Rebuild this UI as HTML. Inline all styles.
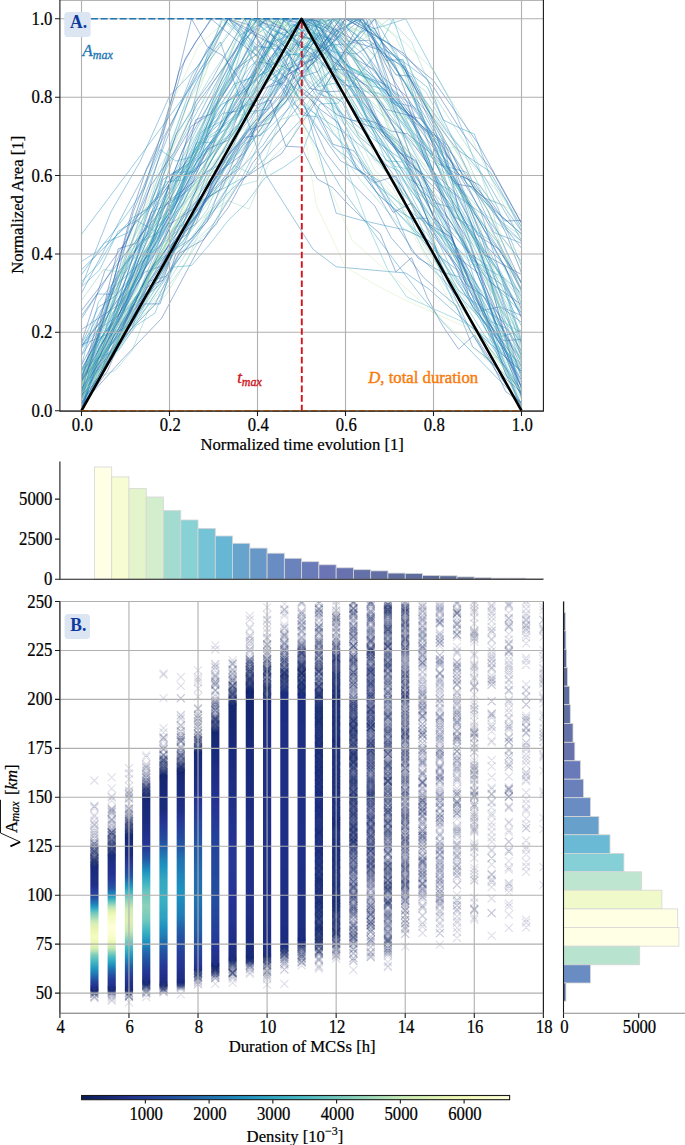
<!DOCTYPE html>
<html><head><meta charset="utf-8"><style>
html,body{margin:0;padding:0;background:#fff;}
body{width:685px;height:1145px;overflow:hidden;}
svg{display:block;font-family:"Liberation Serif", serif;}
text[fill="#000"],text:not([fill]){stroke:#000;stroke-width:0.22px;}
</style></head><body>
<svg width="685" height="1145" viewBox="0 0 685 1145">
<rect width="685" height="1145" fill="#fff"/>
<clipPath id="clipA"><rect x="59.9" y="-0.8" width="483.50" height="411.90"/></clipPath>
<g fill="none" stroke-width="0.55" stroke-opacity="0.8" stroke-linejoin="round" clip-path="url(#clipA)"><path d="M81.5 344.8L118.2 329.9L154.8 262.7L191.5 238.5L228.2 192.5L264.8 159.0L301.5 119.0L338.2 67.2L374.8 18.8L411.5 80.6L448.2 133.5L484.8 177.3L521.5 240.3" stroke="#1f7db6"/><path d="M81.5 410.2L118.2 303.4L154.8 187.2L191.5 85.8L228.2 18.8L264.8 66.8L301.5 99.4L338.2 139.1L374.8 190.6L411.5 226.2L448.2 264.9L484.8 318.7L521.5 367.1" stroke="#2da2c2"/><path d="M81.5 379.5L102.5 335.9L123.4 307.6L144.4 251.1L165.3 218.9L186.3 184.7L207.2 152.1L228.2 114.4L249.1 103.1L270.1 57.7L291.0 32.4L312.0 18.8L332.9 33.0L353.9 58.0L374.8 70.1L395.8 102.3L416.7 121.0L437.7 140.7L458.6 174.3L479.6 185.2L500.5 215.1L521.5 234.1" stroke="#2260a9"/><path d="M81.5 382.6L125.5 255.6L169.5 162.1L213.5 81.5L257.5 18.8L301.5 45.9L345.5 119.5L389.5 162.6L433.5 220.3L477.5 313.3L521.5 373.6" stroke="#2fa4c2"/><path d="M81.5 355.5L118.2 299.2L154.8 245.0L191.5 174.1L228.2 118.0L264.8 65.2L301.5 18.8L338.2 36.7L374.8 72.1L411.5 118.1L448.2 167.8L484.8 230.7L521.5 282.0" stroke="#2259a6"/><path d="M81.5 404.9L121.5 360.2L161.5 318.5L201.5 243.2L241.5 179.6L281.5 153.7L321.5 93.7L361.5 18.8L401.5 63.9L441.5 134.8L481.5 237.7L521.5 357.6" stroke="#2258a5"/><path d="M81.5 378.6L118.2 334.3L154.8 267.0L191.5 208.8L228.2 141.8L264.8 83.1L301.5 18.8L338.2 65.0L374.8 107.9L411.5 143.7L448.2 175.7L484.8 214.2L521.5 241.4" stroke="#5bc0c0"/><path d="M81.5 394.4L109.0 354.0L136.5 319.3L164.0 274.2L191.5 204.1L219.0 167.5L246.5 109.7L274.0 56.6L301.5 18.8L329.0 48.3L356.5 87.8L384.0 130.3L411.5 176.1L439.0 226.4L466.5 275.6L494.0 340.2L521.5 379.9" stroke="#2b9fc2"/><path d="M81.5 397.1L121.5 327.2L161.5 253.2L201.5 188.0L241.5 116.9L281.5 62.8L321.5 18.8L361.5 48.9L401.5 68.0L441.5 134.7L481.5 199.0L521.5 269.6" stroke="#cfecb3"/><path d="M81.5 402.3L103.5 358.6L125.5 296.2L147.5 259.6L169.5 183.0L191.5 166.6L213.5 107.6L235.5 69.1L257.5 53.8L279.5 18.8L301.5 23.7L323.5 46.7L345.5 69.5L367.5 86.4L389.5 117.5L411.5 141.5L433.5 172.1L455.5 193.1L477.5 235.1L499.5 249.4L521.5 290.5" stroke="#2350a1"/><path d="M81.5 365.3L100.6 328.1L119.8 314.2L138.9 258.8L158.0 236.4L177.2 201.6L196.3 177.5L215.4 148.3L234.5 115.1L253.7 73.4L272.8 41.7L291.9 34.8L311.1 18.8L330.2 37.8L349.3 76.1L368.5 86.3L387.6 114.6L406.7 155.3L425.8 184.2L445.0 218.7L464.1 269.5L483.2 314.6L502.4 344.9L521.5 387.2" stroke="#225da8"/><path d="M81.5 377.5L97.2 342.1L112.9 322.4L128.6 281.1L144.4 238.9L160.1 219.0L175.8 201.4L191.5 161.6L207.2 127.6L222.9 107.9L238.6 89.6L254.4 46.6L270.1 47.9L285.8 18.8L301.5 53.7L317.2 93.0L332.9 99.5L348.6 133.3L364.4 171.7L380.1 181.3L395.8 214.5L411.5 251.0L427.2 264.1L442.9 279.1L458.6 298.8L474.4 325.5L490.1 348.9L505.8 367.5L521.5 395.4" stroke="#1f7ab5"/><path d="M81.5 399.7L99.8 364.3L118.2 319.3L136.5 287.8L154.8 243.9L173.2 216.1L191.5 173.4L209.8 156.5L228.2 100.4L246.5 87.4L264.8 70.5L283.2 36.3L301.5 18.8L319.8 27.5L338.2 52.1L356.5 53.9L374.8 42.5L393.2 102.1L411.5 106.3L429.8 130.7L448.2 145.9L466.5 183.3L484.8 198.2L503.2 205.3L521.5 231.2" stroke="#1f80b8"/><path d="M81.5 391.7L102.5 366.4L123.4 333.3L144.4 313.9L165.3 295.8L186.3 261.7L207.2 214.8L228.2 200.5L249.1 209.2L270.1 159.9L291.0 139.5L312.0 99.5L332.9 78.8L353.9 32.4L374.8 18.8L395.8 37.1L416.7 82.0L437.7 129.9L458.6 177.8L479.6 225.0L500.5 290.7L521.5 360.7" stroke="#97d6b9"/><path d="M81.5 269.7L121.5 230.8L161.5 194.7L201.5 140.8L241.5 102.8L281.5 59.9L321.5 18.8L361.5 58.4L401.5 117.0L441.5 189.9L481.5 283.7L521.5 394.5" stroke="#216bae"/><path d="M81.5 348.5L105.9 320.1L130.4 259.3L154.8 222.2L179.3 169.5L203.7 121.3L228.2 76.5L252.6 18.8L277.1 40.2L301.5 59.6L325.9 89.9L350.4 128.6L374.8 159.7L399.3 171.3L423.7 219.7L448.2 243.4L472.6 282.4L497.1 325.1L521.5 361.6" stroke="#299dc1"/><path d="M81.5 410.7L97.2 361.7L112.9 341.9L128.6 305.4L144.4 285.4L160.1 250.3L175.8 212.3L191.5 195.4L207.2 167.6L222.9 141.3L238.6 124.4L254.4 87.2L270.1 68.1L285.8 48.6L301.5 18.8L317.2 35.4L332.9 43.8L348.6 68.6L364.4 91.4L380.1 93.3L395.8 116.9L411.5 134.3L427.2 160.2L442.9 186.9L458.6 210.2L474.4 230.0L490.1 240.6L505.8 269.1L521.5 304.4" stroke="#2da2c2"/><path d="M81.5 372.5L118.2 321.4L154.8 237.3L191.5 163.6L228.2 135.7L264.8 51.3L301.5 18.8L338.2 73.4L374.8 123.3L411.5 187.8L448.2 218.2L484.8 279.8L521.5 345.5" stroke="#32a6c2"/><path d="M81.5 392.1L102.5 317.8L123.4 265.7L144.4 205.0L165.3 136.9L186.3 92.6L207.2 49.2L228.2 18.8L249.1 24.8L270.1 58.7L291.0 84.7L312.0 100.4L332.9 144.2L353.9 150.8L374.8 182.6L395.8 175.9L416.7 213.4L437.7 241.6L458.6 267.7L479.6 311.1L500.5 306.7L521.5 322.3" stroke="#2259a6"/><path d="M81.5 390.0L101.5 349.9L121.5 300.1L141.5 277.9L161.5 221.7L181.5 171.6L201.5 149.9L221.5 89.5L241.5 61.2L261.5 18.8L281.5 26.2L301.5 46.2L321.5 51.7L341.5 84.5L361.5 88.3L381.5 129.4L401.5 148.1L421.5 186.6L441.5 216.8L461.5 238.4L481.5 283.3L501.5 327.0L521.5 374.6" stroke="#2072b1"/><path d="M81.5 398.7L98.4 368.0L115.3 346.3L132.3 303.4L149.2 273.4L166.1 249.8L183.0 214.0L200.0 197.9L216.9 169.6L233.8 138.7L250.7 118.1L267.7 87.2L284.6 82.4L301.5 38.6L318.4 39.2L335.3 18.8L352.3 40.8L369.2 40.3L386.1 55.0L403.0 80.2L420.0 108.3L436.9 157.1L453.8 180.6L470.7 209.8L487.7 247.5L504.6 264.9L521.5 309.6" stroke="#2356a4"/><path d="M81.5 318.7L97.2 293.9L112.9 294.3L128.6 266.8L144.4 239.9L160.1 231.9L175.8 203.8L191.5 169.2L207.2 147.0L222.9 125.6L238.6 112.6L254.4 92.5L270.1 58.7L285.8 47.7L301.5 18.8L317.2 20.7L332.9 49.5L348.6 66.2L364.4 75.8L380.1 85.6L395.8 101.8L411.5 119.9L427.2 131.9L442.9 166.0L458.6 175.2L474.4 182.1L490.1 207.3L505.8 226.7L521.5 241.4" stroke="#2076b3"/><path d="M81.5 380.2L101.5 361.0L121.5 321.7L141.5 295.6L161.5 247.4L181.5 230.1L201.5 173.8L221.5 144.0L241.5 128.3L261.5 63.0L281.5 18.8L301.5 38.1L321.5 41.1L341.5 86.6L361.5 92.8L381.5 135.1L401.5 144.0L421.5 192.4L441.5 229.8L461.5 235.0L481.5 251.0L501.5 309.3L521.5 331.3" stroke="#bde5b5"/><path d="M81.5 398.8L121.5 336.4L161.5 236.2L201.5 163.7L241.5 124.7L281.5 45.0L321.5 18.8L361.5 67.1L401.5 98.5L441.5 154.9L481.5 199.2L521.5 233.8" stroke="#1e8bbd"/><path d="M81.5 381.5L110.8 328.2L140.2 293.1L169.5 224.4L198.8 205.0L228.2 156.4L257.5 117.9L286.8 69.0L316.2 57.9L345.5 18.8L374.8 34.8L404.2 53.8L433.5 86.9L462.8 133.3L492.2 170.6L521.5 223.7" stroke="#2352a3"/><path d="M81.5 410.7L115.3 342.3L149.2 270.9L183.0 241.7L216.9 181.3L250.7 121.8L284.6 61.7L318.4 18.8L352.3 91.0L386.1 149.3L420.0 223.7L453.8 302.9L487.7 360.0L521.5 388.6" stroke="#2296c1"/><path d="M81.5 389.6L99.8 323.3L118.2 292.0L136.5 228.8L154.8 202.2L173.2 142.8L191.5 109.3L209.8 77.5L228.2 49.6L246.5 18.8L264.8 42.0L283.2 39.9L301.5 55.8L319.8 63.7L338.2 99.6L356.5 94.9L374.8 134.9L393.2 166.0L411.5 169.6L429.8 193.8L448.2 237.6L466.5 272.5L484.8 294.7L503.2 331.8L521.5 360.5" stroke="#65c3bf"/><path d="M81.5 392.4L110.8 355.4L140.2 304.9L169.5 240.2L198.8 214.3L228.2 178.4L257.5 120.1L286.8 101.3L316.2 77.6L345.5 33.4L374.8 18.8L404.2 42.0L433.5 70.2L462.8 120.2L492.2 180.7L521.5 241.6" stroke="#a9ddb7"/><path d="M81.5 379.6L102.5 359.2L123.4 337.6L144.4 289.3L165.3 255.8L186.3 222.3L207.2 199.6L228.2 160.1L249.1 129.6L270.1 122.6L291.0 74.3L312.0 59.7L332.9 42.6L353.9 18.8L374.8 28.8L395.8 66.5L416.7 121.9L437.7 138.4L458.6 173.8L479.6 208.2L500.5 245.9L521.5 289.2" stroke="#234fa1"/><path d="M81.5 315.8L99.1 291.3L116.7 261.0L134.3 223.1L151.9 205.5L169.5 180.5L187.1 162.0L204.7 139.0L222.3 113.4L239.9 110.8L257.5 61.8L275.1 64.7L292.7 46.7L310.3 18.8L327.9 18.8L345.5 56.8L363.1 92.9L380.7 129.8L398.3 141.8L415.9 159.2L433.5 202.5L451.1 207.6L468.7 253.2L486.3 273.5L503.9 286.1L521.5 313.4" stroke="#2070b0"/><path d="M81.5 345.8L99.8 322.1L118.2 248.8L136.5 243.1L154.8 212.9L173.2 158.1L191.5 126.2L209.8 114.3L228.2 86.3L246.5 53.0L264.8 18.8L283.2 57.6L301.5 90.0L319.8 109.0L338.2 122.6L356.5 168.2L374.8 182.0L393.2 212.4L411.5 203.1L429.8 226.9L448.2 254.9L466.5 284.3L484.8 297.3L503.2 340.6L521.5 339.4" stroke="#234fa1"/><path d="M81.5 286.5L110.8 212.2L140.2 161.4L169.5 96.1L198.8 65.1L228.2 18.8L257.5 45.7L286.8 51.0L316.2 95.8L345.5 133.4L374.8 157.3L404.2 194.8L433.5 230.3L462.8 274.6L492.2 306.1L521.5 342.3" stroke="#1e83ba"/><path d="M81.5 384.6L125.5 307.8L169.5 204.1L213.5 99.2L257.5 18.8L301.5 52.5L345.5 96.6L389.5 149.4L433.5 225.2L477.5 293.2L521.5 367.8" stroke="#a9ddb7"/><path d="M81.5 388.7L107.4 308.9L133.3 248.9L159.1 166.9L185.0 128.2L210.9 58.6L236.8 18.8L262.7 18.8L288.6 25.9L314.4 46.5L340.3 66.2L366.2 89.2L392.1 103.8L418.0 147.1L443.9 167.7L469.7 206.4L495.6 239.4L521.5 282.2" stroke="#a7dcb7"/><path d="M81.5 341.0L121.5 304.5L161.5 231.4L201.5 179.3L241.5 99.1L281.5 18.8L321.5 56.8L361.5 92.2L401.5 129.9L441.5 192.4L481.5 254.5L521.5 308.2" stroke="#87d0ba"/><path d="M81.5 365.0L98.4 302.3L115.3 279.9L132.3 255.5L149.2 228.3L166.1 178.8L183.0 166.5L200.0 137.8L216.9 97.7L233.8 73.9L250.7 18.8L267.7 32.0L284.6 42.8L301.5 58.2L318.4 86.7L335.3 83.0L352.3 120.3L369.2 121.5L386.1 160.8L403.0 162.0L420.0 190.7L436.9 202.0L453.8 226.8L470.7 259.1L487.7 269.2L504.6 278.4L521.5 293.2" stroke="#299dc1"/><path d="M81.5 378.7L97.8 321.4L114.1 279.2L130.4 216.7L146.7 168.5L163.0 132.5L179.3 70.7L195.6 41.9L211.9 18.8L228.2 18.8L244.5 29.2L260.8 38.3L277.1 45.6L293.4 60.3L309.6 88.3L325.9 91.8L342.2 91.0L358.5 117.7L374.8 122.4L391.1 131.0L407.4 133.8L423.7 147.0L440.0 162.5L456.3 184.1L472.6 186.9L488.9 202.6L505.2 221.0L521.5 220.4" stroke="#234fa1"/><path d="M81.5 390.4L110.8 342.4L140.2 288.4L169.5 244.3L198.8 159.4L228.2 131.9L257.5 84.8L286.8 38.4L316.2 18.8L345.5 64.6L374.8 123.3L404.2 149.8L433.5 193.5L462.8 223.0L492.2 262.2L521.5 311.4" stroke="#7acbbc"/><path d="M81.5 395.6L101.5 344.7L121.5 299.8L141.5 245.5L161.5 205.4L181.5 171.2L201.5 127.5L221.5 80.1L241.5 45.7L261.5 18.8L281.5 18.8L301.5 34.9L321.5 45.3L341.5 72.3L361.5 87.5L381.5 103.6L401.5 129.9L421.5 165.7L441.5 193.1L461.5 230.8L481.5 284.7L501.5 336.5L521.5 330.4" stroke="#1e8abd"/><path d="M81.5 410.7L112.9 349.0L144.4 303.2L175.8 246.6L207.2 203.8L238.6 132.7L270.1 114.3L301.5 71.4L332.9 18.8L364.4 34.3L395.8 79.9L427.2 105.5L458.6 155.6L490.1 199.0L521.5 215.4" stroke="#bde5b5"/><path d="M81.5 394.3L104.7 371.0L127.8 317.9L151.0 281.5L174.1 244.1L197.3 209.6L220.4 177.0L243.6 137.6L266.8 110.8L289.9 81.3L313.1 63.1L336.2 31.2L359.4 18.8L382.6 55.1L405.7 67.2L428.9 119.3L452.0 163.7L475.2 235.7L498.3 304.9L521.5 378.7" stroke="#2168ad"/><path d="M81.5 392.8L100.6 354.6L119.8 313.2L138.9 272.5L158.0 230.1L177.2 201.4L196.3 142.9L215.4 142.0L234.5 98.3L253.7 72.3L272.8 45.7L291.9 18.8L311.1 18.8L330.2 48.9L349.3 67.1L368.5 75.3L387.6 99.6L406.7 112.0L425.8 146.3L445.0 180.8L464.1 214.7L483.2 240.4L502.4 275.3L521.5 318.3" stroke="#2094c0"/><path d="M81.5 409.6L103.5 360.9L125.5 303.8L147.5 250.3L169.5 208.2L191.5 161.9L213.5 109.7L235.5 76.3L257.5 52.8L279.5 18.8L301.5 30.1L323.5 35.2L345.5 64.3L367.5 77.8L389.5 96.5L411.5 132.2L433.5 173.9L455.5 208.4L477.5 242.3L499.5 282.8L521.5 326.3" stroke="#2ca1c2"/><path d="M81.5 383.5L112.9 313.1L144.4 247.0L175.8 182.6L207.2 137.4L238.6 116.2L270.1 49.7L301.5 18.8L332.9 30.1L364.4 71.4L395.8 100.3L427.2 160.0L458.6 216.4L490.1 280.0L521.5 364.3" stroke="#2b9fc2"/><path d="M81.5 398.5L118.2 339.5L154.8 290.5L191.5 227.6L228.2 194.7L264.8 126.7L301.5 85.4L338.2 18.8L374.8 96.4L411.5 174.0L448.2 245.6L484.8 312.6L521.5 366.9" stroke="#9cd8b8"/><path d="M81.5 384.6L99.1 326.5L116.7 291.7L134.3 233.2L151.9 189.5L169.5 159.8L187.1 105.0L204.7 74.9L222.3 26.7L239.9 18.8L257.5 25.2L275.1 66.0L292.7 66.4L310.3 100.3L327.9 122.9L345.5 141.9L363.1 163.1L380.7 180.8L398.3 200.1L415.9 240.2L433.5 270.2L451.1 304.7L468.7 307.3L486.3 319.7L503.9 345.3L521.5 369.9" stroke="#cdebb4"/><path d="M81.5 404.3L97.8 367.0L114.1 324.6L130.4 291.4L146.7 254.7L163.0 210.5L179.3 183.2L195.6 119.8L211.9 113.6L228.2 87.1L244.5 60.4L260.8 43.0L277.1 18.8L293.4 38.7L309.6 54.4L325.9 92.1L342.2 101.9L358.5 136.0L374.8 150.0L391.1 171.3L407.4 195.2L423.7 221.1L440.0 256.7L456.3 269.2L472.6 307.0L488.9 326.8L505.2 350.6L521.5 386.4" stroke="#225ca7"/><path d="M81.5 395.6L110.8 315.0L140.2 199.4L169.5 108.5L198.8 45.1L228.2 18.8L257.5 29.2L286.8 46.7L316.2 71.5L345.5 112.8L374.8 161.5L404.2 189.0L433.5 237.8L462.8 306.1L492.2 353.0L521.5 406.2" stroke="#bbe4b5"/><path d="M81.5 377.2L102.5 326.3L123.4 299.4L144.4 257.1L165.3 204.0L186.3 166.0L207.2 139.7L228.2 103.5L249.1 86.3L270.1 48.5L291.0 39.2L312.0 18.8L332.9 62.0L353.9 104.2L374.8 156.7L395.8 183.2L416.7 210.4L437.7 250.6L458.6 290.0L479.6 319.2L500.5 353.0L521.5 387.4" stroke="#a0dab8"/><path d="M81.5 410.7L112.9 304.9L144.4 243.5L175.8 171.2L207.2 108.2L238.6 35.7L270.1 18.8L301.5 81.1L332.9 132.2L364.4 168.1L395.8 206.2L427.2 233.5L458.6 290.8L490.1 313.4L521.5 332.9" stroke="#2a9ec1"/><path d="M81.5 281.8L98.4 264.2L115.3 236.8L132.3 217.8L149.2 207.9L166.1 181.8L183.0 180.0L200.0 133.6L216.9 119.8L233.8 89.4L250.7 66.0L267.7 52.3L284.6 18.8L301.5 30.3L318.4 48.9L335.3 44.2L352.3 56.7L369.2 85.1L386.1 90.0L403.0 118.2L420.0 140.3L436.9 178.3L453.8 216.5L470.7 226.2L487.7 261.4L504.6 303.3L521.5 343.6" stroke="#2195c0"/><path d="M81.5 409.5L115.3 343.6L149.2 273.3L183.0 224.3L216.9 135.2L250.7 75.8L284.6 18.8L318.4 18.8L352.3 58.1L386.1 109.4L420.0 118.5L453.8 156.2L487.7 210.2L521.5 283.7" stroke="#225aa6"/><path d="M81.5 347.4L104.7 316.1L127.8 287.5L151.0 212.6L174.1 200.6L197.3 149.6L220.4 105.2L243.6 92.4L266.8 69.6L289.9 25.8L313.1 18.8L336.2 72.2L359.4 111.4L382.6 145.0L405.7 172.4L428.9 221.9L452.0 252.2L475.2 281.7L498.3 322.9L521.5 359.2" stroke="#1f7ab5"/><path d="M81.5 380.3L107.4 346.2L133.3 306.3L159.1 285.3L185.0 250.5L210.9 216.4L236.8 171.9L262.7 145.6L288.6 107.9L314.4 55.9L340.3 18.8L366.2 54.0L392.1 101.8L418.0 121.2L443.9 153.1L469.7 181.7L495.6 215.6L521.5 248.2" stroke="#216daf"/><path d="M81.5 378.4L109.0 334.1L136.5 290.2L164.0 216.5L191.5 169.3L219.0 131.9L246.5 86.0L274.0 18.8L301.5 41.6L329.0 55.0L356.5 71.5L384.0 92.7L411.5 139.8L439.0 158.8L466.5 196.9L494.0 249.0L521.5 299.8" stroke="#59bfc0"/><path d="M81.5 286.9L99.8 269.7L118.2 231.2L136.5 220.5L154.8 231.0L173.2 172.4L191.5 171.8L209.8 137.3L228.2 128.5L246.5 102.9L264.8 80.6L283.2 66.1L301.5 58.2L319.8 21.2L338.2 18.8L356.5 35.8L374.8 56.1L393.2 98.8L411.5 114.0L429.8 167.8L448.2 209.1L466.5 254.3L484.8 312.6L503.2 364.5L521.5 404.1" stroke="#2498c1"/><path d="M81.5 394.8L97.8 381.2L114.1 334.1L130.4 324.2L146.7 287.1L163.0 280.2L179.3 235.1L195.6 224.1L211.9 184.1L228.2 154.8L244.5 137.3L260.8 135.4L277.1 112.2L293.4 91.3L309.6 58.8L325.9 43.7L342.2 29.3L358.5 18.8L374.8 42.0L391.1 75.3L407.4 102.8L423.7 156.1L440.0 193.3L456.3 251.7L472.6 288.6L488.9 325.6L505.2 372.9L521.5 404.5" stroke="#234fa1"/><path d="M81.5 395.3L100.6 365.8L119.8 335.2L138.9 301.7L158.0 278.4L177.2 248.3L196.3 205.6L215.4 192.9L234.5 157.8L253.7 137.1L272.8 115.0L291.9 89.4L311.1 68.0L330.2 38.0L349.3 18.8L368.5 35.8L387.6 41.5L406.7 76.5L425.8 91.6L445.0 127.2L464.1 152.1L483.2 196.3L502.4 222.8L521.5 235.8" stroke="#6bc6be"/><path d="M81.5 397.4L121.5 347.0L161.5 283.4L201.5 222.4L241.5 157.1L281.5 100.2L321.5 18.8L361.5 67.2L401.5 142.0L441.5 202.0L481.5 270.0L521.5 347.4" stroke="#90d4b9"/><path d="M81.5 393.2L99.1 357.6L116.7 328.2L134.3 285.5L151.9 252.5L169.5 219.4L187.1 174.9L204.7 161.3L222.3 124.9L239.9 97.3L257.5 77.4L275.1 62.4L292.7 26.6L310.3 18.8L327.9 57.2L345.5 91.2L363.1 123.4L380.7 162.6L398.3 182.9L415.9 230.9L433.5 245.1L451.1 286.9L468.7 305.9L486.3 325.2L503.9 361.8L521.5 391.8" stroke="#1f93c0"/><path d="M81.5 408.9L100.6 349.5L119.8 323.4L138.9 267.0L158.0 241.0L177.2 176.4L196.3 171.3L215.4 112.0L234.5 83.7L253.7 76.9L272.8 38.7L291.9 18.8L311.1 25.3L330.2 71.7L349.3 87.3L368.5 120.9L387.6 149.4L406.7 177.6L425.8 189.1L445.0 237.9L464.1 276.4L483.2 313.7L502.4 342.4L521.5 380.5" stroke="#1e83ba"/><path d="M81.5 375.7L107.4 326.3L133.3 272.5L159.1 232.0L185.0 179.7L210.9 130.3L236.8 83.0L262.7 18.8L288.6 19.0L314.4 44.0L340.3 54.0L366.2 115.4L392.1 142.5L418.0 163.9L443.9 219.6L469.7 280.7L495.6 328.4L521.5 383.4" stroke="#1d8dbe"/><path d="M81.5 409.3L98.4 377.4L115.3 370.4L132.3 350.2L149.2 308.0L166.1 289.1L183.0 266.2L200.0 239.3L216.9 224.2L233.8 165.5L250.7 173.5L267.7 142.5L284.6 124.1L301.5 87.4L318.4 41.0L335.3 18.8L352.3 50.8L369.2 89.7L386.1 97.3L403.0 137.6L420.0 174.9L436.9 181.9L453.8 215.5L470.7 230.4L487.7 257.3L504.6 278.8L521.5 302.1" stroke="#6dc6be"/><path d="M81.5 385.7L99.1 337.7L116.7 274.0L134.3 253.2L151.9 211.3L169.5 183.4L187.1 139.6L204.7 104.4L222.3 71.5L239.9 41.8L257.5 18.8L275.1 31.2L292.7 37.6L310.3 48.6L327.9 68.6L345.5 70.0L363.1 102.5L380.7 123.3L398.3 152.1L415.9 160.5L433.5 202.1L451.1 232.1L468.7 252.4L486.3 265.4L503.9 308.1L521.5 315.5" stroke="#216daf"/><path d="M81.5 391.8L97.2 353.4L112.9 323.8L128.6 278.0L144.4 235.1L160.1 185.7L175.8 134.8L191.5 111.2L207.2 55.0L222.9 18.8L238.6 32.2L254.4 63.0L270.1 79.0L285.8 86.2L301.5 114.9L317.2 116.9L332.9 146.5L348.6 158.4L364.4 177.0L380.1 196.3L395.8 209.5L411.5 218.5L427.2 218.2L442.9 272.3L458.6 276.6L474.4 297.8L490.1 321.2L505.8 328.0L521.5 355.1" stroke="#1f80b8"/><path d="M81.5 374.8L98.4 339.1L115.3 308.8L132.3 259.9L149.2 247.2L166.1 197.1L183.0 172.4L200.0 148.7L216.9 111.8L233.8 85.8L250.7 50.5L267.7 48.3L284.6 18.8L301.5 37.3L318.4 37.3L335.3 79.6L352.3 81.1L369.2 126.6L386.1 130.4L403.0 157.1L420.0 175.8L436.9 208.8L453.8 243.7L470.7 264.7L487.7 265.0L504.6 299.7L521.5 334.6" stroke="#6dc6be"/><path d="M81.5 386.4L103.5 320.7L125.5 253.8L147.5 238.6L169.5 166.1L191.5 115.0L213.5 91.4L235.5 39.7L257.5 18.8L279.5 22.6L301.5 46.4L323.5 52.0L345.5 76.3L367.5 82.3L389.5 103.5L411.5 126.1L433.5 153.6L455.5 146.4L477.5 170.8L499.5 192.9L521.5 226.9" stroke="#a9ddb7"/><path d="M81.5 370.0L103.5 328.1L125.5 262.3L147.5 223.1L169.5 186.8L191.5 157.9L213.5 111.2L235.5 71.4L257.5 33.6L279.5 18.8L301.5 18.8L323.5 43.7L345.5 74.3L367.5 120.1L389.5 138.8L411.5 178.3L433.5 207.4L455.5 247.5L477.5 286.0L499.5 349.0L521.5 410.7" stroke="#2397c1"/><path d="M81.5 388.3L98.4 364.0L115.3 337.5L132.3 305.5L149.2 290.0L166.1 262.6L183.0 230.2L200.0 211.4L216.9 172.6L233.8 144.7L250.7 106.4L267.7 82.2L284.6 67.9L301.5 18.8L318.4 21.1L335.3 68.7L352.3 82.0L369.2 99.9L386.1 137.9L403.0 159.1L420.0 183.0L436.9 225.1L453.8 242.5L470.7 273.7L487.7 321.3L504.6 344.1L521.5 369.7" stroke="#2073b2"/><path d="M81.5 409.0L105.9 340.5L130.4 283.6L154.8 231.6L179.3 193.5L203.7 135.5L228.2 82.0L252.6 50.2L277.1 18.8L301.5 49.8L325.9 100.5L350.4 132.7L374.8 178.5L399.3 203.9L423.7 250.6L448.2 291.0L472.6 322.7L497.1 359.1L521.5 391.0" stroke="#69c5be"/><path d="M81.5 382.7L105.9 340.1L130.4 280.3L154.8 222.0L179.3 177.2L203.7 142.0L228.2 72.5L252.6 18.8L277.1 18.8L301.5 50.0L325.9 35.9L350.4 69.5L374.8 82.7L399.3 119.2L423.7 144.3L448.2 168.1L472.6 212.2L497.1 241.6L521.5 291.9" stroke="#2da2c2"/><path d="M81.5 410.7L115.3 346.1L149.2 271.5L183.0 215.7L216.9 149.9L250.7 84.0L284.6 18.8L318.4 27.1L352.3 72.2L386.1 84.6L420.0 112.0L453.8 175.8L487.7 231.9L521.5 283.5" stroke="#1f7db6"/><path d="M81.5 329.6L121.5 302.9L161.5 244.4L201.5 195.7L241.5 144.6L281.5 101.0L321.5 51.9L361.5 18.8L401.5 64.5L441.5 133.4L481.5 213.6L521.5 342.8" stroke="#2073b2"/><path d="M81.5 386.6L99.8 360.2L118.2 308.9L136.5 271.0L154.8 230.4L173.2 180.8L191.5 141.8L209.8 113.8L228.2 57.4L246.5 18.8L264.8 22.2L283.2 24.8L301.5 64.3L319.8 86.8L338.2 114.5L356.5 133.1L374.8 170.4L393.2 188.1L411.5 224.5L429.8 254.9L448.2 280.1L466.5 312.3L484.8 358.0L503.2 357.1L521.5 406.4" stroke="#a0dab8"/><path d="M81.5 274.7L104.7 242.7L127.8 232.9L151.0 204.2L174.1 174.4L197.3 157.1L220.4 133.7L243.6 107.2L266.8 96.7L289.9 54.1L313.1 56.6L336.2 31.0L359.4 18.8L382.6 51.1L405.7 83.3L428.9 131.1L452.0 185.9L475.2 257.8L498.3 335.9L521.5 398.1" stroke="#2094c0"/><path d="M81.5 390.7L115.3 338.6L149.2 275.8L183.0 197.3L216.9 107.8L250.7 18.8L284.6 36.0L318.4 57.7L352.3 107.1L386.1 153.1L420.0 203.0L453.8 274.3L487.7 333.1L521.5 408.1" stroke="#2397c1"/><path d="M81.5 380.5L121.5 331.9L161.5 273.6L201.5 200.6L241.5 178.6L281.5 99.5L321.5 18.8L361.5 52.8L401.5 105.5L441.5 173.2L481.5 255.9L521.5 353.6" stroke="#289cc1"/><path d="M81.5 404.6L105.9 364.3L130.4 329.9L154.8 304.9L179.3 253.3L203.7 239.5L228.2 207.6L252.6 163.0L277.1 132.8L301.5 102.2L325.9 76.3L350.4 43.7L374.8 18.8L399.3 99.2L423.7 131.0L448.2 194.1L472.6 232.9L497.1 268.3L521.5 316.7" stroke="#2355a4"/><path d="M81.5 380.7L115.3 319.0L149.2 234.8L183.0 149.6L216.9 90.1L250.7 18.8L284.6 29.4L318.4 61.1L352.3 89.2L386.1 137.4L420.0 172.4L453.8 226.8L487.7 280.4L521.5 304.7" stroke="#225ea8"/><path d="M81.5 380.6L109.0 345.5L136.5 295.8L164.0 262.8L191.5 197.8L219.0 157.7L246.5 120.2L274.0 92.6L301.5 53.4L329.0 18.8L356.5 59.7L384.0 88.9L411.5 122.3L439.0 164.4L466.5 172.3L494.0 232.6L521.5 243.2" stroke="#1f80b8"/><path d="M81.5 391.8L101.5 343.9L121.5 275.5L141.5 227.7L161.5 173.5L181.5 113.5L201.5 77.1L221.5 18.8L241.5 38.4L261.5 61.6L281.5 76.0L301.5 101.8L321.5 132.7L341.5 154.8L361.5 181.4L381.5 204.4L401.5 227.3L421.5 237.7L441.5 271.6L461.5 292.6L481.5 310.2L501.5 337.8L521.5 357.3" stroke="#78cbbc"/><path d="M81.5 378.9L107.4 301.4L133.3 211.8L159.1 148.2L185.0 59.0L210.9 18.8L236.8 40.4L262.7 60.4L288.6 79.6L314.4 123.9L340.3 160.7L366.2 174.8L392.1 218.6L418.0 258.1L443.9 273.4L469.7 329.3L495.6 370.5L521.5 405.8" stroke="#2166ac"/><path d="M81.5 396.4L102.5 350.7L123.4 312.6L144.4 268.8L165.3 236.5L186.3 197.0L207.2 149.1L228.2 140.3L249.1 87.7L270.1 34.1L291.0 51.7L312.0 18.8L332.9 61.5L353.9 74.4L374.8 95.9L395.8 130.2L416.7 184.6L437.7 222.1L458.6 257.8L479.6 274.1L500.5 318.8L521.5 350.8" stroke="#234da0"/><path d="M81.5 410.7L99.1 346.7L116.7 323.8L134.3 282.9L151.9 249.8L169.5 214.1L187.1 178.3L204.7 149.6L222.3 127.8L239.9 84.2L257.5 72.4L275.1 34.7L292.7 30.3L310.3 18.8L327.9 37.2L345.5 59.4L363.1 102.7L380.7 125.9L398.3 140.7L415.9 191.8L433.5 221.4L451.1 243.9L468.7 287.5L486.3 330.4L503.9 356.1L521.5 371.3" stroke="#1d8ebf"/><path d="M81.5 310.6L125.5 253.5L169.5 200.6L213.5 166.5L257.5 92.6L301.5 66.4L345.5 18.8L389.5 44.0L433.5 80.6L477.5 142.7L521.5 222.9" stroke="#2258a5"/><path d="M81.5 409.0L99.1 378.5L116.7 336.2L134.3 303.1L151.9 267.2L169.5 245.7L187.1 234.4L204.7 199.6L222.3 187.9L239.9 145.1L257.5 124.5L275.1 110.1L292.7 84.3L310.3 65.5L327.9 50.7L345.5 18.8L363.1 18.8L380.7 74.2L398.3 120.3L415.9 171.9L433.5 217.6L451.1 235.1L468.7 295.2L486.3 325.6L503.9 366.0L521.5 395.0" stroke="#2259a6"/><path d="M81.5 300.4L103.5 269.5L125.5 272.8L147.5 227.0L169.5 213.8L191.5 189.3L213.5 148.1L235.5 115.6L257.5 112.6L279.5 82.9L301.5 51.6L323.5 18.8L345.5 66.4L367.5 75.6L389.5 131.7L411.5 182.6L433.5 227.4L455.5 247.0L477.5 292.3L499.5 361.0L521.5 399.2" stroke="#6fc7bd"/><path d="M81.5 344.4L98.4 307.2L115.3 296.0L132.3 276.3L149.2 247.0L166.1 203.3L183.0 194.7L200.0 179.2L216.9 151.7L233.8 128.6L250.7 111.5L267.7 109.1L284.6 72.7L301.5 60.0L318.4 35.2L335.3 40.4L352.3 18.8L369.2 31.5L386.1 60.3L403.0 59.6L420.0 107.6L436.9 137.7L453.8 185.4L470.7 222.5L487.7 275.2L504.6 332.4L521.5 397.5" stroke="#1f7eb7"/><path d="M81.5 410.7L118.2 301.0L154.8 193.0L191.5 92.3L228.2 18.8L264.8 37.4L301.5 88.1L338.2 115.4L374.8 127.9L411.5 164.6L448.2 201.4L484.8 255.0L521.5 274.5" stroke="#2258a5"/><path d="M81.5 403.4L104.7 365.2L127.8 329.6L151.0 290.6L174.1 249.4L197.3 214.2L220.4 170.7L243.6 153.6L266.8 101.4L289.9 61.2L313.1 18.8L336.2 30.0L359.4 43.3L382.6 77.2L405.7 95.4L428.9 128.9L452.0 175.0L475.2 214.2L498.3 254.9L521.5 296.9" stroke="#225da8"/><path d="M81.5 380.0L102.5 354.8L123.4 315.4L144.4 285.3L165.3 245.2L186.3 201.0L207.2 168.2L228.2 147.9L249.1 99.1L270.1 78.7L291.0 63.9L312.0 25.0L332.9 18.8L353.9 30.8L374.8 69.3L395.8 92.4L416.7 143.9L437.7 163.3L458.6 218.7L479.6 244.8L500.5 310.8L521.5 333.3" stroke="#80cebb"/><path d="M81.5 407.8L97.2 381.4L112.9 356.5L128.6 328.8L144.4 303.9L160.1 303.9L175.8 254.1L191.5 238.2L207.2 221.5L222.9 180.9L238.6 168.6L254.4 132.0L270.1 113.4L285.8 96.8L301.5 59.4L317.2 37.8L332.9 18.8L348.6 41.3L364.4 45.0L380.1 50.2L395.8 74.9L411.5 76.2L427.2 109.3L442.9 131.0L458.6 151.4L474.4 185.8L490.1 203.2L505.8 232.8L521.5 273.1" stroke="#2258a5"/><path d="M81.5 397.5L99.8 369.3L118.2 318.7L136.5 300.3L154.8 271.3L173.2 227.6L191.5 222.8L209.8 173.9L228.2 160.4L246.5 130.8L264.8 104.4L283.2 73.3L301.5 51.4L319.8 30.3L338.2 18.8L356.5 18.8L374.8 32.1L393.2 64.2L411.5 91.9L429.8 133.7L448.2 175.5L466.5 199.4L484.8 245.7L503.2 282.9L521.5 353.1" stroke="#65c3bf"/><path d="M81.5 393.0L104.7 353.4L127.8 324.3L151.0 274.0L174.1 240.9L197.3 216.0L220.4 173.2L243.6 144.4L266.8 130.3L289.9 107.5L313.1 85.0L336.2 65.7L359.4 32.1L382.6 26.3L405.7 18.8L428.9 62.4L452.0 103.6L475.2 162.5L498.3 208.9L521.5 265.9" stroke="#259ac1"/><path d="M81.5 368.6L97.2 342.3L112.9 324.1L128.6 297.4L144.4 272.2L160.1 266.5L175.8 239.0L191.5 217.5L207.2 172.1L222.9 162.5L238.6 140.8L254.4 121.9L270.1 107.8L285.8 90.4L301.5 58.0L317.2 51.0L332.9 18.8L348.6 18.8L364.4 26.7L380.1 46.4L395.8 67.8L411.5 94.2L427.2 112.7L442.9 140.7L458.6 209.5L474.4 239.1L490.1 279.9L505.8 341.5L521.5 389.4" stroke="#2070b0"/><path d="M81.5 342.3L104.7 271.2L127.8 238.9L151.0 185.3L174.1 152.2L197.3 103.5L220.4 72.5L243.6 40.2L266.8 18.8L289.9 33.9L313.1 39.4L336.2 59.4L359.4 89.5L382.6 131.4L405.7 159.2L428.9 224.0L452.0 237.7L475.2 293.4L498.3 341.2L521.5 387.1" stroke="#234da0"/><path d="M81.5 261.4L97.2 251.6L112.9 232.6L128.6 211.8L144.4 188.4L160.1 149.6L175.8 161.1L191.5 156.9L207.2 128.5L222.9 120.6L238.6 96.3L254.4 76.6L270.1 70.9L285.8 55.3L301.5 53.4L317.2 24.9L332.9 18.8L348.6 18.8L364.4 20.3L380.1 47.3L395.8 56.0L411.5 67.7L427.2 79.2L442.9 119.8L458.6 127.5L474.4 134.1L490.1 176.2L505.8 200.4L521.5 230.8" stroke="#1f93c0"/><path d="M81.5 399.6L118.2 263.9L154.8 169.7L191.5 75.7L228.2 18.8L264.8 60.1L301.5 74.0L338.2 110.5L374.8 140.0L411.5 166.7L448.2 189.5L484.8 215.9L521.5 261.5" stroke="#1e86bb"/><path d="M81.5 383.9L105.9 339.0L130.4 287.3L154.8 218.8L179.3 183.9L203.7 135.9L228.2 80.7L252.6 35.4L277.1 18.8L301.5 46.8L325.9 70.5L350.4 79.3L374.8 97.9L399.3 143.6L423.7 163.7L448.2 182.9L472.6 203.8L497.1 239.7L521.5 252.7" stroke="#c8e9b4"/><path d="M81.5 354.4L125.5 262.4L169.5 213.4L213.5 99.2L257.5 18.8L301.5 104.6L345.5 133.8L389.5 204.1L433.5 252.3L477.5 324.4L521.5 391.3" stroke="#2b9fc2"/><path d="M81.5 384.9L102.5 366.8L123.4 333.7L144.4 305.2L165.3 260.9L186.3 236.9L207.2 209.8L228.2 159.3L249.1 127.9L270.1 118.4L291.0 95.7L312.0 51.0L332.9 44.0L353.9 18.8L374.8 32.4L395.8 50.6L416.7 108.0L437.7 143.4L458.6 187.5L479.6 253.9L500.5 329.5L521.5 376.8" stroke="#5bc0c0"/><path d="M81.5 407.0L107.4 371.2L133.3 310.7L159.1 281.0L185.0 230.9L210.9 192.9L236.8 163.2L262.7 113.6L288.6 74.4L314.4 57.5L340.3 18.8L366.2 18.8L392.1 89.8L418.0 130.1L443.9 200.9L469.7 243.2L495.6 313.8L521.5 366.7" stroke="#2351a2"/><path d="M81.5 371.3L97.8 337.2L114.1 302.1L130.4 255.7L146.7 235.5L163.0 179.3L179.3 169.1L195.6 102.1L211.9 79.8L228.2 50.2L244.5 18.8L260.8 45.4L277.1 78.4L293.4 103.6L309.6 117.0L325.9 152.9L342.2 173.7L358.5 189.9L374.8 205.9L391.1 237.8L407.4 256.0L423.7 277.6L440.0 292.0L456.3 305.6L472.6 346.7L488.9 359.5L505.2 378.3L521.5 392.2" stroke="#216aad"/><path d="M81.5 409.5L98.4 377.7L115.3 348.1L132.3 327.5L149.2 281.0L166.1 276.3L183.0 246.2L200.0 209.8L216.9 187.9L233.8 170.9L250.7 144.2L267.7 117.8L284.6 103.5L301.5 77.0L318.4 71.3L335.3 44.6L352.3 43.7L369.2 18.8L386.1 50.6L403.0 62.6L420.0 115.7L436.9 150.9L453.8 206.5L470.7 247.7L487.7 298.2L504.6 355.1L521.5 393.8" stroke="#1f7bb6"/><path d="M81.5 347.2L112.9 288.0L144.4 259.2L175.8 232.3L207.2 188.5L238.6 152.0L270.1 101.2L301.5 51.4L332.9 18.8L364.4 40.4L395.8 62.0L427.2 87.1L458.6 150.5L490.1 171.7L521.5 227.0" stroke="#1e85ba"/><path d="M81.5 391.6L97.2 338.7L112.9 291.2L128.6 234.7L144.4 188.8L160.1 137.7L175.8 84.0L191.5 18.8L207.2 46.6L222.9 55.8L238.6 78.1L254.4 106.1L270.1 100.1L285.8 146.2L301.5 147.2L317.2 178.9L332.9 187.7L348.6 204.8L364.4 220.2L380.1 233.6L395.8 271.9L411.5 257.6L427.2 297.4L442.9 326.3L458.6 349.2L474.4 334.8L490.1 359.0L505.8 391.7L521.5 402.8" stroke="#225aa6"/><path d="M81.5 393.5L107.4 367.4L133.3 311.7L159.1 248.0L185.0 211.6L210.9 167.8L236.8 126.5L262.7 77.9L288.6 49.9L314.4 18.8L340.3 30.1L366.2 86.0L392.1 112.4L418.0 122.7L443.9 176.0L469.7 243.2L495.6 298.8L521.5 361.2" stroke="#b2e1b6"/><path d="M81.5 393.9L112.9 325.5L144.4 285.2L175.8 223.4L207.2 178.2L238.6 133.7L270.1 71.0L301.5 47.3L332.9 18.8L364.4 33.2L395.8 74.0L427.2 103.4L458.6 154.7L490.1 215.7L521.5 304.9" stroke="#89d1ba"/><path d="M81.5 399.4L103.5 366.3L125.5 327.4L147.5 307.1L169.5 279.7L191.5 244.7L213.5 223.4L235.5 186.9L257.5 180.6L279.5 119.9L301.5 113.1L323.5 78.0L345.5 55.7L367.5 35.2L389.5 18.8L411.5 42.0L433.5 94.0L455.5 128.3L477.5 162.1L499.5 235.0L521.5 292.4" stroke="#7acbbc"/><path d="M81.5 369.3L99.8 356.7L118.2 350.3L136.5 325.3L154.8 313.3L173.2 267.2L191.5 265.5L209.8 244.1L228.2 220.4L246.5 202.8L264.8 178.0L283.2 167.5L301.5 154.4L319.8 103.9L338.2 103.2L356.5 77.8L374.8 55.6L393.2 18.8L411.5 72.2L429.8 112.6L448.2 172.7L466.5 203.8L484.8 254.0L503.2 278.5L521.5 340.1" stroke="#289cc1"/><path d="M81.5 293.1L104.7 249.2L127.8 205.3L151.0 161.4L174.1 117.5L197.3 73.6L220.4 41.9L243.6 109.4L266.8 176.3L289.9 212.8L313.1 249.3L336.2 266.8L359.4 268.9L382.6 271.0L405.7 273.0L428.9 289.0L452.0 309.6L475.2 330.3L498.3 350.9L521.5 371.5" stroke="#1f7db6"/><path d="M81.5 391.1L110.8 338.3L140.2 285.5L169.5 232.7L198.8 179.9L228.2 127.1L257.5 74.2L286.8 21.4L316.2 205.0L345.5 267.0L374.8 284.4L404.2 299.7L433.5 312.7L462.8 325.8L492.2 351.9L521.5 391.1" stroke="#cfecb3"/><path d="M81.5 234.3L107.4 199.8L133.3 165.2L159.1 130.6L185.0 95.2L210.9 59.1L236.8 23.1L262.7 56.8L288.6 100.1L314.4 143.3L340.3 186.5L366.2 222.8L392.1 257.4L418.0 292.0L443.9 323.3L469.7 349.8L495.6 376.4L521.5 402.9" stroke="#1e8bbd"/><path d="M81.5 402.9L102.5 371.9L123.4 341.0L144.4 310.1L165.3 279.2L186.3 248.2L207.2 217.3L228.2 186.4L249.1 143.2L270.1 93.4L291.0 43.7L312.0 48.3L332.9 107.4L353.9 166.5L374.8 183.6L395.8 199.9L416.7 216.1L437.7 232.3L458.6 249.3L479.6 270.4L500.5 291.6L521.5 312.7" stroke="#259ac1"/><path d="M81.5 391.1L104.7 346.4L127.8 301.7L151.0 257.0L174.1 212.3L197.3 167.7L220.4 124.0L243.6 82.7L266.8 41.5L289.9 54.5L313.1 133.8L336.2 213.2L359.4 219.8L382.6 225.0L405.7 230.1L428.9 240.5L452.0 274.9L475.2 309.3L498.3 340.6L521.5 371.5" stroke="#1f80b8"/><path d="M81.5 371.5L100.6 339.6L119.8 307.6L138.9 275.7L158.0 243.7L177.2 211.8L196.3 179.8L215.4 147.9L234.5 115.9L253.7 84.0L272.8 60.5L291.9 39.2L311.1 21.9L330.2 98.5L349.3 175.2L368.5 226.7L387.6 269.3L406.7 296.9L425.8 305.4L445.0 313.9L464.1 322.4L483.2 335.3L502.4 349.5L521.5 363.7" stroke="#44b7c4"/><path d="M81.5 410.7L115.3 344.4L149.2 278.1L183.0 211.7L216.9 135.3L250.7 55.5L284.6 68.5L318.4 160.7L352.3 240.4L386.1 270.5L420.0 300.7L453.8 330.8L487.7 361.0L521.5 391.1" stroke="#caeab4"/></g>
<path d="M81.5 -0.8V411.1M59.9 410.7H543.4M169.5 -0.8V411.1M59.9 332.32H543.4M257.5 -0.8V411.1M59.9 253.94H543.4M345.5 -0.8V411.1M59.9 175.56H543.4M433.5 -0.8V411.1M59.9 97.18H543.4M521.5 -0.8V411.1M59.9 18.8H543.4" stroke="#b0b0b0" stroke-width="1.1" fill="none"/>
<path d="M301.8 411.26V18.8" stroke="#d7141c" stroke-width="1.9" stroke-dasharray="6.6 2.96" fill="none"/>
<path d="M81.5 410.7L301.5 18.8L521.5 410.7" stroke="#000" stroke-width="2.6" fill="none" stroke-linejoin="round" clip-path="url(#clipA)"/>
<path d="M81.5 18.8H301.5" stroke="#1f77b4" stroke-width="1.6" stroke-dasharray="6.9 2.66" fill="none"/>
<path d="M81.5 410.7H521.5" stroke="#ff7f0e" stroke-width="1.6" stroke-dasharray="6.9 2.66" fill="none"/>
<path d="M59.9 0.5H543.4" stroke="#b4b4b4" stroke-width="1" fill="none"/>
<path d="M59.9 -0.8V411.1H543.4V-0.8Z" stroke="#1a1a1a" stroke-width="1.1" fill="none"/>
<path d="M81.5 411.1v4.9M59.9 410.7h-4.9M169.5 411.1v4.9M59.9 332.32h-4.9M257.5 411.1v4.9M59.9 253.94h-4.9M345.5 411.1v4.9M59.9 175.56h-4.9M433.5 411.1v4.9M59.9 97.18h-4.9M521.5 411.1v4.9M59.9 18.8h-4.9" stroke="#1a1a1a" stroke-width="1.1" fill="none"/>
<text transform="matrix(1 0 0 1.13 82.3 430.5)" text-anchor="middle" font-size="16.7">0.0</text>
<text transform="matrix(1 0 0 1.13 52.4 416.7)" text-anchor="end" font-size="16.7">0.0</text>
<text transform="matrix(1 0 0 1.13 170.3 430.5)" text-anchor="middle" font-size="16.7">0.2</text>
<text transform="matrix(1 0 0 1.13 52.4 338.32)" text-anchor="end" font-size="16.7">0.2</text>
<text transform="matrix(1 0 0 1.13 258.3 430.5)" text-anchor="middle" font-size="16.7">0.4</text>
<text transform="matrix(1 0 0 1.13 52.4 259.94)" text-anchor="end" font-size="16.7">0.4</text>
<text transform="matrix(1 0 0 1.13 346.3 430.5)" text-anchor="middle" font-size="16.7">0.6</text>
<text transform="matrix(1 0 0 1.13 52.4 181.56)" text-anchor="end" font-size="16.7">0.6</text>
<text transform="matrix(1 0 0 1.13 434.3 430.5)" text-anchor="middle" font-size="16.7">0.8</text>
<text transform="matrix(1 0 0 1.13 52.4 103.18)" text-anchor="end" font-size="16.7">0.8</text>
<text transform="matrix(1 0 0 1.13 522.3 430.5)" text-anchor="middle" font-size="16.7">1.0</text>
<text transform="matrix(1 0 0 1.13 52.4 24.8)" text-anchor="end" font-size="16.7">1.0</text>
<text x="302.2" y="449.9" text-anchor="middle" font-size="16.7" fill="#000" >Normalized time evolution [1]</text>
<text transform="translate(22.6 204.8) rotate(-90)" text-anchor="middle" font-size="16.7">Normalized Area [1]</text>
<rect x="64.3" y="11.9" width="26.4" height="25" rx="3.5" fill="#dce6f2"/>
<text transform="matrix(1 0 0 1.1 78.6 27.8)" text-anchor="middle" font-size="17.5" fill="#0d3aa0" font-weight="bold">A.</text>
<text x="82.6" y="56.1" font-size="16.7" fill="#1f77b4" stroke="#1f77b4" stroke-width="0.35" font-style="italic">A<tspan font-size="12" dy="3.1">max</tspan></text>
<text x="237.2" y="382.5" font-size="16.7" fill="#cf1420" stroke="#cf1420" stroke-width="0.35" font-style="italic">t<tspan font-size="12" dy="3.1">max</tspan></text>
<text x="368.3" y="382.5" font-size="16.7" fill="#f97a0a" stroke="#f97a0a" stroke-width="0.4"><tspan font-style="italic">D</tspan>, total duration</text>
<rect x="94.43" y="467" width="17.27" height="112.2" fill="#ffffe5" stroke="#d6d6d6" stroke-width="0.8"/>
<rect x="111.7" y="476.9" width="17.27" height="102.3" fill="#f7fcd2" stroke="#d6d6d6" stroke-width="0.8"/>
<rect x="128.96" y="488.6" width="17.27" height="90.6" fill="#e5f5cb" stroke="#d6d6d6" stroke-width="0.8"/>
<rect x="146.23" y="497" width="17.27" height="82.2" fill="#d2eecd" stroke="#d6d6d6" stroke-width="0.8"/>
<rect x="163.5" y="510.5" width="17.27" height="68.7" fill="#a3dbd1" stroke="#d6d6d6" stroke-width="0.8"/>
<rect x="180.76" y="520" width="17.27" height="59.2" fill="#88d1d5" stroke="#d6d6d6" stroke-width="0.8"/>
<rect x="198.03" y="528.4" width="17.27" height="50.8" fill="#74c3d6" stroke="#d6d6d6" stroke-width="0.8"/>
<rect x="215.29" y="536" width="17.27" height="43.2" fill="#67b6d4" stroke="#d6d6d6" stroke-width="0.8"/>
<rect x="232.56" y="543.3" width="17.27" height="35.9" fill="#67a4cd" stroke="#d6d6d6" stroke-width="0.8"/>
<rect x="249.83" y="548.1" width="17.27" height="31.1" fill="#6898c7" stroke="#d6d6d6" stroke-width="0.8"/>
<rect x="267.09" y="553.2" width="17.27" height="26" fill="#698dc2" stroke="#d6d6d6" stroke-width="0.8"/>
<rect x="284.36" y="558.3" width="17.27" height="20.9" fill="#6a83bd" stroke="#d6d6d6" stroke-width="0.8"/>
<rect x="301.62" y="561.7" width="17.27" height="17.5" fill="#6a7bb9" stroke="#d6d6d6" stroke-width="0.8"/>
<rect x="318.89" y="564.8" width="17.27" height="14.4" fill="#6b75b6" stroke="#d6d6d6" stroke-width="0.8"/>
<rect x="336.16" y="567.8" width="17.27" height="11.4" fill="#6772af" stroke="#d6d6d6" stroke-width="0.8"/>
<rect x="353.42" y="569.7" width="17.27" height="9.5" fill="#6470a8" stroke="#d6d6d6" stroke-width="0.8"/>
<rect x="370.69" y="570.9" width="17.27" height="8.3" fill="#626ea4" stroke="#d6d6d6" stroke-width="0.8"/>
<rect x="387.95" y="573.1" width="17.27" height="6.1" fill="#5f6c9e" stroke="#d6d6d6" stroke-width="0.8"/>
<rect x="405.22" y="573.5" width="17.27" height="5.7" fill="#5f6c9e" stroke="#d6d6d6" stroke-width="0.8"/>
<rect x="422.49" y="575.4" width="17.27" height="3.8" fill="#5c6998" stroke="#d6d6d6" stroke-width="0.8"/>
<rect x="439.75" y="575.8" width="17.27" height="3.4" fill="#5b6996" stroke="#d6d6d6" stroke-width="0.8"/>
<rect x="457.02" y="576.9" width="17.27" height="2.3" fill="#5a6894" stroke="#d6d6d6" stroke-width="0.8"/>
<rect x="474.28" y="577.7" width="17.27" height="1.5" fill="#596791" stroke="#d6d6d6" stroke-width="0.8"/>
<rect x="491.55" y="578.1" width="17.27" height="1.1" fill="#586690" stroke="#d6d6d6" stroke-width="0.8"/>
<rect x="508.82" y="578.1" width="17.27" height="1.1" fill="#586690" stroke="#d6d6d6" stroke-width="0.8"/>
<rect x="526.08" y="578.4" width="17.27" height="0.8" fill="#58668f" stroke="#d6d6d6" stroke-width="0.8"/>
<path d="M59.9 461.5V579.2H543.4" stroke="#1a1a1a" stroke-width="1.1" fill="none"/>
<text transform="matrix(1 0 0 1.13 52.4 585.2)" text-anchor="end" font-size="16.7">0</text>
<text transform="matrix(1 0 0 1.13 52.4 545.16)" text-anchor="end" font-size="16.7">2500</text>
<text transform="matrix(1 0 0 1.13 52.4 505.12)" text-anchor="end" font-size="16.7">5000</text>
<path d="M59.9 579.2h-4.9M59.9 539.16h-4.9M59.9 499.12h-4.9" stroke="#1a1a1a" stroke-width="1.1" fill="none"/>
<clipPath id="clipB"><rect x="59.9" y="601.5" width="483.50" height="411.70"/></clipPath>
<defs><linearGradient id="g0" x2="0" y2="1"><stop offset="0.003" stop-color="#091e5a" stop-opacity="0.02"/><stop offset="0.023" stop-color="#091e5a" stop-opacity="0.09"/><stop offset="0.042" stop-color="#091e5a" stop-opacity="0.19"/><stop offset="0.062" stop-color="#0a1e5c" stop-opacity="0.31"/><stop offset="0.082" stop-color="#0b1f5e" stop-opacity="0.46"/><stop offset="0.101" stop-color="#0d2161" stop-opacity="0.6"/><stop offset="0.121" stop-color="#0e2265" stop-opacity="0.74"/><stop offset="0.141" stop-color="#12256d" stop-opacity="0.89"/><stop offset="0.160" stop-color="#192b7c"/><stop offset="0.180" stop-color="#1a2b7e"/><stop offset="0.199" stop-color="#1b2c80"/><stop offset="0.219" stop-color="#1c2d81"/><stop offset="0.239" stop-color="#1d2e83"/><stop offset="0.258" stop-color="#1e2e85"/><stop offset="0.278" stop-color="#203089"/><stop offset="0.297" stop-color="#253595"/><stop offset="0.317" stop-color="#243d98"/><stop offset="0.337" stop-color="#24459c"/><stop offset="0.356" stop-color="#2350a1"/><stop offset="0.376" stop-color="#2165ab"/><stop offset="0.395" stop-color="#1f7bb6"/><stop offset="0.415" stop-color="#2397c1"/><stop offset="0.435" stop-color="#3eb3c4"/><stop offset="0.454" stop-color="#6bc6be"/><stop offset="0.474" stop-color="#8cd2ba"/><stop offset="0.493" stop-color="#abdeb7"/><stop offset="0.513" stop-color="#c9eab4"/><stop offset="0.533" stop-color="#daf0b3"/><stop offset="0.552" stop-color="#e3f4b2"/><stop offset="0.572" stop-color="#ecf7b1"/><stop offset="0.592" stop-color="#f0f9b8"/><stop offset="0.611" stop-color="#f4fbc1"/><stop offset="0.631" stop-color="#f1fabb"/><stop offset="0.650" stop-color="#ecf7b1"/><stop offset="0.670" stop-color="#e2f4b2"/><stop offset="0.690" stop-color="#d1edb3"/><stop offset="0.709" stop-color="#b0e0b6"/><stop offset="0.729" stop-color="#83cebb"/><stop offset="0.748" stop-color="#67c4be"/><stop offset="0.768" stop-color="#4ebbc2"/><stop offset="0.788" stop-color="#3aaec3"/><stop offset="0.807" stop-color="#2ca1c2"/><stop offset="0.827" stop-color="#1f93c0"/><stop offset="0.846" stop-color="#1f82b9"/><stop offset="0.866" stop-color="#206eb0"/><stop offset="0.886" stop-color="#2259a6"/><stop offset="0.905" stop-color="#24459c"/><stop offset="0.925" stop-color="#253795"/><stop offset="0.944" stop-color="#203089"/><stop offset="0.964" stop-color="#13266f" stop-opacity="0.9"/><stop offset="0.984" stop-color="#0b1f5e" stop-opacity="0.39"/><stop offset="0.997" stop-color="#091e5a" stop-opacity="0.04"/></linearGradient><linearGradient id="g1" x2="0" y2="1"><stop offset="0.003" stop-color="#091e5a" stop-opacity="0.03"/><stop offset="0.021" stop-color="#091e5a" stop-opacity="0.1"/><stop offset="0.039" stop-color="#091e5a" stop-opacity="0.18"/><stop offset="0.057" stop-color="#0a1e5c" stop-opacity="0.27"/><stop offset="0.074" stop-color="#0a1e5c" stop-opacity="0.36"/><stop offset="0.092" stop-color="#0b1f5e" stop-opacity="0.47"/><stop offset="0.110" stop-color="#0d2161" stop-opacity="0.6"/><stop offset="0.128" stop-color="#0e2265" stop-opacity="0.72"/><stop offset="0.146" stop-color="#11246b" stop-opacity="0.84"/><stop offset="0.164" stop-color="#1a2b7e" stop-opacity="0.99"/><stop offset="0.182" stop-color="#1c2d81"/><stop offset="0.199" stop-color="#1d2e83"/><stop offset="0.217" stop-color="#1f2f87"/><stop offset="0.235" stop-color="#203089"/><stop offset="0.253" stop-color="#21318d"/><stop offset="0.271" stop-color="#22328f"/><stop offset="0.289" stop-color="#253595"/><stop offset="0.307" stop-color="#243d98"/><stop offset="0.324" stop-color="#24459c"/><stop offset="0.342" stop-color="#234da0"/><stop offset="0.360" stop-color="#2258a5"/><stop offset="0.378" stop-color="#2072b1"/><stop offset="0.396" stop-color="#1d8dbe"/><stop offset="0.414" stop-color="#2ea3c2"/><stop offset="0.432" stop-color="#52bcc2"/><stop offset="0.449" stop-color="#83cebb"/><stop offset="0.467" stop-color="#b2e1b6"/><stop offset="0.485" stop-color="#d0edb3"/><stop offset="0.503" stop-color="#e5f5b2"/><stop offset="0.521" stop-color="#f1fabb"/><stop offset="0.539" stop-color="#f5fbc2"/><stop offset="0.557" stop-color="#f8fcca"/><stop offset="0.574" stop-color="#fcfed1"/><stop offset="0.592" stop-color="#ffffd9"/><stop offset="0.610" stop-color="#fdfed5"/><stop offset="0.628" stop-color="#fbfdd0"/><stop offset="0.646" stop-color="#f9fdcc"/><stop offset="0.664" stop-color="#f4fbc0"/><stop offset="0.682" stop-color="#e9f7b1"/><stop offset="0.699" stop-color="#d6efb3"/><stop offset="0.717" stop-color="#c0e6b5"/><stop offset="0.735" stop-color="#95d5b9"/><stop offset="0.753" stop-color="#6bc6be"/><stop offset="0.771" stop-color="#46b8c3"/><stop offset="0.789" stop-color="#34a9c3"/><stop offset="0.807" stop-color="#2498c1"/><stop offset="0.824" stop-color="#1e85ba"/><stop offset="0.842" stop-color="#2070b0"/><stop offset="0.860" stop-color="#225da8"/><stop offset="0.878" stop-color="#234da0"/><stop offset="0.896" stop-color="#243f99"/><stop offset="0.914" stop-color="#253795"/><stop offset="0.932" stop-color="#22328f"/><stop offset="0.949" stop-color="#1d2e83"/><stop offset="0.967" stop-color="#12256d" stop-opacity="0.9"/><stop offset="0.985" stop-color="#0b1f5e" stop-opacity="0.39"/><stop offset="0.997" stop-color="#091e5a" stop-opacity="0.04"/></linearGradient><linearGradient id="g2" x2="0" y2="1"><stop offset="0.003" stop-color="#091e5a" stop-opacity="0.03"/><stop offset="0.019" stop-color="#091e5a" stop-opacity="0.15"/><stop offset="0.036" stop-color="#0a1e5c" stop-opacity="0.29"/><stop offset="0.053" stop-color="#0b1f5e" stop-opacity="0.44"/><stop offset="0.069" stop-color="#0c2060" stop-opacity="0.61"/><stop offset="0.086" stop-color="#0d2163" stop-opacity="0.76"/><stop offset="0.103" stop-color="#13266f" stop-opacity="0.94"/><stop offset="0.119" stop-color="#172976"/><stop offset="0.136" stop-color="#172978"/><stop offset="0.153" stop-color="#172978"/><stop offset="0.169" stop-color="#182a7a"/><stop offset="0.186" stop-color="#192b7c"/><stop offset="0.203" stop-color="#192b7c"/><stop offset="0.219" stop-color="#1b2c80"/><stop offset="0.236" stop-color="#203089"/><stop offset="0.253" stop-color="#243392"/><stop offset="0.269" stop-color="#253997"/><stop offset="0.286" stop-color="#24409a"/><stop offset="0.303" stop-color="#24479d"/><stop offset="0.319" stop-color="#234fa1"/><stop offset="0.336" stop-color="#2356a4"/><stop offset="0.353" stop-color="#216aad"/><stop offset="0.369" stop-color="#1f7eb7"/><stop offset="0.386" stop-color="#1d91c0"/><stop offset="0.403" stop-color="#2da2c2"/><stop offset="0.419" stop-color="#3eb3c4"/><stop offset="0.436" stop-color="#59bfc0"/><stop offset="0.453" stop-color="#78cbbc"/><stop offset="0.469" stop-color="#90d4b9"/><stop offset="0.486" stop-color="#a7dcb7"/><stop offset="0.503" stop-color="#bde5b5"/><stop offset="0.519" stop-color="#ceecb3"/><stop offset="0.536" stop-color="#d4eeb3"/><stop offset="0.553" stop-color="#d7efb3"/><stop offset="0.569" stop-color="#dbf1b2"/><stop offset="0.586" stop-color="#daf0b3"/><stop offset="0.603" stop-color="#d4eeb3"/><stop offset="0.619" stop-color="#ceecb3"/><stop offset="0.636" stop-color="#c8e9b4"/><stop offset="0.653" stop-color="#b4e2b6"/><stop offset="0.669" stop-color="#9cd8b8"/><stop offset="0.686" stop-color="#83cebb"/><stop offset="0.703" stop-color="#6dc6be"/><stop offset="0.719" stop-color="#55bec1"/><stop offset="0.736" stop-color="#40b5c4"/><stop offset="0.753" stop-color="#33a7c2"/><stop offset="0.769" stop-color="#269bc1"/><stop offset="0.786" stop-color="#1d8dbe"/><stop offset="0.803" stop-color="#1f7db6"/><stop offset="0.819" stop-color="#216daf"/><stop offset="0.836" stop-color="#225da8"/><stop offset="0.853" stop-color="#2352a3"/><stop offset="0.869" stop-color="#23499e"/><stop offset="0.886" stop-color="#24409a"/><stop offset="0.903" stop-color="#253795"/><stop offset="0.919" stop-color="#21318d"/><stop offset="0.936" stop-color="#1f2f87"/><stop offset="0.953" stop-color="#1b2c80"/><stop offset="0.969" stop-color="#12256d" stop-opacity="0.9"/><stop offset="0.986" stop-color="#0b1f5e" stop-opacity="0.39"/><stop offset="0.997" stop-color="#091e5a" stop-opacity="0.04"/></linearGradient><linearGradient id="g3" x2="0" y2="1"><stop offset="0.002" stop-color="#091e5a" stop-opacity="0.02"/><stop offset="0.016" stop-color="#091e5a" stop-opacity="0.15"/><stop offset="0.030" stop-color="#0a1e5c" stop-opacity="0.29"/><stop offset="0.044" stop-color="#0b1f5e" stop-opacity="0.44"/><stop offset="0.058" stop-color="#0c2060" stop-opacity="0.59"/><stop offset="0.072" stop-color="#0d2163" stop-opacity="0.73"/><stop offset="0.086" stop-color="#102369" stop-opacity="0.89"/><stop offset="0.100" stop-color="#162874"/><stop offset="0.114" stop-color="#172976"/><stop offset="0.129" stop-color="#172978"/><stop offset="0.143" stop-color="#172978"/><stop offset="0.157" stop-color="#182a7a"/><stop offset="0.171" stop-color="#192b7c"/><stop offset="0.185" stop-color="#192b7c"/><stop offset="0.199" stop-color="#1a2b7e"/><stop offset="0.213" stop-color="#1b2c80"/><stop offset="0.227" stop-color="#1d2e83"/><stop offset="0.241" stop-color="#1e2e85"/><stop offset="0.255" stop-color="#203089"/><stop offset="0.269" stop-color="#21308b"/><stop offset="0.283" stop-color="#22328f"/><stop offset="0.297" stop-color="#233390"/><stop offset="0.311" stop-color="#253494"/><stop offset="0.325" stop-color="#253997"/><stop offset="0.339" stop-color="#24419a"/><stop offset="0.353" stop-color="#23499e"/><stop offset="0.367" stop-color="#2351a2"/><stop offset="0.381" stop-color="#2259a6"/><stop offset="0.395" stop-color="#2165ab"/><stop offset="0.409" stop-color="#2073b2"/><stop offset="0.423" stop-color="#1f80b8"/><stop offset="0.437" stop-color="#1d8ebf"/><stop offset="0.451" stop-color="#259ac1"/><stop offset="0.465" stop-color="#2ea3c2"/><stop offset="0.479" stop-color="#36abc3"/><stop offset="0.493" stop-color="#3eb3c4"/><stop offset="0.507" stop-color="#4ab9c3"/><stop offset="0.521" stop-color="#59bfc0"/><stop offset="0.535" stop-color="#67c4be"/><stop offset="0.549" stop-color="#6fc7bd"/><stop offset="0.563" stop-color="#76cabc"/><stop offset="0.577" stop-color="#7cccbb"/><stop offset="0.591" stop-color="#85cfba"/><stop offset="0.605" stop-color="#8cd2ba"/><stop offset="0.619" stop-color="#87d0ba"/><stop offset="0.633" stop-color="#80cebb"/><stop offset="0.647" stop-color="#7cccbb"/><stop offset="0.661" stop-color="#76cabc"/><stop offset="0.675" stop-color="#6bc6be"/><stop offset="0.689" stop-color="#5dc0c0"/><stop offset="0.703" stop-color="#4ebbc2"/><stop offset="0.717" stop-color="#3fb4c4"/><stop offset="0.731" stop-color="#37acc3"/><stop offset="0.745" stop-color="#2ea3c2"/><stop offset="0.759" stop-color="#259ac1"/><stop offset="0.773" stop-color="#1d91c0"/><stop offset="0.787" stop-color="#1e85ba"/><stop offset="0.801" stop-color="#1f78b4"/><stop offset="0.815" stop-color="#216daf"/><stop offset="0.829" stop-color="#2163aa"/><stop offset="0.843" stop-color="#225aa6"/><stop offset="0.857" stop-color="#2352a3"/><stop offset="0.871" stop-color="#234b9f"/><stop offset="0.886" stop-color="#24439b"/><stop offset="0.900" stop-color="#243c98"/><stop offset="0.914" stop-color="#253795"/><stop offset="0.928" stop-color="#22328f"/><stop offset="0.942" stop-color="#1f2f87"/><stop offset="0.956" stop-color="#1c2d81"/><stop offset="0.970" stop-color="#142670" stop-opacity="0.91"/><stop offset="0.984" stop-color="#0c2060" stop-opacity="0.49"/><stop offset="0.998" stop-color="#091e5a" stop-opacity="0.08"/></linearGradient><linearGradient id="g4" x2="0" y2="1"><stop offset="0.002" stop-color="#091e5a" stop-opacity="0.04"/><stop offset="0.015" stop-color="#091e5a" stop-opacity="0.14"/><stop offset="0.027" stop-color="#0a1e5c" stop-opacity="0.27"/><stop offset="0.040" stop-color="#0a1e5c" stop-opacity="0.4"/><stop offset="0.053" stop-color="#0b1f5e" stop-opacity="0.54"/><stop offset="0.065" stop-color="#0c2060" stop-opacity="0.69"/><stop offset="0.078" stop-color="#0d2163" stop-opacity="0.82"/><stop offset="0.090" stop-color="#142670" stop-opacity="0.99"/><stop offset="0.103" stop-color="#152772"/><stop offset="0.116" stop-color="#162874"/><stop offset="0.128" stop-color="#162874"/><stop offset="0.141" stop-color="#172976"/><stop offset="0.153" stop-color="#172976"/><stop offset="0.166" stop-color="#172978"/><stop offset="0.179" stop-color="#172978"/><stop offset="0.191" stop-color="#182a7a"/><stop offset="0.204" stop-color="#192b7c"/><stop offset="0.216" stop-color="#192b7c"/><stop offset="0.229" stop-color="#1a2b7e"/><stop offset="0.242" stop-color="#1c2d81"/><stop offset="0.254" stop-color="#1f2f87"/><stop offset="0.267" stop-color="#21318d"/><stop offset="0.279" stop-color="#243392"/><stop offset="0.292" stop-color="#253795"/><stop offset="0.305" stop-color="#253b97"/><stop offset="0.317" stop-color="#243f99"/><stop offset="0.330" stop-color="#24439b"/><stop offset="0.342" stop-color="#24479d"/><stop offset="0.355" stop-color="#234b9f"/><stop offset="0.368" stop-color="#2351a2"/><stop offset="0.380" stop-color="#2258a5"/><stop offset="0.393" stop-color="#2260a9"/><stop offset="0.405" stop-color="#216aad"/><stop offset="0.418" stop-color="#2073b2"/><stop offset="0.431" stop-color="#1f7bb6"/><stop offset="0.443" stop-color="#1e85ba"/><stop offset="0.456" stop-color="#1e8bbd"/><stop offset="0.468" stop-color="#1d91c0"/><stop offset="0.481" stop-color="#2296c1"/><stop offset="0.494" stop-color="#269bc1"/><stop offset="0.506" stop-color="#2b9fc2"/><stop offset="0.519" stop-color="#2fa4c2"/><stop offset="0.532" stop-color="#33a7c2"/><stop offset="0.544" stop-color="#34a9c3"/><stop offset="0.557" stop-color="#35aac3"/><stop offset="0.569" stop-color="#36abc3"/><stop offset="0.582" stop-color="#39adc3"/><stop offset="0.595" stop-color="#3aaec3"/><stop offset="0.607" stop-color="#3bb0c3"/><stop offset="0.620" stop-color="#3aaec3"/><stop offset="0.632" stop-color="#37acc3"/><stop offset="0.645" stop-color="#35aac3"/><stop offset="0.658" stop-color="#32a6c2"/><stop offset="0.670" stop-color="#2fa4c2"/><stop offset="0.683" stop-color="#2da2c2"/><stop offset="0.695" stop-color="#2a9ec1"/><stop offset="0.708" stop-color="#259ac1"/><stop offset="0.721" stop-color="#2195c0"/><stop offset="0.733" stop-color="#1d8ebf"/><stop offset="0.746" stop-color="#1e86bb"/><stop offset="0.758" stop-color="#1f80b8"/><stop offset="0.771" stop-color="#1f78b4"/><stop offset="0.784" stop-color="#2070b0"/><stop offset="0.796" stop-color="#2168ad"/><stop offset="0.809" stop-color="#2260a9"/><stop offset="0.821" stop-color="#2259a6"/><stop offset="0.834" stop-color="#2352a3"/><stop offset="0.847" stop-color="#234c9f"/><stop offset="0.859" stop-color="#24479d"/><stop offset="0.872" stop-color="#24419a"/><stop offset="0.884" stop-color="#243c98"/><stop offset="0.897" stop-color="#253795"/><stop offset="0.910" stop-color="#233390"/><stop offset="0.922" stop-color="#21318d"/><stop offset="0.935" stop-color="#203089"/><stop offset="0.947" stop-color="#1d2e83"/><stop offset="0.960" stop-color="#1b2c80"/><stop offset="0.973" stop-color="#142670" stop-opacity="0.91"/><stop offset="0.985" stop-color="#0c2060" stop-opacity="0.49"/><stop offset="0.998" stop-color="#091e5a" stop-opacity="0.08"/></linearGradient><linearGradient id="g5" x2="0" y2="1"><stop offset="0.002" stop-color="#091e5a" stop-opacity="0.03"/><stop offset="0.014" stop-color="#091e5a" stop-opacity="0.11"/><stop offset="0.027" stop-color="#0a1e5c" stop-opacity="0.21"/><stop offset="0.039" stop-color="#0a1e5c" stop-opacity="0.31"/><stop offset="0.051" stop-color="#0a1e5c" stop-opacity="0.42"/><stop offset="0.064" stop-color="#0b1f5e" stop-opacity="0.56"/><stop offset="0.076" stop-color="#0d2161" stop-opacity="0.71"/><stop offset="0.088" stop-color="#0f2367" stop-opacity="0.88"/><stop offset="0.101" stop-color="#152772"/><stop offset="0.113" stop-color="#162874"/><stop offset="0.126" stop-color="#172976"/><stop offset="0.138" stop-color="#172978"/><stop offset="0.150" stop-color="#182a7a"/><stop offset="0.163" stop-color="#192b7c"/><stop offset="0.175" stop-color="#1a2b7e"/><stop offset="0.187" stop-color="#1a2b7e"/><stop offset="0.200" stop-color="#1b2c80"/><stop offset="0.212" stop-color="#1c2d81"/><stop offset="0.224" stop-color="#1d2e83"/><stop offset="0.237" stop-color="#1e2e85"/><stop offset="0.249" stop-color="#1f2f87"/><stop offset="0.261" stop-color="#203089"/><stop offset="0.274" stop-color="#22328f"/><stop offset="0.286" stop-color="#253494"/><stop offset="0.298" stop-color="#253795"/><stop offset="0.311" stop-color="#253b97"/><stop offset="0.323" stop-color="#243d98"/><stop offset="0.335" stop-color="#24419a"/><stop offset="0.348" stop-color="#24449c"/><stop offset="0.360" stop-color="#24489d"/><stop offset="0.372" stop-color="#234b9f"/><stop offset="0.385" stop-color="#2350a1"/><stop offset="0.397" stop-color="#2354a3"/><stop offset="0.409" stop-color="#2259a6"/><stop offset="0.422" stop-color="#225ea8"/><stop offset="0.434" stop-color="#2165ab"/><stop offset="0.447" stop-color="#216bae"/><stop offset="0.459" stop-color="#2072b1"/><stop offset="0.471" stop-color="#2075b3"/><stop offset="0.484" stop-color="#1f78b4"/><stop offset="0.496" stop-color="#1f7bb6"/><stop offset="0.508" stop-color="#1f7eb7"/><stop offset="0.521" stop-color="#1f82b9"/><stop offset="0.533" stop-color="#1e85ba"/><stop offset="0.545" stop-color="#1e88bc"/><stop offset="0.558" stop-color="#1e8bbd"/><stop offset="0.570" stop-color="#1d8ebf"/><stop offset="0.582" stop-color="#1d91c0"/><stop offset="0.595" stop-color="#1d91c0"/><stop offset="0.607" stop-color="#1d8ebf"/><stop offset="0.619" stop-color="#1e8bbd"/><stop offset="0.632" stop-color="#1e8abd"/><stop offset="0.644" stop-color="#1e86bb"/><stop offset="0.656" stop-color="#1e85ba"/><stop offset="0.669" stop-color="#1f82b9"/><stop offset="0.681" stop-color="#1f80b8"/><stop offset="0.693" stop-color="#1f7bb6"/><stop offset="0.706" stop-color="#2075b3"/><stop offset="0.718" stop-color="#216daf"/><stop offset="0.730" stop-color="#2166ac"/><stop offset="0.743" stop-color="#2260a9"/><stop offset="0.755" stop-color="#225aa6"/><stop offset="0.767" stop-color="#2355a4"/><stop offset="0.780" stop-color="#2351a2"/><stop offset="0.792" stop-color="#234da0"/><stop offset="0.805" stop-color="#23499e"/><stop offset="0.817" stop-color="#24479d"/><stop offset="0.829" stop-color="#24439b"/><stop offset="0.842" stop-color="#243f99"/><stop offset="0.854" stop-color="#243c98"/><stop offset="0.866" stop-color="#253997"/><stop offset="0.879" stop-color="#253795"/><stop offset="0.891" stop-color="#253494"/><stop offset="0.903" stop-color="#233390"/><stop offset="0.916" stop-color="#21318d"/><stop offset="0.928" stop-color="#203089"/><stop offset="0.940" stop-color="#1e2e85"/><stop offset="0.953" stop-color="#1c2d81"/><stop offset="0.965" stop-color="#1a2b7e"/><stop offset="0.977" stop-color="#102369" stop-opacity="0.8"/><stop offset="0.990" stop-color="#0b1f5e" stop-opacity="0.34"/><stop offset="0.998" stop-color="#091e5a" stop-opacity="0.08"/></linearGradient><linearGradient id="g6" x2="0" y2="1"><stop offset="0.002" stop-color="#091e5a" stop-opacity="0.03"/><stop offset="0.014" stop-color="#091e5a" stop-opacity="0.14"/><stop offset="0.026" stop-color="#0a1e5c" stop-opacity="0.26"/><stop offset="0.039" stop-color="#0b1f5e" stop-opacity="0.41"/><stop offset="0.051" stop-color="#0c2060" stop-opacity="0.62"/><stop offset="0.063" stop-color="#0f2367" stop-opacity="0.86"/><stop offset="0.075" stop-color="#172976"/><stop offset="0.087" stop-color="#172978"/><stop offset="0.100" stop-color="#172978"/><stop offset="0.112" stop-color="#182a7a"/><stop offset="0.124" stop-color="#192b7c"/><stop offset="0.136" stop-color="#1a2b7e"/><stop offset="0.148" stop-color="#1a2b7e"/><stop offset="0.161" stop-color="#1b2c80"/><stop offset="0.173" stop-color="#1c2d81"/><stop offset="0.185" stop-color="#1d2e83"/><stop offset="0.197" stop-color="#1d2e83"/><stop offset="0.209" stop-color="#1e2e85"/><stop offset="0.222" stop-color="#1f2f87"/><stop offset="0.234" stop-color="#21308b"/><stop offset="0.246" stop-color="#22328f"/><stop offset="0.258" stop-color="#243392"/><stop offset="0.270" stop-color="#253494"/><stop offset="0.283" stop-color="#253795"/><stop offset="0.295" stop-color="#253997"/><stop offset="0.307" stop-color="#243c98"/><stop offset="0.319" stop-color="#243f99"/><stop offset="0.331" stop-color="#24419a"/><stop offset="0.343" stop-color="#24449c"/><stop offset="0.356" stop-color="#24479d"/><stop offset="0.368" stop-color="#23499e"/><stop offset="0.380" stop-color="#234c9f"/><stop offset="0.392" stop-color="#234da0"/><stop offset="0.404" stop-color="#2350a1"/><stop offset="0.417" stop-color="#2352a3"/><stop offset="0.429" stop-color="#2354a3"/><stop offset="0.441" stop-color="#2356a4"/><stop offset="0.453" stop-color="#2258a5"/><stop offset="0.465" stop-color="#225aa6"/><stop offset="0.478" stop-color="#225ca7"/><stop offset="0.490" stop-color="#225ea8"/><stop offset="0.502" stop-color="#2260a9"/><stop offset="0.514" stop-color="#2163aa"/><stop offset="0.526" stop-color="#2165ab"/><stop offset="0.539" stop-color="#2168ad"/><stop offset="0.551" stop-color="#216aad"/><stop offset="0.563" stop-color="#216bae"/><stop offset="0.575" stop-color="#216bae"/><stop offset="0.587" stop-color="#216daf"/><stop offset="0.600" stop-color="#216daf"/><stop offset="0.612" stop-color="#206eb0"/><stop offset="0.624" stop-color="#206eb0"/><stop offset="0.636" stop-color="#2070b0"/><stop offset="0.648" stop-color="#2070b0"/><stop offset="0.661" stop-color="#2072b1"/><stop offset="0.673" stop-color="#2072b1"/><stop offset="0.685" stop-color="#2070b0"/><stop offset="0.697" stop-color="#206eb0"/><stop offset="0.709" stop-color="#216bae"/><stop offset="0.722" stop-color="#216aad"/><stop offset="0.734" stop-color="#2168ad"/><stop offset="0.746" stop-color="#2165ab"/><stop offset="0.758" stop-color="#2163aa"/><stop offset="0.770" stop-color="#2262aa"/><stop offset="0.783" stop-color="#2260a9"/><stop offset="0.795" stop-color="#225da8"/><stop offset="0.807" stop-color="#225aa6"/><stop offset="0.819" stop-color="#2356a4"/><stop offset="0.831" stop-color="#2352a3"/><stop offset="0.843" stop-color="#2350a1"/><stop offset="0.856" stop-color="#234c9f"/><stop offset="0.868" stop-color="#23499e"/><stop offset="0.880" stop-color="#24459c"/><stop offset="0.892" stop-color="#24439b"/><stop offset="0.904" stop-color="#243f99"/><stop offset="0.917" stop-color="#253b97"/><stop offset="0.929" stop-color="#253896"/><stop offset="0.941" stop-color="#253494"/><stop offset="0.953" stop-color="#1c2d81" stop-opacity="0.94"/><stop offset="0.965" stop-color="#11246b" stop-opacity="0.7"/><stop offset="0.978" stop-color="#0d2163" stop-opacity="0.46"/><stop offset="0.990" stop-color="#0b1f5e" stop-opacity="0.21"/><stop offset="0.998" stop-color="#0a1e5c" stop-opacity="0.04"/></linearGradient><linearGradient id="g7" x2="0" y2="1"><stop offset="0.002" stop-color="#091e5a" stop-opacity="0.02"/><stop offset="0.013" stop-color="#091e5a" stop-opacity="0.07"/><stop offset="0.024" stop-color="#091e5a" stop-opacity="0.15"/><stop offset="0.035" stop-color="#0a1e5c" stop-opacity="0.23"/><stop offset="0.046" stop-color="#0a1e5c" stop-opacity="0.33"/><stop offset="0.057" stop-color="#0b1f5e" stop-opacity="0.43"/><stop offset="0.068" stop-color="#0b1f5e" stop-opacity="0.55"/><stop offset="0.079" stop-color="#0d2161" stop-opacity="0.69"/><stop offset="0.090" stop-color="#0f2367" stop-opacity="0.88"/><stop offset="0.101" stop-color="#152772"/><stop offset="0.112" stop-color="#162874"/><stop offset="0.123" stop-color="#172976"/><stop offset="0.134" stop-color="#172976"/><stop offset="0.145" stop-color="#172978"/><stop offset="0.156" stop-color="#182a7a"/><stop offset="0.167" stop-color="#182a7a"/><stop offset="0.178" stop-color="#192b7c"/><stop offset="0.189" stop-color="#1a2b7e"/><stop offset="0.200" stop-color="#1b2c80"/><stop offset="0.211" stop-color="#1b2c80"/><stop offset="0.222" stop-color="#1c2d81"/><stop offset="0.233" stop-color="#1d2e83"/><stop offset="0.244" stop-color="#1d2e83"/><stop offset="0.255" stop-color="#1e2e85"/><stop offset="0.266" stop-color="#1f2f87"/><stop offset="0.277" stop-color="#203089"/><stop offset="0.288" stop-color="#203089"/><stop offset="0.299" stop-color="#21308b"/><stop offset="0.310" stop-color="#21318d"/><stop offset="0.321" stop-color="#21318d"/><stop offset="0.332" stop-color="#22328f"/><stop offset="0.342" stop-color="#233390"/><stop offset="0.353" stop-color="#243392"/><stop offset="0.364" stop-color="#253494"/><stop offset="0.375" stop-color="#253595"/><stop offset="0.386" stop-color="#253595"/><stop offset="0.397" stop-color="#253795"/><stop offset="0.408" stop-color="#253896"/><stop offset="0.419" stop-color="#253997"/><stop offset="0.430" stop-color="#253b97"/><stop offset="0.441" stop-color="#243c98"/><stop offset="0.452" stop-color="#243d98"/><stop offset="0.463" stop-color="#243f99"/><stop offset="0.474" stop-color="#24409a"/><stop offset="0.485" stop-color="#24419a"/><stop offset="0.496" stop-color="#24439b"/><stop offset="0.507" stop-color="#24449c"/><stop offset="0.518" stop-color="#24459c"/><stop offset="0.529" stop-color="#24459c"/><stop offset="0.540" stop-color="#24479d"/><stop offset="0.562" stop-color="#24479d"/><stop offset="0.573" stop-color="#24489d"/><stop offset="0.595" stop-color="#24489d"/><stop offset="0.606" stop-color="#23499e"/><stop offset="0.628" stop-color="#23499e"/><stop offset="0.639" stop-color="#234b9f"/><stop offset="0.661" stop-color="#234b9f"/><stop offset="0.672" stop-color="#234c9f"/><stop offset="0.705" stop-color="#234c9f"/><stop offset="0.716" stop-color="#234da0"/><stop offset="0.727" stop-color="#234c9f"/><stop offset="0.738" stop-color="#234b9f"/><stop offset="0.749" stop-color="#23499e"/><stop offset="0.760" stop-color="#24489d"/><stop offset="0.771" stop-color="#24479d"/><stop offset="0.782" stop-color="#24459c"/><stop offset="0.793" stop-color="#24449c"/><stop offset="0.804" stop-color="#24439b"/><stop offset="0.815" stop-color="#24419a"/><stop offset="0.826" stop-color="#24409a"/><stop offset="0.837" stop-color="#243f99"/><stop offset="0.848" stop-color="#243d98"/><stop offset="0.859" stop-color="#243c98"/><stop offset="0.870" stop-color="#253997"/><stop offset="0.881" stop-color="#253896"/><stop offset="0.892" stop-color="#253595"/><stop offset="0.903" stop-color="#243392"/><stop offset="0.914" stop-color="#233390"/><stop offset="0.925" stop-color="#21318d"/><stop offset="0.936" stop-color="#203089"/><stop offset="0.947" stop-color="#1f2f87"/><stop offset="0.958" stop-color="#172978" stop-opacity="0.94"/><stop offset="0.969" stop-color="#0f2367" stop-opacity="0.69"/><stop offset="0.980" stop-color="#0c2060" stop-opacity="0.44"/><stop offset="0.991" stop-color="#0a1e5c" stop-opacity="0.19"/><stop offset="0.998" stop-color="#091e5a" stop-opacity="0.04"/></linearGradient><linearGradient id="g8" x2="0" y2="1"><stop offset="0.002" stop-color="#091e5a" stop-opacity="0.01"/><stop offset="0.012" stop-color="#091e5a" stop-opacity="0.09"/><stop offset="0.022" stop-color="#091e5a" stop-opacity="0.19"/><stop offset="0.032" stop-color="#0a1e5c" stop-opacity="0.31"/><stop offset="0.043" stop-color="#0b1f5e" stop-opacity="0.44"/><stop offset="0.053" stop-color="#0b1f5e" stop-opacity="0.57"/><stop offset="0.063" stop-color="#0d2161" stop-opacity="0.7"/><stop offset="0.073" stop-color="#0d2163" stop-opacity="0.83"/><stop offset="0.084" stop-color="#13266f" stop-opacity="0.99"/><stop offset="0.094" stop-color="#142670"/><stop offset="0.104" stop-color="#142670"/><stop offset="0.114" stop-color="#152772"/><stop offset="0.135" stop-color="#152772"/><stop offset="0.145" stop-color="#162874"/><stop offset="0.155" stop-color="#162874"/><stop offset="0.166" stop-color="#172976"/><stop offset="0.186" stop-color="#172976"/><stop offset="0.196" stop-color="#172978"/><stop offset="0.206" stop-color="#172978"/><stop offset="0.217" stop-color="#182a7a"/><stop offset="0.237" stop-color="#182a7a"/><stop offset="0.247" stop-color="#192b7c"/><stop offset="0.258" stop-color="#192b7c"/><stop offset="0.268" stop-color="#1a2b7e"/><stop offset="0.288" stop-color="#1a2b7e"/><stop offset="0.299" stop-color="#1b2c80"/><stop offset="0.309" stop-color="#1b2c80"/><stop offset="0.319" stop-color="#1c2d81"/><stop offset="0.340" stop-color="#1c2d81"/><stop offset="0.350" stop-color="#1d2e83"/><stop offset="0.360" stop-color="#1d2e83"/><stop offset="0.370" stop-color="#1e2e85"/><stop offset="0.391" stop-color="#1e2e85"/><stop offset="0.401" stop-color="#1f2f87"/><stop offset="0.411" stop-color="#1f2f87"/><stop offset="0.422" stop-color="#203089"/><stop offset="0.432" stop-color="#203089"/><stop offset="0.442" stop-color="#21308b"/><stop offset="0.452" stop-color="#21308b"/><stop offset="0.462" stop-color="#21318d"/><stop offset="0.473" stop-color="#21318d"/><stop offset="0.483" stop-color="#22328f"/><stop offset="0.493" stop-color="#22328f"/><stop offset="0.503" stop-color="#233390"/><stop offset="0.514" stop-color="#233390"/><stop offset="0.524" stop-color="#243392"/><stop offset="0.534" stop-color="#253494"/><stop offset="0.544" stop-color="#253494"/><stop offset="0.555" stop-color="#253595"/><stop offset="0.565" stop-color="#253595"/><stop offset="0.575" stop-color="#253795"/><stop offset="0.585" stop-color="#253795"/><stop offset="0.596" stop-color="#253896"/><stop offset="0.637" stop-color="#253896"/><stop offset="0.647" stop-color="#253795"/><stop offset="0.677" stop-color="#253795"/><stop offset="0.688" stop-color="#253595"/><stop offset="0.718" stop-color="#253595"/><stop offset="0.729" stop-color="#253494"/><stop offset="0.759" stop-color="#253494"/><stop offset="0.770" stop-color="#243392"/><stop offset="0.800" stop-color="#243392"/><stop offset="0.811" stop-color="#233390"/><stop offset="0.821" stop-color="#233390"/><stop offset="0.831" stop-color="#22328f"/><stop offset="0.841" stop-color="#21318d"/><stop offset="0.852" stop-color="#21308b"/><stop offset="0.862" stop-color="#203089"/><stop offset="0.872" stop-color="#203089"/><stop offset="0.882" stop-color="#1f2f87"/><stop offset="0.892" stop-color="#1e2e85"/><stop offset="0.903" stop-color="#1d2e83"/><stop offset="0.913" stop-color="#1c2d81"/><stop offset="0.923" stop-color="#1c2d81"/><stop offset="0.933" stop-color="#1b2c80"/><stop offset="0.944" stop-color="#1a2b7e"/><stop offset="0.954" stop-color="#152772" stop-opacity="0.94"/><stop offset="0.964" stop-color="#0e2265" stop-opacity="0.72"/><stop offset="0.974" stop-color="#0c2060" stop-opacity="0.51"/><stop offset="0.985" stop-color="#0b1f5e" stop-opacity="0.3"/><stop offset="0.995" stop-color="#0a1e5c" stop-opacity="0.1"/><stop offset="0.998" stop-color="#091e5a" stop-opacity="0.04"/></linearGradient><linearGradient id="g9" x2="0" y2="1"><stop offset="0.002" stop-color="#091e5a" stop-opacity="0.01"/><stop offset="0.011" stop-color="#091e5a" stop-opacity="0.09"/><stop offset="0.021" stop-color="#091e5a" stop-opacity="0.17"/><stop offset="0.031" stop-color="#0a1e5c" stop-opacity="0.27"/><stop offset="0.041" stop-color="#0a1e5c" stop-opacity="0.37"/><stop offset="0.051" stop-color="#0b1f5e" stop-opacity="0.47"/><stop offset="0.060" stop-color="#0b1f5e" stop-opacity="0.57"/><stop offset="0.070" stop-color="#0c2060" stop-opacity="0.68"/><stop offset="0.080" stop-color="#0d2161" stop-opacity="0.78"/><stop offset="0.090" stop-color="#0f2367" stop-opacity="0.9"/><stop offset="0.100" stop-color="#13266f"/><stop offset="0.129" stop-color="#13266f"/><stop offset="0.139" stop-color="#142670"/><stop offset="0.168" stop-color="#142670"/><stop offset="0.178" stop-color="#152772"/><stop offset="0.208" stop-color="#152772"/><stop offset="0.217" stop-color="#162874"/><stop offset="0.247" stop-color="#162874"/><stop offset="0.257" stop-color="#172976"/><stop offset="0.286" stop-color="#172976"/><stop offset="0.296" stop-color="#172978"/><stop offset="0.325" stop-color="#172978"/><stop offset="0.335" stop-color="#182a7a"/><stop offset="0.364" stop-color="#182a7a"/><stop offset="0.374" stop-color="#192b7c"/><stop offset="0.394" stop-color="#192b7c"/><stop offset="0.404" stop-color="#1a2b7e"/><stop offset="0.433" stop-color="#1a2b7e"/><stop offset="0.443" stop-color="#1b2c80"/><stop offset="0.472" stop-color="#1b2c80"/><stop offset="0.482" stop-color="#1c2d81"/><stop offset="0.511" stop-color="#1c2d81"/><stop offset="0.521" stop-color="#1d2e83"/><stop offset="0.551" stop-color="#1d2e83"/><stop offset="0.560" stop-color="#1e2e85"/><stop offset="0.590" stop-color="#1e2e85"/><stop offset="0.600" stop-color="#1f2f87"/><stop offset="0.786" stop-color="#1f2f87"/><stop offset="0.796" stop-color="#1e2e85"/><stop offset="0.806" stop-color="#1e2e85"/><stop offset="0.815" stop-color="#1d2e83"/><stop offset="0.825" stop-color="#1d2e83"/><stop offset="0.835" stop-color="#1c2d81"/><stop offset="0.855" stop-color="#1c2d81"/><stop offset="0.864" stop-color="#1b2c80"/><stop offset="0.874" stop-color="#1b2c80"/><stop offset="0.884" stop-color="#1a2b7e"/><stop offset="0.894" stop-color="#1a2b7e"/><stop offset="0.904" stop-color="#192b7c"/><stop offset="0.913" stop-color="#192b7c"/><stop offset="0.923" stop-color="#182a7a"/><stop offset="0.933" stop-color="#182a7a"/><stop offset="0.943" stop-color="#172978"/><stop offset="0.953" stop-color="#172978"/><stop offset="0.962" stop-color="#172976"/><stop offset="0.972" stop-color="#172976"/><stop offset="0.982" stop-color="#0e2265" stop-opacity="0.81"/><stop offset="0.992" stop-color="#0b1f5e" stop-opacity="0.38"/><stop offset="0.998" stop-color="#091e5a" stop-opacity="0.11"/></linearGradient><linearGradient id="g10" x2="0" y2="1"><stop offset="0.002" stop-color="#0a1e5c" stop-opacity="0.02"/><stop offset="0.011" stop-color="#0a1e5c" stop-opacity="0.1"/><stop offset="0.021" stop-color="#0b1f5e" stop-opacity="0.18"/><stop offset="0.031" stop-color="#0b1f5e" stop-opacity="0.26"/><stop offset="0.040" stop-color="#0c2060" stop-opacity="0.33"/><stop offset="0.050" stop-color="#0c2060" stop-opacity="0.39"/><stop offset="0.060" stop-color="#0d2161" stop-opacity="0.44"/><stop offset="0.070" stop-color="#0d2161" stop-opacity="0.5"/><stop offset="0.079" stop-color="#0d2163" stop-opacity="0.56"/><stop offset="0.089" stop-color="#0e2265" stop-opacity="0.62"/><stop offset="0.099" stop-color="#0f2367" stop-opacity="0.68"/><stop offset="0.108" stop-color="#102369" stop-opacity="0.74"/><stop offset="0.118" stop-color="#12256d" stop-opacity="0.81"/><stop offset="0.128" stop-color="#152772" stop-opacity="0.9"/><stop offset="0.138" stop-color="#1c2d81"/><stop offset="0.206" stop-color="#1c2d81"/><stop offset="0.215" stop-color="#1d2e83"/><stop offset="0.361" stop-color="#1d2e83"/><stop offset="0.371" stop-color="#1e2e85"/><stop offset="0.516" stop-color="#1e2e85"/><stop offset="0.526" stop-color="#1f2f87"/><stop offset="0.672" stop-color="#1f2f87"/><stop offset="0.681" stop-color="#1e2e85"/><stop offset="0.769" stop-color="#1e2e85"/><stop offset="0.778" stop-color="#1d2e83"/><stop offset="0.856" stop-color="#1d2e83"/><stop offset="0.866" stop-color="#1c2d81"/><stop offset="0.953" stop-color="#1c2d81"/><stop offset="0.963" stop-color="#172976" stop-opacity="0.94"/><stop offset="0.972" stop-color="#0f2367" stop-opacity="0.69"/><stop offset="0.982" stop-color="#0d2161" stop-opacity="0.45"/><stop offset="0.992" stop-color="#0b1f5e" stop-opacity="0.2"/><stop offset="0.998" stop-color="#0a1e5c" stop-opacity="0.06"/></linearGradient><linearGradient id="g11" x2="0" y2="1"><stop offset="0.002" stop-color="#0a1e5c" stop-opacity="0.02"/><stop offset="0.011" stop-color="#0a1e5c" stop-opacity="0.08"/><stop offset="0.021" stop-color="#0a1e5c" stop-opacity="0.14"/><stop offset="0.030" stop-color="#0b1f5e" stop-opacity="0.2"/><stop offset="0.040" stop-color="#0b1f5e" stop-opacity="0.26"/><stop offset="0.050" stop-color="#0c2060" stop-opacity="0.32"/><stop offset="0.059" stop-color="#0c2060" stop-opacity="0.39"/><stop offset="0.069" stop-color="#0d2161" stop-opacity="0.46"/><stop offset="0.079" stop-color="#0d2163" stop-opacity="0.54"/><stop offset="0.088" stop-color="#0e2265" stop-opacity="0.61"/><stop offset="0.098" stop-color="#0f2367" stop-opacity="0.68"/><stop offset="0.107" stop-color="#102369" stop-opacity="0.75"/><stop offset="0.117" stop-color="#12256d" stop-opacity="0.81"/><stop offset="0.127" stop-color="#152772" stop-opacity="0.9"/><stop offset="0.136" stop-color="#1c2d81"/><stop offset="0.223" stop-color="#1c2d81"/><stop offset="0.232" stop-color="#1d2e83"/><stop offset="0.386" stop-color="#1d2e83"/><stop offset="0.396" stop-color="#1e2e85"/><stop offset="0.540" stop-color="#1e2e85"/><stop offset="0.550" stop-color="#1f2f87"/><stop offset="0.694" stop-color="#1f2f87"/><stop offset="0.704" stop-color="#1e2e85"/><stop offset="0.780" stop-color="#1e2e85"/><stop offset="0.790" stop-color="#1d2e83"/><stop offset="0.877" stop-color="#1d2e83"/><stop offset="0.886" stop-color="#1c2d81"/><stop offset="0.944" stop-color="#1c2d81"/><stop offset="0.954" stop-color="#142670" stop-opacity="0.87"/><stop offset="0.963" stop-color="#0f2367" stop-opacity="0.68"/><stop offset="0.973" stop-color="#0d2161" stop-opacity="0.49"/><stop offset="0.982" stop-color="#0c2060" stop-opacity="0.3"/><stop offset="0.992" stop-color="#0a1e5c" stop-opacity="0.12"/><stop offset="0.998" stop-color="#0a1e5c" stop-opacity="0.01"/></linearGradient><linearGradient id="g12" x2="0" y2="1"><stop offset="0.002" stop-color="#0a1e5c" stop-opacity="0.02"/><stop offset="0.011" stop-color="#0a1e5c" stop-opacity="0.06"/><stop offset="0.020" stop-color="#0a1e5c" stop-opacity="0.1"/><stop offset="0.029" stop-color="#0a1e5c" stop-opacity="0.15"/><stop offset="0.039" stop-color="#0b1f5e" stop-opacity="0.19"/><stop offset="0.048" stop-color="#0b1f5e" stop-opacity="0.24"/><stop offset="0.057" stop-color="#0b1f5e" stop-opacity="0.29"/><stop offset="0.067" stop-color="#0c2060" stop-opacity="0.34"/><stop offset="0.076" stop-color="#0c2060" stop-opacity="0.39"/><stop offset="0.085" stop-color="#0d2161" stop-opacity="0.44"/><stop offset="0.094" stop-color="#0d2161" stop-opacity="0.49"/><stop offset="0.104" stop-color="#0d2163" stop-opacity="0.54"/><stop offset="0.113" stop-color="#0d2163" stop-opacity="0.59"/><stop offset="0.122" stop-color="#0e2265" stop-opacity="0.63"/><stop offset="0.132" stop-color="#0f2367" stop-opacity="0.67"/><stop offset="0.141" stop-color="#0f2367" stop-opacity="0.71"/><stop offset="0.150" stop-color="#102369" stop-opacity="0.75"/><stop offset="0.159" stop-color="#11246b" stop-opacity="0.78"/><stop offset="0.169" stop-color="#12256d" stop-opacity="0.82"/><stop offset="0.178" stop-color="#142670" stop-opacity="0.87"/><stop offset="0.187" stop-color="#1c2d81" stop-opacity="0.99"/><stop offset="0.197" stop-color="#1c2d81"/><stop offset="0.271" stop-color="#1c2d81"/><stop offset="0.280" stop-color="#1d2e83"/><stop offset="0.420" stop-color="#1d2e83"/><stop offset="0.429" stop-color="#1e2e85"/><stop offset="0.577" stop-color="#1e2e85"/><stop offset="0.587" stop-color="#1f2f87"/><stop offset="0.717" stop-color="#1f2f87"/><stop offset="0.726" stop-color="#1e2e85"/><stop offset="0.810" stop-color="#1e2e85"/><stop offset="0.819" stop-color="#1d2e83"/><stop offset="0.902" stop-color="#1d2e83"/><stop offset="0.912" stop-color="#1c2d81"/><stop offset="0.940" stop-color="#1c2d81"/><stop offset="0.949" stop-color="#1c2d81" stop-opacity="0.99"/><stop offset="0.958" stop-color="#12256d" stop-opacity="0.81"/><stop offset="0.967" stop-color="#0e2265" stop-opacity="0.64"/><stop offset="0.977" stop-color="#0d2161" stop-opacity="0.45"/><stop offset="0.986" stop-color="#0b1f5e" stop-opacity="0.27"/><stop offset="0.995" stop-color="#0a1e5c" stop-opacity="0.1"/><stop offset="0.998" stop-color="#0a1e5c" stop-opacity="0.05"/></linearGradient><linearGradient id="g13" x2="0" y2="1"><stop offset="0.002" stop-color="#0a1e5c" stop-opacity="0.01"/><stop offset="0.011" stop-color="#0a1e5c" stop-opacity="0.03"/><stop offset="0.020" stop-color="#0a1e5c" stop-opacity="0.04"/><stop offset="0.029" stop-color="#0a1e5c" stop-opacity="0.05"/><stop offset="0.038" stop-color="#0a1e5c" stop-opacity="0.07"/><stop offset="0.048" stop-color="#0a1e5c" stop-opacity="0.08"/><stop offset="0.057" stop-color="#0a1e5c" stop-opacity="0.1"/><stop offset="0.066" stop-color="#0a1e5c" stop-opacity="0.12"/><stop offset="0.075" stop-color="#0a1e5c" stop-opacity="0.14"/><stop offset="0.085" stop-color="#0b1f5e" stop-opacity="0.17"/><stop offset="0.094" stop-color="#0b1f5e" stop-opacity="0.19"/><stop offset="0.103" stop-color="#0b1f5e" stop-opacity="0.22"/><stop offset="0.112" stop-color="#0b1f5e" stop-opacity="0.25"/><stop offset="0.122" stop-color="#0b1f5e" stop-opacity="0.28"/><stop offset="0.131" stop-color="#0c2060" stop-opacity="0.31"/><stop offset="0.140" stop-color="#0c2060" stop-opacity="0.33"/><stop offset="0.149" stop-color="#0c2060" stop-opacity="0.37"/><stop offset="0.158" stop-color="#0d2161" stop-opacity="0.43"/><stop offset="0.168" stop-color="#0d2161" stop-opacity="0.49"/><stop offset="0.177" stop-color="#0d2163" stop-opacity="0.56"/><stop offset="0.186" stop-color="#0e2265" stop-opacity="0.63"/><stop offset="0.195" stop-color="#0f2367" stop-opacity="0.69"/><stop offset="0.205" stop-color="#102369" stop-opacity="0.75"/><stop offset="0.214" stop-color="#12256d" stop-opacity="0.8"/><stop offset="0.223" stop-color="#13266f" stop-opacity="0.84"/><stop offset="0.232" stop-color="#13266f" stop-opacity="0.86"/><stop offset="0.242" stop-color="#13266f" stop-opacity="0.86"/><stop offset="0.251" stop-color="#142670" stop-opacity="0.86"/><stop offset="0.260" stop-color="#142670" stop-opacity="0.87"/><stop offset="0.278" stop-color="#142670" stop-opacity="0.87"/><stop offset="0.288" stop-color="#142670" stop-opacity="0.88"/><stop offset="0.297" stop-color="#142670" stop-opacity="0.88"/><stop offset="0.306" stop-color="#152772" stop-opacity="0.88"/><stop offset="0.315" stop-color="#152772" stop-opacity="0.89"/><stop offset="0.343" stop-color="#152772" stop-opacity="0.89"/><stop offset="0.352" stop-color="#152772" stop-opacity="0.9"/><stop offset="0.362" stop-color="#162874" stop-opacity="0.9"/><stop offset="0.380" stop-color="#162874" stop-opacity="0.9"/><stop offset="0.389" stop-color="#162874" stop-opacity="0.91"/><stop offset="0.398" stop-color="#162874" stop-opacity="0.91"/><stop offset="0.408" stop-color="#172976" stop-opacity="0.91"/><stop offset="0.417" stop-color="#172976" stop-opacity="0.91"/><stop offset="0.426" stop-color="#172976" stop-opacity="0.92"/><stop offset="0.454" stop-color="#172976" stop-opacity="0.92"/><stop offset="0.463" stop-color="#172978" stop-opacity="0.93"/><stop offset="0.491" stop-color="#172978" stop-opacity="0.93"/><stop offset="0.500" stop-color="#172978" stop-opacity="0.94"/><stop offset="0.509" stop-color="#182a7a" stop-opacity="0.94"/><stop offset="0.546" stop-color="#182a7a" stop-opacity="0.94"/><stop offset="0.555" stop-color="#182a7a" stop-opacity="0.93"/><stop offset="0.592" stop-color="#182a7a" stop-opacity="0.93"/><stop offset="0.602" stop-color="#172978" stop-opacity="0.93"/><stop offset="0.620" stop-color="#172978" stop-opacity="0.93"/><stop offset="0.629" stop-color="#172978" stop-opacity="0.92"/><stop offset="0.685" stop-color="#172978" stop-opacity="0.92"/><stop offset="0.694" stop-color="#172978" stop-opacity="0.91"/><stop offset="0.703" stop-color="#172978" stop-opacity="0.91"/><stop offset="0.712" stop-color="#172976" stop-opacity="0.91"/><stop offset="0.740" stop-color="#172976" stop-opacity="0.91"/><stop offset="0.749" stop-color="#172976" stop-opacity="0.9"/><stop offset="0.758" stop-color="#172976" stop-opacity="0.9"/><stop offset="0.768" stop-color="#162874" stop-opacity="0.9"/><stop offset="0.805" stop-color="#162874" stop-opacity="0.9"/><stop offset="0.814" stop-color="#162874" stop-opacity="0.89"/><stop offset="0.823" stop-color="#152772" stop-opacity="0.89"/><stop offset="0.832" stop-color="#152772" stop-opacity="0.88"/><stop offset="0.842" stop-color="#152772" stop-opacity="0.87"/><stop offset="0.851" stop-color="#142670" stop-opacity="0.86"/><stop offset="0.860" stop-color="#13266f" stop-opacity="0.85"/><stop offset="0.869" stop-color="#13266f" stop-opacity="0.83"/><stop offset="0.878" stop-color="#12256d" stop-opacity="0.82"/><stop offset="0.888" stop-color="#12256d" stop-opacity="0.8"/><stop offset="0.897" stop-color="#11246b" stop-opacity="0.79"/><stop offset="0.906" stop-color="#11246b" stop-opacity="0.77"/><stop offset="0.915" stop-color="#11246b" stop-opacity="0.75"/><stop offset="0.925" stop-color="#102369" stop-opacity="0.74"/><stop offset="0.934" stop-color="#102369" stop-opacity="0.72"/><stop offset="0.943" stop-color="#0f2367" stop-opacity="0.7"/><stop offset="0.952" stop-color="#0f2367" stop-opacity="0.66"/><stop offset="0.962" stop-color="#0d2163" stop-opacity="0.57"/><stop offset="0.971" stop-color="#0d2161" stop-opacity="0.43"/><stop offset="0.980" stop-color="#0c2060" stop-opacity="0.29"/><stop offset="0.989" stop-color="#0b1f5e" stop-opacity="0.16"/><stop offset="0.998" stop-color="#0a1e5c" stop-opacity="0.05"/></linearGradient><linearGradient id="g14" x2="0" y2="1"><stop offset="0.002" stop-color="#0a1e5c" stop-opacity="0.02"/><stop offset="0.011" stop-color="#0a1e5c" stop-opacity="0.08"/><stop offset="0.021" stop-color="#0a1e5c" stop-opacity="0.13"/><stop offset="0.031" stop-color="#0b1f5e" stop-opacity="0.19"/><stop offset="0.040" stop-color="#0b1f5e" stop-opacity="0.25"/><stop offset="0.050" stop-color="#0c2060" stop-opacity="0.32"/><stop offset="0.059" stop-color="#0c2060" stop-opacity="0.38"/><stop offset="0.069" stop-color="#0d2161" stop-opacity="0.45"/><stop offset="0.079" stop-color="#0d2161" stop-opacity="0.51"/><stop offset="0.088" stop-color="#0d2163" stop-opacity="0.57"/><stop offset="0.098" stop-color="#0e2265" stop-opacity="0.63"/><stop offset="0.108" stop-color="#0f2367" stop-opacity="0.69"/><stop offset="0.117" stop-color="#102369" stop-opacity="0.74"/><stop offset="0.127" stop-color="#102369" stop-opacity="0.77"/><stop offset="0.137" stop-color="#11246b" stop-opacity="0.79"/><stop offset="0.146" stop-color="#11246b" stop-opacity="0.81"/><stop offset="0.156" stop-color="#12256d" stop-opacity="0.82"/><stop offset="0.166" stop-color="#13266f" stop-opacity="0.84"/><stop offset="0.175" stop-color="#13266f" stop-opacity="0.86"/><stop offset="0.185" stop-color="#142670" stop-opacity="0.87"/><stop offset="0.195" stop-color="#142670" stop-opacity="0.88"/><stop offset="0.204" stop-color="#152772" stop-opacity="0.89"/><stop offset="0.243" stop-color="#152772" stop-opacity="0.89"/><stop offset="0.252" stop-color="#152772" stop-opacity="0.9"/><stop offset="0.301" stop-color="#152772" stop-opacity="0.9"/><stop offset="0.310" stop-color="#162874" stop-opacity="0.9"/><stop offset="0.349" stop-color="#162874" stop-opacity="0.9"/><stop offset="0.359" stop-color="#162874" stop-opacity="0.91"/><stop offset="0.416" stop-color="#162874" stop-opacity="0.91"/><stop offset="0.426" stop-color="#172976" stop-opacity="0.91"/><stop offset="0.474" stop-color="#172976" stop-opacity="0.91"/><stop offset="0.484" stop-color="#172976" stop-opacity="0.92"/><stop offset="0.532" stop-color="#172976" stop-opacity="0.92"/><stop offset="0.542" stop-color="#172976" stop-opacity="0.91"/><stop offset="0.590" stop-color="#172976" stop-opacity="0.91"/><stop offset="0.600" stop-color="#172976" stop-opacity="0.9"/><stop offset="0.648" stop-color="#172976" stop-opacity="0.9"/><stop offset="0.658" stop-color="#172976" stop-opacity="0.89"/><stop offset="0.667" stop-color="#172976" stop-opacity="0.89"/><stop offset="0.677" stop-color="#162874" stop-opacity="0.89"/><stop offset="0.696" stop-color="#162874" stop-opacity="0.89"/><stop offset="0.706" stop-color="#162874" stop-opacity="0.88"/><stop offset="0.735" stop-color="#162874" stop-opacity="0.88"/><stop offset="0.744" stop-color="#152772" stop-opacity="0.88"/><stop offset="0.754" stop-color="#152772" stop-opacity="0.87"/><stop offset="0.793" stop-color="#152772" stop-opacity="0.87"/><stop offset="0.802" stop-color="#152772" stop-opacity="0.86"/><stop offset="0.812" stop-color="#142670" stop-opacity="0.86"/><stop offset="0.831" stop-color="#142670" stop-opacity="0.86"/><stop offset="0.841" stop-color="#142670" stop-opacity="0.85"/><stop offset="0.850" stop-color="#13266f" stop-opacity="0.84"/><stop offset="0.860" stop-color="#13266f" stop-opacity="0.82"/><stop offset="0.870" stop-color="#12256d" stop-opacity="0.8"/><stop offset="0.879" stop-color="#11246b" stop-opacity="0.78"/><stop offset="0.889" stop-color="#11246b" stop-opacity="0.76"/><stop offset="0.899" stop-color="#102369" stop-opacity="0.73"/><stop offset="0.908" stop-color="#102369" stop-opacity="0.71"/><stop offset="0.918" stop-color="#0f2367" stop-opacity="0.68"/><stop offset="0.928" stop-color="#0f2367" stop-opacity="0.66"/><stop offset="0.937" stop-color="#0e2265" stop-opacity="0.63"/><stop offset="0.947" stop-color="#0e2265" stop-opacity="0.6"/><stop offset="0.957" stop-color="#0d2163" stop-opacity="0.54"/><stop offset="0.966" stop-color="#0d2161" stop-opacity="0.44"/><stop offset="0.976" stop-color="#0c2060" stop-opacity="0.32"/><stop offset="0.986" stop-color="#0b1f5e" stop-opacity="0.2"/><stop offset="0.995" stop-color="#0a1e5c" stop-opacity="0.08"/><stop offset="0.998" stop-color="#0a1e5c" stop-opacity="0.04"/></linearGradient><linearGradient id="g15" x2="0" y2="1"><stop offset="0.002" stop-color="#0a1e5c" stop-opacity="0.01"/><stop offset="0.011" stop-color="#0a1e5c" stop-opacity="0.02"/><stop offset="0.021" stop-color="#0a1e5c" stop-opacity="0.02"/><stop offset="0.031" stop-color="#0a1e5c" stop-opacity="0.03"/><stop offset="0.041" stop-color="#0a1e5c" stop-opacity="0.04"/><stop offset="0.050" stop-color="#0a1e5c" stop-opacity="0.04"/><stop offset="0.060" stop-color="#0a1e5c" stop-opacity="0.05"/><stop offset="0.070" stop-color="#0a1e5c" stop-opacity="0.06"/><stop offset="0.080" stop-color="#0a1e5c" stop-opacity="0.06"/><stop offset="0.090" stop-color="#0a1e5c" stop-opacity="0.07"/><stop offset="0.099" stop-color="#0a1e5c" stop-opacity="0.08"/><stop offset="0.109" stop-color="#0a1e5c" stop-opacity="0.08"/><stop offset="0.119" stop-color="#0a1e5c" stop-opacity="0.09"/><stop offset="0.129" stop-color="#0a1e5c" stop-opacity="0.1"/><stop offset="0.138" stop-color="#0a1e5c" stop-opacity="0.1"/><stop offset="0.148" stop-color="#0a1e5c" stop-opacity="0.11"/><stop offset="0.158" stop-color="#0a1e5c" stop-opacity="0.12"/><stop offset="0.168" stop-color="#0a1e5c" stop-opacity="0.13"/><stop offset="0.178" stop-color="#0b1f5e" stop-opacity="0.14"/><stop offset="0.187" stop-color="#0b1f5e" stop-opacity="0.17"/><stop offset="0.197" stop-color="#0b1f5e" stop-opacity="0.21"/><stop offset="0.207" stop-color="#0b1f5e" stop-opacity="0.25"/><stop offset="0.217" stop-color="#0c2060" stop-opacity="0.29"/><stop offset="0.226" stop-color="#0c2060" stop-opacity="0.33"/><stop offset="0.236" stop-color="#0c2060" stop-opacity="0.37"/><stop offset="0.246" stop-color="#0d2161" stop-opacity="0.41"/><stop offset="0.256" stop-color="#0d2161" stop-opacity="0.46"/><stop offset="0.265" stop-color="#0d2163" stop-opacity="0.5"/><stop offset="0.275" stop-color="#0d2163" stop-opacity="0.53"/><stop offset="0.285" stop-color="#0d2163" stop-opacity="0.55"/><stop offset="0.393" stop-color="#0d2163" stop-opacity="0.55"/><stop offset="0.402" stop-color="#0e2265" stop-opacity="0.55"/><stop offset="0.656" stop-color="#0e2265" stop-opacity="0.55"/><stop offset="0.666" stop-color="#0e2265" stop-opacity="0.54"/><stop offset="0.676" stop-color="#0e2265" stop-opacity="0.53"/><stop offset="0.686" stop-color="#0d2163" stop-opacity="0.5"/><stop offset="0.695" stop-color="#0d2163" stop-opacity="0.47"/><stop offset="0.705" stop-color="#0d2163" stop-opacity="0.44"/><stop offset="0.715" stop-color="#0d2161" stop-opacity="0.41"/><stop offset="0.725" stop-color="#0d2161" stop-opacity="0.38"/><stop offset="0.735" stop-color="#0d2161" stop-opacity="0.35"/><stop offset="0.744" stop-color="#0c2060" stop-opacity="0.32"/><stop offset="0.754" stop-color="#0c2060" stop-opacity="0.29"/><stop offset="0.764" stop-color="#0c2060" stop-opacity="0.26"/><stop offset="0.774" stop-color="#0c2060" stop-opacity="0.25"/><stop offset="0.783" stop-color="#0c2060" stop-opacity="0.24"/><stop offset="0.793" stop-color="#0c2060" stop-opacity="0.23"/><stop offset="0.803" stop-color="#0b1f5e" stop-opacity="0.23"/><stop offset="0.813" stop-color="#0b1f5e" stop-opacity="0.22"/><stop offset="0.822" stop-color="#0b1f5e" stop-opacity="0.21"/><stop offset="0.832" stop-color="#0b1f5e" stop-opacity="0.2"/><stop offset="0.842" stop-color="#0b1f5e" stop-opacity="0.2"/><stop offset="0.852" stop-color="#0b1f5e" stop-opacity="0.19"/><stop offset="0.862" stop-color="#0b1f5e" stop-opacity="0.18"/><stop offset="0.871" stop-color="#0b1f5e" stop-opacity="0.18"/><stop offset="0.881" stop-color="#0b1f5e" stop-opacity="0.17"/><stop offset="0.891" stop-color="#0b1f5e" stop-opacity="0.16"/><stop offset="0.901" stop-color="#0b1f5e" stop-opacity="0.15"/><stop offset="0.910" stop-color="#0b1f5e" stop-opacity="0.15"/><stop offset="0.920" stop-color="#0b1f5e" stop-opacity="0.14"/><stop offset="0.930" stop-color="#0b1f5e" stop-opacity="0.13"/><stop offset="0.940" stop-color="#0b1f5e" stop-opacity="0.13"/><stop offset="0.950" stop-color="#0b1f5e" stop-opacity="0.12"/><stop offset="0.959" stop-color="#0a1e5c" stop-opacity="0.11"/><stop offset="0.969" stop-color="#0a1e5c" stop-opacity="0.11"/><stop offset="0.979" stop-color="#0a1e5c" stop-opacity="0.1"/><stop offset="0.989" stop-color="#0a1e5c" stop-opacity="0.08"/><stop offset="0.998" stop-color="#0a1e5c" stop-opacity="0.03"/></linearGradient><linearGradient id="g16" x2="0" y2="1"><stop offset="0.002" stop-color="#0a1e5c" stop-opacity="0.01"/><stop offset="0.012" stop-color="#0a1e5c" stop-opacity="0.03"/><stop offset="0.022" stop-color="#0a1e5c" stop-opacity="0.05"/><stop offset="0.031" stop-color="#0a1e5c" stop-opacity="0.07"/><stop offset="0.041" stop-color="#0a1e5c" stop-opacity="0.1"/><stop offset="0.051" stop-color="#0a1e5c" stop-opacity="0.12"/><stop offset="0.061" stop-color="#0a1e5c" stop-opacity="0.14"/><stop offset="0.071" stop-color="#0b1f5e" stop-opacity="0.17"/><stop offset="0.081" stop-color="#0b1f5e" stop-opacity="0.19"/><stop offset="0.091" stop-color="#0b1f5e" stop-opacity="0.2"/><stop offset="0.101" stop-color="#0b1f5e" stop-opacity="0.21"/><stop offset="0.111" stop-color="#0b1f5e" stop-opacity="0.22"/><stop offset="0.121" stop-color="#0b1f5e" stop-opacity="0.24"/><stop offset="0.131" stop-color="#0b1f5e" stop-opacity="0.25"/><stop offset="0.141" stop-color="#0b1f5e" stop-opacity="0.26"/><stop offset="0.151" stop-color="#0b1f5e" stop-opacity="0.27"/><stop offset="0.161" stop-color="#0b1f5e" stop-opacity="0.28"/><stop offset="0.171" stop-color="#0c2060" stop-opacity="0.29"/><stop offset="0.180" stop-color="#0c2060" stop-opacity="0.3"/><stop offset="0.190" stop-color="#0c2060" stop-opacity="0.32"/><stop offset="0.200" stop-color="#0c2060" stop-opacity="0.33"/><stop offset="0.210" stop-color="#0c2060" stop-opacity="0.34"/><stop offset="0.220" stop-color="#0c2060" stop-opacity="0.34"/><stop offset="0.230" stop-color="#0c2060" stop-opacity="0.35"/><stop offset="0.598" stop-color="#0c2060" stop-opacity="0.35"/><stop offset="0.608" stop-color="#0d2161" stop-opacity="0.35"/><stop offset="0.767" stop-color="#0d2161" stop-opacity="0.35"/><stop offset="0.776" stop-color="#0d2161" stop-opacity="0.34"/><stop offset="0.786" stop-color="#0c2060" stop-opacity="0.32"/><stop offset="0.796" stop-color="#0c2060" stop-opacity="0.29"/><stop offset="0.806" stop-color="#0c2060" stop-opacity="0.27"/><stop offset="0.816" stop-color="#0c2060" stop-opacity="0.24"/><stop offset="0.826" stop-color="#0b1f5e" stop-opacity="0.21"/><stop offset="0.836" stop-color="#0b1f5e" stop-opacity="0.19"/><stop offset="0.846" stop-color="#0b1f5e" stop-opacity="0.16"/><stop offset="0.856" stop-color="#0b1f5e" stop-opacity="0.14"/><stop offset="0.866" stop-color="#0b1f5e" stop-opacity="0.11"/><stop offset="0.876" stop-color="#0b1f5e" stop-opacity="0.09"/><stop offset="0.886" stop-color="#0a1e5c" stop-opacity="0.08"/><stop offset="0.896" stop-color="#0a1e5c" stop-opacity="0.07"/><stop offset="0.906" stop-color="#0a1e5c" stop-opacity="0.07"/><stop offset="0.916" stop-color="#0a1e5c" stop-opacity="0.06"/><stop offset="0.925" stop-color="#0a1e5c" stop-opacity="0.06"/><stop offset="0.935" stop-color="#0a1e5c" stop-opacity="0.05"/><stop offset="0.945" stop-color="#0a1e5c" stop-opacity="0.04"/><stop offset="0.955" stop-color="#0a1e5c" stop-opacity="0.04"/><stop offset="0.965" stop-color="#0a1e5c" stop-opacity="0.03"/><stop offset="0.975" stop-color="#0a1e5c" stop-opacity="0.02"/><stop offset="0.985" stop-color="#0a1e5c" stop-opacity="0.02"/><stop offset="0.995" stop-color="#0a1e5c" stop-opacity="0.01"/><stop offset="0.998" stop-color="#0a1e5c" stop-opacity="0.01"/></linearGradient><linearGradient id="g17" x2="0" y2="1"><stop offset="0.001" stop-color="#0a1e5c" stop-opacity="0.02"/><stop offset="0.010" stop-color="#0b1f5e" stop-opacity="0.17"/><stop offset="0.107" stop-color="#0b1f5e" stop-opacity="0.17"/><stop offset="0.115" stop-color="#0b1f5e" stop-opacity="0.16"/><stop offset="0.300" stop-color="#0b1f5e" stop-opacity="0.16"/><stop offset="0.308" stop-color="#0b1f5e" stop-opacity="0.15"/><stop offset="0.493" stop-color="#0b1f5e" stop-opacity="0.15"/><stop offset="0.501" stop-color="#0b1f5e" stop-opacity="0.14"/><stop offset="0.686" stop-color="#0b1f5e" stop-opacity="0.14"/><stop offset="0.694" stop-color="#0b1f5e" stop-opacity="0.13"/><stop offset="0.887" stop-color="#0b1f5e" stop-opacity="0.13"/><stop offset="0.896" stop-color="#0b1f5e" stop-opacity="0.12"/><stop offset="0.966" stop-color="#0b1f5e" stop-opacity="0.12"/><stop offset="0.975" stop-color="#0a1e5c" stop-opacity="0.12"/><stop offset="0.984" stop-color="#0a1e5c" stop-opacity="0.11"/><stop offset="0.993" stop-color="#0a1e5c" stop-opacity="0.07"/><stop offset="0.999" stop-color="#0a1e5c" stop-opacity="0.01"/></linearGradient><linearGradient id="g18" x2="0" y2="1"><stop offset="0.002" stop-color="#0a1e5c" stop-opacity="0.05"/><stop offset="0.012" stop-color="#0a1e5c" stop-opacity="0.05"/><stop offset="0.021" stop-color="#0a1e5c" stop-opacity="0.06"/><stop offset="0.041" stop-color="#0a1e5c" stop-opacity="0.06"/><stop offset="0.051" stop-color="#0a1e5c" stop-opacity="0.07"/><stop offset="0.071" stop-color="#0a1e5c" stop-opacity="0.07"/><stop offset="0.081" stop-color="#0a1e5c" stop-opacity="0.08"/><stop offset="0.110" stop-color="#0a1e5c" stop-opacity="0.08"/><stop offset="0.120" stop-color="#0a1e5c" stop-opacity="0.09"/><stop offset="0.140" stop-color="#0a1e5c" stop-opacity="0.09"/><stop offset="0.150" stop-color="#0a1e5c" stop-opacity="0.1"/><stop offset="0.169" stop-color="#0a1e5c" stop-opacity="0.1"/><stop offset="0.179" stop-color="#0a1e5c" stop-opacity="0.11"/><stop offset="0.199" stop-color="#0a1e5c" stop-opacity="0.11"/><stop offset="0.209" stop-color="#0a1e5c" stop-opacity="0.12"/><stop offset="0.229" stop-color="#0a1e5c" stop-opacity="0.12"/><stop offset="0.238" stop-color="#0a1e5c" stop-opacity="0.13"/><stop offset="0.258" stop-color="#0a1e5c" stop-opacity="0.13"/><stop offset="0.268" stop-color="#0b1f5e" stop-opacity="0.14"/><stop offset="0.298" stop-color="#0b1f5e" stop-opacity="0.14"/><stop offset="0.308" stop-color="#0b1f5e" stop-opacity="0.15"/><stop offset="0.387" stop-color="#0b1f5e" stop-opacity="0.15"/><stop offset="0.396" stop-color="#0b1f5e" stop-opacity="0.14"/><stop offset="0.515" stop-color="#0b1f5e" stop-opacity="0.14"/><stop offset="0.525" stop-color="#0b1f5e" stop-opacity="0.13"/><stop offset="0.653" stop-color="#0b1f5e" stop-opacity="0.13"/><stop offset="0.663" stop-color="#0b1f5e" stop-opacity="0.12"/><stop offset="0.781" stop-color="#0b1f5e" stop-opacity="0.12"/><stop offset="0.791" stop-color="#0b1f5e" stop-opacity="0.11"/><stop offset="0.919" stop-color="#0b1f5e" stop-opacity="0.11"/><stop offset="0.929" stop-color="#0b1f5e" stop-opacity="0.1"/><stop offset="0.969" stop-color="#0b1f5e" stop-opacity="0.1"/><stop offset="0.979" stop-color="#0a1e5c" stop-opacity="0.08"/><stop offset="0.988" stop-color="#0a1e5c" stop-opacity="0.05"/><stop offset="0.998" stop-color="#0a1e5c" stop-opacity="0.01"/></linearGradient></defs><g clip-path="url(#clipB)"><rect x="90.33" y="843.0" width="8.2" height="153.0" fill="url(#g0)"/><rect x="107.60" y="828.0" width="8.2" height="168.0" fill="url(#g1)"/><rect x="124.86" y="816.0" width="8.2" height="180.0" fill="url(#g2)"/><rect x="142.13" y="777.0" width="8.2" height="214.0" fill="url(#g3)"/><rect x="159.40" y="754.0" width="8.2" height="238.0" fill="url(#g4)"/><rect x="176.66" y="748.0" width="8.2" height="243.0" fill="url(#g5)"/><rect x="193.93" y="735.0" width="8.2" height="246.0" fill="url(#g6)"/><rect x="211.19" y="705.0" width="8.2" height="273.0" fill="url(#g7)"/><rect x="228.46" y="681.0" width="8.2" height="293.0" fill="url(#g8)"/><rect x="245.73" y="661.0" width="8.2" height="306.0" fill="url(#g9)"/><rect x="262.99" y="659.0" width="8.2" height="309.0" fill="url(#g10)"/><rect x="280.26" y="651.0" width="8.2" height="312.0" fill="url(#g11)"/><rect x="297.52" y="634.0" width="8.2" height="323.0" fill="url(#g12)"/><rect x="314.79" y="631.0" width="8.2" height="325.0" fill="url(#g13)"/><rect x="332.06" y="638.0" width="8.2" height="311.0" fill="url(#g14)"/><rect x="349.32" y="635.0" width="8.2" height="307.0" fill="url(#g15)"/><rect x="366.59" y="615.0" width="8.2" height="302.0" fill="url(#g16)"/><rect x="383.85" y="602.0" width="8.2" height="342.0" fill="url(#g17)"/><rect x="401.12" y="604.0" width="8.2" height="304.0" fill="url(#g18)"/><filter id="mb" x="-5%" y="-5%" width="110%" height="110%"><feGaussianBlur stdDeviation="0.4"/></filter><g fill="none" stroke-width="1.15" stroke-opacity="0.13" filter="url(#mb)"><path stroke="#081d58" d="M90.4 776.5l8 8m0-8l-8 8M90.4 802.0l8 8m0-8l-8 8M90.4 811.1l8 8m0-8l-8 8M90.4 820.7l8 8m0-8l-8 8M90.4 831.1l8 8m0-8l-8 8M107.7 773.3l8 8m0-8l-8 8M107.7 784.4l8 8m0-8l-8 8M107.7 793.5l8 8m0-8l-8 8M107.7 804.1l8 8m0-8l-8 8M107.7 814.9l8 8m0-8l-8 8M107.7 995.7l8 8m0-8l-8 8M125.0 764.1l8 8m0-8l-8 8M125.0 775.1l8 8m0-8l-8 8M125.0 786.7l8 8m0-8l-8 8M125.0 799.6l8 8m0-8l-8 8M125.0 808.7l8 8m0-8l-8 8M125.0 998.4l8 8m0-8l-8 8M142.2 751.3l8 8m0-8l-8 8M142.2 761.4l8 8m0-8l-8 8M142.2 771.1l8 8m0-8l-8 8M142.2 989.1l8 8m0-8l-8 8M159.5 669.4l8 8m0-8l-8 8M159.5 694.2l8 8m0-8l-8 8M159.5 724.2l8 8m0-8l-8 8M159.5 733.4l8 8m0-8l-8 8M159.5 742.8l8 8m0-8l-8 8M176.8 673.2l8 8m0-8l-8 8M176.8 694.1l8 8m0-8l-8 8M176.8 710.9l8 8m0-8l-8 8M176.8 721.1l8 8m0-8l-8 8M176.8 731.0l8 8m0-8l-8 8M176.8 742.1l8 8m0-8l-8 8M176.8 990.3l8 8m0-8l-8 8M194.0 666.4l8 8m0-8l-8 8M194.0 675.6l8 8m0-8l-8 8M194.0 692.7l8 8m0-8l-8 8M194.0 704.0l8 8m0-8l-8 8M194.0 714.0l8 8m0-8l-8 8M194.0 723.2l8 8m0-8l-8 8M211.3 641.3l8 8m0-8l-8 8M211.3 659.8l8 8m0-8l-8 8M211.3 670.5l8 8m0-8l-8 8M211.3 680.5l8 8m0-8l-8 8M211.3 690.6l8 8m0-8l-8 8M228.6 656.3l8 8m0-8l-8 8M228.6 665.9l8 8m0-8l-8 8M228.6 676.3l8 8m0-8l-8 8M228.6 978.6l8 8m0-8l-8 8M245.8 611.8l8 8m0-8l-8 8M245.8 623.1l8 8m0-8l-8 8M245.8 632.7l8 8m0-8l-8 8M245.8 642.1l8 8m0-8l-8 8M245.8 652.5l8 8m0-8l-8 8M245.8 964.9l8 8m0-8l-8 8M263.1 603.3l8 8m0-8l-8 8M263.1 615.6l8 8m0-8l-8 8M263.1 628.5l8 8m0-8l-8 8M263.1 640.2l8 8m0-8l-8 8M263.1 972.2l8 8m0-8l-8 8M280.4 600.2l8 8m0-8l-8 8M280.4 609.6l8 8m0-8l-8 8M280.4 620.9l8 8m0-8l-8 8M280.4 630.0l8 8m0-8l-8 8M280.4 965.4l8 8m0-8l-8 8M280.4 979.9l8 8m0-8l-8 8M297.6 597.5l8 8m0-8l-8 8M297.6 607.7l8 8m0-8l-8 8M314.9 597.0l8 8m0-8l-8 8M314.9 963.1l8 8m0-8l-8 8M332.2 597.1l8 8m0-8l-8 8M332.2 606.3l8 8m0-8l-8 8M332.2 615.8l8 8m0-8l-8 8M332.2 954.5l8 8m0-8l-8 8M349.4 597.4l8 8m0-8l-8 8M349.4 954.0l8 8m0-8l-8 8M349.4 965.8l8 8m0-8l-8 8M366.7 597.5l8 8m0-8l-8 8M366.7 947.9l8 8m0-8l-8 8M383.9 958.2l8 8m0-8l-8 8M401.2 925.5l8 8m0-8l-8 8M401.2 942.6l8 8m0-8l-8 8M418.5 599.7l8 8m0-8l-8 8M418.5 903.4l8 8m0-8l-8 8M418.5 918.9l8 8m0-8l-8 8M418.5 929.0l8 8m0-8l-8 8M435.8 598.6l8 8m0-8l-8 8M435.8 899.5l8 8m0-8l-8 8M435.8 909.6l8 8m0-8l-8 8M435.8 920.3l8 8m0-8l-8 8M435.8 940.6l8 8m0-8l-8 8M453.0 597.5l8 8m0-8l-8 8M453.0 607.2l8 8m0-8l-8 8M453.0 616.9l8 8m0-8l-8 8M453.0 626.3l8 8m0-8l-8 8M453.0 642.9l8 8m0-8l-8 8M453.0 657.9l8 8m0-8l-8 8M453.0 669.2l8 8m0-8l-8 8M453.0 679.3l8 8m0-8l-8 8M453.0 689.1l8 8m0-8l-8 8M453.0 699.7l8 8m0-8l-8 8M453.0 708.9l8 8m0-8l-8 8M453.0 718.5l8 8m0-8l-8 8M453.0 727.7l8 8m0-8l-8 8M453.0 737.0l8 8m0-8l-8 8M453.0 746.9l8 8m0-8l-8 8M453.0 756.0l8 8m0-8l-8 8M453.0 765.6l8 8m0-8l-8 8M453.0 775.5l8 8m0-8l-8 8M453.0 787.4l8 8m0-8l-8 8M453.0 796.9l8 8m0-8l-8 8M453.0 806.0l8 8m0-8l-8 8M453.0 822.0l8 8m0-8l-8 8M453.0 831.5l8 8m0-8l-8 8M453.0 840.8l8 8m0-8l-8 8M453.0 851.0l8 8m0-8l-8 8M453.0 860.8l8 8m0-8l-8 8M453.0 871.3l8 8m0-8l-8 8M453.0 880.5l8 8m0-8l-8 8M453.0 890.9l8 8m0-8l-8 8M453.0 901.3l8 8m0-8l-8 8M453.0 912.5l8 8m0-8l-8 8M453.0 923.8l8 8m0-8l-8 8M453.0 934.0l8 8m0-8l-8 8M470.3 597.5l8 8m0-8l-8 8M470.3 606.8l8 8m0-8l-8 8M470.3 619.7l8 8m0-8l-8 8M470.3 629.7l8 8m0-8l-8 8M470.3 649.8l8 8m0-8l-8 8M470.3 659.9l8 8m0-8l-8 8M470.3 673.3l8 8m0-8l-8 8M470.3 682.4l8 8m0-8l-8 8M470.3 698.5l8 8m0-8l-8 8M470.3 708.0l8 8m0-8l-8 8M470.3 717.6l8 8m0-8l-8 8M470.3 727.6l8 8m0-8l-8 8M470.3 739.6l8 8m0-8l-8 8M470.3 756.3l8 8m0-8l-8 8M470.3 765.5l8 8m0-8l-8 8M470.3 775.5l8 8m0-8l-8 8M470.3 786.3l8 8m0-8l-8 8M470.3 800.1l8 8m0-8l-8 8M470.3 810.2l8 8m0-8l-8 8M470.3 820.2l8 8m0-8l-8 8M470.3 839.5l8 8m0-8l-8 8M470.3 854.0l8 8m0-8l-8 8M470.3 863.8l8 8m0-8l-8 8M470.3 873.3l8 8m0-8l-8 8M470.3 893.7l8 8m0-8l-8 8M470.3 904.3l8 8m0-8l-8 8M470.3 915.5l8 8m0-8l-8 8M487.6 600.8l8 8m0-8l-8 8M487.6 613.0l8 8m0-8l-8 8M487.6 622.9l8 8m0-8l-8 8M487.6 634.9l8 8m0-8l-8 8M487.6 647.1l8 8m0-8l-8 8M487.6 659.0l8 8m0-8l-8 8M487.6 671.5l8 8m0-8l-8 8M487.6 680.5l8 8m0-8l-8 8M487.6 697.2l8 8m0-8l-8 8M487.6 709.3l8 8m0-8l-8 8M487.6 720.2l8 8m0-8l-8 8M487.6 736.7l8 8m0-8l-8 8M487.6 756.2l8 8m0-8l-8 8M487.6 773.0l8 8m0-8l-8 8M487.6 783.7l8 8m0-8l-8 8M487.6 797.7l8 8m0-8l-8 8M487.6 809.5l8 8m0-8l-8 8M487.6 818.6l8 8m0-8l-8 8M487.6 827.9l8 8m0-8l-8 8M487.6 837.7l8 8m0-8l-8 8M487.6 846.8l8 8m0-8l-8 8M487.6 860.5l8 8m0-8l-8 8M487.6 870.2l8 8m0-8l-8 8M487.6 883.1l8 8m0-8l-8 8M487.6 894.5l8 8m0-8l-8 8M487.6 908.9l8 8m0-8l-8 8M487.6 931.6l8 8m0-8l-8 8M504.8 599.4l8 8m0-8l-8 8M504.8 609.0l8 8m0-8l-8 8M504.8 620.8l8 8m0-8l-8 8M504.8 630.1l8 8m0-8l-8 8M504.8 639.5l8 8m0-8l-8 8M504.8 652.1l8 8m0-8l-8 8M504.8 661.7l8 8m0-8l-8 8M504.8 671.2l8 8m0-8l-8 8M504.8 680.8l8 8m0-8l-8 8M504.8 695.9l8 8m0-8l-8 8M504.8 708.5l8 8m0-8l-8 8M504.8 720.1l8 8m0-8l-8 8M504.8 733.4l8 8m0-8l-8 8M504.8 745.1l8 8m0-8l-8 8M504.8 755.2l8 8m0-8l-8 8M504.8 772.5l8 8m0-8l-8 8M504.8 783.3l8 8m0-8l-8 8M504.8 792.6l8 8m0-8l-8 8M504.8 802.2l8 8m0-8l-8 8M504.8 817.9l8 8m0-8l-8 8M504.8 828.1l8 8m0-8l-8 8M504.8 837.5l8 8m0-8l-8 8M504.8 847.4l8 8m0-8l-8 8M504.8 857.2l8 8m0-8l-8 8M504.8 879.1l8 8m0-8l-8 8M504.8 888.1l8 8m0-8l-8 8M504.8 899.5l8 8m0-8l-8 8M504.8 910.7l8 8m0-8l-8 8M504.8 923.9l8 8m0-8l-8 8M522.1 597.2l8 8m0-8l-8 8M522.1 609.5l8 8m0-8l-8 8M522.1 620.1l8 8m0-8l-8 8M522.1 630.4l8 8m0-8l-8 8M522.1 654.0l8 8m0-8l-8 8M522.1 680.3l8 8m0-8l-8 8M522.1 692.3l8 8m0-8l-8 8M522.1 711.6l8 8m0-8l-8 8M522.1 723.0l8 8m0-8l-8 8M522.1 738.6l8 8m0-8l-8 8M522.1 750.4l8 8m0-8l-8 8M522.1 761.0l8 8m0-8l-8 8M522.1 771.1l8 8m0-8l-8 8M522.1 788.5l8 8m0-8l-8 8M522.1 799.4l8 8m0-8l-8 8M522.1 814.6l8 8m0-8l-8 8M522.1 823.8l8 8m0-8l-8 8M522.1 836.5l8 8m0-8l-8 8M522.1 850.3l8 8m0-8l-8 8M522.1 862.3l8 8m0-8l-8 8M522.1 915.7l8 8m0-8l-8 8M539.4 603.2l8 8m0-8l-8 8M539.4 615.7l8 8m0-8l-8 8M539.4 625.1l8 8m0-8l-8 8M539.4 646.1l8 8m0-8l-8 8M539.4 664.0l8 8m0-8l-8 8M539.4 673.5l8 8m0-8l-8 8M539.4 684.4l8 8m0-8l-8 8M539.4 693.6l8 8m0-8l-8 8M539.4 710.1l8 8m0-8l-8 8M539.4 723.8l8 8m0-8l-8 8M539.4 733.3l8 8m0-8l-8 8M539.4 743.9l8 8m0-8l-8 8M539.4 753.5l8 8m0-8l-8 8M539.4 766.6l8 8m0-8l-8 8M539.4 787.5l8 8m0-8l-8 8M539.4 813.9l8 8m0-8l-8 8M539.4 825.1l8 8m0-8l-8 8M539.4 863.2l8 8m0-8l-8 8M539.4 880.9l8 8m0-8l-8 8"/><path stroke="#0a1e5c" d="M90.4 840.5l8 8m0-8l-8 8M90.4 849.9l8 8m0-8l-8 8M107.7 824.0l8 8m0-8l-8 8M107.7 834.0l8 8m0-8l-8 8M125.0 818.3l8 8m0-8l-8 8M142.2 781.1l8 8m0-8l-8 8M159.5 753.6l8 8m0-8l-8 8M176.8 751.2l8 8m0-8l-8 8M194.0 732.7l8 8m0-8l-8 8M194.0 976.2l8 8m0-8l-8 8M211.3 700.3l8 8m0-8l-8 8M211.3 710.0l8 8m0-8l-8 8M211.3 973.0l8 8m0-8l-8 8M228.6 685.6l8 8m0-8l-8 8M228.6 967.5l8 8m0-8l-8 8M245.8 662.1l8 8m0-8l-8 8M245.8 671.9l8 8m0-8l-8 8M263.1 649.7l8 8m0-8l-8 8M263.1 658.9l8 8m0-8l-8 8M263.1 962.4l8 8m0-8l-8 8M280.4 639.7l8 8m0-8l-8 8M280.4 651.0l8 8m0-8l-8 8M297.6 616.8l8 8m0-8l-8 8M297.6 626.0l8 8m0-8l-8 8M297.6 636.5l8 8m0-8l-8 8M297.6 646.5l8 8m0-8l-8 8M297.6 956.4l8 8m0-8l-8 8M314.9 606.2l8 8m0-8l-8 8M314.9 618.6l8 8m0-8l-8 8M314.9 627.8l8 8m0-8l-8 8M314.9 637.8l8 8m0-8l-8 8M314.9 647.1l8 8m0-8l-8 8M314.9 656.5l8 8m0-8l-8 8M314.9 953.5l8 8m0-8l-8 8M332.2 627.6l8 8m0-8l-8 8M332.2 636.8l8 8m0-8l-8 8M332.2 646.7l8 8m0-8l-8 8M332.2 945.0l8 8m0-8l-8 8M349.4 606.5l8 8m0-8l-8 8M349.4 616.5l8 8m0-8l-8 8M349.4 626.3l8 8m0-8l-8 8M349.4 637.1l8 8m0-8l-8 8M349.4 648.5l8 8m0-8l-8 8M349.4 657.8l8 8m0-8l-8 8M349.4 666.9l8 8m0-8l-8 8M349.4 676.3l8 8m0-8l-8 8M349.4 685.5l8 8m0-8l-8 8M349.4 885.2l8 8m0-8l-8 8M349.4 894.5l8 8m0-8l-8 8M349.4 903.8l8 8m0-8l-8 8M349.4 914.8l8 8m0-8l-8 8M349.4 925.3l8 8m0-8l-8 8M349.4 934.7l8 8m0-8l-8 8M349.4 943.9l8 8m0-8l-8 8M366.7 606.9l8 8m0-8l-8 8M366.7 616.6l8 8m0-8l-8 8M366.7 626.0l8 8m0-8l-8 8M366.7 635.5l8 8m0-8l-8 8M366.7 645.3l8 8m0-8l-8 8M366.7 654.3l8 8m0-8l-8 8M366.7 869.5l8 8m0-8l-8 8M366.7 879.3l8 8m0-8l-8 8M366.7 889.5l8 8m0-8l-8 8M366.7 898.7l8 8m0-8l-8 8M366.7 908.4l8 8m0-8l-8 8M366.7 917.6l8 8m0-8l-8 8M366.7 927.4l8 8m0-8l-8 8M366.7 937.6l8 8m0-8l-8 8M383.9 598.4l8 8m0-8l-8 8M383.9 607.5l8 8m0-8l-8 8M383.9 616.5l8 8m0-8l-8 8M383.9 625.7l8 8m0-8l-8 8M383.9 635.6l8 8m0-8l-8 8M383.9 646.5l8 8m0-8l-8 8M383.9 655.6l8 8m0-8l-8 8M383.9 665.4l8 8m0-8l-8 8M383.9 674.7l8 8m0-8l-8 8M383.9 685.9l8 8m0-8l-8 8M383.9 695.1l8 8m0-8l-8 8M383.9 704.4l8 8m0-8l-8 8M383.9 713.6l8 8m0-8l-8 8M383.9 723.0l8 8m0-8l-8 8M383.9 732.3l8 8m0-8l-8 8M383.9 741.6l8 8m0-8l-8 8M383.9 752.7l8 8m0-8l-8 8M383.9 761.7l8 8m0-8l-8 8M383.9 771.2l8 8m0-8l-8 8M383.9 780.3l8 8m0-8l-8 8M383.9 791.3l8 8m0-8l-8 8M383.9 801.2l8 8m0-8l-8 8M383.9 810.3l8 8m0-8l-8 8M383.9 819.5l8 8m0-8l-8 8M383.9 828.6l8 8m0-8l-8 8M383.9 838.0l8 8m0-8l-8 8M383.9 848.5l8 8m0-8l-8 8M383.9 857.8l8 8m0-8l-8 8M383.9 867.0l8 8m0-8l-8 8M383.9 876.1l8 8m0-8l-8 8M383.9 885.2l8 8m0-8l-8 8M383.9 894.4l8 8m0-8l-8 8M383.9 905.9l8 8m0-8l-8 8M383.9 916.4l8 8m0-8l-8 8M383.9 927.3l8 8m0-8l-8 8M383.9 936.4l8 8m0-8l-8 8M383.9 946.2l8 8m0-8l-8 8M401.2 597.8l8 8m0-8l-8 8M401.2 607.2l8 8m0-8l-8 8M401.2 616.4l8 8m0-8l-8 8M401.2 626.6l8 8m0-8l-8 8M401.2 637.0l8 8m0-8l-8 8M401.2 646.0l8 8m0-8l-8 8M401.2 656.5l8 8m0-8l-8 8M401.2 665.9l8 8m0-8l-8 8M401.2 675.5l8 8m0-8l-8 8M401.2 685.0l8 8m0-8l-8 8M401.2 694.3l8 8m0-8l-8 8M401.2 705.2l8 8m0-8l-8 8M401.2 714.3l8 8m0-8l-8 8M401.2 723.5l8 8m0-8l-8 8M401.2 733.5l8 8m0-8l-8 8M401.2 742.7l8 8m0-8l-8 8M401.2 752.2l8 8m0-8l-8 8M401.2 761.4l8 8m0-8l-8 8M401.2 770.9l8 8m0-8l-8 8M401.2 780.4l8 8m0-8l-8 8M401.2 789.4l8 8m0-8l-8 8M401.2 798.6l8 8m0-8l-8 8M401.2 807.8l8 8m0-8l-8 8M401.2 817.3l8 8m0-8l-8 8M401.2 826.5l8 8m0-8l-8 8M401.2 835.6l8 8m0-8l-8 8M401.2 845.5l8 8m0-8l-8 8M401.2 855.5l8 8m0-8l-8 8M401.2 864.6l8 8m0-8l-8 8M401.2 873.9l8 8m0-8l-8 8M401.2 883.3l8 8m0-8l-8 8M401.2 892.8l8 8m0-8l-8 8M401.2 902.9l8 8m0-8l-8 8M401.2 915.7l8 8m0-8l-8 8M418.5 611.1l8 8m0-8l-8 8M418.5 621.6l8 8m0-8l-8 8M418.5 631.0l8 8m0-8l-8 8M418.5 641.9l8 8m0-8l-8 8M418.5 651.4l8 8m0-8l-8 8M418.5 661.3l8 8m0-8l-8 8M418.5 672.6l8 8m0-8l-8 8M418.5 682.2l8 8m0-8l-8 8M418.5 691.3l8 8m0-8l-8 8M418.5 701.0l8 8m0-8l-8 8M418.5 711.1l8 8m0-8l-8 8M418.5 720.1l8 8m0-8l-8 8M418.5 730.0l8 8m0-8l-8 8M418.5 739.2l8 8m0-8l-8 8M418.5 748.6l8 8m0-8l-8 8M418.5 758.1l8 8m0-8l-8 8M418.5 767.9l8 8m0-8l-8 8M418.5 777.3l8 8m0-8l-8 8M418.5 787.4l8 8m0-8l-8 8M418.5 796.4l8 8m0-8l-8 8M418.5 806.0l8 8m0-8l-8 8M418.5 817.1l8 8m0-8l-8 8M418.5 826.8l8 8m0-8l-8 8M418.5 836.2l8 8m0-8l-8 8M418.5 846.0l8 8m0-8l-8 8M418.5 855.1l8 8m0-8l-8 8M418.5 864.3l8 8m0-8l-8 8M418.5 873.5l8 8m0-8l-8 8M418.5 884.2l8 8m0-8l-8 8M418.5 893.2l8 8m0-8l-8 8M435.8 607.7l8 8m0-8l-8 8M435.8 617.7l8 8m0-8l-8 8M435.8 628.9l8 8m0-8l-8 8M435.8 638.2l8 8m0-8l-8 8M435.8 651.1l8 8m0-8l-8 8M435.8 660.2l8 8m0-8l-8 8M435.8 669.3l8 8m0-8l-8 8M435.8 678.7l8 8m0-8l-8 8M435.8 688.0l8 8m0-8l-8 8M435.8 697.9l8 8m0-8l-8 8M435.8 708.1l8 8m0-8l-8 8M435.8 718.4l8 8m0-8l-8 8M435.8 728.6l8 8m0-8l-8 8M435.8 737.9l8 8m0-8l-8 8M435.8 747.4l8 8m0-8l-8 8M435.8 761.0l8 8m0-8l-8 8M435.8 770.5l8 8m0-8l-8 8M435.8 782.5l8 8m0-8l-8 8M435.8 791.6l8 8m0-8l-8 8M435.8 801.6l8 8m0-8l-8 8M435.8 813.2l8 8m0-8l-8 8M435.8 822.6l8 8m0-8l-8 8M435.8 831.7l8 8m0-8l-8 8M435.8 841.0l8 8m0-8l-8 8M435.8 850.3l8 8m0-8l-8 8M435.8 859.8l8 8m0-8l-8 8M435.8 870.0l8 8m0-8l-8 8M435.8 879.8l8 8m0-8l-8 8M435.8 889.4l8 8m0-8l-8 8"/><path stroke="#0d2161" d="M107.7 843.3l8 8m0-8l-8 8M125.0 988.4l8 8m0-8l-8 8M159.5 764.2l8 8m0-8l-8 8M176.8 761.0l8 8m0-8l-8 8M194.0 743.3l8 8m0-8l-8 8M211.3 720.0l8 8m0-8l-8 8M228.6 695.1l8 8m0-8l-8 8M245.8 681.9l8 8m0-8l-8 8M263.1 668.4l8 8m0-8l-8 8M263.1 677.4l8 8m0-8l-8 8M280.4 660.5l8 8m0-8l-8 8M280.4 669.7l8 8m0-8l-8 8M280.4 952.9l8 8m0-8l-8 8M297.6 655.8l8 8m0-8l-8 8M297.6 946.9l8 8m0-8l-8 8M314.9 665.9l8 8m0-8l-8 8M314.9 675.4l8 8m0-8l-8 8M314.9 942.0l8 8m0-8l-8 8M332.2 655.8l8 8m0-8l-8 8M332.2 935.7l8 8m0-8l-8 8M349.4 695.9l8 8m0-8l-8 8M349.4 705.0l8 8m0-8l-8 8M349.4 847.2l8 8m0-8l-8 8M349.4 856.4l8 8m0-8l-8 8M349.4 866.3l8 8m0-8l-8 8M349.4 875.7l8 8m0-8l-8 8M366.7 663.4l8 8m0-8l-8 8M366.7 673.1l8 8m0-8l-8 8M366.7 682.3l8 8m0-8l-8 8M366.7 692.0l8 8m0-8l-8 8M366.7 701.6l8 8m0-8l-8 8M366.7 710.7l8 8m0-8l-8 8M366.7 719.8l8 8m0-8l-8 8M366.7 729.0l8 8m0-8l-8 8M366.7 738.7l8 8m0-8l-8 8M366.7 747.9l8 8m0-8l-8 8M366.7 757.0l8 8m0-8l-8 8M366.7 766.1l8 8m0-8l-8 8M366.7 775.1l8 8m0-8l-8 8M366.7 784.2l8 8m0-8l-8 8M366.7 793.4l8 8m0-8l-8 8M366.7 803.3l8 8m0-8l-8 8M366.7 812.9l8 8m0-8l-8 8M366.7 821.9l8 8m0-8l-8 8M366.7 831.7l8 8m0-8l-8 8M366.7 841.1l8 8m0-8l-8 8M366.7 851.2l8 8m0-8l-8 8M366.7 860.2l8 8m0-8l-8 8"/><path stroke="#0e2265" d="M125.0 827.8l8 8m0-8l-8 8M263.1 686.7l8 8m0-8l-8 8M297.6 665.1l8 8m0-8l-8 8M314.9 685.0l8 8m0-8l-8 8M332.2 665.6l8 8m0-8l-8 8M332.2 926.6l8 8m0-8l-8 8M349.4 714.2l8 8m0-8l-8 8M349.4 724.0l8 8m0-8l-8 8M349.4 733.4l8 8m0-8l-8 8M349.4 742.7l8 8m0-8l-8 8M349.4 752.0l8 8m0-8l-8 8M349.4 762.1l8 8m0-8l-8 8M349.4 771.6l8 8m0-8l-8 8M349.4 780.6l8 8m0-8l-8 8M349.4 790.1l8 8m0-8l-8 8M349.4 801.0l8 8m0-8l-8 8M349.4 810.1l8 8m0-8l-8 8M349.4 819.7l8 8m0-8l-8 8M349.4 829.0l8 8m0-8l-8 8M349.4 838.1l8 8m0-8l-8 8"/><path stroke="#11246b" d="M90.4 859.4l8 8m0-8l-8 8M142.2 791.2l8 8m0-8l-8 8M159.5 982.0l8 8m0-8l-8 8M228.6 957.0l8 8m0-8l-8 8M280.4 679.5l8 8m0-8l-8 8M297.6 677.4l8 8m0-8l-8 8M314.9 695.2l8 8m0-8l-8 8M314.9 923.7l8 8m0-8l-8 8M314.9 932.9l8 8m0-8l-8 8M332.2 674.9l8 8m0-8l-8 8M332.2 907.8l8 8m0-8l-8 8M332.2 917.2l8 8m0-8l-8 8"/><path stroke="#13266f" d="M142.2 980.1l8 8m0-8l-8 8M263.1 953.4l8 8m0-8l-8 8M297.6 686.7l8 8m0-8l-8 8M314.9 705.7l8 8m0-8l-8 8M314.9 715.5l8 8m0-8l-8 8M314.9 724.9l8 8m0-8l-8 8M314.9 904.8l8 8m0-8l-8 8M314.9 914.1l8 8m0-8l-8 8M332.2 684.1l8 8m0-8l-8 8M332.2 694.0l8 8m0-8l-8 8M332.2 889.1l8 8m0-8l-8 8M332.2 898.4l8 8m0-8l-8 8"/><path stroke="#162874" d="M245.8 955.1l8 8m0-8l-8 8M314.9 735.0l8 8m0-8l-8 8M314.9 744.1l8 8m0-8l-8 8M314.9 755.2l8 8m0-8l-8 8M314.9 764.8l8 8m0-8l-8 8M314.9 866.8l8 8m0-8l-8 8M314.9 876.3l8 8m0-8l-8 8M314.9 885.7l8 8m0-8l-8 8M314.9 895.3l8 8m0-8l-8 8M332.2 703.1l8 8m0-8l-8 8M332.2 713.7l8 8m0-8l-8 8M332.2 723.0l8 8m0-8l-8 8M332.2 732.3l8 8m0-8l-8 8M332.2 741.5l8 8m0-8l-8 8M332.2 750.5l8 8m0-8l-8 8M332.2 762.1l8 8m0-8l-8 8M332.2 771.8l8 8m0-8l-8 8M332.2 781.6l8 8m0-8l-8 8M332.2 809.9l8 8m0-8l-8 8M332.2 819.0l8 8m0-8l-8 8M332.2 831.4l8 8m0-8l-8 8M332.2 841.2l8 8m0-8l-8 8M332.2 850.2l8 8m0-8l-8 8M332.2 859.3l8 8m0-8l-8 8M332.2 869.5l8 8m0-8l-8 8M332.2 879.0l8 8m0-8l-8 8"/><path stroke="#172978" d="M107.7 985.9l8 8m0-8l-8 8M176.8 979.5l8 8m0-8l-8 8M194.0 966.3l8 8m0-8l-8 8M211.3 962.6l8 8m0-8l-8 8M297.6 937.2l8 8m0-8l-8 8M314.9 775.0l8 8m0-8l-8 8M314.9 785.1l8 8m0-8l-8 8M314.9 795.0l8 8m0-8l-8 8M314.9 804.1l8 8m0-8l-8 8M314.9 813.5l8 8m0-8l-8 8M314.9 823.5l8 8m0-8l-8 8M314.9 834.3l8 8m0-8l-8 8M314.9 844.5l8 8m0-8l-8 8M314.9 855.3l8 8m0-8l-8 8M332.2 791.1l8 8m0-8l-8 8M332.2 800.3l8 8m0-8l-8 8"/><path stroke="#1a2b7e" d="M90.4 985.4l8 8m0-8l-8 8"/><path stroke="#1d2e83" d="M280.4 689.1l8 8m0-8l-8 8M280.4 942.6l8 8m0-8l-8 8"/><path stroke="#081d58" d="M90.4 802.5l8 8m0-8l-8 8M90.4 812.6l8 8m0-8l-8 8M90.4 824.4l8 8m0-8l-8 8M90.4 834.2l8 8m0-8l-8 8M107.7 792.3l8 8m0-8l-8 8M107.7 804.9l8 8m0-8l-8 8M107.7 815.3l8 8m0-8l-8 8M107.7 996.6l8 8m0-8l-8 8M125.0 769.5l8 8m0-8l-8 8M125.0 782.4l8 8m0-8l-8 8M125.0 791.7l8 8m0-8l-8 8M125.0 803.8l8 8m0-8l-8 8M142.2 753.1l8 8m0-8l-8 8M142.2 762.6l8 8m0-8l-8 8M142.2 990.0l8 8m0-8l-8 8M159.5 670.8l8 8m0-8l-8 8M159.5 728.3l8 8m0-8l-8 8M159.5 741.9l8 8m0-8l-8 8M176.8 681.8l8 8m0-8l-8 8M176.8 694.3l8 8m0-8l-8 8M176.8 711.7l8 8m0-8l-8 8M176.8 721.1l8 8m0-8l-8 8M176.8 731.7l8 8m0-8l-8 8M194.0 673.3l8 8m0-8l-8 8M194.0 684.5l8 8m0-8l-8 8M194.0 704.9l8 8m0-8l-8 8M194.0 714.2l8 8m0-8l-8 8M194.0 726.3l8 8m0-8l-8 8M211.3 645.5l8 8m0-8l-8 8M211.3 660.8l8 8m0-8l-8 8M211.3 671.5l8 8m0-8l-8 8M211.3 680.6l8 8m0-8l-8 8M211.3 692.3l8 8m0-8l-8 8M228.6 659.1l8 8m0-8l-8 8M228.6 669.3l8 8m0-8l-8 8M245.8 615.5l8 8m0-8l-8 8M245.8 624.7l8 8m0-8l-8 8M245.8 634.2l8 8m0-8l-8 8M245.8 645.4l8 8m0-8l-8 8M245.8 654.9l8 8m0-8l-8 8M245.8 965.5l8 8m0-8l-8 8M263.1 610.8l8 8m0-8l-8 8M263.1 620.2l8 8m0-8l-8 8M263.1 633.6l8 8m0-8l-8 8M263.1 643.4l8 8m0-8l-8 8M263.1 973.2l8 8m0-8l-8 8M280.4 605.1l8 8m0-8l-8 8M280.4 623.0l8 8m0-8l-8 8M280.4 632.2l8 8m0-8l-8 8M280.4 965.7l8 8m0-8l-8 8M297.6 597.9l8 8m0-8l-8 8M297.6 608.0l8 8m0-8l-8 8M332.2 601.6l8 8m0-8l-8 8M332.2 610.8l8 8m0-8l-8 8M349.4 597.6l8 8m0-8l-8 8M349.4 956.5l8 8m0-8l-8 8M366.7 597.9l8 8m0-8l-8 8M366.7 952.0l8 8m0-8l-8 8M383.9 961.9l8 8m0-8l-8 8M401.2 929.8l8 8m0-8l-8 8M418.5 601.6l8 8m0-8l-8 8M418.5 911.5l8 8m0-8l-8 8M418.5 922.6l8 8m0-8l-8 8M435.8 906.2l8 8m0-8l-8 8M435.8 918.4l8 8m0-8l-8 8M435.8 929.1l8 8m0-8l-8 8M453.0 598.9l8 8m0-8l-8 8M453.0 608.1l8 8m0-8l-8 8M453.0 618.8l8 8m0-8l-8 8M453.0 630.0l8 8m0-8l-8 8M453.0 646.9l8 8m0-8l-8 8M453.0 658.4l8 8m0-8l-8 8M453.0 669.5l8 8m0-8l-8 8M453.0 680.5l8 8m0-8l-8 8M453.0 691.1l8 8m0-8l-8 8M453.0 700.3l8 8m0-8l-8 8M453.0 710.3l8 8m0-8l-8 8M453.0 720.6l8 8m0-8l-8 8M453.0 730.8l8 8m0-8l-8 8M453.0 740.0l8 8m0-8l-8 8M453.0 751.8l8 8m0-8l-8 8M453.0 762.2l8 8m0-8l-8 8M453.0 772.8l8 8m0-8l-8 8M453.0 784.5l8 8m0-8l-8 8M453.0 797.7l8 8m0-8l-8 8M453.0 808.7l8 8m0-8l-8 8M453.0 823.1l8 8m0-8l-8 8M453.0 836.0l8 8m0-8l-8 8M453.0 845.1l8 8m0-8l-8 8M453.0 855.3l8 8m0-8l-8 8M453.0 865.9l8 8m0-8l-8 8M453.0 881.2l8 8m0-8l-8 8M453.0 896.0l8 8m0-8l-8 8M453.0 905.4l8 8m0-8l-8 8M453.0 916.5l8 8m0-8l-8 8M453.0 927.8l8 8m0-8l-8 8M470.3 600.6l8 8m0-8l-8 8M470.3 613.7l8 8m0-8l-8 8M470.3 626.5l8 8m0-8l-8 8M470.3 637.6l8 8m0-8l-8 8M470.3 651.4l8 8m0-8l-8 8M470.3 661.5l8 8m0-8l-8 8M470.3 674.4l8 8m0-8l-8 8M470.3 690.6l8 8m0-8l-8 8M470.3 701.5l8 8m0-8l-8 8M470.3 710.9l8 8m0-8l-8 8M470.3 721.7l8 8m0-8l-8 8M470.3 732.6l8 8m0-8l-8 8M470.3 743.3l8 8m0-8l-8 8M470.3 759.3l8 8m0-8l-8 8M470.3 770.1l8 8m0-8l-8 8M470.3 779.8l8 8m0-8l-8 8M470.3 790.5l8 8m0-8l-8 8M470.3 800.4l8 8m0-8l-8 8M470.3 812.1l8 8m0-8l-8 8M470.3 823.5l8 8m0-8l-8 8M470.3 841.9l8 8m0-8l-8 8M470.3 866.6l8 8m0-8l-8 8M470.3 875.9l8 8m0-8l-8 8M470.3 898.7l8 8m0-8l-8 8M470.3 913.3l8 8m0-8l-8 8M487.6 602.2l8 8m0-8l-8 8M487.6 617.2l8 8m0-8l-8 8M487.6 626.3l8 8m0-8l-8 8M487.6 635.9l8 8m0-8l-8 8M487.6 650.3l8 8m0-8l-8 8M487.6 659.6l8 8m0-8l-8 8M487.6 674.2l8 8m0-8l-8 8M487.6 697.3l8 8m0-8l-8 8M487.6 709.8l8 8m0-8l-8 8M487.6 722.4l8 8m0-8l-8 8M487.6 738.2l8 8m0-8l-8 8M487.6 762.3l8 8m0-8l-8 8M487.6 785.2l8 8m0-8l-8 8M487.6 798.5l8 8m0-8l-8 8M487.6 811.9l8 8m0-8l-8 8M487.6 822.6l8 8m0-8l-8 8M487.6 833.5l8 8m0-8l-8 8M487.6 845.6l8 8m0-8l-8 8M487.6 870.3l8 8m0-8l-8 8M487.6 909.2l8 8m0-8l-8 8M504.8 600.4l8 8m0-8l-8 8M504.8 613.9l8 8m0-8l-8 8M504.8 623.4l8 8m0-8l-8 8M504.8 635.7l8 8m0-8l-8 8M504.8 645.7l8 8m0-8l-8 8M504.8 656.3l8 8m0-8l-8 8M504.8 666.1l8 8m0-8l-8 8M504.8 675.3l8 8m0-8l-8 8M504.8 685.9l8 8m0-8l-8 8M504.8 697.0l8 8m0-8l-8 8M504.8 713.6l8 8m0-8l-8 8M504.8 724.1l8 8m0-8l-8 8M504.8 733.5l8 8m0-8l-8 8M504.8 746.2l8 8m0-8l-8 8M504.8 759.6l8 8m0-8l-8 8M504.8 784.2l8 8m0-8l-8 8M504.8 803.4l8 8m0-8l-8 8M504.8 819.2l8 8m0-8l-8 8M504.8 837.8l8 8m0-8l-8 8M504.8 847.6l8 8m0-8l-8 8M504.8 863.5l8 8m0-8l-8 8M504.8 879.9l8 8m0-8l-8 8M504.8 902.4l8 8m0-8l-8 8M522.1 600.3l8 8m0-8l-8 8M522.1 611.8l8 8m0-8l-8 8M522.1 621.4l8 8m0-8l-8 8M522.1 633.3l8 8m0-8l-8 8M522.1 656.3l8 8m0-8l-8 8M522.1 685.8l8 8m0-8l-8 8M522.1 700.5l8 8m0-8l-8 8M522.1 713.9l8 8m0-8l-8 8M522.1 724.0l8 8m0-8l-8 8M522.1 738.7l8 8m0-8l-8 8M522.1 753.8l8 8m0-8l-8 8M522.1 768.1l8 8m0-8l-8 8M522.1 795.1l8 8m0-8l-8 8M522.1 804.8l8 8m0-8l-8 8M522.1 820.4l8 8m0-8l-8 8M522.1 842.8l8 8m0-8l-8 8M522.1 858.1l8 8m0-8l-8 8M522.1 867.8l8 8m0-8l-8 8M522.1 918.5l8 8m0-8l-8 8M539.4 606.2l8 8m0-8l-8 8M539.4 616.1l8 8m0-8l-8 8M539.4 625.1l8 8m0-8l-8 8M539.4 651.8l8 8m0-8l-8 8M539.4 665.4l8 8m0-8l-8 8M539.4 675.6l8 8m0-8l-8 8M539.4 692.3l8 8m0-8l-8 8M539.4 712.5l8 8m0-8l-8 8M539.4 727.7l8 8m0-8l-8 8M539.4 737.7l8 8m0-8l-8 8M539.4 750.4l8 8m0-8l-8 8M539.4 790.1l8 8m0-8l-8 8"/><path stroke="#0a1e5c" d="M90.4 843.2l8 8m0-8l-8 8M107.7 824.8l8 8m0-8l-8 8M107.7 835.1l8 8m0-8l-8 8M125.0 812.9l8 8m0-8l-8 8M125.0 821.9l8 8m0-8l-8 8M142.2 773.0l8 8m0-8l-8 8M142.2 782.7l8 8m0-8l-8 8M159.5 751.2l8 8m0-8l-8 8M159.5 760.8l8 8m0-8l-8 8M176.8 743.2l8 8m0-8l-8 8M176.8 752.3l8 8m0-8l-8 8M194.0 736.0l8 8m0-8l-8 8M194.0 976.2l8 8m0-8l-8 8M211.3 701.7l8 8m0-8l-8 8M211.3 711.8l8 8m0-8l-8 8M211.3 973.5l8 8m0-8l-8 8M228.6 678.8l8 8m0-8l-8 8M228.6 688.4l8 8m0-8l-8 8M228.6 968.4l8 8m0-8l-8 8M245.8 664.2l8 8m0-8l-8 8M245.8 673.4l8 8m0-8l-8 8M263.1 654.9l8 8m0-8l-8 8M263.1 664.1l8 8m0-8l-8 8M263.1 964.1l8 8m0-8l-8 8M280.4 641.4l8 8m0-8l-8 8M280.4 651.4l8 8m0-8l-8 8M280.4 954.5l8 8m0-8l-8 8M297.6 617.6l8 8m0-8l-8 8M297.6 627.2l8 8m0-8l-8 8M297.6 638.4l8 8m0-8l-8 8M297.6 647.8l8 8m0-8l-8 8M297.6 957.5l8 8m0-8l-8 8M314.9 599.1l8 8m0-8l-8 8M314.9 608.4l8 8m0-8l-8 8M314.9 619.2l8 8m0-8l-8 8M314.9 628.7l8 8m0-8l-8 8M314.9 638.1l8 8m0-8l-8 8M314.9 647.5l8 8m0-8l-8 8M314.9 656.9l8 8m0-8l-8 8M314.9 946.2l8 8m0-8l-8 8M314.9 955.7l8 8m0-8l-8 8M332.2 621.5l8 8m0-8l-8 8M332.2 633.3l8 8m0-8l-8 8M332.2 642.9l8 8m0-8l-8 8M332.2 945.4l8 8m0-8l-8 8M349.4 607.7l8 8m0-8l-8 8M349.4 616.7l8 8m0-8l-8 8M349.4 626.3l8 8m0-8l-8 8M349.4 637.2l8 8m0-8l-8 8M349.4 650.3l8 8m0-8l-8 8M349.4 659.9l8 8m0-8l-8 8M349.4 669.1l8 8m0-8l-8 8M349.4 678.3l8 8m0-8l-8 8M349.4 689.0l8 8m0-8l-8 8M349.4 886.6l8 8m0-8l-8 8M349.4 896.8l8 8m0-8l-8 8M349.4 906.0l8 8m0-8l-8 8M349.4 915.9l8 8m0-8l-8 8M349.4 925.8l8 8m0-8l-8 8M349.4 935.7l8 8m0-8l-8 8M349.4 945.4l8 8m0-8l-8 8M366.7 607.2l8 8m0-8l-8 8M366.7 616.9l8 8m0-8l-8 8M366.7 626.4l8 8m0-8l-8 8M366.7 636.0l8 8m0-8l-8 8M366.7 645.5l8 8m0-8l-8 8M366.7 654.8l8 8m0-8l-8 8M366.7 864.8l8 8m0-8l-8 8M366.7 874.5l8 8m0-8l-8 8M366.7 884.3l8 8m0-8l-8 8M366.7 893.3l8 8m0-8l-8 8M366.7 903.2l8 8m0-8l-8 8M366.7 912.8l8 8m0-8l-8 8M366.7 922.5l8 8m0-8l-8 8M366.7 932.2l8 8m0-8l-8 8M366.7 942.8l8 8m0-8l-8 8M383.9 598.6l8 8m0-8l-8 8M383.9 607.7l8 8m0-8l-8 8M383.9 617.9l8 8m0-8l-8 8M383.9 627.1l8 8m0-8l-8 8M383.9 636.7l8 8m0-8l-8 8M383.9 647.1l8 8m0-8l-8 8M383.9 656.7l8 8m0-8l-8 8M383.9 667.3l8 8m0-8l-8 8M383.9 676.4l8 8m0-8l-8 8M383.9 687.6l8 8m0-8l-8 8M383.9 697.7l8 8m0-8l-8 8M383.9 707.0l8 8m0-8l-8 8M383.9 716.6l8 8m0-8l-8 8M383.9 726.4l8 8m0-8l-8 8M383.9 735.6l8 8m0-8l-8 8M383.9 745.2l8 8m0-8l-8 8M383.9 755.1l8 8m0-8l-8 8M383.9 764.2l8 8m0-8l-8 8M383.9 774.0l8 8m0-8l-8 8M383.9 783.2l8 8m0-8l-8 8M383.9 792.2l8 8m0-8l-8 8M383.9 803.3l8 8m0-8l-8 8M383.9 813.1l8 8m0-8l-8 8M383.9 823.3l8 8m0-8l-8 8M383.9 832.5l8 8m0-8l-8 8M383.9 841.5l8 8m0-8l-8 8M383.9 850.7l8 8m0-8l-8 8M383.9 860.0l8 8m0-8l-8 8M383.9 870.1l8 8m0-8l-8 8M383.9 879.5l8 8m0-8l-8 8M383.9 888.5l8 8m0-8l-8 8M383.9 897.7l8 8m0-8l-8 8M383.9 907.6l8 8m0-8l-8 8M383.9 917.7l8 8m0-8l-8 8M383.9 927.6l8 8m0-8l-8 8M383.9 936.9l8 8m0-8l-8 8M383.9 946.6l8 8m0-8l-8 8M401.2 597.9l8 8m0-8l-8 8M401.2 607.3l8 8m0-8l-8 8M401.2 617.4l8 8m0-8l-8 8M401.2 628.2l8 8m0-8l-8 8M401.2 637.2l8 8m0-8l-8 8M401.2 647.2l8 8m0-8l-8 8M401.2 657.8l8 8m0-8l-8 8M401.2 666.8l8 8m0-8l-8 8M401.2 676.5l8 8m0-8l-8 8M401.2 685.8l8 8m0-8l-8 8M401.2 694.9l8 8m0-8l-8 8M401.2 705.7l8 8m0-8l-8 8M401.2 714.8l8 8m0-8l-8 8M401.2 724.4l8 8m0-8l-8 8M401.2 735.2l8 8m0-8l-8 8M401.2 744.9l8 8m0-8l-8 8M401.2 755.9l8 8m0-8l-8 8M401.2 765.0l8 8m0-8l-8 8M401.2 774.2l8 8m0-8l-8 8M401.2 786.0l8 8m0-8l-8 8M401.2 796.3l8 8m0-8l-8 8M401.2 805.5l8 8m0-8l-8 8M401.2 814.5l8 8m0-8l-8 8M401.2 823.8l8 8m0-8l-8 8M401.2 834.4l8 8m0-8l-8 8M401.2 844.3l8 8m0-8l-8 8M401.2 854.2l8 8m0-8l-8 8M401.2 863.8l8 8m0-8l-8 8M401.2 873.3l8 8m0-8l-8 8M401.2 882.4l8 8m0-8l-8 8M401.2 893.8l8 8m0-8l-8 8M401.2 904.0l8 8m0-8l-8 8M401.2 915.8l8 8m0-8l-8 8M418.5 612.1l8 8m0-8l-8 8M418.5 621.6l8 8m0-8l-8 8M418.5 633.0l8 8m0-8l-8 8M418.5 642.2l8 8m0-8l-8 8M418.5 652.2l8 8m0-8l-8 8M418.5 662.3l8 8m0-8l-8 8M418.5 673.9l8 8m0-8l-8 8M418.5 684.2l8 8m0-8l-8 8M418.5 695.1l8 8m0-8l-8 8M418.5 704.7l8 8m0-8l-8 8M418.5 714.2l8 8m0-8l-8 8M418.5 723.6l8 8m0-8l-8 8M418.5 734.8l8 8m0-8l-8 8M418.5 744.0l8 8m0-8l-8 8M418.5 754.7l8 8m0-8l-8 8M418.5 763.9l8 8m0-8l-8 8M418.5 774.8l8 8m0-8l-8 8M418.5 784.2l8 8m0-8l-8 8M418.5 793.2l8 8m0-8l-8 8M418.5 802.5l8 8m0-8l-8 8M418.5 811.8l8 8m0-8l-8 8M418.5 822.0l8 8m0-8l-8 8M418.5 831.2l8 8m0-8l-8 8M418.5 840.4l8 8m0-8l-8 8M418.5 849.8l8 8m0-8l-8 8M418.5 858.8l8 8m0-8l-8 8M418.5 868.1l8 8m0-8l-8 8M418.5 877.3l8 8m0-8l-8 8M418.5 886.6l8 8m0-8l-8 8M418.5 895.6l8 8m0-8l-8 8M435.8 600.8l8 8m0-8l-8 8M435.8 612.8l8 8m0-8l-8 8M435.8 629.9l8 8m0-8l-8 8M435.8 639.3l8 8m0-8l-8 8M435.8 651.2l8 8m0-8l-8 8M435.8 660.8l8 8m0-8l-8 8M435.8 670.5l8 8m0-8l-8 8M435.8 679.9l8 8m0-8l-8 8M435.8 690.9l8 8m0-8l-8 8M435.8 703.7l8 8m0-8l-8 8M435.8 713.5l8 8m0-8l-8 8M435.8 723.3l8 8m0-8l-8 8M435.8 732.8l8 8m0-8l-8 8M435.8 742.6l8 8m0-8l-8 8M435.8 752.3l8 8m0-8l-8 8M435.8 762.6l8 8m0-8l-8 8M435.8 772.1l8 8m0-8l-8 8M435.8 784.5l8 8m0-8l-8 8M435.8 794.5l8 8m0-8l-8 8M435.8 803.6l8 8m0-8l-8 8M435.8 813.5l8 8m0-8l-8 8M435.8 823.7l8 8m0-8l-8 8M435.8 837.2l8 8m0-8l-8 8M435.8 847.0l8 8m0-8l-8 8M435.8 856.1l8 8m0-8l-8 8M435.8 866.1l8 8m0-8l-8 8M435.8 875.8l8 8m0-8l-8 8M435.8 885.1l8 8m0-8l-8 8M435.8 894.4l8 8m0-8l-8 8"/><path stroke="#0d2161" d="M90.4 853.7l8 8m0-8l-8 8M125.0 988.7l8 8m0-8l-8 8M176.8 762.1l8 8m0-8l-8 8M211.3 721.1l8 8m0-8l-8 8M228.6 697.7l8 8m0-8l-8 8M245.8 682.6l8 8m0-8l-8 8M263.1 673.1l8 8m0-8l-8 8M280.4 661.2l8 8m0-8l-8 8M280.4 670.5l8 8m0-8l-8 8M297.6 656.9l8 8m0-8l-8 8M297.6 948.3l8 8m0-8l-8 8M314.9 666.4l8 8m0-8l-8 8M314.9 676.2l8 8m0-8l-8 8M332.2 652.0l8 8m0-8l-8 8M332.2 936.2l8 8m0-8l-8 8M349.4 698.1l8 8m0-8l-8 8M349.4 707.3l8 8m0-8l-8 8M349.4 848.5l8 8m0-8l-8 8M349.4 857.7l8 8m0-8l-8 8M349.4 866.8l8 8m0-8l-8 8M349.4 877.6l8 8m0-8l-8 8M366.7 664.5l8 8m0-8l-8 8M366.7 674.2l8 8m0-8l-8 8M366.7 683.8l8 8m0-8l-8 8M366.7 693.1l8 8m0-8l-8 8M366.7 702.4l8 8m0-8l-8 8M366.7 712.0l8 8m0-8l-8 8M366.7 721.7l8 8m0-8l-8 8M366.7 731.2l8 8m0-8l-8 8M366.7 740.7l8 8m0-8l-8 8M366.7 750.2l8 8m0-8l-8 8M366.7 760.5l8 8m0-8l-8 8M366.7 771.6l8 8m0-8l-8 8M366.7 780.7l8 8m0-8l-8 8M366.7 789.9l8 8m0-8l-8 8M366.7 799.4l8 8m0-8l-8 8M366.7 808.5l8 8m0-8l-8 8M366.7 817.8l8 8m0-8l-8 8M366.7 826.8l8 8m0-8l-8 8M366.7 837.1l8 8m0-8l-8 8M366.7 846.3l8 8m0-8l-8 8M366.7 855.8l8 8m0-8l-8 8"/><path stroke="#0e2265" d="M107.7 845.6l8 8m0-8l-8 8M194.0 745.5l8 8m0-8l-8 8M263.1 682.2l8 8m0-8l-8 8M297.6 666.0l8 8m0-8l-8 8M314.9 686.0l8 8m0-8l-8 8M314.9 934.8l8 8m0-8l-8 8M332.2 661.1l8 8m0-8l-8 8M332.2 926.8l8 8m0-8l-8 8M349.4 716.6l8 8m0-8l-8 8M349.4 725.8l8 8m0-8l-8 8M349.4 735.0l8 8m0-8l-8 8M349.4 746.0l8 8m0-8l-8 8M349.4 755.0l8 8m0-8l-8 8M349.4 764.1l8 8m0-8l-8 8M349.4 773.3l8 8m0-8l-8 8M349.4 782.7l8 8m0-8l-8 8M349.4 792.3l8 8m0-8l-8 8M349.4 801.6l8 8m0-8l-8 8M349.4 810.7l8 8m0-8l-8 8M349.4 820.9l8 8m0-8l-8 8M349.4 830.0l8 8m0-8l-8 8M349.4 839.5l8 8m0-8l-8 8"/><path stroke="#11246b" d="M159.5 770.4l8 8m0-8l-8 8M159.5 983.0l8 8m0-8l-8 8M176.8 981.3l8 8m0-8l-8 8M228.6 958.9l8 8m0-8l-8 8M263.1 954.3l8 8m0-8l-8 8M280.4 679.9l8 8m0-8l-8 8M297.6 677.5l8 8m0-8l-8 8M314.9 696.9l8 8m0-8l-8 8M314.9 915.5l8 8m0-8l-8 8M314.9 925.4l8 8m0-8l-8 8M332.2 670.2l8 8m0-8l-8 8M332.2 681.2l8 8m0-8l-8 8M332.2 908.4l8 8m0-8l-8 8M332.2 917.5l8 8m0-8l-8 8"/><path stroke="#13266f" d="M107.7 986.2l8 8m0-8l-8 8M142.2 792.3l8 8m0-8l-8 8M142.2 980.4l8 8m0-8l-8 8M194.0 967.1l8 8m0-8l-8 8M263.1 693.5l8 8m0-8l-8 8M297.6 687.2l8 8m0-8l-8 8M314.9 706.0l8 8m0-8l-8 8M314.9 716.6l8 8m0-8l-8 8M314.9 906.4l8 8m0-8l-8 8M332.2 690.5l8 8m0-8l-8 8M332.2 889.7l8 8m0-8l-8 8M332.2 898.9l8 8m0-8l-8 8"/><path stroke="#162874" d="M125.0 831.4l8 8m0-8l-8 8M245.8 955.6l8 8m0-8l-8 8M314.9 726.9l8 8m0-8l-8 8M314.9 736.3l8 8m0-8l-8 8M314.9 746.2l8 8m0-8l-8 8M314.9 755.3l8 8m0-8l-8 8M314.9 764.8l8 8m0-8l-8 8M314.9 867.3l8 8m0-8l-8 8M314.9 877.0l8 8m0-8l-8 8M314.9 886.1l8 8m0-8l-8 8M314.9 896.1l8 8m0-8l-8 8M332.2 699.7l8 8m0-8l-8 8M332.2 709.8l8 8m0-8l-8 8M332.2 718.8l8 8m0-8l-8 8M332.2 730.2l8 8m0-8l-8 8M332.2 739.3l8 8m0-8l-8 8M332.2 750.0l8 8m0-8l-8 8M332.2 763.1l8 8m0-8l-8 8M332.2 772.5l8 8m0-8l-8 8M332.2 781.8l8 8m0-8l-8 8M332.2 811.3l8 8m0-8l-8 8M332.2 821.2l8 8m0-8l-8 8M332.2 832.6l8 8m0-8l-8 8M332.2 842.0l8 8m0-8l-8 8M332.2 851.1l8 8m0-8l-8 8M332.2 860.1l8 8m0-8l-8 8M332.2 870.3l8 8m0-8l-8 8M332.2 880.1l8 8m0-8l-8 8"/><path stroke="#172978" d="M211.3 963.0l8 8m0-8l-8 8M280.4 943.3l8 8m0-8l-8 8M297.6 938.0l8 8m0-8l-8 8M314.9 775.9l8 8m0-8l-8 8M314.9 785.4l8 8m0-8l-8 8M314.9 795.3l8 8m0-8l-8 8M314.9 806.8l8 8m0-8l-8 8M314.9 816.9l8 8m0-8l-8 8M314.9 826.6l8 8m0-8l-8 8M314.9 835.7l8 8m0-8l-8 8M314.9 845.6l8 8m0-8l-8 8M314.9 856.3l8 8m0-8l-8 8M332.2 792.5l8 8m0-8l-8 8M332.2 801.7l8 8m0-8l-8 8"/><path stroke="#1a2b7e" d="M90.4 985.8l8 8m0-8l-8 8"/><path stroke="#081d58" d="M90.4 804.1l8 8m0-8l-8 8M90.4 816.7l8 8m0-8l-8 8M90.4 826.3l8 8m0-8l-8 8M90.4 837.3l8 8m0-8l-8 8M107.7 796.4l8 8m0-8l-8 8M107.7 805.6l8 8m0-8l-8 8M107.7 815.7l8 8m0-8l-8 8M125.0 787.6l8 8m0-8l-8 8M125.0 804.8l8 8m0-8l-8 8M142.2 760.1l8 8m0-8l-8 8M142.2 769.9l8 8m0-8l-8 8M142.2 993.0l8 8m0-8l-8 8M159.5 733.5l8 8m0-8l-8 8M159.5 744.6l8 8m0-8l-8 8M176.8 713.6l8 8m0-8l-8 8M176.8 724.2l8 8m0-8l-8 8M176.8 733.3l8 8m0-8l-8 8M194.0 678.1l8 8m0-8l-8 8M194.0 705.2l8 8m0-8l-8 8M194.0 714.4l8 8m0-8l-8 8M194.0 726.6l8 8m0-8l-8 8M211.3 663.0l8 8m0-8l-8 8M211.3 672.4l8 8m0-8l-8 8M211.3 681.5l8 8m0-8l-8 8M211.3 694.8l8 8m0-8l-8 8M228.6 659.5l8 8m0-8l-8 8M228.6 669.7l8 8m0-8l-8 8M245.8 631.5l8 8m0-8l-8 8M245.8 645.4l8 8m0-8l-8 8M245.8 655.3l8 8m0-8l-8 8M245.8 968.3l8 8m0-8l-8 8M263.1 616.4l8 8m0-8l-8 8M263.1 633.7l8 8m0-8l-8 8M263.1 644.5l8 8m0-8l-8 8M263.1 975.1l8 8m0-8l-8 8M280.4 605.7l8 8m0-8l-8 8M280.4 624.2l8 8m0-8l-8 8M280.4 633.7l8 8m0-8l-8 8M297.6 598.9l8 8m0-8l-8 8M297.6 609.3l8 8m0-8l-8 8M332.2 606.8l8 8m0-8l-8 8M332.2 616.1l8 8m0-8l-8 8M332.2 952.1l8 8m0-8l-8 8M349.4 597.7l8 8m0-8l-8 8M349.4 948.9l8 8m0-8l-8 8M366.7 598.2l8 8m0-8l-8 8M366.7 943.3l8 8m0-8l-8 8M366.7 953.1l8 8m0-8l-8 8M383.9 963.1l8 8m0-8l-8 8M401.2 929.8l8 8m0-8l-8 8M418.5 602.6l8 8m0-8l-8 8M418.5 901.5l8 8m0-8l-8 8M418.5 911.8l8 8m0-8l-8 8M435.8 907.5l8 8m0-8l-8 8M435.8 924.6l8 8m0-8l-8 8M453.0 599.3l8 8m0-8l-8 8M453.0 608.7l8 8m0-8l-8 8M453.0 619.3l8 8m0-8l-8 8M453.0 630.3l8 8m0-8l-8 8M453.0 648.4l8 8m0-8l-8 8M453.0 658.8l8 8m0-8l-8 8M453.0 672.6l8 8m0-8l-8 8M453.0 687.4l8 8m0-8l-8 8M453.0 696.9l8 8m0-8l-8 8M453.0 706.2l8 8m0-8l-8 8M453.0 716.7l8 8m0-8l-8 8M453.0 725.9l8 8m0-8l-8 8M453.0 735.0l8 8m0-8l-8 8M453.0 746.9l8 8m0-8l-8 8M453.0 756.6l8 8m0-8l-8 8M453.0 767.0l8 8m0-8l-8 8M453.0 776.1l8 8m0-8l-8 8M453.0 787.9l8 8m0-8l-8 8M453.0 797.7l8 8m0-8l-8 8M453.0 809.4l8 8m0-8l-8 8M453.0 824.7l8 8m0-8l-8 8M453.0 839.5l8 8m0-8l-8 8M453.0 851.7l8 8m0-8l-8 8M453.0 861.9l8 8m0-8l-8 8M453.0 871.9l8 8m0-8l-8 8M453.0 896.4l8 8m0-8l-8 8M453.0 905.8l8 8m0-8l-8 8M453.0 918.8l8 8m0-8l-8 8M470.3 604.5l8 8m0-8l-8 8M470.3 627.5l8 8m0-8l-8 8M470.3 662.3l8 8m0-8l-8 8M470.3 676.1l8 8m0-8l-8 8M470.3 705.1l8 8m0-8l-8 8M470.3 723.6l8 8m0-8l-8 8M470.3 733.4l8 8m0-8l-8 8M470.3 744.2l8 8m0-8l-8 8M470.3 761.9l8 8m0-8l-8 8M470.3 772.2l8 8m0-8l-8 8M470.3 781.3l8 8m0-8l-8 8M470.3 791.5l8 8m0-8l-8 8M470.3 800.9l8 8m0-8l-8 8M470.3 812.4l8 8m0-8l-8 8M470.3 824.9l8 8m0-8l-8 8M470.3 843.4l8 8m0-8l-8 8M470.3 870.2l8 8m0-8l-8 8M470.3 905.1l8 8m0-8l-8 8M487.6 604.1l8 8m0-8l-8 8M487.6 627.0l8 8m0-8l-8 8M487.6 643.0l8 8m0-8l-8 8M487.6 652.4l8 8m0-8l-8 8M487.6 663.3l8 8m0-8l-8 8M487.6 674.9l8 8m0-8l-8 8M487.6 710.5l8 8m0-8l-8 8M487.6 723.3l8 8m0-8l-8 8M487.6 789.9l8 8m0-8l-8 8M487.6 803.4l8 8m0-8l-8 8M487.6 854.0l8 8m0-8l-8 8M487.6 871.2l8 8m0-8l-8 8M504.8 601.2l8 8m0-8l-8 8M504.8 614.2l8 8m0-8l-8 8M504.8 639.7l8 8m0-8l-8 8M504.8 660.0l8 8m0-8l-8 8M504.8 676.3l8 8m0-8l-8 8M504.8 686.2l8 8m0-8l-8 8M504.8 699.4l8 8m0-8l-8 8M504.8 715.0l8 8m0-8l-8 8M504.8 725.8l8 8m0-8l-8 8M504.8 737.5l8 8m0-8l-8 8M504.8 747.1l8 8m0-8l-8 8M504.8 760.5l8 8m0-8l-8 8M504.8 785.0l8 8m0-8l-8 8M504.8 804.2l8 8m0-8l-8 8M504.8 826.2l8 8m0-8l-8 8M504.8 845.6l8 8m0-8l-8 8M504.8 865.7l8 8m0-8l-8 8M504.8 882.0l8 8m0-8l-8 8M522.1 604.8l8 8m0-8l-8 8M522.1 615.1l8 8m0-8l-8 8M522.1 624.4l8 8m0-8l-8 8M522.1 639.3l8 8m0-8l-8 8M522.1 661.0l8 8m0-8l-8 8M522.1 686.6l8 8m0-8l-8 8M522.1 700.6l8 8m0-8l-8 8M522.1 714.1l8 8m0-8l-8 8M522.1 724.3l8 8m0-8l-8 8M522.1 741.4l8 8m0-8l-8 8M522.1 756.9l8 8m0-8l-8 8M522.1 769.1l8 8m0-8l-8 8M522.1 806.9l8 8m0-8l-8 8M522.1 824.3l8 8m0-8l-8 8M522.1 845.4l8 8m0-8l-8 8M522.1 923.4l8 8m0-8l-8 8M539.4 623.7l8 8m0-8l-8 8M539.4 632.8l8 8m0-8l-8 8M539.4 655.0l8 8m0-8l-8 8M539.4 668.4l8 8m0-8l-8 8M539.4 678.5l8 8m0-8l-8 8M539.4 694.9l8 8m0-8l-8 8M539.4 718.8l8 8m0-8l-8 8M539.4 729.8l8 8m0-8l-8 8M539.4 751.8l8 8m0-8l-8 8"/><path stroke="#0a1e5c" d="M90.4 846.8l8 8m0-8l-8 8M107.7 825.8l8 8m0-8l-8 8M107.7 835.3l8 8m0-8l-8 8M125.0 813.8l8 8m0-8l-8 8M125.0 822.9l8 8m0-8l-8 8M142.2 779.2l8 8m0-8l-8 8M159.5 754.7l8 8m0-8l-8 8M176.8 743.6l8 8m0-8l-8 8M176.8 753.2l8 8m0-8l-8 8M194.0 736.0l8 8m0-8l-8 8M194.0 978.1l8 8m0-8l-8 8M211.3 703.9l8 8m0-8l-8 8M211.3 713.8l8 8m0-8l-8 8M211.3 974.2l8 8m0-8l-8 8M228.6 681.2l8 8m0-8l-8 8M228.6 690.3l8 8m0-8l-8 8M228.6 968.5l8 8m0-8l-8 8M245.8 664.8l8 8m0-8l-8 8M245.8 674.6l8 8m0-8l-8 8M263.1 654.9l8 8m0-8l-8 8M263.1 664.1l8 8m0-8l-8 8M263.1 966.0l8 8m0-8l-8 8M280.4 643.4l8 8m0-8l-8 8M280.4 653.4l8 8m0-8l-8 8M280.4 955.8l8 8m0-8l-8 8M297.6 620.3l8 8m0-8l-8 8M297.6 632.9l8 8m0-8l-8 8M297.6 642.0l8 8m0-8l-8 8M297.6 957.9l8 8m0-8l-8 8M314.9 599.2l8 8m0-8l-8 8M314.9 608.4l8 8m0-8l-8 8M314.9 621.8l8 8m0-8l-8 8M314.9 632.7l8 8m0-8l-8 8M314.9 643.2l8 8m0-8l-8 8M314.9 652.4l8 8m0-8l-8 8M314.9 662.7l8 8m0-8l-8 8M314.9 947.4l8 8m0-8l-8 8M314.9 956.9l8 8m0-8l-8 8M332.2 627.9l8 8m0-8l-8 8M332.2 638.6l8 8m0-8l-8 8M332.2 942.9l8 8m0-8l-8 8M349.4 608.4l8 8m0-8l-8 8M349.4 617.7l8 8m0-8l-8 8M349.4 626.8l8 8m0-8l-8 8M349.4 638.0l8 8m0-8l-8 8M349.4 650.5l8 8m0-8l-8 8M349.4 660.2l8 8m0-8l-8 8M349.4 669.5l8 8m0-8l-8 8M349.4 679.9l8 8m0-8l-8 8M349.4 690.4l8 8m0-8l-8 8M349.4 889.1l8 8m0-8l-8 8M349.4 899.8l8 8m0-8l-8 8M349.4 908.9l8 8m0-8l-8 8M349.4 919.0l8 8m0-8l-8 8M349.4 928.2l8 8m0-8l-8 8M349.4 937.7l8 8m0-8l-8 8M366.7 607.5l8 8m0-8l-8 8M366.7 617.1l8 8m0-8l-8 8M366.7 628.0l8 8m0-8l-8 8M366.7 637.0l8 8m0-8l-8 8M366.7 646.8l8 8m0-8l-8 8M366.7 867.7l8 8m0-8l-8 8M366.7 877.1l8 8m0-8l-8 8M366.7 891.4l8 8m0-8l-8 8M366.7 901.5l8 8m0-8l-8 8M366.7 910.7l8 8m0-8l-8 8M366.7 920.4l8 8m0-8l-8 8M366.7 933.1l8 8m0-8l-8 8M383.9 600.1l8 8m0-8l-8 8M383.9 609.1l8 8m0-8l-8 8M383.9 618.5l8 8m0-8l-8 8M383.9 627.6l8 8m0-8l-8 8M383.9 636.9l8 8m0-8l-8 8M383.9 648.1l8 8m0-8l-8 8M383.9 658.0l8 8m0-8l-8 8M383.9 669.0l8 8m0-8l-8 8M383.9 678.1l8 8m0-8l-8 8M383.9 687.7l8 8m0-8l-8 8M383.9 698.1l8 8m0-8l-8 8M383.9 707.2l8 8m0-8l-8 8M383.9 717.3l8 8m0-8l-8 8M383.9 726.8l8 8m0-8l-8 8M383.9 736.0l8 8m0-8l-8 8M383.9 745.7l8 8m0-8l-8 8M383.9 756.4l8 8m0-8l-8 8M383.9 766.5l8 8m0-8l-8 8M383.9 775.8l8 8m0-8l-8 8M383.9 784.9l8 8m0-8l-8 8M383.9 794.3l8 8m0-8l-8 8M383.9 803.5l8 8m0-8l-8 8M383.9 813.6l8 8m0-8l-8 8M383.9 824.6l8 8m0-8l-8 8M383.9 833.9l8 8m0-8l-8 8M383.9 843.2l8 8m0-8l-8 8M383.9 855.9l8 8m0-8l-8 8M383.9 865.6l8 8m0-8l-8 8M383.9 875.5l8 8m0-8l-8 8M383.9 885.2l8 8m0-8l-8 8M383.9 896.7l8 8m0-8l-8 8M383.9 906.7l8 8m0-8l-8 8M383.9 919.6l8 8m0-8l-8 8M383.9 928.9l8 8m0-8l-8 8M383.9 938.2l8 8m0-8l-8 8M383.9 947.8l8 8m0-8l-8 8M401.2 599.5l8 8m0-8l-8 8M401.2 608.8l8 8m0-8l-8 8M401.2 618.2l8 8m0-8l-8 8M401.2 628.3l8 8m0-8l-8 8M401.2 638.1l8 8m0-8l-8 8M401.2 647.5l8 8m0-8l-8 8M401.2 658.9l8 8m0-8l-8 8M401.2 667.9l8 8m0-8l-8 8M401.2 677.5l8 8m0-8l-8 8M401.2 686.9l8 8m0-8l-8 8M401.2 696.3l8 8m0-8l-8 8M401.2 706.1l8 8m0-8l-8 8M401.2 715.6l8 8m0-8l-8 8M401.2 726.0l8 8m0-8l-8 8M401.2 735.5l8 8m0-8l-8 8M401.2 744.9l8 8m0-8l-8 8M401.2 756.3l8 8m0-8l-8 8M401.2 766.9l8 8m0-8l-8 8M401.2 776.5l8 8m0-8l-8 8M401.2 786.3l8 8m0-8l-8 8M401.2 796.7l8 8m0-8l-8 8M401.2 806.5l8 8m0-8l-8 8M401.2 815.7l8 8m0-8l-8 8M401.2 826.0l8 8m0-8l-8 8M401.2 835.3l8 8m0-8l-8 8M401.2 846.1l8 8m0-8l-8 8M401.2 856.5l8 8m0-8l-8 8M401.2 865.9l8 8m0-8l-8 8M401.2 875.4l8 8m0-8l-8 8M401.2 885.3l8 8m0-8l-8 8M401.2 895.4l8 8m0-8l-8 8M401.2 906.2l8 8m0-8l-8 8M401.2 915.9l8 8m0-8l-8 8M418.5 613.8l8 8m0-8l-8 8M418.5 622.8l8 8m0-8l-8 8M418.5 633.1l8 8m0-8l-8 8M418.5 642.6l8 8m0-8l-8 8M418.5 653.1l8 8m0-8l-8 8M418.5 663.9l8 8m0-8l-8 8M418.5 675.5l8 8m0-8l-8 8M418.5 685.5l8 8m0-8l-8 8M418.5 696.7l8 8m0-8l-8 8M418.5 706.2l8 8m0-8l-8 8M418.5 715.9l8 8m0-8l-8 8M418.5 726.7l8 8m0-8l-8 8M418.5 739.2l8 8m0-8l-8 8M418.5 748.8l8 8m0-8l-8 8M418.5 758.9l8 8m0-8l-8 8M418.5 768.1l8 8m0-8l-8 8M418.5 777.5l8 8m0-8l-8 8M418.5 789.6l8 8m0-8l-8 8M418.5 799.4l8 8m0-8l-8 8M418.5 810.6l8 8m0-8l-8 8M418.5 820.1l8 8m0-8l-8 8M418.5 829.3l8 8m0-8l-8 8M418.5 839.3l8 8m0-8l-8 8M418.5 851.6l8 8m0-8l-8 8M418.5 861.1l8 8m0-8l-8 8M418.5 870.1l8 8m0-8l-8 8M418.5 879.6l8 8m0-8l-8 8M418.5 889.5l8 8m0-8l-8 8M435.8 602.4l8 8m0-8l-8 8M435.8 614.5l8 8m0-8l-8 8M435.8 631.3l8 8m0-8l-8 8M435.8 642.1l8 8m0-8l-8 8M435.8 655.0l8 8m0-8l-8 8M435.8 668.6l8 8m0-8l-8 8M435.8 682.8l8 8m0-8l-8 8M435.8 694.1l8 8m0-8l-8 8M435.8 704.9l8 8m0-8l-8 8M435.8 713.9l8 8m0-8l-8 8M435.8 723.9l8 8m0-8l-8 8M435.8 733.7l8 8m0-8l-8 8M435.8 744.9l8 8m0-8l-8 8M435.8 754.9l8 8m0-8l-8 8M435.8 764.0l8 8m0-8l-8 8M435.8 773.2l8 8m0-8l-8 8M435.8 786.3l8 8m0-8l-8 8M435.8 796.2l8 8m0-8l-8 8M435.8 805.2l8 8m0-8l-8 8M435.8 815.3l8 8m0-8l-8 8M435.8 829.5l8 8m0-8l-8 8M435.8 841.5l8 8m0-8l-8 8M435.8 851.5l8 8m0-8l-8 8M435.8 860.8l8 8m0-8l-8 8M435.8 872.9l8 8m0-8l-8 8M435.8 885.2l8 8m0-8l-8 8M435.8 894.5l8 8m0-8l-8 8"/><path stroke="#0d2161" d="M125.0 989.0l8 8m0-8l-8 8M142.2 788.6l8 8m0-8l-8 8M159.5 764.3l8 8m0-8l-8 8M159.5 984.4l8 8m0-8l-8 8M176.8 762.5l8 8m0-8l-8 8M263.1 673.3l8 8m0-8l-8 8M280.4 663.1l8 8m0-8l-8 8M297.6 651.3l8 8m0-8l-8 8M297.6 660.3l8 8m0-8l-8 8M297.6 948.3l8 8m0-8l-8 8M314.9 672.0l8 8m0-8l-8 8M314.9 681.9l8 8m0-8l-8 8M332.2 648.6l8 8m0-8l-8 8M332.2 657.6l8 8m0-8l-8 8M332.2 933.2l8 8m0-8l-8 8M349.4 699.5l8 8m0-8l-8 8M349.4 708.5l8 8m0-8l-8 8M349.4 851.5l8 8m0-8l-8 8M349.4 860.6l8 8m0-8l-8 8M349.4 870.2l8 8m0-8l-8 8M349.4 879.7l8 8m0-8l-8 8M366.7 656.7l8 8m0-8l-8 8M366.7 665.7l8 8m0-8l-8 8M366.7 674.9l8 8m0-8l-8 8M366.7 684.2l8 8m0-8l-8 8M366.7 693.6l8 8m0-8l-8 8M366.7 704.1l8 8m0-8l-8 8M366.7 714.6l8 8m0-8l-8 8M366.7 723.8l8 8m0-8l-8 8M366.7 733.2l8 8m0-8l-8 8M366.7 742.5l8 8m0-8l-8 8M366.7 751.8l8 8m0-8l-8 8M366.7 761.2l8 8m0-8l-8 8M366.7 772.6l8 8m0-8l-8 8M366.7 781.8l8 8m0-8l-8 8M366.7 791.4l8 8m0-8l-8 8M366.7 800.6l8 8m0-8l-8 8M366.7 810.3l8 8m0-8l-8 8M366.7 819.8l8 8m0-8l-8 8M366.7 830.1l8 8m0-8l-8 8M366.7 839.2l8 8m0-8l-8 8M366.7 848.5l8 8m0-8l-8 8M366.7 858.2l8 8m0-8l-8 8"/><path stroke="#0e2265" d="M90.4 856.6l8 8m0-8l-8 8M90.4 987.6l8 8m0-8l-8 8M107.7 846.9l8 8m0-8l-8 8M176.8 982.7l8 8m0-8l-8 8M194.0 745.9l8 8m0-8l-8 8M211.3 724.7l8 8m0-8l-8 8M228.6 959.0l8 8m0-8l-8 8M245.8 683.9l8 8m0-8l-8 8M263.1 682.4l8 8m0-8l-8 8M280.4 672.2l8 8m0-8l-8 8M297.6 669.3l8 8m0-8l-8 8M314.9 938.1l8 8m0-8l-8 8M332.2 667.9l8 8m0-8l-8 8M332.2 923.5l8 8m0-8l-8 8M349.4 717.5l8 8m0-8l-8 8M349.4 728.1l8 8m0-8l-8 8M349.4 737.7l8 8m0-8l-8 8M349.4 746.9l8 8m0-8l-8 8M349.4 756.0l8 8m0-8l-8 8M349.4 765.5l8 8m0-8l-8 8M349.4 774.6l8 8m0-8l-8 8M349.4 784.4l8 8m0-8l-8 8M349.4 793.9l8 8m0-8l-8 8M349.4 803.3l8 8m0-8l-8 8M349.4 812.8l8 8m0-8l-8 8M349.4 821.9l8 8m0-8l-8 8M349.4 831.3l8 8m0-8l-8 8M349.4 842.5l8 8m0-8l-8 8"/><path stroke="#11246b" d="M194.0 968.9l8 8m0-8l-8 8M228.6 700.6l8 8m0-8l-8 8M245.8 956.5l8 8m0-8l-8 8M263.1 954.5l8 8m0-8l-8 8M280.4 945.9l8 8m0-8l-8 8M297.6 678.3l8 8m0-8l-8 8M297.6 939.2l8 8m0-8l-8 8M314.9 691.5l8 8m0-8l-8 8M314.9 919.6l8 8m0-8l-8 8M314.9 928.9l8 8m0-8l-8 8M332.2 679.0l8 8m0-8l-8 8M332.2 913.7l8 8m0-8l-8 8"/><path stroke="#13266f" d="M107.7 986.9l8 8m0-8l-8 8M142.2 981.0l8 8m0-8l-8 8M211.3 963.2l8 8m0-8l-8 8M263.1 693.8l8 8m0-8l-8 8M280.4 684.2l8 8m0-8l-8 8M297.6 687.6l8 8m0-8l-8 8M314.9 702.5l8 8m0-8l-8 8M314.9 712.4l8 8m0-8l-8 8M314.9 722.0l8 8m0-8l-8 8M314.9 909.9l8 8m0-8l-8 8M332.2 689.3l8 8m0-8l-8 8M332.2 883.3l8 8m0-8l-8 8M332.2 893.3l8 8m0-8l-8 8M332.2 902.5l8 8m0-8l-8 8"/><path stroke="#162874" d="M125.0 833.4l8 8m0-8l-8 8M314.9 732.4l8 8m0-8l-8 8M314.9 741.4l8 8m0-8l-8 8M314.9 751.1l8 8m0-8l-8 8M314.9 761.4l8 8m0-8l-8 8M314.9 868.4l8 8m0-8l-8 8M314.9 877.5l8 8m0-8l-8 8M314.9 888.3l8 8m0-8l-8 8M314.9 897.6l8 8m0-8l-8 8M332.2 698.9l8 8m0-8l-8 8M332.2 708.5l8 8m0-8l-8 8M332.2 718.5l8 8m0-8l-8 8M332.2 730.2l8 8m0-8l-8 8M332.2 739.4l8 8m0-8l-8 8M332.2 751.5l8 8m0-8l-8 8M332.2 763.2l8 8m0-8l-8 8M332.2 772.6l8 8m0-8l-8 8M332.2 783.6l8 8m0-8l-8 8M332.2 811.9l8 8m0-8l-8 8M332.2 821.6l8 8m0-8l-8 8M332.2 834.2l8 8m0-8l-8 8M332.2 844.1l8 8m0-8l-8 8M332.2 853.4l8 8m0-8l-8 8M332.2 863.5l8 8m0-8l-8 8M332.2 874.1l8 8m0-8l-8 8"/><path stroke="#172978" d="M314.9 772.5l8 8m0-8l-8 8M314.9 782.1l8 8m0-8l-8 8M314.9 791.4l8 8m0-8l-8 8M314.9 801.1l8 8m0-8l-8 8M314.9 810.1l8 8m0-8l-8 8M314.9 820.0l8 8m0-8l-8 8M314.9 829.0l8 8m0-8l-8 8M314.9 838.9l8 8m0-8l-8 8M314.9 848.0l8 8m0-8l-8 8M314.9 859.3l8 8m0-8l-8 8M332.2 792.7l8 8m0-8l-8 8M332.2 801.9l8 8m0-8l-8 8"/><path stroke="#081d58" d="M90.4 819.6l8 8m0-8l-8 8M90.4 829.3l8 8m0-8l-8 8M107.7 806.0l8 8m0-8l-8 8M107.7 816.4l8 8m0-8l-8 8M125.0 789.3l8 8m0-8l-8 8M125.0 805.0l8 8m0-8l-8 8M142.2 763.5l8 8m0-8l-8 8M159.5 734.2l8 8m0-8l-8 8M159.5 744.8l8 8m0-8l-8 8M176.8 715.1l8 8m0-8l-8 8M176.8 727.1l8 8m0-8l-8 8M176.8 736.2l8 8m0-8l-8 8M194.0 710.4l8 8m0-8l-8 8M194.0 720.1l8 8m0-8l-8 8M194.0 729.3l8 8m0-8l-8 8M194.0 979.9l8 8m0-8l-8 8M211.3 663.6l8 8m0-8l-8 8M211.3 673.0l8 8m0-8l-8 8M211.3 685.8l8 8m0-8l-8 8M211.3 696.0l8 8m0-8l-8 8M228.6 660.0l8 8m0-8l-8 8M228.6 670.5l8 8m0-8l-8 8M245.8 636.6l8 8m0-8l-8 8M245.8 646.8l8 8m0-8l-8 8M245.8 656.0l8 8m0-8l-8 8M245.8 969.9l8 8m0-8l-8 8M263.1 624.3l8 8m0-8l-8 8M263.1 635.3l8 8m0-8l-8 8M263.1 980.6l8 8m0-8l-8 8M280.4 606.7l8 8m0-8l-8 8M280.4 624.6l8 8m0-8l-8 8M280.4 635.4l8 8m0-8l-8 8M297.6 599.9l8 8m0-8l-8 8M297.6 610.1l8 8m0-8l-8 8M297.6 961.3l8 8m0-8l-8 8M314.9 961.8l8 8m0-8l-8 8M332.2 609.2l8 8m0-8l-8 8M349.4 598.4l8 8m0-8l-8 8M349.4 949.2l8 8m0-8l-8 8M366.7 598.8l8 8m0-8l-8 8M366.7 948.1l8 8m0-8l-8 8M383.9 948.1l8 8m0-8l-8 8M418.5 603.1l8 8m0-8l-8 8M418.5 902.2l8 8m0-8l-8 8M418.5 920.1l8 8m0-8l-8 8M435.8 912.4l8 8m0-8l-8 8M435.8 929.3l8 8m0-8l-8 8M453.0 600.0l8 8m0-8l-8 8M453.0 609.4l8 8m0-8l-8 8M453.0 620.4l8 8m0-8l-8 8M453.0 630.6l8 8m0-8l-8 8M453.0 649.3l8 8m0-8l-8 8M453.0 660.9l8 8m0-8l-8 8M453.0 673.2l8 8m0-8l-8 8M453.0 688.1l8 8m0-8l-8 8M453.0 697.5l8 8m0-8l-8 8M453.0 707.4l8 8m0-8l-8 8M453.0 716.7l8 8m0-8l-8 8M453.0 726.3l8 8m0-8l-8 8M453.0 735.8l8 8m0-8l-8 8M453.0 747.7l8 8m0-8l-8 8M453.0 757.9l8 8m0-8l-8 8M453.0 768.9l8 8m0-8l-8 8M453.0 778.1l8 8m0-8l-8 8M453.0 789.8l8 8m0-8l-8 8M453.0 799.5l8 8m0-8l-8 8M453.0 809.4l8 8m0-8l-8 8M453.0 825.4l8 8m0-8l-8 8M453.0 841.0l8 8m0-8l-8 8M453.0 852.4l8 8m0-8l-8 8M453.0 861.9l8 8m0-8l-8 8M453.0 874.1l8 8m0-8l-8 8M453.0 898.3l8 8m0-8l-8 8M453.0 907.9l8 8m0-8l-8 8M470.3 608.3l8 8m0-8l-8 8M470.3 627.9l8 8m0-8l-8 8M470.3 664.5l8 8m0-8l-8 8M470.3 681.4l8 8m0-8l-8 8M470.3 705.5l8 8m0-8l-8 8M470.3 725.9l8 8m0-8l-8 8M470.3 739.9l8 8m0-8l-8 8M470.3 762.1l8 8m0-8l-8 8M470.3 773.6l8 8m0-8l-8 8M470.3 786.6l8 8m0-8l-8 8M470.3 802.6l8 8m0-8l-8 8M470.3 814.5l8 8m0-8l-8 8M470.3 825.6l8 8m0-8l-8 8M470.3 843.6l8 8m0-8l-8 8M470.3 876.7l8 8m0-8l-8 8M470.3 905.8l8 8m0-8l-8 8M487.6 607.4l8 8m0-8l-8 8M487.6 629.2l8 8m0-8l-8 8M487.6 654.5l8 8m0-8l-8 8M487.6 663.5l8 8m0-8l-8 8M487.6 675.9l8 8m0-8l-8 8M487.6 711.7l8 8m0-8l-8 8M487.6 727.3l8 8m0-8l-8 8M487.6 790.0l8 8m0-8l-8 8M487.6 854.1l8 8m0-8l-8 8M487.6 875.1l8 8m0-8l-8 8M504.8 602.3l8 8m0-8l-8 8M504.8 615.2l8 8m0-8l-8 8M504.8 640.8l8 8m0-8l-8 8M504.8 663.6l8 8m0-8l-8 8M504.8 687.3l8 8m0-8l-8 8M504.8 704.6l8 8m0-8l-8 8M504.8 722.3l8 8m0-8l-8 8M504.8 734.7l8 8m0-8l-8 8M504.8 752.1l8 8m0-8l-8 8M504.8 762.7l8 8m0-8l-8 8M504.8 785.5l8 8m0-8l-8 8M504.8 884.2l8 8m0-8l-8 8M522.1 615.8l8 8m0-8l-8 8M522.1 625.2l8 8m0-8l-8 8M522.1 693.2l8 8m0-8l-8 8M522.1 716.2l8 8m0-8l-8 8M522.1 728.3l8 8m0-8l-8 8M522.1 743.5l8 8m0-8l-8 8M522.1 772.1l8 8m0-8l-8 8M539.4 627.0l8 8m0-8l-8 8M539.4 670.3l8 8m0-8l-8 8M539.4 680.0l8 8m0-8l-8 8M539.4 699.3l8 8m0-8l-8 8M539.4 730.9l8 8m0-8l-8 8"/><path stroke="#0a1e5c" d="M90.4 839.2l8 8m0-8l-8 8M90.4 848.2l8 8m0-8l-8 8M107.7 826.2l8 8m0-8l-8 8M107.7 835.3l8 8m0-8l-8 8M125.0 814.9l8 8m0-8l-8 8M125.0 989.5l8 8m0-8l-8 8M142.2 773.3l8 8m0-8l-8 8M142.2 783.0l8 8m0-8l-8 8M159.5 754.8l8 8m0-8l-8 8M176.8 746.0l8 8m0-8l-8 8M176.8 756.7l8 8m0-8l-8 8M176.8 984.1l8 8m0-8l-8 8M194.0 738.3l8 8m0-8l-8 8M211.3 705.7l8 8m0-8l-8 8M211.3 715.0l8 8m0-8l-8 8M211.3 974.3l8 8m0-8l-8 8M228.6 681.3l8 8m0-8l-8 8M228.6 690.6l8 8m0-8l-8 8M228.6 968.9l8 8m0-8l-8 8M245.8 665.6l8 8m0-8l-8 8M245.8 674.8l8 8m0-8l-8 8M263.1 647.6l8 8m0-8l-8 8M263.1 657.3l8 8m0-8l-8 8M263.1 966.4l8 8m0-8l-8 8M280.4 644.9l8 8m0-8l-8 8M280.4 655.6l8 8m0-8l-8 8M280.4 957.7l8 8m0-8l-8 8M297.6 620.5l8 8m0-8l-8 8M297.6 633.3l8 8m0-8l-8 8M297.6 642.3l8 8m0-8l-8 8M297.6 950.1l8 8m0-8l-8 8M314.9 599.6l8 8m0-8l-8 8M314.9 609.1l8 8m0-8l-8 8M314.9 622.4l8 8m0-8l-8 8M314.9 634.8l8 8m0-8l-8 8M314.9 644.9l8 8m0-8l-8 8M314.9 655.3l8 8m0-8l-8 8M314.9 664.7l8 8m0-8l-8 8M314.9 948.9l8 8m0-8l-8 8M332.2 619.0l8 8m0-8l-8 8M332.2 628.5l8 8m0-8l-8 8M332.2 640.6l8 8m0-8l-8 8M332.2 943.6l8 8m0-8l-8 8M349.4 608.5l8 8m0-8l-8 8M349.4 618.8l8 8m0-8l-8 8M349.4 627.8l8 8m0-8l-8 8M349.4 640.5l8 8m0-8l-8 8M349.4 650.8l8 8m0-8l-8 8M349.4 660.6l8 8m0-8l-8 8M349.4 670.5l8 8m0-8l-8 8M349.4 680.3l8 8m0-8l-8 8M349.4 693.0l8 8m0-8l-8 8M349.4 891.5l8 8m0-8l-8 8M349.4 900.7l8 8m0-8l-8 8M349.4 909.9l8 8m0-8l-8 8M349.4 919.7l8 8m0-8l-8 8M349.4 929.3l8 8m0-8l-8 8M349.4 939.2l8 8m0-8l-8 8M366.7 608.7l8 8m0-8l-8 8M366.7 618.2l8 8m0-8l-8 8M366.7 628.2l8 8m0-8l-8 8M366.7 637.9l8 8m0-8l-8 8M366.7 647.2l8 8m0-8l-8 8M366.7 870.1l8 8m0-8l-8 8M366.7 879.7l8 8m0-8l-8 8M366.7 891.5l8 8m0-8l-8 8M366.7 901.8l8 8m0-8l-8 8M366.7 911.0l8 8m0-8l-8 8M366.7 920.8l8 8m0-8l-8 8M366.7 935.6l8 8m0-8l-8 8M383.9 600.3l8 8m0-8l-8 8M383.9 609.6l8 8m0-8l-8 8M383.9 619.5l8 8m0-8l-8 8M383.9 628.8l8 8m0-8l-8 8M383.9 638.3l8 8m0-8l-8 8M383.9 648.4l8 8m0-8l-8 8M383.9 658.2l8 8m0-8l-8 8M383.9 669.2l8 8m0-8l-8 8M383.9 678.7l8 8m0-8l-8 8M383.9 687.9l8 8m0-8l-8 8M383.9 699.6l8 8m0-8l-8 8M383.9 708.6l8 8m0-8l-8 8M383.9 718.6l8 8m0-8l-8 8M383.9 727.6l8 8m0-8l-8 8M383.9 736.7l8 8m0-8l-8 8M383.9 746.1l8 8m0-8l-8 8M383.9 756.8l8 8m0-8l-8 8M383.9 767.4l8 8m0-8l-8 8M383.9 776.5l8 8m0-8l-8 8M383.9 785.8l8 8m0-8l-8 8M383.9 795.0l8 8m0-8l-8 8M383.9 804.4l8 8m0-8l-8 8M383.9 814.5l8 8m0-8l-8 8M383.9 824.9l8 8m0-8l-8 8M383.9 833.9l8 8m0-8l-8 8M383.9 844.5l8 8m0-8l-8 8M383.9 856.2l8 8m0-8l-8 8M383.9 866.7l8 8m0-8l-8 8M383.9 876.0l8 8m0-8l-8 8M383.9 885.5l8 8m0-8l-8 8M383.9 896.8l8 8m0-8l-8 8M383.9 908.4l8 8m0-8l-8 8M383.9 920.3l8 8m0-8l-8 8M383.9 929.5l8 8m0-8l-8 8M383.9 938.7l8 8m0-8l-8 8M401.2 599.6l8 8m0-8l-8 8M401.2 609.2l8 8m0-8l-8 8M401.2 618.4l8 8m0-8l-8 8M401.2 629.2l8 8m0-8l-8 8M401.2 639.0l8 8m0-8l-8 8M401.2 648.2l8 8m0-8l-8 8M401.2 659.7l8 8m0-8l-8 8M401.2 669.1l8 8m0-8l-8 8M401.2 678.7l8 8m0-8l-8 8M401.2 688.6l8 8m0-8l-8 8M401.2 697.8l8 8m0-8l-8 8M401.2 708.1l8 8m0-8l-8 8M401.2 718.2l8 8m0-8l-8 8M401.2 727.8l8 8m0-8l-8 8M401.2 737.5l8 8m0-8l-8 8M401.2 746.6l8 8m0-8l-8 8M401.2 756.4l8 8m0-8l-8 8M401.2 768.1l8 8m0-8l-8 8M401.2 778.7l8 8m0-8l-8 8M401.2 788.9l8 8m0-8l-8 8M401.2 798.7l8 8m0-8l-8 8M401.2 808.3l8 8m0-8l-8 8M401.2 818.6l8 8m0-8l-8 8M401.2 828.1l8 8m0-8l-8 8M401.2 837.2l8 8m0-8l-8 8M401.2 846.8l8 8m0-8l-8 8M401.2 856.7l8 8m0-8l-8 8M401.2 866.0l8 8m0-8l-8 8M401.2 875.6l8 8m0-8l-8 8M401.2 885.4l8 8m0-8l-8 8M401.2 895.8l8 8m0-8l-8 8M401.2 906.4l8 8m0-8l-8 8M401.2 918.9l8 8m0-8l-8 8M418.5 614.8l8 8m0-8l-8 8M418.5 625.9l8 8m0-8l-8 8M418.5 634.9l8 8m0-8l-8 8M418.5 644.5l8 8m0-8l-8 8M418.5 655.1l8 8m0-8l-8 8M418.5 667.5l8 8m0-8l-8 8M418.5 677.5l8 8m0-8l-8 8M418.5 687.1l8 8m0-8l-8 8M418.5 697.0l8 8m0-8l-8 8M418.5 706.4l8 8m0-8l-8 8M418.5 719.8l8 8m0-8l-8 8M418.5 730.2l8 8m0-8l-8 8M418.5 742.0l8 8m0-8l-8 8M418.5 751.6l8 8m0-8l-8 8M418.5 761.1l8 8m0-8l-8 8M418.5 770.2l8 8m0-8l-8 8M418.5 779.2l8 8m0-8l-8 8M418.5 789.9l8 8m0-8l-8 8M418.5 800.1l8 8m0-8l-8 8M418.5 811.4l8 8m0-8l-8 8M418.5 824.9l8 8m0-8l-8 8M418.5 834.0l8 8m0-8l-8 8M418.5 843.1l8 8m0-8l-8 8M418.5 852.4l8 8m0-8l-8 8M418.5 862.8l8 8m0-8l-8 8M418.5 872.4l8 8m0-8l-8 8M418.5 882.5l8 8m0-8l-8 8M418.5 892.4l8 8m0-8l-8 8M435.8 602.7l8 8m0-8l-8 8M435.8 614.7l8 8m0-8l-8 8M435.8 632.1l8 8m0-8l-8 8M435.8 655.2l8 8m0-8l-8 8M435.8 669.0l8 8m0-8l-8 8M435.8 683.9l8 8m0-8l-8 8M435.8 694.9l8 8m0-8l-8 8M435.8 705.9l8 8m0-8l-8 8M435.8 715.4l8 8m0-8l-8 8M435.8 725.6l8 8m0-8l-8 8M435.8 735.8l8 8m0-8l-8 8M435.8 745.3l8 8m0-8l-8 8M435.8 755.1l8 8m0-8l-8 8M435.8 764.5l8 8m0-8l-8 8M435.8 774.0l8 8m0-8l-8 8M435.8 788.2l8 8m0-8l-8 8M435.8 798.4l8 8m0-8l-8 8M435.8 809.4l8 8m0-8l-8 8M435.8 818.7l8 8m0-8l-8 8M435.8 830.3l8 8m0-8l-8 8M435.8 843.2l8 8m0-8l-8 8M435.8 854.3l8 8m0-8l-8 8M435.8 863.5l8 8m0-8l-8 8M435.8 873.4l8 8m0-8l-8 8M435.8 885.3l8 8m0-8l-8 8M435.8 895.7l8 8m0-8l-8 8"/><path stroke="#0d2161" d="M125.0 823.9l8 8m0-8l-8 8M159.5 766.3l8 8m0-8l-8 8M159.5 984.5l8 8m0-8l-8 8M263.1 667.2l8 8m0-8l-8 8M263.1 676.9l8 8m0-8l-8 8M280.4 664.9l8 8m0-8l-8 8M297.6 652.2l8 8m0-8l-8 8M297.6 661.7l8 8m0-8l-8 8M314.9 676.3l8 8m0-8l-8 8M332.2 649.8l8 8m0-8l-8 8M332.2 659.7l8 8m0-8l-8 8M332.2 934.6l8 8m0-8l-8 8M349.4 702.2l8 8m0-8l-8 8M349.4 712.5l8 8m0-8l-8 8M349.4 852.8l8 8m0-8l-8 8M349.4 862.0l8 8m0-8l-8 8M349.4 872.7l8 8m0-8l-8 8M349.4 881.9l8 8m0-8l-8 8M366.7 656.8l8 8m0-8l-8 8M366.7 666.8l8 8m0-8l-8 8M366.7 675.9l8 8m0-8l-8 8M366.7 687.2l8 8m0-8l-8 8M366.7 696.6l8 8m0-8l-8 8M366.7 705.7l8 8m0-8l-8 8M366.7 715.2l8 8m0-8l-8 8M366.7 725.1l8 8m0-8l-8 8M366.7 734.5l8 8m0-8l-8 8M366.7 743.6l8 8m0-8l-8 8M366.7 753.2l8 8m0-8l-8 8M366.7 762.8l8 8m0-8l-8 8M366.7 773.5l8 8m0-8l-8 8M366.7 783.4l8 8m0-8l-8 8M366.7 793.0l8 8m0-8l-8 8M366.7 802.1l8 8m0-8l-8 8M366.7 811.4l8 8m0-8l-8 8M366.7 822.1l8 8m0-8l-8 8M366.7 831.8l8 8m0-8l-8 8M366.7 841.2l8 8m0-8l-8 8M366.7 851.4l8 8m0-8l-8 8M366.7 860.7l8 8m0-8l-8 8"/><path stroke="#0e2265" d="M90.4 857.9l8 8m0-8l-8 8M90.4 987.7l8 8m0-8l-8 8M107.7 987.6l8 8m0-8l-8 8M228.6 959.8l8 8m0-8l-8 8M263.1 686.0l8 8m0-8l-8 8M263.1 955.3l8 8m0-8l-8 8M280.4 674.6l8 8m0-8l-8 8M297.6 672.2l8 8m0-8l-8 8M314.9 687.3l8 8m0-8l-8 8M314.9 939.4l8 8m0-8l-8 8M332.2 923.6l8 8m0-8l-8 8M349.4 721.7l8 8m0-8l-8 8M349.4 730.8l8 8m0-8l-8 8M349.4 740.3l8 8m0-8l-8 8M349.4 749.6l8 8m0-8l-8 8M349.4 758.8l8 8m0-8l-8 8M349.4 769.6l8 8m0-8l-8 8M349.4 779.4l8 8m0-8l-8 8M349.4 790.2l8 8m0-8l-8 8M349.4 801.2l8 8m0-8l-8 8M349.4 810.8l8 8m0-8l-8 8M349.4 821.2l8 8m0-8l-8 8M349.4 832.9l8 8m0-8l-8 8M349.4 843.3l8 8m0-8l-8 8"/><path stroke="#11246b" d="M107.7 847.5l8 8m0-8l-8 8M176.8 766.7l8 8m0-8l-8 8M194.0 969.0l8 8m0-8l-8 8M245.8 685.2l8 8m0-8l-8 8M245.8 956.9l8 8m0-8l-8 8M280.4 946.6l8 8m0-8l-8 8M297.6 681.9l8 8m0-8l-8 8M297.6 939.3l8 8m0-8l-8 8M314.9 697.6l8 8m0-8l-8 8M314.9 920.5l8 8m0-8l-8 8M314.9 930.4l8 8m0-8l-8 8M332.2 670.4l8 8m0-8l-8 8M332.2 681.7l8 8m0-8l-8 8M332.2 904.2l8 8m0-8l-8 8M332.2 914.3l8 8m0-8l-8 8"/><path stroke="#13266f" d="M142.2 981.0l8 8m0-8l-8 8M211.3 963.5l8 8m0-8l-8 8M280.4 684.5l8 8m0-8l-8 8M314.9 707.2l8 8m0-8l-8 8M314.9 716.9l8 8m0-8l-8 8M314.9 906.5l8 8m0-8l-8 8M332.2 694.5l8 8m0-8l-8 8M332.2 885.1l8 8m0-8l-8 8M332.2 894.6l8 8m0-8l-8 8"/><path stroke="#162874" d="M211.3 728.8l8 8m0-8l-8 8M314.9 727.2l8 8m0-8l-8 8M314.9 738.0l8 8m0-8l-8 8M314.9 747.8l8 8m0-8l-8 8M314.9 758.9l8 8m0-8l-8 8M314.9 872.6l8 8m0-8l-8 8M314.9 883.9l8 8m0-8l-8 8M314.9 896.1l8 8m0-8l-8 8M332.2 703.8l8 8m0-8l-8 8M332.2 714.9l8 8m0-8l-8 8M332.2 723.9l8 8m0-8l-8 8M332.2 733.3l8 8m0-8l-8 8M332.2 742.6l8 8m0-8l-8 8M332.2 752.2l8 8m0-8l-8 8M332.2 763.6l8 8m0-8l-8 8M332.2 773.4l8 8m0-8l-8 8M332.2 784.9l8 8m0-8l-8 8M332.2 815.2l8 8m0-8l-8 8M332.2 825.2l8 8m0-8l-8 8M332.2 836.0l8 8m0-8l-8 8M332.2 845.2l8 8m0-8l-8 8M332.2 856.0l8 8m0-8l-8 8M332.2 866.2l8 8m0-8l-8 8M332.2 876.0l8 8m0-8l-8 8"/><path stroke="#172978" d="M314.9 769.0l8 8m0-8l-8 8M314.9 778.6l8 8m0-8l-8 8M314.9 788.4l8 8m0-8l-8 8M314.9 799.0l8 8m0-8l-8 8M314.9 808.2l8 8m0-8l-8 8M314.9 821.5l8 8m0-8l-8 8M314.9 831.2l8 8m0-8l-8 8M314.9 840.4l8 8m0-8l-8 8M314.9 852.3l8 8m0-8l-8 8M314.9 861.5l8 8m0-8l-8 8M332.2 796.6l8 8m0-8l-8 8M332.2 805.9l8 8m0-8l-8 8"/><path stroke="#081d58" d="M90.4 821.3l8 8m0-8l-8 8M90.4 831.8l8 8m0-8l-8 8M107.7 807.1l8 8m0-8l-8 8M107.7 817.4l8 8m0-8l-8 8M125.0 789.8l8 8m0-8l-8 8M125.0 805.2l8 8m0-8l-8 8M142.2 764.2l8 8m0-8l-8 8M159.5 735.1l8 8m0-8l-8 8M159.5 745.5l8 8m0-8l-8 8M176.8 722.2l8 8m0-8l-8 8M176.8 733.4l8 8m0-8l-8 8M194.0 711.1l8 8m0-8l-8 8M194.0 721.8l8 8m0-8l-8 8M194.0 980.4l8 8m0-8l-8 8M211.3 666.4l8 8m0-8l-8 8M211.3 677.4l8 8m0-8l-8 8M211.3 686.7l8 8m0-8l-8 8M211.3 697.3l8 8m0-8l-8 8M211.3 979.8l8 8m0-8l-8 8M228.6 660.9l8 8m0-8l-8 8M228.6 672.9l8 8m0-8l-8 8M245.8 637.2l8 8m0-8l-8 8M245.8 648.2l8 8m0-8l-8 8M263.1 640.4l8 8m0-8l-8 8M280.4 611.9l8 8m0-8l-8 8M280.4 628.3l8 8m0-8l-8 8M297.6 610.6l8 8m0-8l-8 8M314.9 964.6l8 8m0-8l-8 8M332.2 611.7l8 8m0-8l-8 8M349.4 598.8l8 8m0-8l-8 8M349.4 949.8l8 8m0-8l-8 8M366.7 948.8l8 8m0-8l-8 8M383.9 952.2l8 8m0-8l-8 8M418.5 605.5l8 8m0-8l-8 8M418.5 904.3l8 8m0-8l-8 8M435.8 897.1l8 8m0-8l-8 8M435.8 913.3l8 8m0-8l-8 8M453.0 604.8l8 8m0-8l-8 8M453.0 620.9l8 8m0-8l-8 8M453.0 631.0l8 8m0-8l-8 8M453.0 662.3l8 8m0-8l-8 8M453.0 675.4l8 8m0-8l-8 8M453.0 693.6l8 8m0-8l-8 8M453.0 705.3l8 8m0-8l-8 8M453.0 717.7l8 8m0-8l-8 8M453.0 727.3l8 8m0-8l-8 8M453.0 737.0l8 8m0-8l-8 8M453.0 747.7l8 8m0-8l-8 8M453.0 759.7l8 8m0-8l-8 8M453.0 774.1l8 8m0-8l-8 8M453.0 789.8l8 8m0-8l-8 8M453.0 800.2l8 8m0-8l-8 8M453.0 809.7l8 8m0-8l-8 8M453.0 827.2l8 8m0-8l-8 8M453.0 842.9l8 8m0-8l-8 8M453.0 853.3l8 8m0-8l-8 8M453.0 863.2l8 8m0-8l-8 8M453.0 901.5l8 8m0-8l-8 8M470.3 629.7l8 8m0-8l-8 8M470.3 667.6l8 8m0-8l-8 8M470.3 683.0l8 8m0-8l-8 8M470.3 728.1l8 8m0-8l-8 8M470.3 748.1l8 8m0-8l-8 8M470.3 763.7l8 8m0-8l-8 8M470.3 776.0l8 8m0-8l-8 8M470.3 787.7l8 8m0-8l-8 8M470.3 802.9l8 8m0-8l-8 8M470.3 817.4l8 8m0-8l-8 8M470.3 826.8l8 8m0-8l-8 8M470.3 847.6l8 8m0-8l-8 8M470.3 906.0l8 8m0-8l-8 8M487.6 609.3l8 8m0-8l-8 8M487.6 655.8l8 8m0-8l-8 8M487.6 665.1l8 8m0-8l-8 8M487.6 677.6l8 8m0-8l-8 8M487.6 713.7l8 8m0-8l-8 8M487.6 790.8l8 8m0-8l-8 8M487.6 876.7l8 8m0-8l-8 8M504.8 617.9l8 8m0-8l-8 8M504.8 646.6l8 8m0-8l-8 8M504.8 668.5l8 8m0-8l-8 8M504.8 722.5l8 8m0-8l-8 8M504.8 737.7l8 8m0-8l-8 8M504.8 752.2l8 8m0-8l-8 8M504.8 763.2l8 8m0-8l-8 8M504.8 785.5l8 8m0-8l-8 8M522.1 616.9l8 8m0-8l-8 8M522.1 626.9l8 8m0-8l-8 8M522.1 717.2l8 8m0-8l-8 8M522.1 728.4l8 8m0-8l-8 8M522.1 745.4l8 8m0-8l-8 8M522.1 775.5l8 8m0-8l-8 8M539.4 676.0l8 8m0-8l-8 8M539.4 733.8l8 8m0-8l-8 8"/><path stroke="#0a1e5c" d="M90.4 842.3l8 8m0-8l-8 8M90.4 851.4l8 8m0-8l-8 8M107.7 827.9l8 8m0-8l-8 8M107.7 836.9l8 8m0-8l-8 8M125.0 814.9l8 8m0-8l-8 8M125.0 990.5l8 8m0-8l-8 8M142.2 773.6l8 8m0-8l-8 8M142.2 783.1l8 8m0-8l-8 8M159.5 755.4l8 8m0-8l-8 8M176.8 744.4l8 8m0-8l-8 8M176.8 754.4l8 8m0-8l-8 8M194.0 731.4l8 8m0-8l-8 8M211.3 706.5l8 8m0-8l-8 8M211.3 715.8l8 8m0-8l-8 8M228.6 682.0l8 8m0-8l-8 8M228.6 691.4l8 8m0-8l-8 8M228.6 969.6l8 8m0-8l-8 8M245.8 657.6l8 8m0-8l-8 8M245.8 667.1l8 8m0-8l-8 8M263.1 651.5l8 8m0-8l-8 8M263.1 661.3l8 8m0-8l-8 8M263.1 967.2l8 8m0-8l-8 8M280.4 638.4l8 8m0-8l-8 8M280.4 648.0l8 8m0-8l-8 8M280.4 658.0l8 8m0-8l-8 8M280.4 957.9l8 8m0-8l-8 8M297.6 621.0l8 8m0-8l-8 8M297.6 634.3l8 8m0-8l-8 8M297.6 643.4l8 8m0-8l-8 8M297.6 950.4l8 8m0-8l-8 8M314.9 603.9l8 8m0-8l-8 8M314.9 613.6l8 8m0-8l-8 8M314.9 623.1l8 8m0-8l-8 8M314.9 635.1l8 8m0-8l-8 8M314.9 644.9l8 8m0-8l-8 8M314.9 655.3l8 8m0-8l-8 8M314.9 665.0l8 8m0-8l-8 8M314.9 950.0l8 8m0-8l-8 8M332.2 622.9l8 8m0-8l-8 8M332.2 633.6l8 8m0-8l-8 8M332.2 643.2l8 8m0-8l-8 8M332.2 945.9l8 8m0-8l-8 8M349.4 608.7l8 8m0-8l-8 8M349.4 621.7l8 8m0-8l-8 8M349.4 630.9l8 8m0-8l-8 8M349.4 641.6l8 8m0-8l-8 8M349.4 652.4l8 8m0-8l-8 8M349.4 662.1l8 8m0-8l-8 8M349.4 671.3l8 8m0-8l-8 8M349.4 680.4l8 8m0-8l-8 8M349.4 693.8l8 8m0-8l-8 8M349.4 891.5l8 8m0-8l-8 8M349.4 901.7l8 8m0-8l-8 8M349.4 911.5l8 8m0-8l-8 8M349.4 920.7l8 8m0-8l-8 8M349.4 929.8l8 8m0-8l-8 8M349.4 939.5l8 8m0-8l-8 8M366.7 599.0l8 8m0-8l-8 8M366.7 608.8l8 8m0-8l-8 8M366.7 618.4l8 8m0-8l-8 8M366.7 629.9l8 8m0-8l-8 8M366.7 639.4l8 8m0-8l-8 8M366.7 649.2l8 8m0-8l-8 8M366.7 870.9l8 8m0-8l-8 8M366.7 880.1l8 8m0-8l-8 8M366.7 892.8l8 8m0-8l-8 8M366.7 901.9l8 8m0-8l-8 8M366.7 911.7l8 8m0-8l-8 8M366.7 921.2l8 8m0-8l-8 8M366.7 935.7l8 8m0-8l-8 8M383.9 600.4l8 8m0-8l-8 8M383.9 610.5l8 8m0-8l-8 8M383.9 620.4l8 8m0-8l-8 8M383.9 629.9l8 8m0-8l-8 8M383.9 638.9l8 8m0-8l-8 8M383.9 648.9l8 8m0-8l-8 8M383.9 658.7l8 8m0-8l-8 8M383.9 669.3l8 8m0-8l-8 8M383.9 679.2l8 8m0-8l-8 8M383.9 688.7l8 8m0-8l-8 8M383.9 700.0l8 8m0-8l-8 8M383.9 710.5l8 8m0-8l-8 8M383.9 721.2l8 8m0-8l-8 8M383.9 730.4l8 8m0-8l-8 8M383.9 739.7l8 8m0-8l-8 8M383.9 749.3l8 8m0-8l-8 8M383.9 758.7l8 8m0-8l-8 8M383.9 767.8l8 8m0-8l-8 8M383.9 777.0l8 8m0-8l-8 8M383.9 786.6l8 8m0-8l-8 8M383.9 796.0l8 8m0-8l-8 8M383.9 805.8l8 8m0-8l-8 8M383.9 814.9l8 8m0-8l-8 8M383.9 825.3l8 8m0-8l-8 8M383.9 834.8l8 8m0-8l-8 8M383.9 845.2l8 8m0-8l-8 8M383.9 856.3l8 8m0-8l-8 8M383.9 867.1l8 8m0-8l-8 8M383.9 876.2l8 8m0-8l-8 8M383.9 885.5l8 8m0-8l-8 8M383.9 896.9l8 8m0-8l-8 8M383.9 909.0l8 8m0-8l-8 8M383.9 920.4l8 8m0-8l-8 8M383.9 930.9l8 8m0-8l-8 8M383.9 941.4l8 8m0-8l-8 8M401.2 600.8l8 8m0-8l-8 8M401.2 610.1l8 8m0-8l-8 8M401.2 619.8l8 8m0-8l-8 8M401.2 629.7l8 8m0-8l-8 8M401.2 639.8l8 8m0-8l-8 8M401.2 649.7l8 8m0-8l-8 8M401.2 660.7l8 8m0-8l-8 8M401.2 670.0l8 8m0-8l-8 8M401.2 679.3l8 8m0-8l-8 8M401.2 689.4l8 8m0-8l-8 8M401.2 698.8l8 8m0-8l-8 8M401.2 708.4l8 8m0-8l-8 8M401.2 718.9l8 8m0-8l-8 8M401.2 728.3l8 8m0-8l-8 8M401.2 737.5l8 8m0-8l-8 8M401.2 746.8l8 8m0-8l-8 8M401.2 757.4l8 8m0-8l-8 8M401.2 769.5l8 8m0-8l-8 8M401.2 778.7l8 8m0-8l-8 8M401.2 789.2l8 8m0-8l-8 8M401.2 801.7l8 8m0-8l-8 8M401.2 810.9l8 8m0-8l-8 8M401.2 820.3l8 8m0-8l-8 8M401.2 830.8l8 8m0-8l-8 8M401.2 840.0l8 8m0-8l-8 8M401.2 849.7l8 8m0-8l-8 8M401.2 858.9l8 8m0-8l-8 8M401.2 868.2l8 8m0-8l-8 8M401.2 878.3l8 8m0-8l-8 8M401.2 887.6l8 8m0-8l-8 8M401.2 896.6l8 8m0-8l-8 8M401.2 906.6l8 8m0-8l-8 8M401.2 919.2l8 8m0-8l-8 8M418.5 615.4l8 8m0-8l-8 8M418.5 626.9l8 8m0-8l-8 8M418.5 636.1l8 8m0-8l-8 8M418.5 646.4l8 8m0-8l-8 8M418.5 655.9l8 8m0-8l-8 8M418.5 668.4l8 8m0-8l-8 8M418.5 680.1l8 8m0-8l-8 8M418.5 689.5l8 8m0-8l-8 8M418.5 698.6l8 8m0-8l-8 8M418.5 709.1l8 8m0-8l-8 8M418.5 720.2l8 8m0-8l-8 8M418.5 730.3l8 8m0-8l-8 8M418.5 745.1l8 8m0-8l-8 8M418.5 756.5l8 8m0-8l-8 8M418.5 768.9l8 8m0-8l-8 8M418.5 777.9l8 8m0-8l-8 8M418.5 791.0l8 8m0-8l-8 8M418.5 800.6l8 8m0-8l-8 8M418.5 811.8l8 8m0-8l-8 8M418.5 825.4l8 8m0-8l-8 8M418.5 834.6l8 8m0-8l-8 8M418.5 846.3l8 8m0-8l-8 8M418.5 855.3l8 8m0-8l-8 8M418.5 865.7l8 8m0-8l-8 8M418.5 875.2l8 8m0-8l-8 8M418.5 884.7l8 8m0-8l-8 8M435.8 604.2l8 8m0-8l-8 8M435.8 615.6l8 8m0-8l-8 8M435.8 634.6l8 8m0-8l-8 8M435.8 656.1l8 8m0-8l-8 8M435.8 669.5l8 8m0-8l-8 8M435.8 686.0l8 8m0-8l-8 8M435.8 695.4l8 8m0-8l-8 8M435.8 711.9l8 8m0-8l-8 8M435.8 721.2l8 8m0-8l-8 8M435.8 730.3l8 8m0-8l-8 8M435.8 739.6l8 8m0-8l-8 8M435.8 749.8l8 8m0-8l-8 8M435.8 762.7l8 8m0-8l-8 8M435.8 772.2l8 8m0-8l-8 8M435.8 789.7l8 8m0-8l-8 8M435.8 802.9l8 8m0-8l-8 8M435.8 813.8l8 8m0-8l-8 8M435.8 832.0l8 8m0-8l-8 8M435.8 843.9l8 8m0-8l-8 8M435.8 857.2l8 8m0-8l-8 8M435.8 866.8l8 8m0-8l-8 8M435.8 876.0l8 8m0-8l-8 8M435.8 887.5l8 8m0-8l-8 8"/><path stroke="#0d2161" d="M90.4 988.1l8 8m0-8l-8 8M125.0 824.1l8 8m0-8l-8 8M159.5 984.9l8 8m0-8l-8 8M176.8 763.5l8 8m0-8l-8 8M194.0 743.5l8 8m0-8l-8 8M245.8 676.3l8 8m0-8l-8 8M245.8 959.2l8 8m0-8l-8 8M263.1 672.9l8 8m0-8l-8 8M280.4 667.5l8 8m0-8l-8 8M297.6 652.6l8 8m0-8l-8 8M297.6 661.9l8 8m0-8l-8 8M314.9 676.8l8 8m0-8l-8 8M314.9 940.5l8 8m0-8l-8 8M332.2 652.6l8 8m0-8l-8 8M332.2 936.7l8 8m0-8l-8 8M349.4 703.4l8 8m0-8l-8 8M349.4 713.0l8 8m0-8l-8 8M349.4 853.8l8 8m0-8l-8 8M349.4 863.1l8 8m0-8l-8 8M349.4 872.9l8 8m0-8l-8 8M349.4 882.3l8 8m0-8l-8 8M366.7 659.7l8 8m0-8l-8 8M366.7 669.8l8 8m0-8l-8 8M366.7 678.9l8 8m0-8l-8 8M366.7 688.4l8 8m0-8l-8 8M366.7 698.1l8 8m0-8l-8 8M366.7 707.2l8 8m0-8l-8 8M366.7 716.6l8 8m0-8l-8 8M366.7 725.8l8 8m0-8l-8 8M366.7 735.2l8 8m0-8l-8 8M366.7 744.3l8 8m0-8l-8 8M366.7 754.4l8 8m0-8l-8 8M366.7 764.9l8 8m0-8l-8 8M366.7 774.5l8 8m0-8l-8 8M366.7 784.4l8 8m0-8l-8 8M366.7 793.6l8 8m0-8l-8 8M366.7 803.6l8 8m0-8l-8 8M366.7 813.2l8 8m0-8l-8 8M366.7 822.3l8 8m0-8l-8 8M366.7 831.9l8 8m0-8l-8 8M366.7 841.9l8 8m0-8l-8 8M366.7 851.8l8 8m0-8l-8 8M366.7 861.4l8 8m0-8l-8 8"/><path stroke="#0e2265" d="M107.7 987.7l8 8m0-8l-8 8M159.5 768.1l8 8m0-8l-8 8M228.6 960.5l8 8m0-8l-8 8M263.1 683.4l8 8m0-8l-8 8M263.1 956.0l8 8m0-8l-8 8M280.4 676.5l8 8m0-8l-8 8M297.6 673.6l8 8m0-8l-8 8M314.9 687.7l8 8m0-8l-8 8M332.2 661.7l8 8m0-8l-8 8M332.2 925.3l8 8m0-8l-8 8M349.4 722.5l8 8m0-8l-8 8M349.4 732.4l8 8m0-8l-8 8M349.4 742.1l8 8m0-8l-8 8M349.4 751.2l8 8m0-8l-8 8M349.4 762.7l8 8m0-8l-8 8M349.4 772.8l8 8m0-8l-8 8M349.4 782.0l8 8m0-8l-8 8M349.4 791.0l8 8m0-8l-8 8M349.4 801.6l8 8m0-8l-8 8M349.4 810.8l8 8m0-8l-8 8M349.4 822.1l8 8m0-8l-8 8M349.4 833.1l8 8m0-8l-8 8M349.4 843.9l8 8m0-8l-8 8"/><path stroke="#11246b" d="M107.7 847.6l8 8m0-8l-8 8M142.2 981.9l8 8m0-8l-8 8M194.0 969.0l8 8m0-8l-8 8M211.3 964.1l8 8m0-8l-8 8M245.8 685.5l8 8m0-8l-8 8M280.4 947.0l8 8m0-8l-8 8M297.6 682.6l8 8m0-8l-8 8M297.6 939.7l8 8m0-8l-8 8M314.9 921.2l8 8m0-8l-8 8M314.9 931.4l8 8m0-8l-8 8M332.2 671.5l8 8m0-8l-8 8M332.2 904.6l8 8m0-8l-8 8M332.2 915.4l8 8m0-8l-8 8"/><path stroke="#13266f" d="M263.1 693.9l8 8m0-8l-8 8M314.9 699.8l8 8m0-8l-8 8M314.9 709.5l8 8m0-8l-8 8M314.9 718.7l8 8m0-8l-8 8M314.9 906.5l8 8m0-8l-8 8M332.2 683.3l8 8m0-8l-8 8M332.2 694.6l8 8m0-8l-8 8M332.2 885.9l8 8m0-8l-8 8M332.2 895.5l8 8m0-8l-8 8"/><path stroke="#162874" d="M90.4 861.0l8 8m0-8l-8 8M280.4 686.2l8 8m0-8l-8 8M314.9 728.9l8 8m0-8l-8 8M314.9 738.0l8 8m0-8l-8 8M314.9 747.9l8 8m0-8l-8 8M314.9 759.4l8 8m0-8l-8 8M314.9 872.7l8 8m0-8l-8 8M314.9 884.8l8 8m0-8l-8 8M314.9 896.4l8 8m0-8l-8 8M332.2 704.9l8 8m0-8l-8 8M332.2 715.2l8 8m0-8l-8 8M332.2 724.4l8 8m0-8l-8 8M332.2 733.6l8 8m0-8l-8 8M332.2 744.6l8 8m0-8l-8 8M332.2 754.5l8 8m0-8l-8 8M332.2 764.2l8 8m0-8l-8 8M332.2 775.8l8 8m0-8l-8 8M332.2 785.7l8 8m0-8l-8 8M332.2 816.9l8 8m0-8l-8 8M332.2 828.0l8 8m0-8l-8 8M332.2 837.8l8 8m0-8l-8 8M332.2 847.0l8 8m0-8l-8 8M332.2 856.5l8 8m0-8l-8 8M332.2 866.8l8 8m0-8l-8 8M332.2 876.8l8 8m0-8l-8 8"/><path stroke="#172978" d="M314.9 769.9l8 8m0-8l-8 8M314.9 779.0l8 8m0-8l-8 8M314.9 788.5l8 8m0-8l-8 8M314.9 799.4l8 8m0-8l-8 8M314.9 808.5l8 8m0-8l-8 8M314.9 826.8l8 8m0-8l-8 8M314.9 836.4l8 8m0-8l-8 8M314.9 846.0l8 8m0-8l-8 8M314.9 860.5l8 8m0-8l-8 8M332.2 797.1l8 8m0-8l-8 8M332.2 807.6l8 8m0-8l-8 8"/><path stroke="#081d58" d="M90.4 828.4l8 8m0-8l-8 8M90.4 837.4l8 8m0-8l-8 8M107.7 807.9l8 8m0-8l-8 8M107.7 819.4l8 8m0-8l-8 8M125.0 790.3l8 8m0-8l-8 8M125.0 807.0l8 8m0-8l-8 8M142.2 766.2l8 8m0-8l-8 8M159.5 737.1l8 8m0-8l-8 8M176.8 727.1l8 8m0-8l-8 8M176.8 736.3l8 8m0-8l-8 8M194.0 712.1l8 8m0-8l-8 8M194.0 722.3l8 8m0-8l-8 8M211.3 674.9l8 8m0-8l-8 8M211.3 686.1l8 8m0-8l-8 8M211.3 697.6l8 8m0-8l-8 8M228.6 665.1l8 8m0-8l-8 8M228.6 674.7l8 8m0-8l-8 8M228.6 972.1l8 8m0-8l-8 8M245.8 639.5l8 8m0-8l-8 8M245.8 655.4l8 8m0-8l-8 8M263.1 641.0l8 8m0-8l-8 8M280.4 630.8l8 8m0-8l-8 8M297.6 612.8l8 8m0-8l-8 8M332.2 612.9l8 8m0-8l-8 8M349.4 954.4l8 8m0-8l-8 8M366.7 950.4l8 8m0-8l-8 8M401.2 922.1l8 8m0-8l-8 8M418.5 606.6l8 8m0-8l-8 8M435.8 898.2l8 8m0-8l-8 8M453.0 606.2l8 8m0-8l-8 8M453.0 620.9l8 8m0-8l-8 8M453.0 632.8l8 8m0-8l-8 8M453.0 662.6l8 8m0-8l-8 8M453.0 676.1l8 8m0-8l-8 8M453.0 694.4l8 8m0-8l-8 8M453.0 708.0l8 8m0-8l-8 8M453.0 718.7l8 8m0-8l-8 8M453.0 732.3l8 8m0-8l-8 8M453.0 742.9l8 8m0-8l-8 8M453.0 752.2l8 8m0-8l-8 8M453.0 762.6l8 8m0-8l-8 8M453.0 790.3l8 8m0-8l-8 8M453.0 800.3l8 8m0-8l-8 8M453.0 811.6l8 8m0-8l-8 8M453.0 827.4l8 8m0-8l-8 8M453.0 846.3l8 8m0-8l-8 8M453.0 858.5l8 8m0-8l-8 8M453.0 867.8l8 8m0-8l-8 8M470.3 631.7l8 8m0-8l-8 8M470.3 683.4l8 8m0-8l-8 8M470.3 729.2l8 8m0-8l-8 8M470.3 748.3l8 8m0-8l-8 8M470.3 763.9l8 8m0-8l-8 8M470.3 787.8l8 8m0-8l-8 8M470.3 808.7l8 8m0-8l-8 8M470.3 818.2l8 8m0-8l-8 8M470.3 827.8l8 8m0-8l-8 8M487.6 677.7l8 8m0-8l-8 8M487.6 878.3l8 8m0-8l-8 8M504.8 622.2l8 8m0-8l-8 8M504.8 647.5l8 8m0-8l-8 8M504.8 738.1l8 8m0-8l-8 8M504.8 786.4l8 8m0-8l-8 8M522.1 621.9l8 8m0-8l-8 8M522.1 717.8l8 8m0-8l-8 8M522.1 729.5l8 8m0-8l-8 8M522.1 777.0l8 8m0-8l-8 8"/><path stroke="#0a1e5c" d="M90.4 847.4l8 8m0-8l-8 8M107.7 828.4l8 8m0-8l-8 8M107.7 838.4l8 8m0-8l-8 8M125.0 816.2l8 8m0-8l-8 8M125.0 991.3l8 8m0-8l-8 8M142.2 776.4l8 8m0-8l-8 8M159.5 750.4l8 8m0-8l-8 8M159.5 761.0l8 8m0-8l-8 8M176.8 748.1l8 8m0-8l-8 8M176.8 757.2l8 8m0-8l-8 8M194.0 733.3l8 8m0-8l-8 8M211.3 709.3l8 8m0-8l-8 8M211.3 718.4l8 8m0-8l-8 8M228.6 684.2l8 8m0-8l-8 8M245.8 665.6l8 8m0-8l-8 8M245.8 674.8l8 8m0-8l-8 8M263.1 651.8l8 8m0-8l-8 8M263.1 661.8l8 8m0-8l-8 8M263.1 967.7l8 8m0-8l-8 8M280.4 640.4l8 8m0-8l-8 8M280.4 651.7l8 8m0-8l-8 8M280.4 959.7l8 8m0-8l-8 8M297.6 622.8l8 8m0-8l-8 8M297.6 639.5l8 8m0-8l-8 8M297.6 950.9l8 8m0-8l-8 8M314.9 604.4l8 8m0-8l-8 8M314.9 614.5l8 8m0-8l-8 8M314.9 623.6l8 8m0-8l-8 8M314.9 636.5l8 8m0-8l-8 8M314.9 646.1l8 8m0-8l-8 8M314.9 655.7l8 8m0-8l-8 8M314.9 954.9l8 8m0-8l-8 8M332.2 623.4l8 8m0-8l-8 8M332.2 634.2l8 8m0-8l-8 8M332.2 643.2l8 8m0-8l-8 8M332.2 948.6l8 8m0-8l-8 8M349.4 599.5l8 8m0-8l-8 8M349.4 609.1l8 8m0-8l-8 8M349.4 622.0l8 8m0-8l-8 8M349.4 631.8l8 8m0-8l-8 8M349.4 641.9l8 8m0-8l-8 8M349.4 652.8l8 8m0-8l-8 8M349.4 662.2l8 8m0-8l-8 8M349.4 671.6l8 8m0-8l-8 8M349.4 680.7l8 8m0-8l-8 8M349.4 694.1l8 8m0-8l-8 8M349.4 893.0l8 8m0-8l-8 8M349.4 902.1l8 8m0-8l-8 8M349.4 911.7l8 8m0-8l-8 8M349.4 921.1l8 8m0-8l-8 8M349.4 930.1l8 8m0-8l-8 8M349.4 939.5l8 8m0-8l-8 8M366.7 599.4l8 8m0-8l-8 8M366.7 610.1l8 8m0-8l-8 8M366.7 622.4l8 8m0-8l-8 8M366.7 633.3l8 8m0-8l-8 8M366.7 643.3l8 8m0-8l-8 8M366.7 652.3l8 8m0-8l-8 8M366.7 871.4l8 8m0-8l-8 8M366.7 881.4l8 8m0-8l-8 8M366.7 893.2l8 8m0-8l-8 8M366.7 904.4l8 8m0-8l-8 8M366.7 914.5l8 8m0-8l-8 8M366.7 924.6l8 8m0-8l-8 8M366.7 935.7l8 8m0-8l-8 8M383.9 600.7l8 8m0-8l-8 8M383.9 610.7l8 8m0-8l-8 8M383.9 620.4l8 8m0-8l-8 8M383.9 629.9l8 8m0-8l-8 8M383.9 639.5l8 8m0-8l-8 8M383.9 649.2l8 8m0-8l-8 8M383.9 658.8l8 8m0-8l-8 8M383.9 669.7l8 8m0-8l-8 8M383.9 679.2l8 8m0-8l-8 8M383.9 689.0l8 8m0-8l-8 8M383.9 700.6l8 8m0-8l-8 8M383.9 710.8l8 8m0-8l-8 8M383.9 721.7l8 8m0-8l-8 8M383.9 731.3l8 8m0-8l-8 8M383.9 740.6l8 8m0-8l-8 8M383.9 749.8l8 8m0-8l-8 8M383.9 759.3l8 8m0-8l-8 8M383.9 769.7l8 8m0-8l-8 8M383.9 780.9l8 8m0-8l-8 8M383.9 791.3l8 8m0-8l-8 8M383.9 803.6l8 8m0-8l-8 8M383.9 815.4l8 8m0-8l-8 8M383.9 825.6l8 8m0-8l-8 8M383.9 836.4l8 8m0-8l-8 8M383.9 846.3l8 8m0-8l-8 8M383.9 857.5l8 8m0-8l-8 8M383.9 868.0l8 8m0-8l-8 8M383.9 877.2l8 8m0-8l-8 8M383.9 886.6l8 8m0-8l-8 8M383.9 897.5l8 8m0-8l-8 8M383.9 909.5l8 8m0-8l-8 8M383.9 921.5l8 8m0-8l-8 8M383.9 932.4l8 8m0-8l-8 8M383.9 941.5l8 8m0-8l-8 8M401.2 602.1l8 8m0-8l-8 8M401.2 611.3l8 8m0-8l-8 8M401.2 621.5l8 8m0-8l-8 8M401.2 630.6l8 8m0-8l-8 8M401.2 640.4l8 8m0-8l-8 8M401.2 649.9l8 8m0-8l-8 8M401.2 660.7l8 8m0-8l-8 8M401.2 670.1l8 8m0-8l-8 8M401.2 679.7l8 8m0-8l-8 8M401.2 689.6l8 8m0-8l-8 8M401.2 698.9l8 8m0-8l-8 8M401.2 708.9l8 8m0-8l-8 8M401.2 720.1l8 8m0-8l-8 8M401.2 729.8l8 8m0-8l-8 8M401.2 739.6l8 8m0-8l-8 8M401.2 748.7l8 8m0-8l-8 8M401.2 757.8l8 8m0-8l-8 8M401.2 771.5l8 8m0-8l-8 8M401.2 780.9l8 8m0-8l-8 8M401.2 790.0l8 8m0-8l-8 8M401.2 802.1l8 8m0-8l-8 8M401.2 812.2l8 8m0-8l-8 8M401.2 822.1l8 8m0-8l-8 8M401.2 831.5l8 8m0-8l-8 8M401.2 842.4l8 8m0-8l-8 8M401.2 852.3l8 8m0-8l-8 8M401.2 862.5l8 8m0-8l-8 8M401.2 872.1l8 8m0-8l-8 8M401.2 881.3l8 8m0-8l-8 8M401.2 890.7l8 8m0-8l-8 8M401.2 900.3l8 8m0-8l-8 8M401.2 910.8l8 8m0-8l-8 8M418.5 616.1l8 8m0-8l-8 8M418.5 627.8l8 8m0-8l-8 8M418.5 638.8l8 8m0-8l-8 8M418.5 649.5l8 8m0-8l-8 8M418.5 658.5l8 8m0-8l-8 8M418.5 680.3l8 8m0-8l-8 8M418.5 690.6l8 8m0-8l-8 8M418.5 699.7l8 8m0-8l-8 8M418.5 711.7l8 8m0-8l-8 8M418.5 722.8l8 8m0-8l-8 8M418.5 735.1l8 8m0-8l-8 8M418.5 745.5l8 8m0-8l-8 8M418.5 756.9l8 8m0-8l-8 8M418.5 769.5l8 8m0-8l-8 8M418.5 778.5l8 8m0-8l-8 8M418.5 791.4l8 8m0-8l-8 8M418.5 803.2l8 8m0-8l-8 8M418.5 812.7l8 8m0-8l-8 8M418.5 827.0l8 8m0-8l-8 8M418.5 836.4l8 8m0-8l-8 8M418.5 847.2l8 8m0-8l-8 8M418.5 856.2l8 8m0-8l-8 8M418.5 866.4l8 8m0-8l-8 8M418.5 879.0l8 8m0-8l-8 8M418.5 890.4l8 8m0-8l-8 8M435.8 605.3l8 8m0-8l-8 8M435.8 618.4l8 8m0-8l-8 8M435.8 635.4l8 8m0-8l-8 8M435.8 656.7l8 8m0-8l-8 8M435.8 674.3l8 8m0-8l-8 8M435.8 699.1l8 8m0-8l-8 8M435.8 712.1l8 8m0-8l-8 8M435.8 721.3l8 8m0-8l-8 8M435.8 730.6l8 8m0-8l-8 8M435.8 745.6l8 8m0-8l-8 8M435.8 763.2l8 8m0-8l-8 8M435.8 772.6l8 8m0-8l-8 8M435.8 790.6l8 8m0-8l-8 8M435.8 803.9l8 8m0-8l-8 8M435.8 814.0l8 8m0-8l-8 8M435.8 837.5l8 8m0-8l-8 8M435.8 849.6l8 8m0-8l-8 8M435.8 861.0l8 8m0-8l-8 8M435.8 874.6l8 8m0-8l-8 8M435.8 888.3l8 8m0-8l-8 8"/><path stroke="#0d2161" d="M90.4 988.8l8 8m0-8l-8 8M107.7 988.6l8 8m0-8l-8 8M125.0 825.5l8 8m0-8l-8 8M142.2 785.8l8 8m0-8l-8 8M159.5 984.9l8 8m0-8l-8 8M194.0 744.8l8 8m0-8l-8 8M228.6 694.3l8 8m0-8l-8 8M228.6 962.4l8 8m0-8l-8 8M245.8 959.8l8 8m0-8l-8 8M263.1 673.5l8 8m0-8l-8 8M263.1 958.2l8 8m0-8l-8 8M280.4 663.4l8 8m0-8l-8 8M297.6 648.6l8 8m0-8l-8 8M297.6 658.1l8 8m0-8l-8 8M314.9 665.3l8 8m0-8l-8 8M314.9 676.9l8 8m0-8l-8 8M314.9 941.7l8 8m0-8l-8 8M332.2 652.8l8 8m0-8l-8 8M332.2 938.7l8 8m0-8l-8 8M349.4 703.6l8 8m0-8l-8 8M349.4 713.4l8 8m0-8l-8 8M349.4 855.7l8 8m0-8l-8 8M349.4 864.8l8 8m0-8l-8 8M349.4 874.5l8 8m0-8l-8 8M349.4 883.9l8 8m0-8l-8 8M366.7 662.3l8 8m0-8l-8 8M366.7 671.9l8 8m0-8l-8 8M366.7 681.0l8 8m0-8l-8 8M366.7 690.0l8 8m0-8l-8 8M366.7 699.4l8 8m0-8l-8 8M366.7 708.6l8 8m0-8l-8 8M366.7 717.7l8 8m0-8l-8 8M366.7 727.1l8 8m0-8l-8 8M366.7 737.1l8 8m0-8l-8 8M366.7 746.2l8 8m0-8l-8 8M366.7 755.6l8 8m0-8l-8 8M366.7 765.5l8 8m0-8l-8 8M366.7 774.9l8 8m0-8l-8 8M366.7 785.2l8 8m0-8l-8 8M366.7 795.3l8 8m0-8l-8 8M366.7 804.4l8 8m0-8l-8 8M366.7 814.0l8 8m0-8l-8 8M366.7 823.4l8 8m0-8l-8 8M366.7 833.6l8 8m0-8l-8 8M366.7 843.0l8 8m0-8l-8 8M366.7 852.0l8 8m0-8l-8 8M366.7 861.7l8 8m0-8l-8 8"/><path stroke="#0e2265" d="M90.4 856.6l8 8m0-8l-8 8M142.2 982.4l8 8m0-8l-8 8M263.1 683.5l8 8m0-8l-8 8M280.4 672.5l8 8m0-8l-8 8M280.4 947.4l8 8m0-8l-8 8M297.6 667.4l8 8m0-8l-8 8M314.9 689.1l8 8m0-8l-8 8M332.2 662.8l8 8m0-8l-8 8M332.2 927.3l8 8m0-8l-8 8M349.4 722.7l8 8m0-8l-8 8M349.4 732.4l8 8m0-8l-8 8M349.4 742.7l8 8m0-8l-8 8M349.4 752.1l8 8m0-8l-8 8M349.4 763.3l8 8m0-8l-8 8M349.4 772.9l8 8m0-8l-8 8M349.4 783.4l8 8m0-8l-8 8M349.4 792.8l8 8m0-8l-8 8M349.4 802.1l8 8m0-8l-8 8M349.4 812.0l8 8m0-8l-8 8M349.4 822.3l8 8m0-8l-8 8M349.4 833.7l8 8m0-8l-8 8M349.4 844.1l8 8m0-8l-8 8"/><path stroke="#11246b" d="M107.7 847.9l8 8m0-8l-8 8M159.5 770.8l8 8m0-8l-8 8M194.0 969.4l8 8m0-8l-8 8M211.3 964.3l8 8m0-8l-8 8M245.8 685.2l8 8m0-8l-8 8M297.6 678.4l8 8m0-8l-8 8M297.6 940.1l8 8m0-8l-8 8M314.9 921.6l8 8m0-8l-8 8M314.9 932.1l8 8m0-8l-8 8M332.2 672.5l8 8m0-8l-8 8M332.2 915.7l8 8m0-8l-8 8"/><path stroke="#13266f" d="M297.6 687.7l8 8m0-8l-8 8M314.9 700.0l8 8m0-8l-8 8M314.9 710.5l8 8m0-8l-8 8M314.9 720.2l8 8m0-8l-8 8M314.9 906.5l8 8m0-8l-8 8M332.2 683.6l8 8m0-8l-8 8M332.2 694.6l8 8m0-8l-8 8M332.2 891.6l8 8m0-8l-8 8M332.2 901.2l8 8m0-8l-8 8"/><path stroke="#162874" d="M263.1 694.4l8 8m0-8l-8 8M314.9 729.6l8 8m0-8l-8 8M314.9 740.8l8 8m0-8l-8 8M314.9 752.0l8 8m0-8l-8 8M314.9 762.0l8 8m0-8l-8 8M314.9 862.1l8 8m0-8l-8 8M314.9 873.8l8 8m0-8l-8 8M314.9 886.3l8 8m0-8l-8 8M314.9 896.9l8 8m0-8l-8 8M332.2 705.4l8 8m0-8l-8 8M332.2 715.4l8 8m0-8l-8 8M332.2 726.5l8 8m0-8l-8 8M332.2 736.2l8 8m0-8l-8 8M332.2 745.7l8 8m0-8l-8 8M332.2 755.0l8 8m0-8l-8 8M332.2 766.2l8 8m0-8l-8 8M332.2 776.0l8 8m0-8l-8 8M332.2 785.8l8 8m0-8l-8 8M332.2 817.0l8 8m0-8l-8 8M332.2 828.0l8 8m0-8l-8 8M332.2 838.2l8 8m0-8l-8 8M332.2 849.0l8 8m0-8l-8 8M332.2 858.7l8 8m0-8l-8 8M332.2 867.9l8 8m0-8l-8 8M332.2 877.4l8 8m0-8l-8 8"/><path stroke="#172978" d="M280.4 687.0l8 8m0-8l-8 8M314.9 772.5l8 8m0-8l-8 8M314.9 786.1l8 8m0-8l-8 8M314.9 800.2l8 8m0-8l-8 8M314.9 810.7l8 8m0-8l-8 8M314.9 828.5l8 8m0-8l-8 8M314.9 839.8l8 8m0-8l-8 8M314.9 852.8l8 8m0-8l-8 8M332.2 798.1l8 8m0-8l-8 8M332.2 807.7l8 8m0-8l-8 8"/><path stroke="#081d58" d="M90.4 834.7l8 8m0-8l-8 8M107.7 808.4l8 8m0-8l-8 8M107.7 820.7l8 8m0-8l-8 8M125.0 793.3l8 8m0-8l-8 8M125.0 808.1l8 8m0-8l-8 8M142.2 767.3l8 8m0-8l-8 8M159.5 745.6l8 8m0-8l-8 8M176.8 728.9l8 8m0-8l-8 8M176.8 737.9l8 8m0-8l-8 8M194.0 717.2l8 8m0-8l-8 8M194.0 729.3l8 8m0-8l-8 8M211.3 678.0l8 8m0-8l-8 8M211.3 687.0l8 8m0-8l-8 8M211.3 698.4l8 8m0-8l-8 8M228.6 666.0l8 8m0-8l-8 8M228.6 676.5l8 8m0-8l-8 8M228.6 974.8l8 8m0-8l-8 8M245.8 656.0l8 8m0-8l-8 8M263.1 641.1l8 8m0-8l-8 8M280.4 631.2l8 8m0-8l-8 8M332.2 613.7l8 8m0-8l-8 8M332.2 950.2l8 8m0-8l-8 8M349.4 957.0l8 8m0-8l-8 8M366.7 953.2l8 8m0-8l-8 8M435.8 899.6l8 8m0-8l-8 8M453.0 608.9l8 8m0-8l-8 8M453.0 624.6l8 8m0-8l-8 8M453.0 662.6l8 8m0-8l-8 8M453.0 676.9l8 8m0-8l-8 8M453.0 701.7l8 8m0-8l-8 8M453.0 711.0l8 8m0-8l-8 8M453.0 722.8l8 8m0-8l-8 8M453.0 732.7l8 8m0-8l-8 8M453.0 743.7l8 8m0-8l-8 8M453.0 754.2l8 8m0-8l-8 8M453.0 764.1l8 8m0-8l-8 8M453.0 790.9l8 8m0-8l-8 8M453.0 800.7l8 8m0-8l-8 8M453.0 814.9l8 8m0-8l-8 8M453.0 829.0l8 8m0-8l-8 8M453.0 847.9l8 8m0-8l-8 8M453.0 866.2l8 8m0-8l-8 8M470.3 632.8l8 8m0-8l-8 8M470.3 729.4l8 8m0-8l-8 8M470.3 766.3l8 8m0-8l-8 8M470.3 791.5l8 8m0-8l-8 8M487.6 680.9l8 8m0-8l-8 8M504.8 622.5l8 8m0-8l-8 8M504.8 647.9l8 8m0-8l-8 8M504.8 789.0l8 8m0-8l-8 8"/><path stroke="#0a1e5c" d="M90.4 843.8l8 8m0-8l-8 8M90.4 989.3l8 8m0-8l-8 8M107.7 829.8l8 8m0-8l-8 8M107.7 839.0l8 8m0-8l-8 8M107.7 989.1l8 8m0-8l-8 8M125.0 817.4l8 8m0-8l-8 8M125.0 992.0l8 8m0-8l-8 8M142.2 776.4l8 8m0-8l-8 8M159.5 756.1l8 8m0-8l-8 8M176.8 748.2l8 8m0-8l-8 8M176.8 758.6l8 8m0-8l-8 8M194.0 739.2l8 8m0-8l-8 8M211.3 712.5l8 8m0-8l-8 8M228.6 686.8l8 8m0-8l-8 8M228.6 965.0l8 8m0-8l-8 8M245.8 665.7l8 8m0-8l-8 8M245.8 674.9l8 8m0-8l-8 8M245.8 960.7l8 8m0-8l-8 8M263.1 654.9l8 8m0-8l-8 8M263.1 967.9l8 8m0-8l-8 8M280.4 640.9l8 8m0-8l-8 8M280.4 653.5l8 8m0-8l-8 8M280.4 959.8l8 8m0-8l-8 8M297.6 614.2l8 8m0-8l-8 8M297.6 623.7l8 8m0-8l-8 8M297.6 640.7l8 8m0-8l-8 8M297.6 950.9l8 8m0-8l-8 8M314.9 605.1l8 8m0-8l-8 8M314.9 622.6l8 8m0-8l-8 8M314.9 636.6l8 8m0-8l-8 8M314.9 647.5l8 8m0-8l-8 8M314.9 658.1l8 8m0-8l-8 8M314.9 955.8l8 8m0-8l-8 8M332.2 624.3l8 8m0-8l-8 8M332.2 635.3l8 8m0-8l-8 8M332.2 644.6l8 8m0-8l-8 8M332.2 939.1l8 8m0-8l-8 8M349.4 600.3l8 8m0-8l-8 8M349.4 609.8l8 8m0-8l-8 8M349.4 622.4l8 8m0-8l-8 8M349.4 632.5l8 8m0-8l-8 8M349.4 642.0l8 8m0-8l-8 8M349.4 653.0l8 8m0-8l-8 8M349.4 663.5l8 8m0-8l-8 8M349.4 673.2l8 8m0-8l-8 8M349.4 682.8l8 8m0-8l-8 8M349.4 694.1l8 8m0-8l-8 8M349.4 888.6l8 8m0-8l-8 8M349.4 902.0l8 8m0-8l-8 8M349.4 912.1l8 8m0-8l-8 8M349.4 921.7l8 8m0-8l-8 8M349.4 931.5l8 8m0-8l-8 8M349.4 942.2l8 8m0-8l-8 8M366.7 600.0l8 8m0-8l-8 8M366.7 610.2l8 8m0-8l-8 8M366.7 623.1l8 8m0-8l-8 8M366.7 636.2l8 8m0-8l-8 8M366.7 645.6l8 8m0-8l-8 8M366.7 655.4l8 8m0-8l-8 8M366.7 872.1l8 8m0-8l-8 8M366.7 882.2l8 8m0-8l-8 8M366.7 894.0l8 8m0-8l-8 8M366.7 904.7l8 8m0-8l-8 8M366.7 915.0l8 8m0-8l-8 8M366.7 925.3l8 8m0-8l-8 8M366.7 936.0l8 8m0-8l-8 8M383.9 601.0l8 8m0-8l-8 8M383.9 610.8l8 8m0-8l-8 8M383.9 621.1l8 8m0-8l-8 8M383.9 631.2l8 8m0-8l-8 8M383.9 640.2l8 8m0-8l-8 8M383.9 650.1l8 8m0-8l-8 8M383.9 659.6l8 8m0-8l-8 8M383.9 670.5l8 8m0-8l-8 8M383.9 681.0l8 8m0-8l-8 8M383.9 691.1l8 8m0-8l-8 8M383.9 701.1l8 8m0-8l-8 8M383.9 711.4l8 8m0-8l-8 8M383.9 721.9l8 8m0-8l-8 8M383.9 734.5l8 8m0-8l-8 8M383.9 743.5l8 8m0-8l-8 8M383.9 754.1l8 8m0-8l-8 8M383.9 763.9l8 8m0-8l-8 8M383.9 774.7l8 8m0-8l-8 8M383.9 785.0l8 8m0-8l-8 8M383.9 794.5l8 8m0-8l-8 8M383.9 803.7l8 8m0-8l-8 8M383.9 816.4l8 8m0-8l-8 8M383.9 826.2l8 8m0-8l-8 8M383.9 838.2l8 8m0-8l-8 8M383.9 848.9l8 8m0-8l-8 8M383.9 858.5l8 8m0-8l-8 8M383.9 868.3l8 8m0-8l-8 8M383.9 877.9l8 8m0-8l-8 8M383.9 886.9l8 8m0-8l-8 8M383.9 897.8l8 8m0-8l-8 8M383.9 910.4l8 8m0-8l-8 8M383.9 921.9l8 8m0-8l-8 8M383.9 934.2l8 8m0-8l-8 8M383.9 944.0l8 8m0-8l-8 8M401.2 602.3l8 8m0-8l-8 8M401.2 611.4l8 8m0-8l-8 8M401.2 622.4l8 8m0-8l-8 8M401.2 632.5l8 8m0-8l-8 8M401.2 643.1l8 8m0-8l-8 8M401.2 652.1l8 8m0-8l-8 8M401.2 661.6l8 8m0-8l-8 8M401.2 671.3l8 8m0-8l-8 8M401.2 680.8l8 8m0-8l-8 8M401.2 690.2l8 8m0-8l-8 8M401.2 699.6l8 8m0-8l-8 8M401.2 709.2l8 8m0-8l-8 8M401.2 720.5l8 8m0-8l-8 8M401.2 730.7l8 8m0-8l-8 8M401.2 740.1l8 8m0-8l-8 8M401.2 749.7l8 8m0-8l-8 8M401.2 759.0l8 8m0-8l-8 8M401.2 771.9l8 8m0-8l-8 8M401.2 782.8l8 8m0-8l-8 8M401.2 792.7l8 8m0-8l-8 8M401.2 802.8l8 8m0-8l-8 8M401.2 812.6l8 8m0-8l-8 8M401.2 822.2l8 8m0-8l-8 8M401.2 832.2l8 8m0-8l-8 8M401.2 842.4l8 8m0-8l-8 8M401.2 857.5l8 8m0-8l-8 8M401.2 867.4l8 8m0-8l-8 8M401.2 877.0l8 8m0-8l-8 8M401.2 886.6l8 8m0-8l-8 8M401.2 896.4l8 8m0-8l-8 8M401.2 906.9l8 8m0-8l-8 8M401.2 919.3l8 8m0-8l-8 8M418.5 608.0l8 8m0-8l-8 8M418.5 617.2l8 8m0-8l-8 8M418.5 627.8l8 8m0-8l-8 8M418.5 639.0l8 8m0-8l-8 8M418.5 650.5l8 8m0-8l-8 8M418.5 659.9l8 8m0-8l-8 8M418.5 688.4l8 8m0-8l-8 8M418.5 697.6l8 8m0-8l-8 8M418.5 707.4l8 8m0-8l-8 8M418.5 724.2l8 8m0-8l-8 8M418.5 746.0l8 8m0-8l-8 8M418.5 757.6l8 8m0-8l-8 8M418.5 771.1l8 8m0-8l-8 8M418.5 782.9l8 8m0-8l-8 8M418.5 793.1l8 8m0-8l-8 8M418.5 803.5l8 8m0-8l-8 8M418.5 812.8l8 8m0-8l-8 8M418.5 827.0l8 8m0-8l-8 8M418.5 837.5l8 8m0-8l-8 8M418.5 851.8l8 8m0-8l-8 8M418.5 863.8l8 8m0-8l-8 8M418.5 873.5l8 8m0-8l-8 8M418.5 885.2l8 8m0-8l-8 8M435.8 606.0l8 8m0-8l-8 8M435.8 618.9l8 8m0-8l-8 8M435.8 636.1l8 8m0-8l-8 8M435.8 657.9l8 8m0-8l-8 8M435.8 675.1l8 8m0-8l-8 8M435.8 699.2l8 8m0-8l-8 8M435.8 712.3l8 8m0-8l-8 8M435.8 725.7l8 8m0-8l-8 8M435.8 736.9l8 8m0-8l-8 8M435.8 747.9l8 8m0-8l-8 8M435.8 765.4l8 8m0-8l-8 8M435.8 775.9l8 8m0-8l-8 8M435.8 792.2l8 8m0-8l-8 8M435.8 804.3l8 8m0-8l-8 8M435.8 816.7l8 8m0-8l-8 8M435.8 838.5l8 8m0-8l-8 8M435.8 850.4l8 8m0-8l-8 8M435.8 864.8l8 8m0-8l-8 8M435.8 876.6l8 8m0-8l-8 8M435.8 889.4l8 8m0-8l-8 8"/><path stroke="#0d2161" d="M90.4 854.4l8 8m0-8l-8 8M142.2 786.2l8 8m0-8l-8 8M142.2 983.3l8 8m0-8l-8 8M159.5 985.0l8 8m0-8l-8 8M211.3 722.5l8 8m0-8l-8 8M228.6 696.6l8 8m0-8l-8 8M263.1 665.1l8 8m0-8l-8 8M263.1 674.5l8 8m0-8l-8 8M263.1 958.4l8 8m0-8l-8 8M280.4 663.6l8 8m0-8l-8 8M297.6 649.9l8 8m0-8l-8 8M297.6 659.1l8 8m0-8l-8 8M314.9 667.3l8 8m0-8l-8 8M314.9 678.4l8 8m0-8l-8 8M314.9 942.1l8 8m0-8l-8 8M332.2 653.7l8 8m0-8l-8 8M349.4 704.7l8 8m0-8l-8 8M349.4 845.2l8 8m0-8l-8 8M349.4 855.8l8 8m0-8l-8 8M349.4 865.0l8 8m0-8l-8 8M349.4 877.6l8 8m0-8l-8 8M366.7 665.2l8 8m0-8l-8 8M366.7 674.6l8 8m0-8l-8 8M366.7 684.8l8 8m0-8l-8 8M366.7 694.8l8 8m0-8l-8 8M366.7 704.4l8 8m0-8l-8 8M366.7 714.7l8 8m0-8l-8 8M366.7 724.1l8 8m0-8l-8 8M366.7 734.7l8 8m0-8l-8 8M366.7 743.9l8 8m0-8l-8 8M366.7 754.7l8 8m0-8l-8 8M366.7 765.5l8 8m0-8l-8 8M366.7 775.5l8 8m0-8l-8 8M366.7 785.3l8 8m0-8l-8 8M366.7 795.9l8 8m0-8l-8 8M366.7 806.9l8 8m0-8l-8 8M366.7 816.1l8 8m0-8l-8 8M366.7 825.3l8 8m0-8l-8 8M366.7 834.6l8 8m0-8l-8 8M366.7 843.7l8 8m0-8l-8 8M366.7 853.3l8 8m0-8l-8 8M366.7 862.4l8 8m0-8l-8 8"/><path stroke="#0e2265" d="M125.0 827.1l8 8m0-8l-8 8M159.5 769.2l8 8m0-8l-8 8M263.1 684.0l8 8m0-8l-8 8M280.4 672.8l8 8m0-8l-8 8M280.4 948.2l8 8m0-8l-8 8M297.6 668.3l8 8m0-8l-8 8M297.6 941.2l8 8m0-8l-8 8M314.9 689.2l8 8m0-8l-8 8M332.2 663.6l8 8m0-8l-8 8M332.2 928.0l8 8m0-8l-8 8M349.4 715.4l8 8m0-8l-8 8M349.4 725.0l8 8m0-8l-8 8M349.4 735.8l8 8m0-8l-8 8M349.4 746.0l8 8m0-8l-8 8M349.4 755.6l8 8m0-8l-8 8M349.4 766.1l8 8m0-8l-8 8M349.4 775.7l8 8m0-8l-8 8M349.4 786.6l8 8m0-8l-8 8M349.4 795.8l8 8m0-8l-8 8M349.4 806.2l8 8m0-8l-8 8M349.4 816.6l8 8m0-8l-8 8M349.4 826.3l8 8m0-8l-8 8M349.4 836.1l8 8m0-8l-8 8"/><path stroke="#11246b" d="M194.0 970.0l8 8m0-8l-8 8M211.3 964.4l8 8m0-8l-8 8M297.6 678.4l8 8m0-8l-8 8M314.9 922.2l8 8m0-8l-8 8M314.9 932.2l8 8m0-8l-8 8M332.2 672.7l8 8m0-8l-8 8M332.2 915.9l8 8m0-8l-8 8"/><path stroke="#13266f" d="M107.7 849.8l8 8m0-8l-8 8M245.8 687.0l8 8m0-8l-8 8M314.9 700.5l8 8m0-8l-8 8M314.9 710.7l8 8m0-8l-8 8M314.9 721.2l8 8m0-8l-8 8M314.9 910.4l8 8m0-8l-8 8M332.2 684.2l8 8m0-8l-8 8M332.2 695.0l8 8m0-8l-8 8M332.2 891.9l8 8m0-8l-8 8M332.2 902.6l8 8m0-8l-8 8"/><path stroke="#162874" d="M263.1 694.4l8 8m0-8l-8 8M314.9 730.3l8 8m0-8l-8 8M314.9 741.2l8 8m0-8l-8 8M314.9 756.1l8 8m0-8l-8 8M314.9 766.6l8 8m0-8l-8 8M314.9 867.4l8 8m0-8l-8 8M314.9 877.9l8 8m0-8l-8 8M314.9 889.5l8 8m0-8l-8 8M314.9 898.6l8 8m0-8l-8 8M332.2 706.1l8 8m0-8l-8 8M332.2 715.9l8 8m0-8l-8 8M332.2 727.3l8 8m0-8l-8 8M332.2 736.8l8 8m0-8l-8 8M332.2 747.8l8 8m0-8l-8 8M332.2 757.0l8 8m0-8l-8 8M332.2 768.2l8 8m0-8l-8 8M332.2 780.3l8 8m0-8l-8 8M332.2 810.0l8 8m0-8l-8 8M332.2 819.3l8 8m0-8l-8 8M332.2 836.7l8 8m0-8l-8 8M332.2 847.1l8 8m0-8l-8 8M332.2 856.9l8 8m0-8l-8 8M332.2 866.9l8 8m0-8l-8 8M332.2 880.5l8 8m0-8l-8 8"/><path stroke="#172978" d="M314.9 779.1l8 8m0-8l-8 8M314.9 790.0l8 8m0-8l-8 8M314.9 802.3l8 8m0-8l-8 8M314.9 811.7l8 8m0-8l-8 8M314.9 829.1l8 8m0-8l-8 8M314.9 841.5l8 8m0-8l-8 8M314.9 853.2l8 8m0-8l-8 8M332.2 790.5l8 8m0-8l-8 8M332.2 799.9l8 8m0-8l-8 8"/><path stroke="#081d58" d="M107.7 809.4l8 8m0-8l-8 8M107.7 821.9l8 8m0-8l-8 8M125.0 794.6l8 8m0-8l-8 8M125.0 810.0l8 8m0-8l-8 8M125.0 992.1l8 8m0-8l-8 8M142.2 769.1l8 8m0-8l-8 8M176.8 733.7l8 8m0-8l-8 8M194.0 717.7l8 8m0-8l-8 8M194.0 729.4l8 8m0-8l-8 8M211.3 678.0l8 8m0-8l-8 8M211.3 698.5l8 8m0-8l-8 8M228.6 668.0l8 8m0-8l-8 8M245.8 656.3l8 8m0-8l-8 8M263.1 968.3l8 8m0-8l-8 8M280.4 632.0l8 8m0-8l-8 8M332.2 613.9l8 8m0-8l-8 8M332.2 951.1l8 8m0-8l-8 8M401.2 923.4l8 8m0-8l-8 8M435.8 901.2l8 8m0-8l-8 8M453.0 609.4l8 8m0-8l-8 8M453.0 625.7l8 8m0-8l-8 8M453.0 664.4l8 8m0-8l-8 8M453.0 680.5l8 8m0-8l-8 8M453.0 710.5l8 8m0-8l-8 8M453.0 733.0l8 8m0-8l-8 8M453.0 755.8l8 8m0-8l-8 8M453.0 792.4l8 8m0-8l-8 8M453.0 803.2l8 8m0-8l-8 8M453.0 829.6l8 8m0-8l-8 8M453.0 868.4l8 8m0-8l-8 8M470.3 634.4l8 8m0-8l-8 8M470.3 729.6l8 8m0-8l-8 8M470.3 766.8l8 8m0-8l-8 8M470.3 792.3l8 8m0-8l-8 8M504.8 648.2l8 8m0-8l-8 8M504.8 792.0l8 8m0-8l-8 8"/><path stroke="#0a1e5c" d="M90.4 839.2l8 8m0-8l-8 8M90.4 848.5l8 8m0-8l-8 8M90.4 989.6l8 8m0-8l-8 8M107.7 831.1l8 8m0-8l-8 8M107.7 990.1l8 8m0-8l-8 8M125.0 819.3l8 8m0-8l-8 8M142.2 778.2l8 8m0-8l-8 8M142.2 985.1l8 8m0-8l-8 8M159.5 750.7l8 8m0-8l-8 8M159.5 761.3l8 8m0-8l-8 8M159.5 986.2l8 8m0-8l-8 8M176.8 744.6l8 8m0-8l-8 8M176.8 757.2l8 8m0-8l-8 8M194.0 739.2l8 8m0-8l-8 8M211.3 712.7l8 8m0-8l-8 8M228.6 677.9l8 8m0-8l-8 8M228.6 687.5l8 8m0-8l-8 8M228.6 965.4l8 8m0-8l-8 8M245.8 665.8l8 8m0-8l-8 8M245.8 675.0l8 8m0-8l-8 8M245.8 961.3l8 8m0-8l-8 8M263.1 647.6l8 8m0-8l-8 8M263.1 657.5l8 8m0-8l-8 8M280.4 644.3l8 8m0-8l-8 8M280.4 653.5l8 8m0-8l-8 8M280.4 961.6l8 8m0-8l-8 8M297.6 615.7l8 8m0-8l-8 8M297.6 626.6l8 8m0-8l-8 8M297.6 641.0l8 8m0-8l-8 8M297.6 951.7l8 8m0-8l-8 8M314.9 605.6l8 8m0-8l-8 8M314.9 623.7l8 8m0-8l-8 8M314.9 638.4l8 8m0-8l-8 8M314.9 649.1l8 8m0-8l-8 8M314.9 658.3l8 8m0-8l-8 8M332.2 624.5l8 8m0-8l-8 8M332.2 636.1l8 8m0-8l-8 8M332.2 939.4l8 8m0-8l-8 8M349.4 603.7l8 8m0-8l-8 8M349.4 614.2l8 8m0-8l-8 8M349.4 624.4l8 8m0-8l-8 8M349.4 633.4l8 8m0-8l-8 8M349.4 643.9l8 8m0-8l-8 8M349.4 653.2l8 8m0-8l-8 8M349.4 664.1l8 8m0-8l-8 8M349.4 673.3l8 8m0-8l-8 8M349.4 683.5l8 8m0-8l-8 8M349.4 890.2l8 8m0-8l-8 8M349.4 902.4l8 8m0-8l-8 8M349.4 921.7l8 8m0-8l-8 8M349.4 932.3l8 8m0-8l-8 8M349.4 945.5l8 8m0-8l-8 8M366.7 600.1l8 8m0-8l-8 8M366.7 612.3l8 8m0-8l-8 8M366.7 624.0l8 8m0-8l-8 8M366.7 636.5l8 8m0-8l-8 8M366.7 645.7l8 8m0-8l-8 8M366.7 863.8l8 8m0-8l-8 8M366.7 873.4l8 8m0-8l-8 8M366.7 883.1l8 8m0-8l-8 8M366.7 894.3l8 8m0-8l-8 8M366.7 905.4l8 8m0-8l-8 8M366.7 915.4l8 8m0-8l-8 8M366.7 925.5l8 8m0-8l-8 8M366.7 938.0l8 8m0-8l-8 8M383.9 601.3l8 8m0-8l-8 8M383.9 611.4l8 8m0-8l-8 8M383.9 622.1l8 8m0-8l-8 8M383.9 631.7l8 8m0-8l-8 8M383.9 641.2l8 8m0-8l-8 8M383.9 650.3l8 8m0-8l-8 8M383.9 659.6l8 8m0-8l-8 8M383.9 670.5l8 8m0-8l-8 8M383.9 681.4l8 8m0-8l-8 8M383.9 691.2l8 8m0-8l-8 8M383.9 703.2l8 8m0-8l-8 8M383.9 712.7l8 8m0-8l-8 8M383.9 722.6l8 8m0-8l-8 8M383.9 735.1l8 8m0-8l-8 8M383.9 746.6l8 8m0-8l-8 8M383.9 757.6l8 8m0-8l-8 8M383.9 767.5l8 8m0-8l-8 8M383.9 776.5l8 8m0-8l-8 8M383.9 786.9l8 8m0-8l-8 8M383.9 797.0l8 8m0-8l-8 8M383.9 806.2l8 8m0-8l-8 8M383.9 817.1l8 8m0-8l-8 8M383.9 826.2l8 8m0-8l-8 8M383.9 838.3l8 8m0-8l-8 8M383.9 848.9l8 8m0-8l-8 8M383.9 858.6l8 8m0-8l-8 8M383.9 868.6l8 8m0-8l-8 8M383.9 879.6l8 8m0-8l-8 8M383.9 889.2l8 8m0-8l-8 8M383.9 898.8l8 8m0-8l-8 8M383.9 910.7l8 8m0-8l-8 8M383.9 922.8l8 8m0-8l-8 8M383.9 934.6l8 8m0-8l-8 8M383.9 944.0l8 8m0-8l-8 8M401.2 602.7l8 8m0-8l-8 8M401.2 612.9l8 8m0-8l-8 8M401.2 623.2l8 8m0-8l-8 8M401.2 632.6l8 8m0-8l-8 8M401.2 643.3l8 8m0-8l-8 8M401.2 652.7l8 8m0-8l-8 8M401.2 663.4l8 8m0-8l-8 8M401.2 672.6l8 8m0-8l-8 8M401.2 681.8l8 8m0-8l-8 8M401.2 691.0l8 8m0-8l-8 8M401.2 700.1l8 8m0-8l-8 8M401.2 709.6l8 8m0-8l-8 8M401.2 720.9l8 8m0-8l-8 8M401.2 730.7l8 8m0-8l-8 8M401.2 741.6l8 8m0-8l-8 8M401.2 751.1l8 8m0-8l-8 8M401.2 763.7l8 8m0-8l-8 8M401.2 773.6l8 8m0-8l-8 8M401.2 786.8l8 8m0-8l-8 8M401.2 797.6l8 8m0-8l-8 8M401.2 808.7l8 8m0-8l-8 8M401.2 819.8l8 8m0-8l-8 8M401.2 831.1l8 8m0-8l-8 8M401.2 840.4l8 8m0-8l-8 8M401.2 850.2l8 8m0-8l-8 8M401.2 859.2l8 8m0-8l-8 8M401.2 868.6l8 8m0-8l-8 8M401.2 878.6l8 8m0-8l-8 8M401.2 887.8l8 8m0-8l-8 8M401.2 896.9l8 8m0-8l-8 8M401.2 910.8l8 8m0-8l-8 8M418.5 608.1l8 8m0-8l-8 8M418.5 618.4l8 8m0-8l-8 8M418.5 629.2l8 8m0-8l-8 8M418.5 643.2l8 8m0-8l-8 8M418.5 657.9l8 8m0-8l-8 8M418.5 689.0l8 8m0-8l-8 8M418.5 701.3l8 8m0-8l-8 8M418.5 711.9l8 8m0-8l-8 8M418.5 727.6l8 8m0-8l-8 8M418.5 746.2l8 8m0-8l-8 8M418.5 759.1l8 8m0-8l-8 8M418.5 771.5l8 8m0-8l-8 8M418.5 784.3l8 8m0-8l-8 8M418.5 794.5l8 8m0-8l-8 8M418.5 803.8l8 8m0-8l-8 8M418.5 814.3l8 8m0-8l-8 8M418.5 827.2l8 8m0-8l-8 8M418.5 840.0l8 8m0-8l-8 8M418.5 852.5l8 8m0-8l-8 8M418.5 866.8l8 8m0-8l-8 8M418.5 879.1l8 8m0-8l-8 8M418.5 893.3l8 8m0-8l-8 8M435.8 606.8l8 8m0-8l-8 8M435.8 618.9l8 8m0-8l-8 8M435.8 638.7l8 8m0-8l-8 8M435.8 658.5l8 8m0-8l-8 8M435.8 676.3l8 8m0-8l-8 8M435.8 713.7l8 8m0-8l-8 8M435.8 731.3l8 8m0-8l-8 8M435.8 745.9l8 8m0-8l-8 8M435.8 769.5l8 8m0-8l-8 8M435.8 792.3l8 8m0-8l-8 8M435.8 810.1l8 8m0-8l-8 8M435.8 821.0l8 8m0-8l-8 8M435.8 845.5l8 8m0-8l-8 8M435.8 858.0l8 8m0-8l-8 8M435.8 868.3l8 8m0-8l-8 8M435.8 878.9l8 8m0-8l-8 8M435.8 891.9l8 8m0-8l-8 8"/><path stroke="#0d2161" d="M107.7 840.3l8 8m0-8l-8 8M142.2 787.3l8 8m0-8l-8 8M228.6 697.1l8 8m0-8l-8 8M263.1 667.5l8 8m0-8l-8 8M263.1 677.4l8 8m0-8l-8 8M263.1 958.5l8 8m0-8l-8 8M280.4 663.9l8 8m0-8l-8 8M297.6 650.1l8 8m0-8l-8 8M297.6 660.1l8 8m0-8l-8 8M314.9 667.5l8 8m0-8l-8 8M314.9 678.4l8 8m0-8l-8 8M314.9 942.3l8 8m0-8l-8 8M332.2 649.2l8 8m0-8l-8 8M349.4 696.1l8 8m0-8l-8 8M349.4 705.5l8 8m0-8l-8 8M349.4 845.8l8 8m0-8l-8 8M349.4 856.0l8 8m0-8l-8 8M349.4 865.1l8 8m0-8l-8 8M349.4 877.6l8 8m0-8l-8 8M366.7 657.2l8 8m0-8l-8 8M366.7 666.9l8 8m0-8l-8 8M366.7 677.3l8 8m0-8l-8 8M366.7 687.7l8 8m0-8l-8 8M366.7 697.3l8 8m0-8l-8 8M366.7 706.9l8 8m0-8l-8 8M366.7 717.6l8 8m0-8l-8 8M366.7 728.5l8 8m0-8l-8 8M366.7 737.6l8 8m0-8l-8 8M366.7 746.6l8 8m0-8l-8 8M366.7 756.4l8 8m0-8l-8 8M366.7 765.5l8 8m0-8l-8 8M366.7 776.1l8 8m0-8l-8 8M366.7 785.8l8 8m0-8l-8 8M366.7 796.2l8 8m0-8l-8 8M366.7 808.1l8 8m0-8l-8 8M366.7 817.2l8 8m0-8l-8 8M366.7 826.9l8 8m0-8l-8 8M366.7 838.8l8 8m0-8l-8 8M366.7 854.1l8 8m0-8l-8 8"/><path stroke="#0e2265" d="M90.4 858.0l8 8m0-8l-8 8M194.0 970.7l8 8m0-8l-8 8M211.3 965.1l8 8m0-8l-8 8M280.4 673.8l8 8m0-8l-8 8M280.4 949.7l8 8m0-8l-8 8M297.6 669.1l8 8m0-8l-8 8M297.6 942.3l8 8m0-8l-8 8M314.9 689.3l8 8m0-8l-8 8M314.9 933.2l8 8m0-8l-8 8M332.2 660.0l8 8m0-8l-8 8M332.2 928.2l8 8m0-8l-8 8M349.4 715.8l8 8m0-8l-8 8M349.4 725.0l8 8m0-8l-8 8M349.4 738.5l8 8m0-8l-8 8M349.4 747.7l8 8m0-8l-8 8M349.4 756.8l8 8m0-8l-8 8M349.4 766.1l8 8m0-8l-8 8M349.4 775.9l8 8m0-8l-8 8M349.4 787.5l8 8m0-8l-8 8M349.4 797.2l8 8m0-8l-8 8M349.4 806.7l8 8m0-8l-8 8M349.4 817.4l8 8m0-8l-8 8M349.4 826.6l8 8m0-8l-8 8M349.4 836.8l8 8m0-8l-8 8"/><path stroke="#11246b" d="M125.0 829.8l8 8m0-8l-8 8M263.1 687.4l8 8m0-8l-8 8M297.6 678.8l8 8m0-8l-8 8M314.9 922.3l8 8m0-8l-8 8M332.2 671.7l8 8m0-8l-8 8M332.2 915.9l8 8m0-8l-8 8"/><path stroke="#13266f" d="M314.9 702.5l8 8m0-8l-8 8M314.9 714.3l8 8m0-8l-8 8M314.9 724.2l8 8m0-8l-8 8M314.9 910.4l8 8m0-8l-8 8M332.2 684.7l8 8m0-8l-8 8M332.2 697.2l8 8m0-8l-8 8M332.2 893.4l8 8m0-8l-8 8M332.2 903.0l8 8m0-8l-8 8"/><path stroke="#162874" d="M107.7 850.2l8 8m0-8l-8 8M314.9 735.2l8 8m0-8l-8 8M314.9 746.7l8 8m0-8l-8 8M314.9 756.4l8 8m0-8l-8 8M314.9 766.7l8 8m0-8l-8 8M314.9 874.2l8 8m0-8l-8 8M314.9 890.1l8 8m0-8l-8 8M314.9 899.5l8 8m0-8l-8 8M332.2 707.7l8 8m0-8l-8 8M332.2 717.0l8 8m0-8l-8 8M332.2 731.3l8 8m0-8l-8 8M332.2 740.4l8 8m0-8l-8 8M332.2 752.6l8 8m0-8l-8 8M332.2 769.1l8 8m0-8l-8 8M332.2 780.6l8 8m0-8l-8 8M332.2 810.5l8 8m0-8l-8 8M332.2 820.1l8 8m0-8l-8 8M332.2 836.8l8 8m0-8l-8 8M332.2 849.7l8 8m0-8l-8 8M332.2 858.8l8 8m0-8l-8 8M332.2 872.2l8 8m0-8l-8 8M332.2 881.2l8 8m0-8l-8 8"/><path stroke="#172978" d="M314.9 779.3l8 8m0-8l-8 8M314.9 790.3l8 8m0-8l-8 8M314.9 803.5l8 8m0-8l-8 8M314.9 830.2l8 8m0-8l-8 8M314.9 841.8l8 8m0-8l-8 8M314.9 853.2l8 8m0-8l-8 8M332.2 800.1l8 8m0-8l-8 8"/><path stroke="#081d58" d="M107.7 811.3l8 8m0-8l-8 8M125.0 794.6l8 8m0-8l-8 8M125.0 810.2l8 8m0-8l-8 8M125.0 992.3l8 8m0-8l-8 8M142.2 771.1l8 8m0-8l-8 8M176.8 734.4l8 8m0-8l-8 8M194.0 719.4l8 8m0-8l-8 8M194.0 730.3l8 8m0-8l-8 8M211.3 679.5l8 8m0-8l-8 8M211.3 698.8l8 8m0-8l-8 8M228.6 673.6l8 8m0-8l-8 8M263.1 970.2l8 8m0-8l-8 8M332.2 613.9l8 8m0-8l-8 8M332.2 951.5l8 8m0-8l-8 8M401.2 924.5l8 8m0-8l-8 8M453.0 609.7l8 8m0-8l-8 8M453.0 664.5l8 8m0-8l-8 8M453.0 681.2l8 8m0-8l-8 8M453.0 713.1l8 8m0-8l-8 8M453.0 733.2l8 8m0-8l-8 8M453.0 764.4l8 8m0-8l-8 8M453.0 798.3l8 8m0-8l-8 8M470.3 634.6l8 8m0-8l-8 8M470.3 729.9l8 8m0-8l-8 8M470.3 770.3l8 8m0-8l-8 8M470.3 792.7l8 8m0-8l-8 8M504.8 792.7l8 8m0-8l-8 8"/><path stroke="#0a1e5c" d="M90.4 839.9l8 8m0-8l-8 8M90.4 850.3l8 8m0-8l-8 8M90.4 989.8l8 8m0-8l-8 8M107.7 828.0l8 8m0-8l-8 8M107.7 837.2l8 8m0-8l-8 8M107.7 991.2l8 8m0-8l-8 8M125.0 819.5l8 8m0-8l-8 8M142.2 782.0l8 8m0-8l-8 8M142.2 985.4l8 8m0-8l-8 8M159.5 750.9l8 8m0-8l-8 8M159.5 762.1l8 8m0-8l-8 8M159.5 986.3l8 8m0-8l-8 8M176.8 748.6l8 8m0-8l-8 8M176.8 759.4l8 8m0-8l-8 8M194.0 740.0l8 8m0-8l-8 8M211.3 713.9l8 8m0-8l-8 8M228.6 682.9l8 8m0-8l-8 8M228.6 967.6l8 8m0-8l-8 8M245.8 657.1l8 8m0-8l-8 8M245.8 667.4l8 8m0-8l-8 8M245.8 961.6l8 8m0-8l-8 8M263.1 649.1l8 8m0-8l-8 8M263.1 659.0l8 8m0-8l-8 8M280.4 638.5l8 8m0-8l-8 8M280.4 648.6l8 8m0-8l-8 8M280.4 658.1l8 8m0-8l-8 8M297.6 616.6l8 8m0-8l-8 8M297.6 627.5l8 8m0-8l-8 8M297.6 641.3l8 8m0-8l-8 8M297.6 952.4l8 8m0-8l-8 8M314.9 605.7l8 8m0-8l-8 8M314.9 624.1l8 8m0-8l-8 8M314.9 639.0l8 8m0-8l-8 8M314.9 649.3l8 8m0-8l-8 8M314.9 658.6l8 8m0-8l-8 8M314.9 946.5l8 8m0-8l-8 8M332.2 629.6l8 8m0-8l-8 8M332.2 640.7l8 8m0-8l-8 8M332.2 939.5l8 8m0-8l-8 8M349.4 603.8l8 8m0-8l-8 8M349.4 615.4l8 8m0-8l-8 8M349.4 625.0l8 8m0-8l-8 8M349.4 634.7l8 8m0-8l-8 8M349.4 644.7l8 8m0-8l-8 8M349.4 653.7l8 8m0-8l-8 8M349.4 665.6l8 8m0-8l-8 8M349.4 676.7l8 8m0-8l-8 8M349.4 686.9l8 8m0-8l-8 8M349.4 890.4l8 8m0-8l-8 8M349.4 903.3l8 8m0-8l-8 8M349.4 921.9l8 8m0-8l-8 8M349.4 932.8l8 8m0-8l-8 8M349.4 945.5l8 8m0-8l-8 8M366.7 601.1l8 8m0-8l-8 8M366.7 612.4l8 8m0-8l-8 8M366.7 624.6l8 8m0-8l-8 8M366.7 637.1l8 8m0-8l-8 8M366.7 647.5l8 8m0-8l-8 8M366.7 864.1l8 8m0-8l-8 8M366.7 873.4l8 8m0-8l-8 8M366.7 884.5l8 8m0-8l-8 8M366.7 896.1l8 8m0-8l-8 8M366.7 906.4l8 8m0-8l-8 8M366.7 917.7l8 8m0-8l-8 8M366.7 927.6l8 8m0-8l-8 8M366.7 939.5l8 8m0-8l-8 8M383.9 601.4l8 8m0-8l-8 8M383.9 612.4l8 8m0-8l-8 8M383.9 622.3l8 8m0-8l-8 8M383.9 632.0l8 8m0-8l-8 8M383.9 641.5l8 8m0-8l-8 8M383.9 651.1l8 8m0-8l-8 8M383.9 660.5l8 8m0-8l-8 8M383.9 671.5l8 8m0-8l-8 8M383.9 681.6l8 8m0-8l-8 8M383.9 691.7l8 8m0-8l-8 8M383.9 705.4l8 8m0-8l-8 8M383.9 715.1l8 8m0-8l-8 8M383.9 724.5l8 8m0-8l-8 8M383.9 736.2l8 8m0-8l-8 8M383.9 747.5l8 8m0-8l-8 8M383.9 759.9l8 8m0-8l-8 8M383.9 769.9l8 8m0-8l-8 8M383.9 781.7l8 8m0-8l-8 8M383.9 791.4l8 8m0-8l-8 8M383.9 806.4l8 8m0-8l-8 8M383.9 817.6l8 8m0-8l-8 8M383.9 826.7l8 8m0-8l-8 8M383.9 839.2l8 8m0-8l-8 8M383.9 849.4l8 8m0-8l-8 8M383.9 860.4l8 8m0-8l-8 8M383.9 870.2l8 8m0-8l-8 8M383.9 880.4l8 8m0-8l-8 8M383.9 889.4l8 8m0-8l-8 8M383.9 899.2l8 8m0-8l-8 8M383.9 911.6l8 8m0-8l-8 8M383.9 924.0l8 8m0-8l-8 8M383.9 935.1l8 8m0-8l-8 8M383.9 944.2l8 8m0-8l-8 8M401.2 603.3l8 8m0-8l-8 8M401.2 613.3l8 8m0-8l-8 8M401.2 623.3l8 8m0-8l-8 8M401.2 633.9l8 8m0-8l-8 8M401.2 643.4l8 8m0-8l-8 8M401.2 654.0l8 8m0-8l-8 8M401.2 663.5l8 8m0-8l-8 8M401.2 674.0l8 8m0-8l-8 8M401.2 683.4l8 8m0-8l-8 8M401.2 692.8l8 8m0-8l-8 8M401.2 701.9l8 8m0-8l-8 8M401.2 711.4l8 8m0-8l-8 8M401.2 721.6l8 8m0-8l-8 8M401.2 730.7l8 8m0-8l-8 8M401.2 745.4l8 8m0-8l-8 8M401.2 758.0l8 8m0-8l-8 8M401.2 773.7l8 8m0-8l-8 8M401.2 786.9l8 8m0-8l-8 8M401.2 802.9l8 8m0-8l-8 8M401.2 812.6l8 8m0-8l-8 8M401.2 822.5l8 8m0-8l-8 8M401.2 834.4l8 8m0-8l-8 8M401.2 847.1l8 8m0-8l-8 8M401.2 857.8l8 8m0-8l-8 8M401.2 870.1l8 8m0-8l-8 8M401.2 879.7l8 8m0-8l-8 8M401.2 888.7l8 8m0-8l-8 8M401.2 898.7l8 8m0-8l-8 8M401.2 911.6l8 8m0-8l-8 8M418.5 623.6l8 8m0-8l-8 8M418.5 634.2l8 8m0-8l-8 8M418.5 643.8l8 8m0-8l-8 8M418.5 658.7l8 8m0-8l-8 8M418.5 692.1l8 8m0-8l-8 8M418.5 701.7l8 8m0-8l-8 8M418.5 712.2l8 8m0-8l-8 8M418.5 728.0l8 8m0-8l-8 8M418.5 747.5l8 8m0-8l-8 8M418.5 759.8l8 8m0-8l-8 8M418.5 778.0l8 8m0-8l-8 8M418.5 795.3l8 8m0-8l-8 8M418.5 804.4l8 8m0-8l-8 8M418.5 817.2l8 8m0-8l-8 8M418.5 829.4l8 8m0-8l-8 8M418.5 843.4l8 8m0-8l-8 8M418.5 856.4l8 8m0-8l-8 8M418.5 866.9l8 8m0-8l-8 8M418.5 879.6l8 8m0-8l-8 8M435.8 609.0l8 8m0-8l-8 8M435.8 619.1l8 8m0-8l-8 8M435.8 638.8l8 8m0-8l-8 8M435.8 658.8l8 8m0-8l-8 8M435.8 677.3l8 8m0-8l-8 8M435.8 716.3l8 8m0-8l-8 8M435.8 733.8l8 8m0-8l-8 8M435.8 748.1l8 8m0-8l-8 8M435.8 770.6l8 8m0-8l-8 8M435.8 792.9l8 8m0-8l-8 8M435.8 810.5l8 8m0-8l-8 8M435.8 845.5l8 8m0-8l-8 8M435.8 858.3l8 8m0-8l-8 8M435.8 868.5l8 8m0-8l-8 8M435.8 880.4l8 8m0-8l-8 8M435.8 893.2l8 8m0-8l-8 8"/><path stroke="#0d2161" d="M194.0 972.1l8 8m0-8l-8 8M228.6 695.2l8 8m0-8l-8 8M245.8 676.7l8 8m0-8l-8 8M263.1 669.1l8 8m0-8l-8 8M263.1 959.7l8 8m0-8l-8 8M280.4 667.9l8 8m0-8l-8 8M297.6 653.6l8 8m0-8l-8 8M297.6 662.8l8 8m0-8l-8 8M314.9 667.8l8 8m0-8l-8 8M314.9 682.0l8 8m0-8l-8 8M332.2 649.9l8 8m0-8l-8 8M349.4 697.0l8 8m0-8l-8 8M349.4 706.8l8 8m0-8l-8 8M349.4 846.1l8 8m0-8l-8 8M349.4 856.6l8 8m0-8l-8 8M349.4 866.3l8 8m0-8l-8 8M349.4 877.7l8 8m0-8l-8 8M366.7 657.5l8 8m0-8l-8 8M366.7 667.1l8 8m0-8l-8 8M366.7 678.4l8 8m0-8l-8 8M366.7 689.4l8 8m0-8l-8 8M366.7 698.7l8 8m0-8l-8 8M366.7 708.9l8 8m0-8l-8 8M366.7 718.0l8 8m0-8l-8 8M366.7 729.8l8 8m0-8l-8 8M366.7 738.9l8 8m0-8l-8 8M366.7 748.4l8 8m0-8l-8 8M366.7 757.6l8 8m0-8l-8 8M366.7 767.8l8 8m0-8l-8 8M366.7 776.8l8 8m0-8l-8 8M366.7 786.2l8 8m0-8l-8 8M366.7 796.7l8 8m0-8l-8 8M366.7 809.1l8 8m0-8l-8 8M366.7 818.2l8 8m0-8l-8 8M366.7 828.1l8 8m0-8l-8 8M366.7 839.2l8 8m0-8l-8 8M366.7 854.1l8 8m0-8l-8 8"/><path stroke="#0e2265" d="M211.3 965.2l8 8m0-8l-8 8M263.1 678.1l8 8m0-8l-8 8M280.4 677.2l8 8m0-8l-8 8M280.4 949.7l8 8m0-8l-8 8M297.6 673.6l8 8m0-8l-8 8M297.6 942.8l8 8m0-8l-8 8M314.9 933.7l8 8m0-8l-8 8M332.2 664.7l8 8m0-8l-8 8M332.2 928.3l8 8m0-8l-8 8M349.4 716.2l8 8m0-8l-8 8M349.4 725.3l8 8m0-8l-8 8M349.4 738.7l8 8m0-8l-8 8M349.4 748.4l8 8m0-8l-8 8M349.4 757.4l8 8m0-8l-8 8M349.4 766.7l8 8m0-8l-8 8M349.4 776.1l8 8m0-8l-8 8M349.4 787.7l8 8m0-8l-8 8M349.4 797.4l8 8m0-8l-8 8M349.4 806.8l8 8m0-8l-8 8M349.4 818.1l8 8m0-8l-8 8M349.4 827.7l8 8m0-8l-8 8M349.4 836.8l8 8m0-8l-8 8"/><path stroke="#11246b" d="M125.0 829.9l8 8m0-8l-8 8M263.1 687.6l8 8m0-8l-8 8M297.6 683.0l8 8m0-8l-8 8M314.9 691.9l8 8m0-8l-8 8M314.9 922.5l8 8m0-8l-8 8M332.2 675.3l8 8m0-8l-8 8M332.2 916.5l8 8m0-8l-8 8"/><path stroke="#13266f" d="M314.9 703.8l8 8m0-8l-8 8M314.9 714.4l8 8m0-8l-8 8M314.9 725.4l8 8m0-8l-8 8M314.9 900.7l8 8m0-8l-8 8M314.9 912.3l8 8m0-8l-8 8M332.2 685.4l8 8m0-8l-8 8M332.2 697.2l8 8m0-8l-8 8M332.2 884.0l8 8m0-8l-8 8M332.2 893.8l8 8m0-8l-8 8M332.2 903.0l8 8m0-8l-8 8"/><path stroke="#162874" d="M314.9 735.2l8 8m0-8l-8 8M314.9 746.8l8 8m0-8l-8 8M314.9 756.4l8 8m0-8l-8 8M314.9 767.5l8 8m0-8l-8 8M314.9 875.1l8 8m0-8l-8 8M314.9 890.8l8 8m0-8l-8 8M332.2 710.8l8 8m0-8l-8 8M332.2 720.8l8 8m0-8l-8 8M332.2 734.9l8 8m0-8l-8 8M332.2 754.7l8 8m0-8l-8 8M332.2 769.6l8 8m0-8l-8 8M332.2 780.6l8 8m0-8l-8 8M332.2 816.4l8 8m0-8l-8 8M332.2 839.2l8 8m0-8l-8 8M332.2 851.9l8 8m0-8l-8 8M332.2 860.9l8 8m0-8l-8 8M332.2 874.8l8 8m0-8l-8 8"/><path stroke="#172978" d="M314.9 786.9l8 8m0-8l-8 8M314.9 803.5l8 8m0-8l-8 8M314.9 847.6l8 8m0-8l-8 8M314.9 860.9l8 8m0-8l-8 8M332.2 805.9l8 8m0-8l-8 8"/><path stroke="#081d58" d="M107.7 992.1l8 8m0-8l-8 8M125.0 811.5l8 8m0-8l-8 8M125.0 992.5l8 8m0-8l-8 8M176.8 735.7l8 8m0-8l-8 8M194.0 730.5l8 8m0-8l-8 8M228.6 674.8l8 8m0-8l-8 8M263.1 970.7l8 8m0-8l-8 8M332.2 614.4l8 8m0-8l-8 8M453.0 610.2l8 8m0-8l-8 8M453.0 666.2l8 8m0-8l-8 8M453.0 714.0l8 8m0-8l-8 8M453.0 734.3l8 8m0-8l-8 8M453.0 798.3l8 8m0-8l-8 8M470.3 734.3l8 8m0-8l-8 8M470.3 770.8l8 8m0-8l-8 8M470.3 793.6l8 8m0-8l-8 8M504.8 793.0l8 8m0-8l-8 8"/><path stroke="#0a1e5c" d="M90.4 840.0l8 8m0-8l-8 8M90.4 851.3l8 8m0-8l-8 8M90.4 990.0l8 8m0-8l-8 8M107.7 828.1l8 8m0-8l-8 8M107.7 840.0l8 8m0-8l-8 8M125.0 820.9l8 8m0-8l-8 8M142.2 774.3l8 8m0-8l-8 8M142.2 783.6l8 8m0-8l-8 8M142.2 986.7l8 8m0-8l-8 8M159.5 751.5l8 8m0-8l-8 8M159.5 987.3l8 8m0-8l-8 8M176.8 749.7l8 8m0-8l-8 8M211.3 700.4l8 8m0-8l-8 8M211.3 714.4l8 8m0-8l-8 8M228.6 684.8l8 8m0-8l-8 8M228.6 968.5l8 8m0-8l-8 8M245.8 657.7l8 8m0-8l-8 8M245.8 667.6l8 8m0-8l-8 8M245.8 961.9l8 8m0-8l-8 8M263.1 655.5l8 8m0-8l-8 8M280.4 639.0l8 8m0-8l-8 8M280.4 648.7l8 8m0-8l-8 8M280.4 658.9l8 8m0-8l-8 8M297.6 621.6l8 8m0-8l-8 8M297.6 644.5l8 8m0-8l-8 8M297.6 952.5l8 8m0-8l-8 8M314.9 608.5l8 8m0-8l-8 8M314.9 625.6l8 8m0-8l-8 8M314.9 639.1l8 8m0-8l-8 8M314.9 650.2l8 8m0-8l-8 8M314.9 660.3l8 8m0-8l-8 8M314.9 946.8l8 8m0-8l-8 8M332.2 636.8l8 8m0-8l-8 8M332.2 939.8l8 8m0-8l-8 8M349.4 604.3l8 8m0-8l-8 8M349.4 622.8l8 8m0-8l-8 8M349.4 632.8l8 8m0-8l-8 8M349.4 642.0l8 8m0-8l-8 8M349.4 653.4l8 8m0-8l-8 8M349.4 665.8l8 8m0-8l-8 8M349.4 676.9l8 8m0-8l-8 8M349.4 687.0l8 8m0-8l-8 8M349.4 891.7l8 8m0-8l-8 8M349.4 904.0l8 8m0-8l-8 8M349.4 922.7l8 8m0-8l-8 8M349.4 932.9l8 8m0-8l-8 8M366.7 602.1l8 8m0-8l-8 8M366.7 612.9l8 8m0-8l-8 8M366.7 625.2l8 8m0-8l-8 8M366.7 638.4l8 8m0-8l-8 8M366.7 647.6l8 8m0-8l-8 8M366.7 864.1l8 8m0-8l-8 8M366.7 873.5l8 8m0-8l-8 8M366.7 885.6l8 8m0-8l-8 8M366.7 897.7l8 8m0-8l-8 8M366.7 906.7l8 8m0-8l-8 8M366.7 917.9l8 8m0-8l-8 8M366.7 927.9l8 8m0-8l-8 8M383.9 602.5l8 8m0-8l-8 8M383.9 612.4l8 8m0-8l-8 8M383.9 622.9l8 8m0-8l-8 8M383.9 632.4l8 8m0-8l-8 8M383.9 641.7l8 8m0-8l-8 8M383.9 651.9l8 8m0-8l-8 8M383.9 661.2l8 8m0-8l-8 8M383.9 673.5l8 8m0-8l-8 8M383.9 682.6l8 8m0-8l-8 8M383.9 693.8l8 8m0-8l-8 8M383.9 705.8l8 8m0-8l-8 8M383.9 718.9l8 8m0-8l-8 8M383.9 728.3l8 8m0-8l-8 8M383.9 737.7l8 8m0-8l-8 8M383.9 748.1l8 8m0-8l-8 8M383.9 760.0l8 8m0-8l-8 8M383.9 772.0l8 8m0-8l-8 8M383.9 782.7l8 8m0-8l-8 8M383.9 793.1l8 8m0-8l-8 8M383.9 806.9l8 8m0-8l-8 8M383.9 818.0l8 8m0-8l-8 8M383.9 827.5l8 8m0-8l-8 8M383.9 840.5l8 8m0-8l-8 8M383.9 850.3l8 8m0-8l-8 8M383.9 861.6l8 8m0-8l-8 8M383.9 871.1l8 8m0-8l-8 8M383.9 880.7l8 8m0-8l-8 8M383.9 891.3l8 8m0-8l-8 8M383.9 900.7l8 8m0-8l-8 8M383.9 912.7l8 8m0-8l-8 8M383.9 925.3l8 8m0-8l-8 8M383.9 935.3l8 8m0-8l-8 8M383.9 944.7l8 8m0-8l-8 8M401.2 603.9l8 8m0-8l-8 8M401.2 614.7l8 8m0-8l-8 8M401.2 624.2l8 8m0-8l-8 8M401.2 634.3l8 8m0-8l-8 8M401.2 643.6l8 8m0-8l-8 8M401.2 654.4l8 8m0-8l-8 8M401.2 665.5l8 8m0-8l-8 8M401.2 674.6l8 8m0-8l-8 8M401.2 686.2l8 8m0-8l-8 8M401.2 697.1l8 8m0-8l-8 8M401.2 706.1l8 8m0-8l-8 8M401.2 715.8l8 8m0-8l-8 8M401.2 726.6l8 8m0-8l-8 8M401.2 735.6l8 8m0-8l-8 8M401.2 745.9l8 8m0-8l-8 8M401.2 759.2l8 8m0-8l-8 8M401.2 775.1l8 8m0-8l-8 8M401.2 787.1l8 8m0-8l-8 8M401.2 804.2l8 8m0-8l-8 8M401.2 813.3l8 8m0-8l-8 8M401.2 822.5l8 8m0-8l-8 8M401.2 834.5l8 8m0-8l-8 8M401.2 847.1l8 8m0-8l-8 8M401.2 858.5l8 8m0-8l-8 8M401.2 870.7l8 8m0-8l-8 8M401.2 879.9l8 8m0-8l-8 8M401.2 890.0l8 8m0-8l-8 8M418.5 629.3l8 8m0-8l-8 8M418.5 644.7l8 8m0-8l-8 8M418.5 658.8l8 8m0-8l-8 8M418.5 692.1l8 8m0-8l-8 8M418.5 703.4l8 8m0-8l-8 8M418.5 712.8l8 8m0-8l-8 8M418.5 728.1l8 8m0-8l-8 8M418.5 752.5l8 8m0-8l-8 8M418.5 778.9l8 8m0-8l-8 8M418.5 796.2l8 8m0-8l-8 8M418.5 806.7l8 8m0-8l-8 8M418.5 818.3l8 8m0-8l-8 8M418.5 830.6l8 8m0-8l-8 8M418.5 843.5l8 8m0-8l-8 8M418.5 857.3l8 8m0-8l-8 8M418.5 869.3l8 8m0-8l-8 8M418.5 880.0l8 8m0-8l-8 8M435.8 620.5l8 8m0-8l-8 8M435.8 661.5l8 8m0-8l-8 8M435.8 719.4l8 8m0-8l-8 8M435.8 751.3l8 8m0-8l-8 8M435.8 776.2l8 8m0-8l-8 8M435.8 796.7l8 8m0-8l-8 8M435.8 810.6l8 8m0-8l-8 8M435.8 846.0l8 8m0-8l-8 8M435.8 864.9l8 8m0-8l-8 8M435.8 877.1l8 8m0-8l-8 8M435.8 894.1l8 8m0-8l-8 8"/><path stroke="#0d2161" d="M176.8 761.0l8 8m0-8l-8 8M194.0 744.8l8 8m0-8l-8 8M194.0 972.7l8 8m0-8l-8 8M228.6 695.7l8 8m0-8l-8 8M245.8 677.0l8 8m0-8l-8 8M263.1 665.3l8 8m0-8l-8 8M263.1 960.7l8 8m0-8l-8 8M280.4 668.2l8 8m0-8l-8 8M280.4 950.2l8 8m0-8l-8 8M297.6 654.5l8 8m0-8l-8 8M297.6 663.9l8 8m0-8l-8 8M314.9 672.1l8 8m0-8l-8 8M314.9 682.0l8 8m0-8l-8 8M332.2 650.4l8 8m0-8l-8 8M349.4 697.1l8 8m0-8l-8 8M349.4 707.7l8 8m0-8l-8 8M349.4 859.5l8 8m0-8l-8 8M349.4 868.7l8 8m0-8l-8 8M349.4 877.8l8 8m0-8l-8 8M366.7 662.6l8 8m0-8l-8 8M366.7 672.1l8 8m0-8l-8 8M366.7 682.1l8 8m0-8l-8 8M366.7 692.0l8 8m0-8l-8 8M366.7 705.0l8 8m0-8l-8 8M366.7 715.7l8 8m0-8l-8 8M366.7 726.0l8 8m0-8l-8 8M366.7 735.6l8 8m0-8l-8 8M366.7 745.8l8 8m0-8l-8 8M366.7 755.2l8 8m0-8l-8 8M366.7 767.9l8 8m0-8l-8 8M366.7 777.4l8 8m0-8l-8 8M366.7 787.0l8 8m0-8l-8 8M366.7 796.7l8 8m0-8l-8 8M366.7 810.9l8 8m0-8l-8 8M366.7 822.8l8 8m0-8l-8 8M366.7 832.1l8 8m0-8l-8 8M366.7 842.4l8 8m0-8l-8 8M366.7 854.8l8 8m0-8l-8 8"/><path stroke="#0e2265" d="M211.3 965.6l8 8m0-8l-8 8M263.1 679.8l8 8m0-8l-8 8M297.6 673.7l8 8m0-8l-8 8M297.6 942.9l8 8m0-8l-8 8M314.9 934.9l8 8m0-8l-8 8M332.2 666.3l8 8m0-8l-8 8M332.2 918.8l8 8m0-8l-8 8M332.2 928.4l8 8m0-8l-8 8M349.4 716.8l8 8m0-8l-8 8M349.4 726.5l8 8m0-8l-8 8M349.4 738.8l8 8m0-8l-8 8M349.4 748.5l8 8m0-8l-8 8M349.4 757.8l8 8m0-8l-8 8M349.4 770.1l8 8m0-8l-8 8M349.4 779.7l8 8m0-8l-8 8M349.4 791.3l8 8m0-8l-8 8M349.4 803.4l8 8m0-8l-8 8M349.4 813.8l8 8m0-8l-8 8M349.4 822.9l8 8m0-8l-8 8M349.4 833.8l8 8m0-8l-8 8M349.4 844.6l8 8m0-8l-8 8"/><path stroke="#11246b" d="M280.4 680.1l8 8m0-8l-8 8M297.6 683.5l8 8m0-8l-8 8M314.9 692.7l8 8m0-8l-8 8M314.9 922.9l8 8m0-8l-8 8M332.2 675.5l8 8m0-8l-8 8M332.2 904.3l8 8m0-8l-8 8"/><path stroke="#13266f" d="M314.9 704.1l8 8m0-8l-8 8M314.9 714.4l8 8m0-8l-8 8M314.9 900.8l8 8m0-8l-8 8M314.9 913.5l8 8m0-8l-8 8M332.2 685.9l8 8m0-8l-8 8M332.2 882.5l8 8m0-8l-8 8M332.2 894.8l8 8m0-8l-8 8"/><path stroke="#162874" d="M314.9 735.6l8 8m0-8l-8 8M314.9 746.9l8 8m0-8l-8 8M314.9 759.9l8 8m0-8l-8 8M314.9 875.4l8 8m0-8l-8 8M314.9 891.1l8 8m0-8l-8 8M332.2 698.2l8 8m0-8l-8 8M332.2 711.4l8 8m0-8l-8 8M332.2 723.6l8 8m0-8l-8 8M332.2 735.4l8 8m0-8l-8 8M332.2 756.7l8 8m0-8l-8 8M332.2 776.6l8 8m0-8l-8 8M332.2 812.8l8 8m0-8l-8 8M332.2 822.0l8 8m0-8l-8 8M332.2 839.6l8 8m0-8l-8 8M332.2 852.5l8 8m0-8l-8 8M332.2 867.1l8 8m0-8l-8 8"/><path stroke="#172978" d="M314.9 772.6l8 8m0-8l-8 8M314.9 787.1l8 8m0-8l-8 8M314.9 810.8l8 8m0-8l-8 8M314.9 847.7l8 8m0-8l-8 8"/><path stroke="#081d58" d="M90.4 992.2l8 8m0-8l-8 8M107.7 993.5l8 8m0-8l-8 8M125.0 811.6l8 8m0-8l-8 8M125.0 992.9l8 8m0-8l-8 8M176.8 737.1l8 8m0-8l-8 8M228.6 676.7l8 8m0-8l-8 8M332.2 614.7l8 8m0-8l-8 8M383.9 949.5l8 8m0-8l-8 8M435.8 902.1l8 8m0-8l-8 8M453.0 613.5l8 8m0-8l-8 8M453.0 719.3l8 8m0-8l-8 8M453.0 804.2l8 8m0-8l-8 8"/><path stroke="#0a1e5c" d="M90.4 840.6l8 8m0-8l-8 8M107.7 828.6l8 8m0-8l-8 8M125.0 822.2l8 8m0-8l-8 8M142.2 776.8l8 8m0-8l-8 8M142.2 987.2l8 8m0-8l-8 8M159.5 751.8l8 8m0-8l-8 8M159.5 987.3l8 8m0-8l-8 8M176.8 750.8l8 8m0-8l-8 8M194.0 734.1l8 8m0-8l-8 8M211.3 700.4l8 8m0-8l-8 8M211.3 714.7l8 8m0-8l-8 8M228.6 686.8l8 8m0-8l-8 8M228.6 969.0l8 8m0-8l-8 8M245.8 658.2l8 8m0-8l-8 8M245.8 667.7l8 8m0-8l-8 8M245.8 962.5l8 8m0-8l-8 8M263.1 655.6l8 8m0-8l-8 8M280.4 645.8l8 8m0-8l-8 8M280.4 656.0l8 8m0-8l-8 8M297.6 629.0l8 8m0-8l-8 8M297.6 645.0l8 8m0-8l-8 8M297.6 953.5l8 8m0-8l-8 8M314.9 610.2l8 8m0-8l-8 8M314.9 626.0l8 8m0-8l-8 8M314.9 639.4l8 8m0-8l-8 8M314.9 650.7l8 8m0-8l-8 8M314.9 660.7l8 8m0-8l-8 8M314.9 947.1l8 8m0-8l-8 8M332.2 641.2l8 8m0-8l-8 8M332.2 940.2l8 8m0-8l-8 8M349.4 604.4l8 8m0-8l-8 8M349.4 622.9l8 8m0-8l-8 8M349.4 632.9l8 8m0-8l-8 8M349.4 642.0l8 8m0-8l-8 8M349.4 653.4l8 8m0-8l-8 8M349.4 667.9l8 8m0-8l-8 8M349.4 677.4l8 8m0-8l-8 8M349.4 891.7l8 8m0-8l-8 8M349.4 904.3l8 8m0-8l-8 8M349.4 923.2l8 8m0-8l-8 8M349.4 933.2l8 8m0-8l-8 8M366.7 602.4l8 8m0-8l-8 8M366.7 613.0l8 8m0-8l-8 8M366.7 629.9l8 8m0-8l-8 8M366.7 643.9l8 8m0-8l-8 8M366.7 654.2l8 8m0-8l-8 8M366.7 865.0l8 8m0-8l-8 8M366.7 875.1l8 8m0-8l-8 8M366.7 886.0l8 8m0-8l-8 8M366.7 898.8l8 8m0-8l-8 8M366.7 908.8l8 8m0-8l-8 8M366.7 918.0l8 8m0-8l-8 8M366.7 928.2l8 8m0-8l-8 8M383.9 603.1l8 8m0-8l-8 8M383.9 614.4l8 8m0-8l-8 8M383.9 624.2l8 8m0-8l-8 8M383.9 633.7l8 8m0-8l-8 8M383.9 642.9l8 8m0-8l-8 8M383.9 652.3l8 8m0-8l-8 8M383.9 661.3l8 8m0-8l-8 8M383.9 675.1l8 8m0-8l-8 8M383.9 689.2l8 8m0-8l-8 8M383.9 708.6l8 8m0-8l-8 8M383.9 724.1l8 8m0-8l-8 8M383.9 738.2l8 8m0-8l-8 8M383.9 749.6l8 8m0-8l-8 8M383.9 760.3l8 8m0-8l-8 8M383.9 772.0l8 8m0-8l-8 8M383.9 782.9l8 8m0-8l-8 8M383.9 793.7l8 8m0-8l-8 8M383.9 807.1l8 8m0-8l-8 8M383.9 818.6l8 8m0-8l-8 8M383.9 828.5l8 8m0-8l-8 8M383.9 841.7l8 8m0-8l-8 8M383.9 850.8l8 8m0-8l-8 8M383.9 861.7l8 8m0-8l-8 8M383.9 871.3l8 8m0-8l-8 8M383.9 880.8l8 8m0-8l-8 8M383.9 892.8l8 8m0-8l-8 8M383.9 913.2l8 8m0-8l-8 8M383.9 928.6l8 8m0-8l-8 8M383.9 939.0l8 8m0-8l-8 8M401.2 604.3l8 8m0-8l-8 8M401.2 614.9l8 8m0-8l-8 8M401.2 624.4l8 8m0-8l-8 8M401.2 634.4l8 8m0-8l-8 8M401.2 643.6l8 8m0-8l-8 8M401.2 666.0l8 8m0-8l-8 8M401.2 679.8l8 8m0-8l-8 8M401.2 690.4l8 8m0-8l-8 8M401.2 700.6l8 8m0-8l-8 8M401.2 710.4l8 8m0-8l-8 8M401.2 722.8l8 8m0-8l-8 8M401.2 732.0l8 8m0-8l-8 8M401.2 747.8l8 8m0-8l-8 8M401.2 759.3l8 8m0-8l-8 8M401.2 775.3l8 8m0-8l-8 8M401.2 787.5l8 8m0-8l-8 8M401.2 804.7l8 8m0-8l-8 8M401.2 814.1l8 8m0-8l-8 8M401.2 828.3l8 8m0-8l-8 8M401.2 837.5l8 8m0-8l-8 8M401.2 848.5l8 8m0-8l-8 8M401.2 860.5l8 8m0-8l-8 8M401.2 873.9l8 8m0-8l-8 8M401.2 884.0l8 8m0-8l-8 8M401.2 897.1l8 8m0-8l-8 8M418.5 634.8l8 8m0-8l-8 8M418.5 647.4l8 8m0-8l-8 8M418.5 659.1l8 8m0-8l-8 8M418.5 704.8l8 8m0-8l-8 8M418.5 731.0l8 8m0-8l-8 8M418.5 778.9l8 8m0-8l-8 8M418.5 796.4l8 8m0-8l-8 8M418.5 807.1l8 8m0-8l-8 8M418.5 819.1l8 8m0-8l-8 8M418.5 831.9l8 8m0-8l-8 8M418.5 857.4l8 8m0-8l-8 8M418.5 869.9l8 8m0-8l-8 8M418.5 880.5l8 8m0-8l-8 8M435.8 751.4l8 8m0-8l-8 8M435.8 776.4l8 8m0-8l-8 8M435.8 798.6l8 8m0-8l-8 8M435.8 818.4l8 8m0-8l-8 8M435.8 851.6l8 8m0-8l-8 8M435.8 881.6l8 8m0-8l-8 8"/><path stroke="#0d2161" d="M90.4 854.5l8 8m0-8l-8 8M107.7 840.1l8 8m0-8l-8 8M142.2 786.5l8 8m0-8l-8 8M176.8 763.1l8 8m0-8l-8 8M194.0 972.8l8 8m0-8l-8 8M228.6 697.3l8 8m0-8l-8 8M245.8 677.1l8 8m0-8l-8 8M263.1 665.4l8 8m0-8l-8 8M263.1 960.9l8 8m0-8l-8 8M280.4 665.3l8 8m0-8l-8 8M280.4 950.5l8 8m0-8l-8 8M297.6 655.1l8 8m0-8l-8 8M314.9 672.7l8 8m0-8l-8 8M314.9 682.0l8 8m0-8l-8 8M332.2 653.0l8 8m0-8l-8 8M349.4 697.2l8 8m0-8l-8 8M349.4 708.9l8 8m0-8l-8 8M349.4 846.7l8 8m0-8l-8 8M349.4 861.0l8 8m0-8l-8 8M349.4 870.5l8 8m0-8l-8 8M349.4 881.2l8 8m0-8l-8 8M366.7 663.6l8 8m0-8l-8 8M366.7 675.6l8 8m0-8l-8 8M366.7 689.8l8 8m0-8l-8 8M366.7 700.3l8 8m0-8l-8 8M366.7 710.1l8 8m0-8l-8 8M366.7 719.4l8 8m0-8l-8 8M366.7 732.6l8 8m0-8l-8 8M366.7 741.8l8 8m0-8l-8 8M366.7 750.8l8 8m0-8l-8 8M366.7 761.2l8 8m0-8l-8 8M366.7 776.7l8 8m0-8l-8 8M366.7 787.1l8 8m0-8l-8 8M366.7 797.4l8 8m0-8l-8 8M366.7 811.1l8 8m0-8l-8 8M366.7 823.0l8 8m0-8l-8 8M366.7 834.1l8 8m0-8l-8 8M366.7 843.2l8 8m0-8l-8 8M366.7 855.1l8 8m0-8l-8 8"/><path stroke="#0e2265" d="M211.3 965.6l8 8m0-8l-8 8M263.1 680.1l8 8m0-8l-8 8M280.4 674.7l8 8m0-8l-8 8M297.6 665.8l8 8m0-8l-8 8M297.6 943.0l8 8m0-8l-8 8M314.9 935.1l8 8m0-8l-8 8M332.2 668.0l8 8m0-8l-8 8M332.2 919.1l8 8m0-8l-8 8M332.2 928.4l8 8m0-8l-8 8M349.4 719.4l8 8m0-8l-8 8M349.4 729.0l8 8m0-8l-8 8M349.4 739.3l8 8m0-8l-8 8M349.4 749.1l8 8m0-8l-8 8M349.4 758.3l8 8m0-8l-8 8M349.4 773.3l8 8m0-8l-8 8M349.4 784.5l8 8m0-8l-8 8M349.4 794.1l8 8m0-8l-8 8M349.4 803.8l8 8m0-8l-8 8M349.4 814.5l8 8m0-8l-8 8M349.4 823.7l8 8m0-8l-8 8M349.4 833.8l8 8m0-8l-8 8"/><path stroke="#11246b" d="M297.6 679.2l8 8m0-8l-8 8M314.9 693.1l8 8m0-8l-8 8M314.9 924.0l8 8m0-8l-8 8M332.2 905.0l8 8m0-8l-8 8"/><path stroke="#13266f" d="M314.9 706.3l8 8m0-8l-8 8M314.9 717.1l8 8m0-8l-8 8M314.9 914.3l8 8m0-8l-8 8M332.2 687.5l8 8m0-8l-8 8M332.2 884.3l8 8m0-8l-8 8M332.2 895.7l8 8m0-8l-8 8"/><path stroke="#162874" d="M314.9 738.4l8 8m0-8l-8 8M314.9 748.9l8 8m0-8l-8 8M314.9 760.1l8 8m0-8l-8 8M314.9 878.2l8 8m0-8l-8 8M314.9 897.9l8 8m0-8l-8 8M332.2 700.7l8 8m0-8l-8 8M332.2 717.1l8 8m0-8l-8 8M332.2 736.2l8 8m0-8l-8 8M332.2 777.0l8 8m0-8l-8 8M332.2 816.5l8 8m0-8l-8 8M332.2 843.0l8 8m0-8l-8 8M332.2 854.0l8 8m0-8l-8 8"/><path stroke="#172978" d="M314.9 773.2l8 8m0-8l-8 8M314.9 790.6l8 8m0-8l-8 8M314.9 848.3l8 8m0-8l-8 8"/><path stroke="#081d58" d="M90.4 992.8l8 8m0-8l-8 8M176.8 737.6l8 8m0-8l-8 8M228.6 676.9l8 8m0-8l-8 8M332.2 617.5l8 8m0-8l-8 8M453.0 806.6l8 8m0-8l-8 8"/><path stroke="#0a1e5c" d="M90.4 842.6l8 8m0-8l-8 8M107.7 828.7l8 8m0-8l-8 8M125.0 816.7l8 8m0-8l-8 8M142.2 778.3l8 8m0-8l-8 8M142.2 987.7l8 8m0-8l-8 8M159.5 756.1l8 8m0-8l-8 8M159.5 988.4l8 8m0-8l-8 8M176.8 751.2l8 8m0-8l-8 8M194.0 734.1l8 8m0-8l-8 8M211.3 702.1l8 8m0-8l-8 8M211.3 715.1l8 8m0-8l-8 8M228.6 688.9l8 8m0-8l-8 8M228.6 969.0l8 8m0-8l-8 8M245.8 658.9l8 8m0-8l-8 8M245.8 668.7l8 8m0-8l-8 8M245.8 963.5l8 8m0-8l-8 8M263.1 656.3l8 8m0-8l-8 8M263.1 961.5l8 8m0-8l-8 8M280.4 646.0l8 8m0-8l-8 8M280.4 656.5l8 8m0-8l-8 8M297.6 645.1l8 8m0-8l-8 8M297.6 954.0l8 8m0-8l-8 8M314.9 611.5l8 8m0-8l-8 8M314.9 628.0l8 8m0-8l-8 8M314.9 640.4l8 8m0-8l-8 8M314.9 651.3l8 8m0-8l-8 8M314.9 661.2l8 8m0-8l-8 8M314.9 947.6l8 8m0-8l-8 8M332.2 641.6l8 8m0-8l-8 8M332.2 940.2l8 8m0-8l-8 8M349.4 604.8l8 8m0-8l-8 8M349.4 625.0l8 8m0-8l-8 8M349.4 635.3l8 8m0-8l-8 8M349.4 645.3l8 8m0-8l-8 8M349.4 654.9l8 8m0-8l-8 8M349.4 668.1l8 8m0-8l-8 8M349.4 677.6l8 8m0-8l-8 8M349.4 892.4l8 8m0-8l-8 8M349.4 904.6l8 8m0-8l-8 8M349.4 926.0l8 8m0-8l-8 8M349.4 935.8l8 8m0-8l-8 8M366.7 605.4l8 8m0-8l-8 8M366.7 614.4l8 8m0-8l-8 8M366.7 630.2l8 8m0-8l-8 8M366.7 643.9l8 8m0-8l-8 8M366.7 654.2l8 8m0-8l-8 8M366.7 865.3l8 8m0-8l-8 8M366.7 875.8l8 8m0-8l-8 8M366.7 900.4l8 8m0-8l-8 8M366.7 909.6l8 8m0-8l-8 8M366.7 918.6l8 8m0-8l-8 8M383.9 603.3l8 8m0-8l-8 8M383.9 614.7l8 8m0-8l-8 8M383.9 624.3l8 8m0-8l-8 8M383.9 637.7l8 8m0-8l-8 8M383.9 651.9l8 8m0-8l-8 8M383.9 661.6l8 8m0-8l-8 8M383.9 676.1l8 8m0-8l-8 8M383.9 695.3l8 8m0-8l-8 8M383.9 711.7l8 8m0-8l-8 8M383.9 725.0l8 8m0-8l-8 8M383.9 738.4l8 8m0-8l-8 8M383.9 749.9l8 8m0-8l-8 8M383.9 760.4l8 8m0-8l-8 8M383.9 772.1l8 8m0-8l-8 8M383.9 783.7l8 8m0-8l-8 8M383.9 795.0l8 8m0-8l-8 8M383.9 807.2l8 8m0-8l-8 8M383.9 818.9l8 8m0-8l-8 8M383.9 829.1l8 8m0-8l-8 8M383.9 841.8l8 8m0-8l-8 8M383.9 861.8l8 8m0-8l-8 8M383.9 872.5l8 8m0-8l-8 8M383.9 881.8l8 8m0-8l-8 8M383.9 892.9l8 8m0-8l-8 8M383.9 913.4l8 8m0-8l-8 8M383.9 936.0l8 8m0-8l-8 8M383.9 946.6l8 8m0-8l-8 8M401.2 604.4l8 8m0-8l-8 8M401.2 615.9l8 8m0-8l-8 8M401.2 625.0l8 8m0-8l-8 8M401.2 634.4l8 8m0-8l-8 8M401.2 644.0l8 8m0-8l-8 8M401.2 669.5l8 8m0-8l-8 8M401.2 680.0l8 8m0-8l-8 8M401.2 690.5l8 8m0-8l-8 8M401.2 702.3l8 8m0-8l-8 8M401.2 712.0l8 8m0-8l-8 8M401.2 723.1l8 8m0-8l-8 8M401.2 732.4l8 8m0-8l-8 8M401.2 748.5l8 8m0-8l-8 8M401.2 763.9l8 8m0-8l-8 8M401.2 775.7l8 8m0-8l-8 8M401.2 790.9l8 8m0-8l-8 8M401.2 809.0l8 8m0-8l-8 8M401.2 820.5l8 8m0-8l-8 8M401.2 834.8l8 8m0-8l-8 8M401.2 850.3l8 8m0-8l-8 8M401.2 860.8l8 8m0-8l-8 8M401.2 874.5l8 8m0-8l-8 8M401.2 888.4l8 8m0-8l-8 8M418.5 650.9l8 8m0-8l-8 8M418.5 705.3l8 8m0-8l-8 8M418.5 731.4l8 8m0-8l-8 8M418.5 780.0l8 8m0-8l-8 8M418.5 796.4l8 8m0-8l-8 8M418.5 807.1l8 8m0-8l-8 8M418.5 820.3l8 8m0-8l-8 8M418.5 832.0l8 8m0-8l-8 8M418.5 857.6l8 8m0-8l-8 8M418.5 870.7l8 8m0-8l-8 8M418.5 880.6l8 8m0-8l-8 8M435.8 752.8l8 8m0-8l-8 8M435.8 777.1l8 8m0-8l-8 8M435.8 798.7l8 8m0-8l-8 8M435.8 818.9l8 8m0-8l-8 8"/><path stroke="#0d2161" d="M90.4 854.7l8 8m0-8l-8 8M107.7 840.8l8 8m0-8l-8 8M176.8 763.5l8 8m0-8l-8 8M194.0 973.5l8 8m0-8l-8 8M245.8 678.3l8 8m0-8l-8 8M263.1 665.7l8 8m0-8l-8 8M280.4 666.9l8 8m0-8l-8 8M280.4 950.7l8 8m0-8l-8 8M297.6 658.4l8 8m0-8l-8 8M297.6 944.6l8 8m0-8l-8 8M314.9 673.0l8 8m0-8l-8 8M314.9 682.4l8 8m0-8l-8 8M332.2 653.1l8 8m0-8l-8 8M349.4 697.7l8 8m0-8l-8 8M349.4 708.9l8 8m0-8l-8 8M349.4 848.2l8 8m0-8l-8 8M349.4 863.1l8 8m0-8l-8 8M349.4 873.2l8 8m0-8l-8 8M349.4 882.5l8 8m0-8l-8 8M366.7 663.8l8 8m0-8l-8 8M366.7 678.4l8 8m0-8l-8 8M366.7 689.9l8 8m0-8l-8 8M366.7 700.7l8 8m0-8l-8 8M366.7 710.2l8 8m0-8l-8 8M366.7 719.6l8 8m0-8l-8 8M366.7 735.6l8 8m0-8l-8 8M366.7 746.1l8 8m0-8l-8 8M366.7 757.8l8 8m0-8l-8 8M366.7 768.8l8 8m0-8l-8 8M366.7 778.0l8 8m0-8l-8 8M366.7 787.4l8 8m0-8l-8 8M366.7 798.5l8 8m0-8l-8 8M366.7 814.6l8 8m0-8l-8 8M366.7 823.6l8 8m0-8l-8 8M366.7 834.2l8 8m0-8l-8 8M366.7 843.7l8 8m0-8l-8 8M366.7 855.2l8 8m0-8l-8 8"/><path stroke="#0e2265" d="M125.0 827.8l8 8m0-8l-8 8M142.2 789.6l8 8m0-8l-8 8M211.3 966.1l8 8m0-8l-8 8M263.1 681.4l8 8m0-8l-8 8M280.4 676.3l8 8m0-8l-8 8M297.6 668.0l8 8m0-8l-8 8M314.9 935.6l8 8m0-8l-8 8M332.2 920.2l8 8m0-8l-8 8M332.2 929.5l8 8m0-8l-8 8M349.4 719.6l8 8m0-8l-8 8M349.4 729.5l8 8m0-8l-8 8M349.4 739.3l8 8m0-8l-8 8M349.4 749.9l8 8m0-8l-8 8M349.4 759.2l8 8m0-8l-8 8M349.4 774.8l8 8m0-8l-8 8M349.4 787.9l8 8m0-8l-8 8M349.4 797.5l8 8m0-8l-8 8M349.4 807.9l8 8m0-8l-8 8M349.4 818.5l8 8m0-8l-8 8M349.4 828.0l8 8m0-8l-8 8M349.4 837.3l8 8m0-8l-8 8"/><path stroke="#11246b" d="M297.6 679.4l8 8m0-8l-8 8M314.9 693.4l8 8m0-8l-8 8M314.9 915.1l8 8m0-8l-8 8M314.9 924.2l8 8m0-8l-8 8M332.2 672.7l8 8m0-8l-8 8M332.2 905.5l8 8m0-8l-8 8"/><path stroke="#13266f" d="M314.9 707.5l8 8m0-8l-8 8M314.9 717.1l8 8m0-8l-8 8M314.9 900.8l8 8m0-8l-8 8M332.2 689.5l8 8m0-8l-8 8M332.2 884.6l8 8m0-8l-8 8M332.2 895.7l8 8m0-8l-8 8"/><path stroke="#162874" d="M314.9 742.3l8 8m0-8l-8 8M314.9 763.9l8 8m0-8l-8 8M314.9 880.4l8 8m0-8l-8 8M332.2 738.1l8 8m0-8l-8 8M332.2 817.5l8 8m0-8l-8 8M332.2 843.0l8 8m0-8l-8 8M332.2 857.6l8 8m0-8l-8 8"/><path stroke="#172978" d="M314.9 792.3l8 8m0-8l-8 8M314.9 848.8l8 8m0-8l-8 8"/><path stroke="#081d58" d="M90.4 993.0l8 8m0-8l-8 8M142.2 988.0l8 8m0-8l-8 8M176.8 737.6l8 8m0-8l-8 8M332.2 617.7l8 8m0-8l-8 8M383.9 949.9l8 8m0-8l-8 8"/><path stroke="#0a1e5c" d="M90.4 842.7l8 8m0-8l-8 8M107.7 828.8l8 8m0-8l-8 8M125.0 816.9l8 8m0-8l-8 8M142.2 779.8l8 8m0-8l-8 8M159.5 756.4l8 8m0-8l-8 8M176.8 751.8l8 8m0-8l-8 8M194.0 734.4l8 8m0-8l-8 8M194.0 974.2l8 8m0-8l-8 8M211.3 702.6l8 8m0-8l-8 8M211.3 715.2l8 8m0-8l-8 8M228.6 681.5l8 8m0-8l-8 8M228.6 690.7l8 8m0-8l-8 8M228.6 969.4l8 8m0-8l-8 8M245.8 659.0l8 8m0-8l-8 8M245.8 668.8l8 8m0-8l-8 8M263.1 656.5l8 8m0-8l-8 8M263.1 961.5l8 8m0-8l-8 8M280.4 646.0l8 8m0-8l-8 8M280.4 656.5l8 8m0-8l-8 8M297.6 646.7l8 8m0-8l-8 8M297.6 954.5l8 8m0-8l-8 8M314.9 612.3l8 8m0-8l-8 8M314.9 628.2l8 8m0-8l-8 8M314.9 641.1l8 8m0-8l-8 8M314.9 651.5l8 8m0-8l-8 8M314.9 661.3l8 8m0-8l-8 8M314.9 947.7l8 8m0-8l-8 8M332.2 641.7l8 8m0-8l-8 8M332.2 941.8l8 8m0-8l-8 8M349.4 604.9l8 8m0-8l-8 8M349.4 626.8l8 8m0-8l-8 8M349.4 642.1l8 8m0-8l-8 8M349.4 654.2l8 8m0-8l-8 8M349.4 668.1l8 8m0-8l-8 8M349.4 680.6l8 8m0-8l-8 8M349.4 893.6l8 8m0-8l-8 8M349.4 906.1l8 8m0-8l-8 8M349.4 926.3l8 8m0-8l-8 8M349.4 936.8l8 8m0-8l-8 8M366.7 614.0l8 8m0-8l-8 8M366.7 631.3l8 8m0-8l-8 8M366.7 644.3l8 8m0-8l-8 8M366.7 866.1l8 8m0-8l-8 8M366.7 877.7l8 8m0-8l-8 8M366.7 901.9l8 8m0-8l-8 8M366.7 918.1l8 8m0-8l-8 8M383.9 603.7l8 8m0-8l-8 8M383.9 616.6l8 8m0-8l-8 8M383.9 625.9l8 8m0-8l-8 8M383.9 637.7l8 8m0-8l-8 8M383.9 652.9l8 8m0-8l-8 8M383.9 662.2l8 8m0-8l-8 8M383.9 677.2l8 8m0-8l-8 8M383.9 695.4l8 8m0-8l-8 8M383.9 711.8l8 8m0-8l-8 8M383.9 725.3l8 8m0-8l-8 8M383.9 738.7l8 8m0-8l-8 8M383.9 750.0l8 8m0-8l-8 8M383.9 760.6l8 8m0-8l-8 8M383.9 772.3l8 8m0-8l-8 8M383.9 787.4l8 8m0-8l-8 8M383.9 797.3l8 8m0-8l-8 8M383.9 807.9l8 8m0-8l-8 8M383.9 819.0l8 8m0-8l-8 8M383.9 829.5l8 8m0-8l-8 8M383.9 842.5l8 8m0-8l-8 8M383.9 862.0l8 8m0-8l-8 8M383.9 872.6l8 8m0-8l-8 8M383.9 881.9l8 8m0-8l-8 8M383.9 893.7l8 8m0-8l-8 8M383.9 913.8l8 8m0-8l-8 8M383.9 936.2l8 8m0-8l-8 8M401.2 604.5l8 8m0-8l-8 8M401.2 617.5l8 8m0-8l-8 8M401.2 630.4l8 8m0-8l-8 8M401.2 641.5l8 8m0-8l-8 8M401.2 651.1l8 8m0-8l-8 8M401.2 670.1l8 8m0-8l-8 8M401.2 681.3l8 8m0-8l-8 8M401.2 690.6l8 8m0-8l-8 8M401.2 712.3l8 8m0-8l-8 8M401.2 723.7l8 8m0-8l-8 8M401.2 736.4l8 8m0-8l-8 8M401.2 749.7l8 8m0-8l-8 8M401.2 764.0l8 8m0-8l-8 8M401.2 776.6l8 8m0-8l-8 8M401.2 791.2l8 8m0-8l-8 8M401.2 810.3l8 8m0-8l-8 8M401.2 822.5l8 8m0-8l-8 8M401.2 835.8l8 8m0-8l-8 8M401.2 861.2l8 8m0-8l-8 8M401.2 874.5l8 8m0-8l-8 8M418.5 712.3l8 8m0-8l-8 8M418.5 731.5l8 8m0-8l-8 8M418.5 785.3l8 8m0-8l-8 8M418.5 796.6l8 8m0-8l-8 8M418.5 807.2l8 8m0-8l-8 8M418.5 832.1l8 8m0-8l-8 8M418.5 858.2l8 8m0-8l-8 8M418.5 871.0l8 8m0-8l-8 8M418.5 886.0l8 8m0-8l-8 8M435.8 753.8l8 8m0-8l-8 8M435.8 778.4l8 8m0-8l-8 8"/><path stroke="#0d2161" d="M90.4 855.4l8 8m0-8l-8 8M107.7 842.2l8 8m0-8l-8 8M176.8 763.7l8 8m0-8l-8 8M245.8 680.8l8 8m0-8l-8 8M263.1 665.8l8 8m0-8l-8 8M280.4 668.3l8 8m0-8l-8 8M280.4 950.8l8 8m0-8l-8 8M297.6 660.5l8 8m0-8l-8 8M297.6 945.2l8 8m0-8l-8 8M314.9 673.2l8 8m0-8l-8 8M314.9 682.4l8 8m0-8l-8 8M332.2 653.2l8 8m0-8l-8 8M349.4 699.3l8 8m0-8l-8 8M349.4 710.5l8 8m0-8l-8 8M349.4 848.6l8 8m0-8l-8 8M349.4 864.3l8 8m0-8l-8 8M349.4 882.6l8 8m0-8l-8 8M366.7 662.6l8 8m0-8l-8 8M366.7 678.6l8 8m0-8l-8 8M366.7 690.4l8 8m0-8l-8 8M366.7 705.1l8 8m0-8l-8 8M366.7 715.9l8 8m0-8l-8 8M366.7 726.2l8 8m0-8l-8 8M366.7 738.8l8 8m0-8l-8 8M366.7 749.3l8 8m0-8l-8 8M366.7 759.0l8 8m0-8l-8 8M366.7 778.2l8 8m0-8l-8 8M366.7 787.4l8 8m0-8l-8 8M366.7 798.7l8 8m0-8l-8 8M366.7 815.2l8 8m0-8l-8 8M366.7 824.7l8 8m0-8l-8 8M366.7 834.9l8 8m0-8l-8 8M366.7 844.4l8 8m0-8l-8 8M366.7 857.1l8 8m0-8l-8 8"/><path stroke="#0e2265" d="M211.3 966.5l8 8m0-8l-8 8M263.1 681.7l8 8m0-8l-8 8M297.6 669.6l8 8m0-8l-8 8M314.9 935.7l8 8m0-8l-8 8M332.2 921.1l8 8m0-8l-8 8M332.2 930.2l8 8m0-8l-8 8M349.4 720.4l8 8m0-8l-8 8M349.4 729.9l8 8m0-8l-8 8M349.4 740.4l8 8m0-8l-8 8M349.4 750.2l8 8m0-8l-8 8M349.4 759.7l8 8m0-8l-8 8M349.4 775.0l8 8m0-8l-8 8M349.4 788.1l8 8m0-8l-8 8M349.4 798.6l8 8m0-8l-8 8M349.4 808.7l8 8m0-8l-8 8M349.4 822.6l8 8m0-8l-8 8M349.4 834.5l8 8m0-8l-8 8"/><path stroke="#11246b" d="M280.4 681.0l8 8m0-8l-8 8M297.6 679.7l8 8m0-8l-8 8M314.9 693.4l8 8m0-8l-8 8M314.9 915.2l8 8m0-8l-8 8M314.9 926.0l8 8m0-8l-8 8M332.2 673.0l8 8m0-8l-8 8M332.2 906.3l8 8m0-8l-8 8"/><path stroke="#13266f" d="M314.9 708.0l8 8m0-8l-8 8M314.9 718.3l8 8m0-8l-8 8M314.9 903.1l8 8m0-8l-8 8M332.2 689.8l8 8m0-8l-8 8M332.2 895.8l8 8m0-8l-8 8"/><path stroke="#162874" d="M314.9 743.4l8 8m0-8l-8 8M314.9 765.0l8 8m0-8l-8 8M314.9 880.7l8 8m0-8l-8 8M332.2 738.4l8 8m0-8l-8 8M332.2 818.5l8 8m0-8l-8 8M332.2 844.7l8 8m0-8l-8 8M332.2 860.5l8 8m0-8l-8 8"/><path stroke="#081d58" d="M90.4 994.1l8 8m0-8l-8 8M142.2 988.7l8 8m0-8l-8 8M332.2 618.1l8 8m0-8l-8 8"/><path stroke="#0a1e5c" d="M90.4 845.1l8 8m0-8l-8 8M107.7 829.1l8 8m0-8l-8 8M125.0 817.0l8 8m0-8l-8 8M142.2 783.8l8 8m0-8l-8 8M159.5 756.4l8 8m0-8l-8 8M176.8 751.8l8 8m0-8l-8 8M194.0 736.4l8 8m0-8l-8 8M194.0 974.2l8 8m0-8l-8 8M211.3 703.4l8 8m0-8l-8 8M211.3 715.8l8 8m0-8l-8 8M228.6 681.7l8 8m0-8l-8 8M228.6 969.9l8 8m0-8l-8 8M245.8 659.1l8 8m0-8l-8 8M245.8 669.1l8 8m0-8l-8 8M263.1 659.4l8 8m0-8l-8 8M263.1 961.6l8 8m0-8l-8 8M280.4 646.9l8 8m0-8l-8 8M280.4 656.5l8 8m0-8l-8 8M280.4 954.8l8 8m0-8l-8 8M297.6 647.0l8 8m0-8l-8 8M297.6 954.7l8 8m0-8l-8 8M314.9 629.5l8 8m0-8l-8 8M314.9 641.2l8 8m0-8l-8 8M314.9 651.5l8 8m0-8l-8 8M314.9 662.8l8 8m0-8l-8 8M314.9 948.0l8 8m0-8l-8 8M332.2 643.4l8 8m0-8l-8 8M332.2 944.5l8 8m0-8l-8 8M349.4 605.0l8 8m0-8l-8 8M349.4 629.1l8 8m0-8l-8 8M349.4 642.4l8 8m0-8l-8 8M349.4 655.4l8 8m0-8l-8 8M349.4 668.4l8 8m0-8l-8 8M349.4 680.8l8 8m0-8l-8 8M349.4 894.5l8 8m0-8l-8 8M349.4 907.0l8 8m0-8l-8 8M349.4 927.0l8 8m0-8l-8 8M349.4 939.7l8 8m0-8l-8 8M366.7 615.0l8 8m0-8l-8 8M366.7 638.6l8 8m0-8l-8 8M366.7 647.7l8 8m0-8l-8 8M366.7 866.8l8 8m0-8l-8 8M366.7 878.1l8 8m0-8l-8 8M366.7 902.1l8 8m0-8l-8 8M366.7 918.6l8 8m0-8l-8 8M383.9 603.7l8 8m0-8l-8 8M383.9 623.3l8 8m0-8l-8 8M383.9 642.0l8 8m0-8l-8 8M383.9 653.9l8 8m0-8l-8 8M383.9 663.1l8 8m0-8l-8 8M383.9 682.7l8 8m0-8l-8 8M383.9 696.1l8 8m0-8l-8 8M383.9 712.8l8 8m0-8l-8 8M383.9 727.2l8 8m0-8l-8 8M383.9 739.9l8 8m0-8l-8 8M383.9 750.1l8 8m0-8l-8 8M383.9 761.4l8 8m0-8l-8 8M383.9 772.6l8 8m0-8l-8 8M383.9 787.9l8 8m0-8l-8 8M383.9 798.4l8 8m0-8l-8 8M383.9 808.0l8 8m0-8l-8 8M383.9 819.1l8 8m0-8l-8 8M383.9 830.0l8 8m0-8l-8 8M383.9 849.5l8 8m0-8l-8 8M383.9 862.1l8 8m0-8l-8 8M383.9 874.1l8 8m0-8l-8 8M383.9 883.7l8 8m0-8l-8 8M383.9 897.8l8 8m0-8l-8 8M383.9 914.3l8 8m0-8l-8 8M383.9 937.1l8 8m0-8l-8 8M401.2 604.6l8 8m0-8l-8 8M401.2 617.6l8 8m0-8l-8 8M401.2 634.8l8 8m0-8l-8 8M401.2 644.4l8 8m0-8l-8 8M401.2 670.2l8 8m0-8l-8 8M401.2 681.9l8 8m0-8l-8 8M401.2 691.0l8 8m0-8l-8 8M401.2 713.8l8 8m0-8l-8 8M401.2 727.9l8 8m0-8l-8 8M401.2 749.9l8 8m0-8l-8 8M401.2 764.1l8 8m0-8l-8 8M401.2 776.7l8 8m0-8l-8 8M401.2 791.5l8 8m0-8l-8 8M401.2 811.0l8 8m0-8l-8 8M401.2 828.3l8 8m0-8l-8 8M401.2 837.7l8 8m0-8l-8 8M401.2 862.9l8 8m0-8l-8 8M401.2 876.0l8 8m0-8l-8 8M418.5 797.4l8 8m0-8l-8 8M418.5 807.9l8 8m0-8l-8 8M418.5 832.7l8 8m0-8l-8 8M418.5 858.5l8 8m0-8l-8 8M418.5 874.1l8 8m0-8l-8 8M418.5 887.8l8 8m0-8l-8 8"/><path stroke="#0d2161" d="M107.7 842.2l8 8m0-8l-8 8M228.6 697.8l8 8m0-8l-8 8M263.1 669.2l8 8m0-8l-8 8M280.4 668.5l8 8m0-8l-8 8M297.6 660.8l8 8m0-8l-8 8M332.2 653.9l8 8m0-8l-8 8M349.4 699.7l8 8m0-8l-8 8M349.4 711.0l8 8m0-8l-8 8M349.4 851.5l8 8m0-8l-8 8M349.4 865.2l8 8m0-8l-8 8M349.4 883.2l8 8m0-8l-8 8M366.7 665.5l8 8m0-8l-8 8M366.7 678.8l8 8m0-8l-8 8M366.7 692.1l8 8m0-8l-8 8M366.7 705.3l8 8m0-8l-8 8M366.7 718.4l8 8m0-8l-8 8M366.7 738.9l8 8m0-8l-8 8M366.7 749.3l8 8m0-8l-8 8M366.7 761.3l8 8m0-8l-8 8M366.7 779.0l8 8m0-8l-8 8M366.7 788.2l8 8m0-8l-8 8M366.7 800.8l8 8m0-8l-8 8M366.7 815.3l8 8m0-8l-8 8M366.7 825.0l8 8m0-8l-8 8M366.7 835.8l8 8m0-8l-8 8M366.7 845.5l8 8m0-8l-8 8M366.7 857.1l8 8m0-8l-8 8"/><path stroke="#0e2265" d="M90.4 856.6l8 8m0-8l-8 8M176.8 765.6l8 8m0-8l-8 8M211.3 966.9l8 8m0-8l-8 8M245.8 683.0l8 8m0-8l-8 8M263.1 684.7l8 8m0-8l-8 8M297.6 670.0l8 8m0-8l-8 8M314.9 683.3l8 8m0-8l-8 8M314.9 936.6l8 8m0-8l-8 8M332.2 921.2l8 8m0-8l-8 8M332.2 931.6l8 8m0-8l-8 8M349.4 723.0l8 8m0-8l-8 8M349.4 732.7l8 8m0-8l-8 8M349.4 742.9l8 8m0-8l-8 8M349.4 752.5l8 8m0-8l-8 8M349.4 763.5l8 8m0-8l-8 8M349.4 776.4l8 8m0-8l-8 8M349.4 788.1l8 8m0-8l-8 8M349.4 798.8l8 8m0-8l-8 8M349.4 808.9l8 8m0-8l-8 8M349.4 823.2l8 8m0-8l-8 8M349.4 834.6l8 8m0-8l-8 8"/><path stroke="#11246b" d="M297.6 680.4l8 8m0-8l-8 8M314.9 923.0l8 8m0-8l-8 8M332.2 676.2l8 8m0-8l-8 8M332.2 906.4l8 8m0-8l-8 8"/><path stroke="#13266f" d="M314.9 708.4l8 8m0-8l-8 8M314.9 718.3l8 8m0-8l-8 8M332.2 896.4l8 8m0-8l-8 8"/><path stroke="#162874" d="M314.9 743.4l8 8m0-8l-8 8M314.9 880.9l8 8m0-8l-8 8M332.2 739.0l8 8m0-8l-8 8M332.2 818.8l8 8m0-8l-8 8"/><path stroke="#081d58" d="M297.6 958.3l8 8m0-8l-8 8"/><path stroke="#0a1e5c" d="M90.4 845.1l8 8m0-8l-8 8M107.7 830.4l8 8m0-8l-8 8M125.0 817.6l8 8m0-8l-8 8M159.5 756.9l8 8m0-8l-8 8M176.8 753.3l8 8m0-8l-8 8M194.0 736.4l8 8m0-8l-8 8M194.0 977.5l8 8m0-8l-8 8M211.3 703.6l8 8m0-8l-8 8M211.3 716.4l8 8m0-8l-8 8M228.6 682.0l8 8m0-8l-8 8M228.6 970.5l8 8m0-8l-8 8M245.8 660.0l8 8m0-8l-8 8M245.8 669.4l8 8m0-8l-8 8M263.1 659.6l8 8m0-8l-8 8M280.4 647.1l8 8m0-8l-8 8M280.4 656.9l8 8m0-8l-8 8M314.9 629.8l8 8m0-8l-8 8M314.9 641.5l8 8m0-8l-8 8M314.9 652.4l8 8m0-8l-8 8M314.9 663.0l8 8m0-8l-8 8M314.9 949.3l8 8m0-8l-8 8M332.2 643.8l8 8m0-8l-8 8M332.2 946.4l8 8m0-8l-8 8M349.4 609.9l8 8m0-8l-8 8M349.4 629.4l8 8m0-8l-8 8M349.4 645.6l8 8m0-8l-8 8M349.4 655.5l8 8m0-8l-8 8M349.4 668.4l8 8m0-8l-8 8M349.4 684.8l8 8m0-8l-8 8M349.4 894.8l8 8m0-8l-8 8M349.4 907.1l8 8m0-8l-8 8M349.4 929.5l8 8m0-8l-8 8M366.7 615.2l8 8m0-8l-8 8M366.7 644.4l8 8m0-8l-8 8M366.7 868.4l8 8m0-8l-8 8M366.7 906.5l8 8m0-8l-8 8M366.7 919.6l8 8m0-8l-8 8M383.9 604.9l8 8m0-8l-8 8M383.9 625.0l8 8m0-8l-8 8M383.9 642.3l8 8m0-8l-8 8M383.9 653.9l8 8m0-8l-8 8M383.9 663.6l8 8m0-8l-8 8M383.9 696.3l8 8m0-8l-8 8M383.9 712.9l8 8m0-8l-8 8M383.9 727.9l8 8m0-8l-8 8M383.9 740.6l8 8m0-8l-8 8M383.9 750.3l8 8m0-8l-8 8M383.9 762.0l8 8m0-8l-8 8M383.9 776.2l8 8m0-8l-8 8M383.9 788.0l8 8m0-8l-8 8M383.9 798.7l8 8m0-8l-8 8M383.9 808.1l8 8m0-8l-8 8M383.9 819.7l8 8m0-8l-8 8M383.9 830.9l8 8m0-8l-8 8M383.9 862.5l8 8m0-8l-8 8M383.9 876.3l8 8m0-8l-8 8M383.9 885.9l8 8m0-8l-8 8M383.9 898.2l8 8m0-8l-8 8M383.9 914.8l8 8m0-8l-8 8M383.9 937.3l8 8m0-8l-8 8M401.2 605.4l8 8m0-8l-8 8M401.2 618.8l8 8m0-8l-8 8M401.2 634.9l8 8m0-8l-8 8M401.2 644.9l8 8m0-8l-8 8M401.2 671.5l8 8m0-8l-8 8M401.2 682.0l8 8m0-8l-8 8M401.2 691.3l8 8m0-8l-8 8M401.2 716.8l8 8m0-8l-8 8M401.2 728.5l8 8m0-8l-8 8M401.2 750.2l8 8m0-8l-8 8M401.2 764.3l8 8m0-8l-8 8M401.2 779.2l8 8m0-8l-8 8M401.2 792.9l8 8m0-8l-8 8M401.2 812.7l8 8m0-8l-8 8M401.2 836.9l8 8m0-8l-8 8M401.2 863.8l8 8m0-8l-8 8M401.2 877.1l8 8m0-8l-8 8M418.5 798.3l8 8m0-8l-8 8M418.5 808.1l8 8m0-8l-8 8M418.5 832.8l8 8m0-8l-8 8M418.5 859.5l8 8m0-8l-8 8"/><path stroke="#0d2161" d="M107.7 842.7l8 8m0-8l-8 8M142.2 784.1l8 8m0-8l-8 8M211.3 968.0l8 8m0-8l-8 8M263.1 669.3l8 8m0-8l-8 8M280.4 668.7l8 8m0-8l-8 8M297.6 648.3l8 8m0-8l-8 8M297.6 661.1l8 8m0-8l-8 8M332.2 654.4l8 8m0-8l-8 8M349.4 699.7l8 8m0-8l-8 8M349.4 852.1l8 8m0-8l-8 8M349.4 866.9l8 8m0-8l-8 8M349.4 883.3l8 8m0-8l-8 8M366.7 667.2l8 8m0-8l-8 8M366.7 679.8l8 8m0-8l-8 8M366.7 692.6l8 8m0-8l-8 8M366.7 705.5l8 8m0-8l-8 8M366.7 718.6l8 8m0-8l-8 8M366.7 739.4l8 8m0-8l-8 8M366.7 751.9l8 8m0-8l-8 8M366.7 761.4l8 8m0-8l-8 8M366.7 779.2l8 8m0-8l-8 8M366.7 788.9l8 8m0-8l-8 8M366.7 801.3l8 8m0-8l-8 8M366.7 815.4l8 8m0-8l-8 8M366.7 825.7l8 8m0-8l-8 8M366.7 839.6l8 8m0-8l-8 8M366.7 858.6l8 8m0-8l-8 8"/><path stroke="#0e2265" d="M90.4 858.1l8 8m0-8l-8 8M263.1 685.0l8 8m0-8l-8 8M297.6 670.2l8 8m0-8l-8 8M314.9 683.5l8 8m0-8l-8 8M314.9 937.4l8 8m0-8l-8 8M332.2 922.2l8 8m0-8l-8 8M332.2 931.6l8 8m0-8l-8 8M349.4 716.2l8 8m0-8l-8 8M349.4 725.3l8 8m0-8l-8 8M349.4 743.0l8 8m0-8l-8 8M349.4 752.9l8 8m0-8l-8 8M349.4 763.6l8 8m0-8l-8 8M349.4 777.5l8 8m0-8l-8 8M349.4 788.3l8 8m0-8l-8 8M349.4 804.1l8 8m0-8l-8 8M349.4 814.7l8 8m0-8l-8 8M349.4 823.9l8 8m0-8l-8 8M349.4 837.0l8 8m0-8l-8 8"/><path stroke="#11246b" d="M297.6 680.6l8 8m0-8l-8 8M314.9 924.1l8 8m0-8l-8 8M332.2 906.5l8 8m0-8l-8 8"/><path stroke="#13266f" d="M314.9 710.7l8 8m0-8l-8 8M332.2 897.1l8 8m0-8l-8 8"/><path stroke="#162874" d="M314.9 743.5l8 8m0-8l-8 8M332.2 739.1l8 8m0-8l-8 8M332.2 818.9l8 8m0-8l-8 8"/><path stroke="#081d58" d="M228.6 973.0l8 8m0-8l-8 8M297.6 958.5l8 8m0-8l-8 8"/><path stroke="#0a1e5c" d="M90.4 845.6l8 8m0-8l-8 8M107.7 831.2l8 8m0-8l-8 8M125.0 818.7l8 8m0-8l-8 8M159.5 757.9l8 8m0-8l-8 8M194.0 736.5l8 8m0-8l-8 8M211.3 705.8l8 8m0-8l-8 8M211.3 716.7l8 8m0-8l-8 8M228.6 682.2l8 8m0-8l-8 8M245.8 660.0l8 8m0-8l-8 8M245.8 670.5l8 8m0-8l-8 8M263.1 662.8l8 8m0-8l-8 8M280.4 653.6l8 8m0-8l-8 8M314.9 645.2l8 8m0-8l-8 8M314.9 658.7l8 8m0-8l-8 8M314.9 950.3l8 8m0-8l-8 8M332.2 644.7l8 8m0-8l-8 8M332.2 947.5l8 8m0-8l-8 8M349.4 611.0l8 8m0-8l-8 8M349.4 629.7l8 8m0-8l-8 8M349.4 656.3l8 8m0-8l-8 8M349.4 668.7l8 8m0-8l-8 8M349.4 884.2l8 8m0-8l-8 8M349.4 895.0l8 8m0-8l-8 8M349.4 908.9l8 8m0-8l-8 8M349.4 933.3l8 8m0-8l-8 8M366.7 615.4l8 8m0-8l-8 8M366.7 646.0l8 8m0-8l-8 8M366.7 868.6l8 8m0-8l-8 8M366.7 909.3l8 8m0-8l-8 8M366.7 921.5l8 8m0-8l-8 8M383.9 605.0l8 8m0-8l-8 8M383.9 625.3l8 8m0-8l-8 8M383.9 642.6l8 8m0-8l-8 8M383.9 653.9l8 8m0-8l-8 8M383.9 663.9l8 8m0-8l-8 8M383.9 713.3l8 8m0-8l-8 8M383.9 729.2l8 8m0-8l-8 8M383.9 740.8l8 8m0-8l-8 8M383.9 762.1l8 8m0-8l-8 8M383.9 776.2l8 8m0-8l-8 8M383.9 788.9l8 8m0-8l-8 8M383.9 799.0l8 8m0-8l-8 8M383.9 808.2l8 8m0-8l-8 8M383.9 819.7l8 8m0-8l-8 8M383.9 831.5l8 8m0-8l-8 8M383.9 863.0l8 8m0-8l-8 8M383.9 876.7l8 8m0-8l-8 8M383.9 886.2l8 8m0-8l-8 8M383.9 899.4l8 8m0-8l-8 8M383.9 937.4l8 8m0-8l-8 8M401.2 605.7l8 8m0-8l-8 8M401.2 619.0l8 8m0-8l-8 8M401.2 635.5l8 8m0-8l-8 8M401.2 645.3l8 8m0-8l-8 8M401.2 671.9l8 8m0-8l-8 8M401.2 682.4l8 8m0-8l-8 8M401.2 692.4l8 8m0-8l-8 8M401.2 716.9l8 8m0-8l-8 8M401.2 728.6l8 8m0-8l-8 8M401.2 752.3l8 8m0-8l-8 8M401.2 780.4l8 8m0-8l-8 8M401.2 793.7l8 8m0-8l-8 8M401.2 814.7l8 8m0-8l-8 8M401.2 838.0l8 8m0-8l-8 8M401.2 864.6l8 8m0-8l-8 8M401.2 879.9l8 8m0-8l-8 8M418.5 798.3l8 8m0-8l-8 8M418.5 808.3l8 8m0-8l-8 8M418.5 835.6l8 8m0-8l-8 8M418.5 860.5l8 8m0-8l-8 8"/><path stroke="#0d2161" d="M107.7 842.9l8 8m0-8l-8 8M142.2 784.7l8 8m0-8l-8 8M211.3 968.0l8 8m0-8l-8 8M263.1 674.0l8 8m0-8l-8 8M280.4 664.0l8 8m0-8l-8 8M297.6 648.5l8 8m0-8l-8 8M297.6 661.1l8 8m0-8l-8 8M314.9 668.0l8 8m0-8l-8 8M332.2 654.6l8 8m0-8l-8 8M349.4 699.9l8 8m0-8l-8 8M349.4 870.6l8 8m0-8l-8 8M366.7 667.8l8 8m0-8l-8 8M366.7 680.2l8 8m0-8l-8 8M366.7 693.1l8 8m0-8l-8 8M366.7 705.9l8 8m0-8l-8 8M366.7 720.0l8 8m0-8l-8 8M366.7 739.6l8 8m0-8l-8 8M366.7 752.3l8 8m0-8l-8 8M366.7 763.3l8 8m0-8l-8 8M366.7 780.0l8 8m0-8l-8 8M366.7 789.1l8 8m0-8l-8 8M366.7 801.5l8 8m0-8l-8 8M366.7 815.5l8 8m0-8l-8 8M366.7 830.5l8 8m0-8l-8 8M366.7 840.2l8 8m0-8l-8 8M366.7 858.8l8 8m0-8l-8 8"/><path stroke="#0e2265" d="M263.1 685.0l8 8m0-8l-8 8M280.4 674.9l8 8m0-8l-8 8M297.6 673.7l8 8m0-8l-8 8M314.9 683.6l8 8m0-8l-8 8M314.9 937.6l8 8m0-8l-8 8M332.2 924.1l8 8m0-8l-8 8M349.4 716.9l8 8m0-8l-8 8M349.4 728.2l8 8m0-8l-8 8M349.4 747.2l8 8m0-8l-8 8M349.4 756.2l8 8m0-8l-8 8M349.4 778.1l8 8m0-8l-8 8M349.4 788.4l8 8m0-8l-8 8M349.4 809.9l8 8m0-8l-8 8M349.4 823.9l8 8m0-8l-8 8M349.4 837.4l8 8m0-8l-8 8"/><path stroke="#11246b" d="M314.9 926.3l8 8m0-8l-8 8M332.2 909.4l8 8m0-8l-8 8"/><path stroke="#13266f" d="M297.6 685.0l8 8m0-8l-8 8M332.2 899.1l8 8m0-8l-8 8"/><path stroke="#162874" d="M314.9 749.1l8 8m0-8l-8 8M332.2 739.7l8 8m0-8l-8 8M332.2 819.4l8 8m0-8l-8 8"/><path stroke="#0a1e5c" d="M90.4 846.1l8 8m0-8l-8 8M107.7 831.3l8 8m0-8l-8 8M125.0 819.9l8 8m0-8l-8 8M159.5 757.9l8 8m0-8l-8 8M194.0 737.0l8 8m0-8l-8 8M211.3 706.1l8 8m0-8l-8 8M211.3 716.8l8 8m0-8l-8 8M228.6 683.0l8 8m0-8l-8 8M245.8 660.2l8 8m0-8l-8 8M245.8 672.0l8 8m0-8l-8 8M280.4 659.1l8 8m0-8l-8 8M314.9 645.4l8 8m0-8l-8 8M314.9 659.1l8 8m0-8l-8 8M332.2 644.9l8 8m0-8l-8 8M349.4 611.3l8 8m0-8l-8 8M349.4 632.9l8 8m0-8l-8 8M349.4 657.0l8 8m0-8l-8 8M349.4 672.0l8 8m0-8l-8 8M349.4 884.2l8 8m0-8l-8 8M349.4 895.5l8 8m0-8l-8 8M349.4 909.2l8 8m0-8l-8 8M349.4 933.8l8 8m0-8l-8 8M366.7 615.5l8 8m0-8l-8 8M366.7 646.0l8 8m0-8l-8 8M366.7 872.2l8 8m0-8l-8 8M366.7 910.5l8 8m0-8l-8 8M366.7 921.6l8 8m0-8l-8 8M383.9 605.0l8 8m0-8l-8 8M383.9 625.5l8 8m0-8l-8 8M383.9 642.7l8 8m0-8l-8 8M383.9 658.9l8 8m0-8l-8 8M383.9 713.6l8 8m0-8l-8 8M383.9 729.5l8 8m0-8l-8 8M383.9 742.2l8 8m0-8l-8 8M383.9 762.8l8 8m0-8l-8 8M383.9 777.2l8 8m0-8l-8 8M383.9 789.0l8 8m0-8l-8 8M383.9 799.5l8 8m0-8l-8 8M383.9 808.8l8 8m0-8l-8 8M383.9 820.5l8 8m0-8l-8 8M383.9 831.6l8 8m0-8l-8 8M383.9 863.5l8 8m0-8l-8 8M383.9 876.8l8 8m0-8l-8 8M383.9 886.8l8 8m0-8l-8 8M383.9 899.5l8 8m0-8l-8 8M401.2 605.8l8 8m0-8l-8 8M401.2 619.9l8 8m0-8l-8 8M401.2 635.5l8 8m0-8l-8 8M401.2 646.0l8 8m0-8l-8 8M401.2 674.1l8 8m0-8l-8 8M401.2 686.5l8 8m0-8l-8 8M401.2 728.9l8 8m0-8l-8 8M401.2 753.2l8 8m0-8l-8 8M401.2 815.3l8 8m0-8l-8 8M401.2 838.9l8 8m0-8l-8 8M401.2 864.7l8 8m0-8l-8 8M401.2 880.7l8 8m0-8l-8 8M418.5 804.6l8 8m0-8l-8 8"/><path stroke="#0d2161" d="M142.2 787.0l8 8m0-8l-8 8M211.3 968.3l8 8m0-8l-8 8M263.1 665.8l8 8m0-8l-8 8M280.4 668.8l8 8m0-8l-8 8M297.6 649.1l8 8m0-8l-8 8M297.6 662.4l8 8m0-8l-8 8M314.9 668.3l8 8m0-8l-8 8M332.2 654.7l8 8m0-8l-8 8M349.4 700.1l8 8m0-8l-8 8M366.7 668.0l8 8m0-8l-8 8M366.7 680.3l8 8m0-8l-8 8M366.7 693.1l8 8m0-8l-8 8M366.7 706.1l8 8m0-8l-8 8M366.7 720.1l8 8m0-8l-8 8M366.7 740.0l8 8m0-8l-8 8M366.7 758.2l8 8m0-8l-8 8M366.7 780.5l8 8m0-8l-8 8M366.7 789.6l8 8m0-8l-8 8M366.7 803.7l8 8m0-8l-8 8M366.7 816.5l8 8m0-8l-8 8M366.7 830.8l8 8m0-8l-8 8M366.7 842.4l8 8m0-8l-8 8M366.7 859.0l8 8m0-8l-8 8"/><path stroke="#0e2265" d="M263.1 685.8l8 8m0-8l-8 8M297.6 674.1l8 8m0-8l-8 8M314.9 690.3l8 8m0-8l-8 8M314.9 938.2l8 8m0-8l-8 8M332.2 924.3l8 8m0-8l-8 8M349.4 717.5l8 8m0-8l-8 8M349.4 730.2l8 8m0-8l-8 8M349.4 750.3l8 8m0-8l-8 8M349.4 759.8l8 8m0-8l-8 8M349.4 778.3l8 8m0-8l-8 8M349.4 793.1l8 8m0-8l-8 8M349.4 809.9l8 8m0-8l-8 8M349.4 825.3l8 8m0-8l-8 8M349.4 838.0l8 8m0-8l-8 8"/><path stroke="#11246b" d="M314.9 926.4l8 8m0-8l-8 8M332.2 909.6l8 8m0-8l-8 8"/><path stroke="#13266f" d="M297.6 685.2l8 8m0-8l-8 8M332.2 899.2l8 8m0-8l-8 8"/><path stroke="#162874" d="M314.9 749.3l8 8m0-8l-8 8M332.2 740.4l8 8m0-8l-8 8M332.2 822.1l8 8m0-8l-8 8"/><path stroke="#0a1e5c" d="M90.4 846.1l8 8m0-8l-8 8M107.7 832.0l8 8m0-8l-8 8M125.0 820.2l8 8m0-8l-8 8M159.5 758.8l8 8m0-8l-8 8M194.0 737.2l8 8m0-8l-8 8M211.3 706.5l8 8m0-8l-8 8M211.3 717.9l8 8m0-8l-8 8M228.6 685.2l8 8m0-8l-8 8M245.8 660.7l8 8m0-8l-8 8M245.8 672.9l8 8m0-8l-8 8M280.4 659.4l8 8m0-8l-8 8M314.9 663.6l8 8m0-8l-8 8M349.4 611.7l8 8m0-8l-8 8M349.4 657.3l8 8m0-8l-8 8M349.4 672.0l8 8m0-8l-8 8M349.4 886.1l8 8m0-8l-8 8M349.4 897.5l8 8m0-8l-8 8M349.4 910.4l8 8m0-8l-8 8M349.4 934.0l8 8m0-8l-8 8M366.7 647.8l8 8m0-8l-8 8M366.7 910.7l8 8m0-8l-8 8M383.9 605.6l8 8m0-8l-8 8M383.9 625.5l8 8m0-8l-8 8M383.9 643.1l8 8m0-8l-8 8M383.9 662.6l8 8m0-8l-8 8M383.9 729.5l8 8m0-8l-8 8M383.9 742.7l8 8m0-8l-8 8M383.9 763.1l8 8m0-8l-8 8M383.9 777.5l8 8m0-8l-8 8M383.9 791.7l8 8m0-8l-8 8M383.9 808.5l8 8m0-8l-8 8M383.9 821.5l8 8m0-8l-8 8M383.9 833.1l8 8m0-8l-8 8M383.9 864.4l8 8m0-8l-8 8M383.9 881.0l8 8m0-8l-8 8M383.9 900.0l8 8m0-8l-8 8M401.2 606.1l8 8m0-8l-8 8M401.2 620.0l8 8m0-8l-8 8M401.2 635.6l8 8m0-8l-8 8M401.2 648.4l8 8m0-8l-8 8M401.2 674.3l8 8m0-8l-8 8M401.2 686.5l8 8m0-8l-8 8M401.2 728.9l8 8m0-8l-8 8M401.2 753.4l8 8m0-8l-8 8M401.2 815.7l8 8m0-8l-8 8M401.2 842.8l8 8m0-8l-8 8M401.2 865.1l8 8m0-8l-8 8M401.2 880.7l8 8m0-8l-8 8"/><path stroke="#0d2161" d="M142.2 787.0l8 8m0-8l-8 8M211.3 968.5l8 8m0-8l-8 8M263.1 666.0l8 8m0-8l-8 8M280.4 668.9l8 8m0-8l-8 8M297.6 649.2l8 8m0-8l-8 8M297.6 662.4l8 8m0-8l-8 8M332.2 654.7l8 8m0-8l-8 8M349.4 701.7l8 8m0-8l-8 8M366.7 668.2l8 8m0-8l-8 8M366.7 680.4l8 8m0-8l-8 8M366.7 694.9l8 8m0-8l-8 8M366.7 707.4l8 8m0-8l-8 8M366.7 722.6l8 8m0-8l-8 8M366.7 740.8l8 8m0-8l-8 8M366.7 763.3l8 8m0-8l-8 8M366.7 782.5l8 8m0-8l-8 8M366.7 791.6l8 8m0-8l-8 8M366.7 804.7l8 8m0-8l-8 8M366.7 816.7l8 8m0-8l-8 8M366.7 845.7l8 8m0-8l-8 8M366.7 859.4l8 8m0-8l-8 8"/><path stroke="#0e2265" d="M263.1 686.2l8 8m0-8l-8 8M314.9 690.3l8 8m0-8l-8 8M314.9 938.8l8 8m0-8l-8 8M332.2 928.6l8 8m0-8l-8 8M349.4 717.7l8 8m0-8l-8 8M349.4 730.8l8 8m0-8l-8 8M349.4 750.4l8 8m0-8l-8 8M349.4 763.9l8 8m0-8l-8 8M349.4 778.6l8 8m0-8l-8 8M349.4 794.2l8 8m0-8l-8 8M349.4 828.2l8 8m0-8l-8 8M349.4 838.5l8 8m0-8l-8 8"/><path stroke="#11246b" d="M314.9 926.7l8 8m0-8l-8 8M332.2 909.7l8 8m0-8l-8 8"/><path stroke="#13266f" d="M297.6 686.3l8 8m0-8l-8 8M332.2 899.4l8 8m0-8l-8 8"/><path stroke="#162874" d="M314.9 749.7l8 8m0-8l-8 8M332.2 822.3l8 8m0-8l-8 8"/><path stroke="#0a1e5c" d="M90.4 847.5l8 8m0-8l-8 8M107.7 832.4l8 8m0-8l-8 8M159.5 759.2l8 8m0-8l-8 8M194.0 738.2l8 8m0-8l-8 8M228.6 689.3l8 8m0-8l-8 8M245.8 662.2l8 8m0-8l-8 8M245.8 673.5l8 8m0-8l-8 8M349.4 612.0l8 8m0-8l-8 8M349.4 658.3l8 8m0-8l-8 8M349.4 674.4l8 8m0-8l-8 8M366.7 649.8l8 8m0-8l-8 8M366.7 910.7l8 8m0-8l-8 8M383.9 605.9l8 8m0-8l-8 8M383.9 627.4l8 8m0-8l-8 8M383.9 643.2l8 8m0-8l-8 8M383.9 664.0l8 8m0-8l-8 8M383.9 729.6l8 8m0-8l-8 8M383.9 742.9l8 8m0-8l-8 8M383.9 765.0l8 8m0-8l-8 8M383.9 777.5l8 8m0-8l-8 8M383.9 799.9l8 8m0-8l-8 8M383.9 809.5l8 8m0-8l-8 8M383.9 826.8l8 8m0-8l-8 8M383.9 864.8l8 8m0-8l-8 8M383.9 882.2l8 8m0-8l-8 8M383.9 900.3l8 8m0-8l-8 8M401.2 607.6l8 8m0-8l-8 8M401.2 620.0l8 8m0-8l-8 8M401.2 637.0l8 8m0-8l-8 8M401.2 650.4l8 8m0-8l-8 8M401.2 674.4l8 8m0-8l-8 8M401.2 690.7l8 8m0-8l-8 8M401.2 729.1l8 8m0-8l-8 8M401.2 753.8l8 8m0-8l-8 8M401.2 816.7l8 8m0-8l-8 8M401.2 843.1l8 8m0-8l-8 8M401.2 866.1l8 8m0-8l-8 8M401.2 880.7l8 8m0-8l-8 8"/><path stroke="#0d2161" d="M125.0 823.3l8 8m0-8l-8 8M211.3 720.1l8 8m0-8l-8 8M211.3 968.8l8 8m0-8l-8 8M263.1 666.3l8 8m0-8l-8 8M280.4 665.3l8 8m0-8l-8 8M297.6 649.5l8 8m0-8l-8 8M297.6 663.1l8 8m0-8l-8 8M314.9 666.9l8 8m0-8l-8 8M332.2 655.0l8 8m0-8l-8 8M349.4 702.0l8 8m0-8l-8 8M366.7 668.4l8 8m0-8l-8 8M366.7 682.7l8 8m0-8l-8 8M366.7 710.7l8 8m0-8l-8 8M366.7 722.9l8 8m0-8l-8 8M366.7 742.5l8 8m0-8l-8 8M366.7 789.3l8 8m0-8l-8 8M366.7 823.9l8 8m0-8l-8 8M366.7 846.9l8 8m0-8l-8 8M366.7 860.1l8 8m0-8l-8 8"/><path stroke="#0e2265" d="M280.4 675.5l8 8m0-8l-8 8M314.9 690.5l8 8m0-8l-8 8M314.9 939.2l8 8m0-8l-8 8M332.2 929.5l8 8m0-8l-8 8M349.4 723.0l8 8m0-8l-8 8M349.4 732.8l8 8m0-8l-8 8M349.4 750.5l8 8m0-8l-8 8M349.4 780.3l8 8m0-8l-8 8M349.4 794.4l8 8m0-8l-8 8M349.4 828.6l8 8m0-8l-8 8M349.4 839.6l8 8m0-8l-8 8"/><path stroke="#11246b" d="M314.9 926.9l8 8m0-8l-8 8"/><path stroke="#13266f" d="M297.6 687.3l8 8m0-8l-8 8M332.2 899.9l8 8m0-8l-8 8"/><path stroke="#162874" d="M332.2 823.3l8 8m0-8l-8 8"/><path stroke="#0a1e5c" d="M90.4 848.0l8 8m0-8l-8 8M107.7 836.3l8 8m0-8l-8 8M211.3 970.3l8 8m0-8l-8 8M228.6 689.6l8 8m0-8l-8 8M245.8 662.7l8 8m0-8l-8 8M349.4 658.4l8 8m0-8l-8 8M366.7 650.1l8 8m0-8l-8 8M383.9 605.9l8 8m0-8l-8 8M383.9 627.4l8 8m0-8l-8 8M383.9 643.4l8 8m0-8l-8 8M383.9 664.2l8 8m0-8l-8 8M383.9 743.6l8 8m0-8l-8 8M383.9 767.6l8 8m0-8l-8 8M383.9 777.6l8 8m0-8l-8 8M383.9 800.2l8 8m0-8l-8 8M383.9 810.7l8 8m0-8l-8 8M383.9 869.0l8 8m0-8l-8 8M383.9 882.3l8 8m0-8l-8 8M383.9 900.8l8 8m0-8l-8 8M401.2 607.8l8 8m0-8l-8 8M401.2 623.7l8 8m0-8l-8 8M401.2 692.9l8 8m0-8l-8 8M401.2 731.5l8 8m0-8l-8 8M401.2 880.8l8 8m0-8l-8 8"/><path stroke="#0d2161" d="M125.0 824.9l8 8m0-8l-8 8M211.3 720.2l8 8m0-8l-8 8M245.8 675.0l8 8m0-8l-8 8M263.1 667.5l8 8m0-8l-8 8M280.4 668.9l8 8m0-8l-8 8M297.6 649.6l8 8m0-8l-8 8M297.6 663.4l8 8m0-8l-8 8M314.9 667.6l8 8m0-8l-8 8M332.2 655.1l8 8m0-8l-8 8M349.4 702.4l8 8m0-8l-8 8M366.7 668.6l8 8m0-8l-8 8M366.7 710.8l8 8m0-8l-8 8M366.7 723.2l8 8m0-8l-8 8M366.7 743.6l8 8m0-8l-8 8M366.7 790.0l8 8m0-8l-8 8M366.7 846.9l8 8m0-8l-8 8M366.7 860.2l8 8m0-8l-8 8"/><path stroke="#0e2265" d="M314.9 690.7l8 8m0-8l-8 8M314.9 939.2l8 8m0-8l-8 8M332.2 929.7l8 8m0-8l-8 8M349.4 724.2l8 8m0-8l-8 8M349.4 733.9l8 8m0-8l-8 8M349.4 751.3l8 8m0-8l-8 8M349.4 780.5l8 8m0-8l-8 8M349.4 795.3l8 8m0-8l-8 8M349.4 829.2l8 8m0-8l-8 8M349.4 839.8l8 8m0-8l-8 8"/><path stroke="#11246b" d="M314.9 927.2l8 8m0-8l-8 8"/><path stroke="#13266f" d="M332.2 899.9l8 8m0-8l-8 8"/><path stroke="#162874" d="M332.2 823.3l8 8m0-8l-8 8"/><path stroke="#0a1e5c" d="M90.4 848.2l8 8m0-8l-8 8M107.7 836.5l8 8m0-8l-8 8M211.3 970.7l8 8m0-8l-8 8M228.6 690.2l8 8m0-8l-8 8M245.8 662.8l8 8m0-8l-8 8M349.4 659.1l8 8m0-8l-8 8M366.7 650.2l8 8m0-8l-8 8M366.7 865.5l8 8m0-8l-8 8M383.9 606.1l8 8m0-8l-8 8M383.9 664.5l8 8m0-8l-8 8M383.9 777.7l8 8m0-8l-8 8M383.9 810.9l8 8m0-8l-8 8M383.9 870.3l8 8m0-8l-8 8M383.9 883.0l8 8m0-8l-8 8M383.9 901.5l8 8m0-8l-8 8M401.2 608.0l8 8m0-8l-8 8M401.2 625.1l8 8m0-8l-8 8M401.2 692.9l8 8m0-8l-8 8M401.2 732.1l8 8m0-8l-8 8M401.2 881.8l8 8m0-8l-8 8"/><path stroke="#0d2161" d="M211.3 720.4l8 8m0-8l-8 8M245.8 677.6l8 8m0-8l-8 8M263.1 667.7l8 8m0-8l-8 8M280.4 669.9l8 8m0-8l-8 8M314.9 667.6l8 8m0-8l-8 8M314.9 942.7l8 8m0-8l-8 8M332.2 656.5l8 8m0-8l-8 8M349.4 704.8l8 8m0-8l-8 8M366.7 668.6l8 8m0-8l-8 8M366.7 712.3l8 8m0-8l-8 8M366.7 723.2l8 8m0-8l-8 8M366.7 743.6l8 8m0-8l-8 8M366.7 790.7l8 8m0-8l-8 8M366.7 846.9l8 8m0-8l-8 8"/><path stroke="#0e2265" d="M297.6 664.1l8 8m0-8l-8 8M314.9 690.9l8 8m0-8l-8 8M332.2 932.0l8 8m0-8l-8 8M349.4 724.2l8 8m0-8l-8 8M349.4 733.9l8 8m0-8l-8 8M349.4 753.8l8 8m0-8l-8 8M349.4 781.1l8 8m0-8l-8 8M349.4 795.4l8 8m0-8l-8 8M349.4 829.4l8 8m0-8l-8 8M349.4 839.9l8 8m0-8l-8 8"/><path stroke="#11246b" d="M314.9 928.0l8 8m0-8l-8 8"/><path stroke="#0a1e5c" d="M211.3 971.0l8 8m0-8l-8 8M245.8 663.1l8 8m0-8l-8 8M349.4 659.1l8 8m0-8l-8 8M366.7 650.3l8 8m0-8l-8 8M366.7 865.8l8 8m0-8l-8 8M383.9 606.3l8 8m0-8l-8 8M383.9 777.8l8 8m0-8l-8 8M383.9 883.9l8 8m0-8l-8 8M383.9 901.5l8 8m0-8l-8 8M401.2 608.1l8 8m0-8l-8 8M401.2 693.6l8 8m0-8l-8 8M401.2 736.6l8 8m0-8l-8 8M401.2 882.1l8 8m0-8l-8 8"/><path stroke="#0d2161" d="M211.3 721.4l8 8m0-8l-8 8M263.1 667.7l8 8m0-8l-8 8M280.4 670.0l8 8m0-8l-8 8M314.9 668.7l8 8m0-8l-8 8M332.2 657.0l8 8m0-8l-8 8M349.4 705.6l8 8m0-8l-8 8M366.7 671.0l8 8m0-8l-8 8M366.7 712.7l8 8m0-8l-8 8M366.7 723.2l8 8m0-8l-8 8M366.7 746.6l8 8m0-8l-8 8M366.7 791.4l8 8m0-8l-8 8M366.7 847.1l8 8m0-8l-8 8"/><path stroke="#0e2265" d="M297.6 666.9l8 8m0-8l-8 8M349.4 754.3l8 8m0-8l-8 8M349.4 796.1l8 8m0-8l-8 8"/><path stroke="#11246b" d="M314.9 928.2l8 8m0-8l-8 8"/><path stroke="#0a1e5c" d="M211.3 971.4l8 8m0-8l-8 8M245.8 666.0l8 8m0-8l-8 8M349.4 659.3l8 8m0-8l-8 8M366.7 650.4l8 8m0-8l-8 8M383.9 606.9l8 8m0-8l-8 8M383.9 778.3l8 8m0-8l-8 8M383.9 884.3l8 8m0-8l-8 8M401.2 608.4l8 8m0-8l-8 8M401.2 693.7l8 8m0-8l-8 8M401.2 736.7l8 8m0-8l-8 8"/><path stroke="#0d2161" d="M263.1 669.4l8 8m0-8l-8 8M280.4 670.9l8 8m0-8l-8 8M332.2 658.1l8 8m0-8l-8 8M349.4 705.9l8 8m0-8l-8 8M366.7 723.2l8 8m0-8l-8 8M366.7 747.1l8 8m0-8l-8 8M366.7 791.7l8 8m0-8l-8 8M366.7 847.5l8 8m0-8l-8 8"/><path stroke="#0e2265" d="M297.6 666.9l8 8m0-8l-8 8M349.4 757.4l8 8m0-8l-8 8"/><path stroke="#11246b" d="M314.9 928.6l8 8m0-8l-8 8"/><path stroke="#0a1e5c" d="M211.3 971.5l8 8m0-8l-8 8M245.8 667.9l8 8m0-8l-8 8M349.4 661.3l8 8m0-8l-8 8M366.7 652.8l8 8m0-8l-8 8M383.9 607.3l8 8m0-8l-8 8M383.9 887.5l8 8m0-8l-8 8M401.2 610.7l8 8m0-8l-8 8M401.2 693.8l8 8m0-8l-8 8"/><path stroke="#0d2161" d="M263.1 669.7l8 8m0-8l-8 8M280.4 671.0l8 8m0-8l-8 8M332.2 658.1l8 8m0-8l-8 8M366.7 723.2l8 8m0-8l-8 8M366.7 747.2l8 8m0-8l-8 8M366.7 792.3l8 8m0-8l-8 8"/><path stroke="#0e2265" d="M297.6 668.8l8 8m0-8l-8 8M349.4 758.4l8 8m0-8l-8 8"/><path stroke="#0a1e5c" d="M366.7 652.9l8 8m0-8l-8 8M383.9 608.4l8 8m0-8l-8 8M401.2 695.0l8 8m0-8l-8 8"/><path stroke="#0d2161" d="M280.4 671.9l8 8m0-8l-8 8M366.7 723.5l8 8m0-8l-8 8M366.7 747.3l8 8m0-8l-8 8M366.7 792.4l8 8m0-8l-8 8"/><path stroke="#0e2265" d="M297.6 669.0l8 8m0-8l-8 8M349.4 758.4l8 8m0-8l-8 8"/><path stroke="#0a1e5c" d="M383.9 608.7l8 8m0-8l-8 8M401.2 695.1l8 8m0-8l-8 8"/><path stroke="#0d2161" d="M366.7 793.9l8 8m0-8l-8 8"/><path stroke="#0e2265" d="M280.4 672.3l8 8m0-8l-8 8M297.6 669.3l8 8m0-8l-8 8"/><path stroke="#0a1e5c" d="M383.9 609.1l8 8m0-8l-8 8"/><path stroke="#0e2265" d="M297.6 669.3l8 8m0-8l-8 8"/><path stroke="#0e2265" d="M297.6 670.0l8 8m0-8l-8 8"/></g></g>
<path d="M59.9 601.5V1013.2M128.96 601.5V1013.2M198.03 601.5V1013.2M267.09 601.5V1013.2M336.16 601.5V1013.2M405.22 601.5V1013.2M474.28 601.5V1013.2M543.35 601.5V1013.2M59.9 993.1H543.4M59.9 944.15H543.4M59.9 895.2H543.4M59.9 846.25H543.4M59.9 797.3H543.4M59.9 748.35H543.4M59.9 699.4H543.4M59.9 650.45H543.4M59.9 601.5H543.4M59.9 1013.2H543.4" stroke="#b0b0b0" stroke-width="1.1" fill="none"/>
<path d="M59.9 601.5V1013.2M543.4 601.5V1013.2" stroke="#1a1a1a" stroke-width="1.1" fill="none"/>
<path d="M59.9 1013.2H543.4" stroke="#8a8a8a" stroke-width="1.1" fill="none"/>
<text transform="matrix(1 0 0 1.13 60.7 1032.8)" text-anchor="middle" font-size="16.7">4</text>
<text transform="matrix(1 0 0 1.13 129.76 1032.8)" text-anchor="middle" font-size="16.7">6</text>
<text transform="matrix(1 0 0 1.13 198.83 1032.8)" text-anchor="middle" font-size="16.7">8</text>
<text transform="matrix(1 0 0 1.13 267.89 1032.8)" text-anchor="middle" font-size="16.7">10</text>
<text transform="matrix(1 0 0 1.13 336.96 1032.8)" text-anchor="middle" font-size="16.7">12</text>
<text transform="matrix(1 0 0 1.13 406.02 1032.8)" text-anchor="middle" font-size="16.7">14</text>
<text transform="matrix(1 0 0 1.13 475.08 1032.8)" text-anchor="middle" font-size="16.7">16</text>
<text transform="matrix(1 0 0 1.13 544.15 1032.8)" text-anchor="middle" font-size="16.7">18</text>
<text transform="matrix(1 0 0 1.13 52.4 999.1)" text-anchor="end" font-size="16.7">50</text>
<text transform="matrix(1 0 0 1.13 52.4 950.15)" text-anchor="end" font-size="16.7">75</text>
<text transform="matrix(1 0 0 1.13 52.4 901.2)" text-anchor="end" font-size="16.7">100</text>
<text transform="matrix(1 0 0 1.13 52.4 852.25)" text-anchor="end" font-size="16.7">125</text>
<text transform="matrix(1 0 0 1.13 52.4 803.3)" text-anchor="end" font-size="16.7">150</text>
<text transform="matrix(1 0 0 1.13 52.4 754.35)" text-anchor="end" font-size="16.7">175</text>
<text transform="matrix(1 0 0 1.13 52.4 705.4)" text-anchor="end" font-size="16.7">200</text>
<text transform="matrix(1 0 0 1.13 52.4 656.45)" text-anchor="end" font-size="16.7">225</text>
<text transform="matrix(1 0 0 1.13 52.4 607.5)" text-anchor="end" font-size="16.7">250</text>
<path d="M59.9 1013.2v4.9M128.96 1013.2v4.9M198.03 1013.2v4.9M267.09 1013.2v4.9M336.16 1013.2v4.9M405.22 1013.2v4.9M474.28 1013.2v4.9M543.35 1013.2v4.9M59.9 993.1h-4.9M59.9 944.15h-4.9M59.9 895.2h-4.9M59.9 846.25h-4.9M59.9 797.3h-4.9M59.9 748.35h-4.9M59.9 699.4h-4.9M59.9 650.45h-4.9M59.9 601.5h-4.9" stroke="#1a1a1a" stroke-width="1.1" fill="none"/>
<text x="302.2" y="1052.1" text-anchor="middle" font-size="16.7" fill="#000" >Duration of MCSs [h]</text>
<rect x="64.6" y="614.1" width="25.4" height="24.9" rx="3.5" fill="#dce6f2"/>
<text transform="matrix(1 0 0 1.1 78.3 631.2)" text-anchor="middle" font-size="17.5" fill="#0d3aa0" font-weight="bold">B.</text>
<g transform="translate(16.6 847.6) rotate(-90)"><path d="M1.2 -6.2L5.6 3.6" stroke="#000" stroke-width="1.9" fill="none" stroke-linecap="butt"/><path d="M5.6 3.6L14.6 -16.1H47.8" stroke="#000" stroke-width="0.9" fill="none"/><text x="14.6" y="0" font-size="16.7">A</text><text x="26.2" y="2.6" font-size="12" font-style="italic">max</text><text x="52.6" y="0" font-size="16.7">[<tspan font-style="italic">km</tspan>]</text></g>
<rect x="563.5" y="601.6" width="1" height="10.8" fill="#586690" stroke="#d6d6d6" stroke-width="0.8"/>
<rect x="563.5" y="612.4" width="1.9" height="18.5" fill="#5a6793" stroke="#d6d6d6" stroke-width="0.8"/>
<rect x="563.5" y="630.9" width="2.4" height="18.4" fill="#5a6894" stroke="#d6d6d6" stroke-width="0.8"/>
<rect x="563.5" y="649.3" width="3.1" height="18.4" fill="#5b6895" stroke="#d6d6d6" stroke-width="0.8"/>
<rect x="563.5" y="667.7" width="4" height="18.5" fill="#5c6998" stroke="#d6d6d6" stroke-width="0.8"/>
<rect x="563.5" y="686.2" width="6.1" height="18.5" fill="#5f6c9e" stroke="#d6d6d6" stroke-width="0.8"/>
<rect x="563.5" y="704.7" width="6.8" height="18.8" fill="#606da1" stroke="#d6d6d6" stroke-width="0.8"/>
<rect x="563.5" y="723.5" width="9.5" height="18.8" fill="#6470a8" stroke="#d6d6d6" stroke-width="0.8"/>
<rect x="563.5" y="742.3" width="11.3" height="18.5" fill="#6772ad" stroke="#d6d6d6" stroke-width="0.8"/>
<rect x="563.5" y="760.8" width="17" height="18.4" fill="#6a7ab8" stroke="#d6d6d6" stroke-width="0.8"/>
<rect x="563.5" y="779.2" width="19.9" height="18.5" fill="#6a80bb" stroke="#d6d6d6" stroke-width="0.8"/>
<rect x="563.5" y="797.7" width="26.9" height="18.9" fill="#698dc2" stroke="#d6d6d6" stroke-width="0.8"/>
<rect x="563.5" y="816.6" width="35.4" height="18.2" fill="#67a1cb" stroke="#d6d6d6" stroke-width="0.8"/>
<rect x="563.5" y="834.8" width="46.5" height="18.6" fill="#6bbad5" stroke="#d6d6d6" stroke-width="0.8"/>
<rect x="563.5" y="853.4" width="60.4" height="18.4" fill="#85d0d6" stroke="#d6d6d6" stroke-width="0.8"/>
<rect x="563.5" y="871.8" width="78.1" height="18.4" fill="#bde5cf" stroke="#d6d6d6" stroke-width="0.8"/>
<rect x="563.5" y="890.2" width="98.4" height="18.7" fill="#eff9ca" stroke="#d6d6d6" stroke-width="0.8"/>
<rect x="563.5" y="908.9" width="114.2" height="18.6" fill="#feffe3" stroke="#d6d6d6" stroke-width="0.8"/>
<rect x="563.5" y="927.5" width="115.4" height="18.7" fill="#ffffe5" stroke="#d6d6d6" stroke-width="0.8"/>
<rect x="563.5" y="946.2" width="76.2" height="18.6" fill="#b7e3cf" stroke="#d6d6d6" stroke-width="0.8"/>
<rect x="563.5" y="964.8" width="26.9" height="18.2" fill="#698dc2" stroke="#d6d6d6" stroke-width="0.8"/>
<rect x="563.5" y="983" width="2.4" height="18.1" fill="#5a6894" stroke="#d6d6d6" stroke-width="0.8"/>
<path d="M563.5 601.5V1013.2" stroke="#1a1a1a" stroke-width="1.1" fill="none"/>
<path d="M563.5 1013.2H685" stroke="#8a8a8a" stroke-width="1.1" fill="none"/>
<path d="M563.5 1013.2v4.9M638.7 1013.2v4.9" stroke="#1a1a1a" stroke-width="1.1" fill="none"/>
<text transform="matrix(1 0 0 1.13 564.3 1032.8)" text-anchor="middle" font-size="16.7">0</text>
<text transform="matrix(1 0 0 1.13 639.5 1032.8)" text-anchor="middle" font-size="16.7">5000</text>
<linearGradient id="cbg" x1="0" x2="1" y1="0" y2="0"><stop offset="0.000" stop-color="#081d58"/><stop offset="0.050" stop-color="#13266f"/><stop offset="0.100" stop-color="#1f2f87"/><stop offset="0.150" stop-color="#243c98"/><stop offset="0.200" stop-color="#234da0"/><stop offset="0.250" stop-color="#225ea8"/><stop offset="0.300" stop-color="#2072b1"/><stop offset="0.350" stop-color="#1e86bb"/><stop offset="0.400" stop-color="#2498c1"/><stop offset="0.450" stop-color="#33a7c2"/><stop offset="0.500" stop-color="#42b6c4"/><stop offset="0.550" stop-color="#59bfc0"/><stop offset="0.600" stop-color="#73c8bd"/><stop offset="0.650" stop-color="#8ed3ba"/><stop offset="0.700" stop-color="#abdeb7"/><stop offset="0.750" stop-color="#c8e9b4"/><stop offset="0.800" stop-color="#d6efb3"/><stop offset="0.850" stop-color="#e6f5b2"/><stop offset="0.900" stop-color="#f1faba"/><stop offset="0.950" stop-color="#f8fcca"/><stop offset="1.000" stop-color="#ffffd9"/></linearGradient>
<rect x="81.6" y="1095.5" width="428" height="4.2" fill="url(#cbg)" stroke="#1a1a1a" stroke-width="1.1"/>
<text transform="matrix(1 0 0 1.13 146.15 1119.7)" text-anchor="middle" font-size="16.7">1000</text>
<text transform="matrix(1 0 0 1.13 209.9 1119.7)" text-anchor="middle" font-size="16.7">2000</text>
<text transform="matrix(1 0 0 1.13 273.65 1119.7)" text-anchor="middle" font-size="16.7">3000</text>
<text transform="matrix(1 0 0 1.13 337.4 1119.7)" text-anchor="middle" font-size="16.7">4000</text>
<text transform="matrix(1 0 0 1.13 401.15 1119.7)" text-anchor="middle" font-size="16.7">5000</text>
<text transform="matrix(1 0 0 1.13 464.9 1119.7)" text-anchor="middle" font-size="16.7">6000</text>
<path d="M145.35 1099.7v3.6750000000000003M209.1 1099.7v3.6750000000000003M272.85 1099.7v3.6750000000000003M336.6 1099.7v3.6750000000000003M400.35 1099.7v3.6750000000000003M464.1 1099.7v3.6750000000000003" stroke="#1a1a1a" stroke-width="1.1" fill="none"/>
<text x="246.6" y="1141.7" font-size="16.7">Density [10<tspan font-size="12" dy="-6.5">−3</tspan><tspan dy="6.5">]</tspan></text>
</svg></body></html>
